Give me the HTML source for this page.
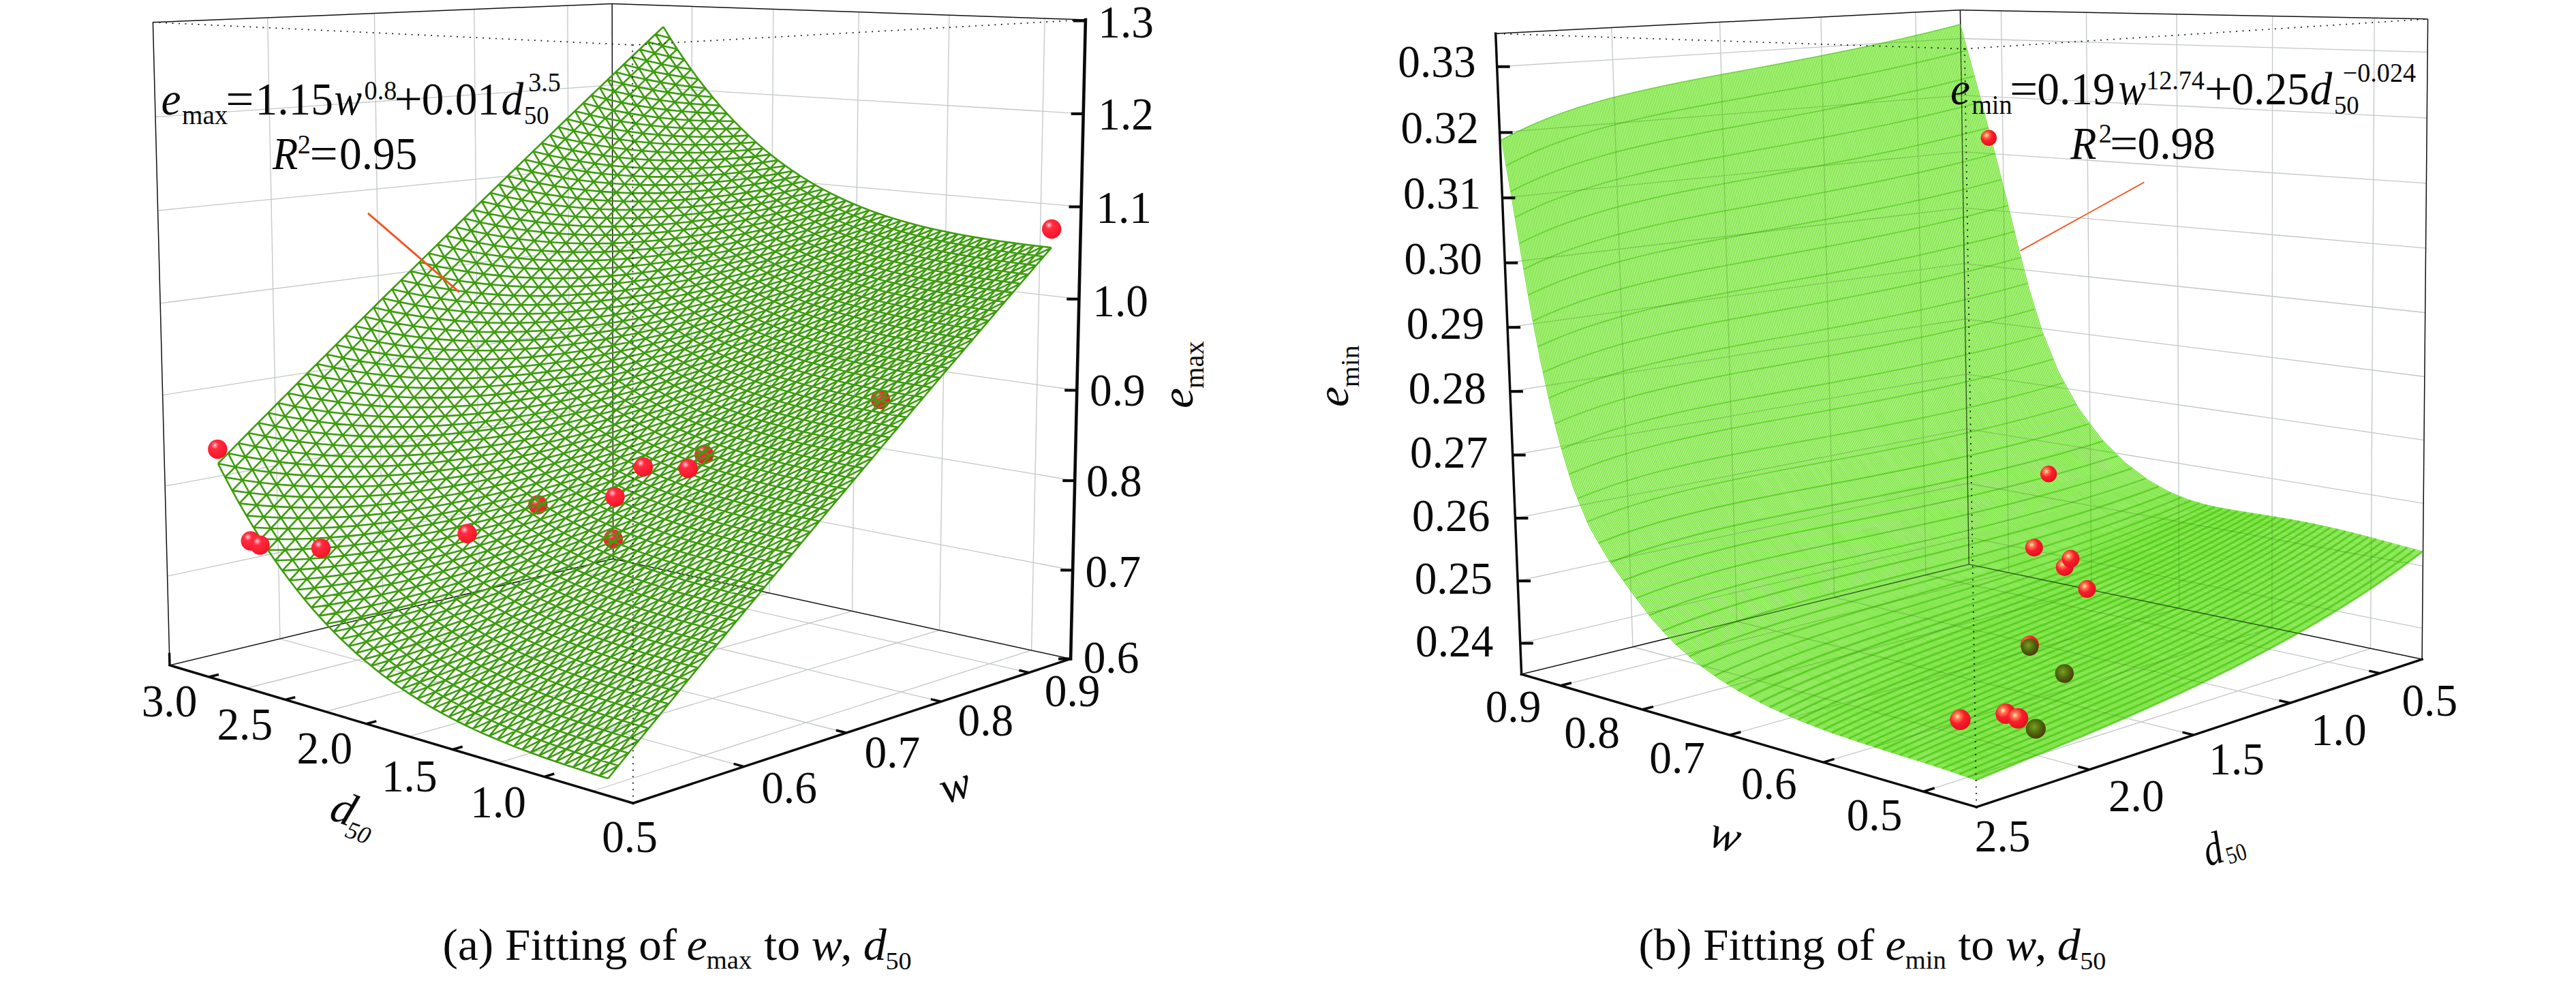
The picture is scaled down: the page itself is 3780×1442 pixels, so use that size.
<!DOCTYPE html>
<html><head><meta charset="utf-8"><title>fig</title>
<style>html,body{margin:0;padding:0;background:#fff}svg{display:block}text{font-family:"Liberation Serif",serif;fill:#0a0a0a}</style></head>
<body><svg width="3780" height="1442" viewBox="0 0 3780 1442">
<rect width="3780" height="1442" fill="#fff"/>
<defs>
<radialGradient id="rb" cx="0.36" cy="0.3" r="0.75"><stop offset="0" stop-color="#ffdfe6"/><stop offset="0.1" stop-color="#ff8896"/><stop offset="0.26" stop-color="#ff2c40"/><stop offset="0.7" stop-color="#fd1c30"/><stop offset="1" stop-color="#ea1424"/></radialGradient>
<radialGradient id="rb2" cx="0.36" cy="0.34" r="0.7"><stop offset="0" stop-color="#fff6c0"/><stop offset="0.2" stop-color="#ff7a50"/><stop offset="0.5" stop-color="#fb1c2c"/><stop offset="1" stop-color="#e0101e"/></radialGradient>
<radialGradient id="db" cx="0.42" cy="0.4" r="0.65"><stop offset="0" stop-color="#7aa020"/><stop offset="0.5" stop-color="#4f6a0e"/><stop offset="1" stop-color="#4a3208"/></radialGradient>
<clipPath id="clipR"><polygon points="2899.9,1144.2 2891.5,1141.2 2883,1138.2 2874.5,1135.3 2866,1132.5 2857.5,1129.6 2849,1126.8 2840.5,1124.1 2831.9,1121.3 2823.4,1118.6 2814.8,1115.9 2806.3,1113.2 2797.7,1110.6 2789.2,1107.9 2780.6,1105.2 2772.1,1102.5 2763.5,1099.8 2755,1097.1 2746.4,1094.4 2737.9,1091.7 2729.4,1088.9 2720.8,1086.1 2712.3,1083.2 2703.9,1080.3 2695.4,1077.4 2686.9,1074.4 2678.5,1071.3 2670.1,1068.2 2661.7,1065 2653.3,1061.8 2644.7,1058.3 2635.9,1054.7 2626.8,1050.9 2617.6,1046.8 2608,1042.5 2598.2,1037.9 2588.2,1033 2577.8,1027.8 2567.1,1022.2 2556.1,1016.1 2544.8,1009.5 2533.2,1002.4 2521.2,994.6 2508.9,986.2 2496.3,976.9 2483.3,966.7 2470.2,955.6 2456.8,943.2 2443.4,929.6 2430,914.6 2416.7,898.3 2403.7,881.1 2390.7,863.4 2377.8,845.6 2365,827.5 2352.5,808.5 2340.6,788.3 2329.6,766.6 2319.5,743.7 2310.4,719.8 2302.1,695.1 2294.6,670 2287.6,644.6 2281.1,619.1 2274.9,593.5 2269,567.8 2263.5,542 2258.2,516.2 2253.1,490.4 2248.3,464.5 2243.6,438.6 2239,412.7 2234.6,386.7 2230.2,360.7 2225.9,334.8 2221.5,308.8 2217.1,282.8 2212.7,256.9 2208.2,230.9 2203.5,205 2203.5,205 2211.2,200.8 2219.1,196.8 2226.9,192.8 2234.9,189 2242.9,185.3 2251,181.8 2259.1,178.4 2267.2,175 2275.4,171.8 2283.7,168.7 2291.9,165.7 2300.3,162.8 2308.6,160 2317,157.3 2325.4,154.7 2333.8,152.2 2342.3,149.7 2350.8,147.4 2359.3,145.1 2367.8,142.8 2376.3,140.7 2384.9,138.6 2393.5,136.5 2402,134.5 2410.6,132.5 2419.2,130.6 2427.8,128.7 2436.4,126.9 2445.1,125.1 2453.7,123.3 2462.3,121.5 2470.9,119.8 2479.6,118.1 2488.2,116.4 2496.9,114.8 2505.5,113.1 2514.2,111.5 2522.8,109.9 2531.5,108.3 2540.2,106.7 2548.8,105.1 2557.5,103.5 2566.2,101.9 2574.8,100.3 2583.5,98.7 2592.1,97.1 2600.8,95.5 2609.5,93.9 2618.1,92.2 2626.8,90.6 2635.4,88.9 2644.1,87.3 2652.7,85.6 2661.4,83.9 2670,82.2 2678.6,80.5 2687.3,78.8 2695.9,77.1 2704.5,75.3 2713.2,73.5 2721.8,71.8 2730.4,70 2739,68.1 2747.6,66.3 2756.3,64.4 2764.9,62.6 2773.5,60.7 2782.1,58.7 2790.6,56.8 2799.2,54.8 2807.8,52.8 2816.4,50.8 2824.9,48.8 2833.5,46.7 2842.1,44.6 2850.6,42.5 2859.1,40.3 2867.7,38.1 2876.2,35.9 2876.2,35.9 2883.4,61.8 2890.5,87.6 2897.5,113.5 2904.5,139.4 2911.4,165.3 2918.3,191.3 2925.1,217.2 2931.7,243.2 2938.4,269.2 2944.9,295.2 2951.3,321.3 2957.7,347.4 2964.1,373.4 2970.7,399.4 2977.6,425.3 2985.1,451.1 2993.2,476.7 3002.2,502 3012,526.6 3022.7,550.3 3034.3,573 3046.8,594.3 3060,614.2 3073.8,632.5 3088,649.2 3102.4,664.2 3116.8,677.6 3131.1,689.4 3145,699.6 3158.3,708.3 3171.1,715.7 3183.1,721.8 3194.2,726.8 3204.6,730.9 3214,734.2 3222.7,736.9 3230.7,739.1 3238.4,741 3246,742.8 3253.7,744.4 3261.4,745.9 3269.1,747.3 3276.9,748.7 3284.6,749.9 3292.4,751.2 3300.1,752.4 3307.9,753.6 3315.6,754.8 3323.4,756 3331.2,757.2 3338.9,758.5 3346.7,759.7 3354.4,761 3362.1,762.4 3369.9,763.7 3377.6,765.2 3385.3,766.6 3393,768.2 3400.7,769.8 3408.4,771.4 3416,773.1 3423.7,774.9 3431.3,776.7 3439,778.5 3446.6,780.4 3454.2,782.3 3461.8,784.3 3469.4,786.2 3477.1,788.2 3484.9,790.3 3492.7,792.4 3500.5,794.5 3508.3,796.6 3516.2,798.7 3524,800.8 3531.8,802.9 3539.6,804.9 3547.3,807 3555,809 3555,809 3547.6,814.7 3540.1,820.3 3532.6,825.8 3525,831.3 3517.4,836.8 3509.8,842.2 3502.1,847.5 3494.4,852.8 3486.7,858.1 3479,863.3 3471.2,868.4 3463.3,873.5 3455.5,878.6 3447.6,883.6 3439.7,888.6 3431.8,893.5 3423.8,898.4 3415.8,903.3 3407.8,908.1 3399.7,912.8 3391.7,917.5 3383.6,922.2 3375.5,926.8 3367.3,931.4 3359.2,936 3351,940.5 3342.8,945 3334.6,949.4 3326.3,953.8 3318.1,958.2 3309.8,962.5 3301.5,966.8 3293.2,971.1 3284.9,975.3 3276.5,979.5 3268.1,983.7 3259.8,987.8 3251.4,992 3243,996 3234.6,1000.1 3226.1,1004.1 3217.7,1008.1 3209.2,1012.1 3200.7,1016 3192.3,1019.9 3183.8,1023.8 3175.3,1027.7 3166.8,1031.6 3158.2,1035.4 3149.7,1039.2 3141.2,1043 3132.6,1046.8 3124.1,1050.5 3115.5,1054.3 3106.9,1058 3098.3,1061.7 3089.8,1065.4 3081.2,1069 3072.6,1072.7 3064,1076.3 3055.3,1080 3046.7,1083.6 3038.1,1087.2 3029.5,1090.8 3020.9,1094.4 3012.2,1098 3003.6,1101.6 2995,1105.1 2986.3,1108.7 2977.7,1112.3 2969.1,1115.8 2960.4,1119.4 2951.8,1122.9 2943.1,1126.5 2934.5,1130 2925.8,1133.6 2917.2,1137.1 2908.5,1140.6 2899.9,1144.2"/></clipPath>
</defs>
<g id="L">
<line x1="410.9" y1="937.1" x2="392.6" y2="25.9" stroke="#c2c7c7" stroke-width="1.3" />
<line x1="1091.7" y1="1124.6" x2="410.9" y2="937.1" stroke="#c2c7c7" stroke-width="1.3" />
<line x1="562" y1="900.8" x2="549.4" y2="19.6" stroke="#c2c7c7" stroke-width="1.3" />
<line x1="1241.8" y1="1075" x2="562" y2="900.8" stroke="#c2c7c7" stroke-width="1.3" />
<line x1="703.6" y1="866.9" x2="695.8" y2="13.6" stroke="#c2c7c7" stroke-width="1.3" />
<line x1="1380.8" y1="1029.2" x2="703.6" y2="866.9" stroke="#c2c7c7" stroke-width="1.3" />
<line x1="836.3" y1="835" x2="832.9" y2="8.1" stroke="#c2c7c7" stroke-width="1.3" />
<line x1="1509.9" y1="986.6" x2="836.3" y2="835" stroke="#c2c7c7" stroke-width="1.3" />
<line x1="1513.6" y1="953.9" x2="1533.1" y2="26.9" stroke="#c2c7c7" stroke-width="1.3" />
<line x1="869.4" y1="1160.5" x2="1513.6" y2="953.9" stroke="#c2c7c7" stroke-width="1.3" />
<line x1="1378.5" y1="924.4" x2="1392.9" y2="22.2" stroke="#c2c7c7" stroke-width="1.3" />
<line x1="730.5" y1="1119.2" x2="1378.5" y2="924.4" stroke="#c2c7c7" stroke-width="1.3" />
<line x1="1250.5" y1="896.4" x2="1260.3" y2="17.7" stroke="#c2c7c7" stroke-width="1.3" />
<line x1="600.1" y1="1080.4" x2="1250.5" y2="896.4" stroke="#c2c7c7" stroke-width="1.3" />
<line x1="1129" y1="869.9" x2="1134.7" y2="13.4" stroke="#c2c7c7" stroke-width="1.3" />
<line x1="477.5" y1="1043.9" x2="1129" y2="869.9" stroke="#c2c7c7" stroke-width="1.3" />
<line x1="1013.5" y1="844.7" x2="1015.5" y2="9.4" stroke="#c2c7c7" stroke-width="1.3" />
<line x1="361.9" y1="1009.5" x2="1013.5" y2="844.7" stroke="#c2c7c7" stroke-width="1.3" />
<line x1="245.6" y1="845.1" x2="899.5" y2="706.4" stroke="#c2c7c7" stroke-width="1.3" />
<line x1="899.5" y1="706.4" x2="1574.1" y2="836.4" stroke="#c2c7c7" stroke-width="1.3" />
<line x1="242.1" y1="713" x2="899.3" y2="592.1" stroke="#c2c7c7" stroke-width="1.3" />
<line x1="899.3" y1="592.1" x2="1577.2" y2="705.1" stroke="#c2c7c7" stroke-width="1.3" />
<line x1="238.6" y1="579.6" x2="899.1" y2="476.7" stroke="#c2c7c7" stroke-width="1.3" />
<line x1="899.1" y1="476.7" x2="1580.2" y2="572.5" stroke="#c2c7c7" stroke-width="1.3" />
<line x1="235.1" y1="444.9" x2="898.9" y2="360.4" stroke="#c2c7c7" stroke-width="1.3" />
<line x1="898.9" y1="360.4" x2="1583.3" y2="438.7" stroke="#c2c7c7" stroke-width="1.3" />
<line x1="231.6" y1="308.9" x2="898.7" y2="243.1" stroke="#c2c7c7" stroke-width="1.3" />
<line x1="898.7" y1="243.1" x2="1586.5" y2="303.4" stroke="#c2c7c7" stroke-width="1.3" />
<line x1="228" y1="171.5" x2="898.4" y2="124.8" stroke="#c2c7c7" stroke-width="1.3" />
<line x1="898.4" y1="124.8" x2="1589.7" y2="166.9" stroke="#c2c7c7" stroke-width="1.3" />
<line x1="249" y1="975.9" x2="899.7" y2="819.8" stroke="#111" stroke-width="1.5" />
<line x1="899.7" y1="819.8" x2="1571.1" y2="966.5" stroke="#111" stroke-width="1.5" />
<line x1="899.7" y1="819.8" x2="898.2" y2="5.4" stroke="#111" stroke-width="1.5" />
<line x1="224.4" y1="32.7" x2="898.2" y2="5.4" stroke="#111" stroke-width="1.5" />
<line x1="898.2" y1="5.4" x2="1592.9" y2="29" stroke="#111" stroke-width="1.5" />
<line x1="249" y1="975.9" x2="224.4" y2="32.7" stroke="#111" stroke-width="1.5" />
</g>
<circle cx="789.3" cy="740.5" r="14.2" fill="url(#rb)"/>
<circle cx="899.8" cy="790.7" r="14.2" fill="url(#rb)"/>
<circle cx="1033.3" cy="666.7" r="14.2" fill="url(#rb)"/>
<circle cx="1292" cy="586" r="14.2" fill="url(#rb)"/>
<g fill="none" stroke="#3e9c0e" stroke-width="2.6" stroke-linejoin="round">
<path d="M892.3 1141.9 907.4 1123.3 922.3 1104.8 937.2 1086.5 951.9 1068.4 966.6 1050.4 981.2 1032.5 995.6 1014.8 1010 997.2 1024.3 979.7 1038.5 962.4 1052.7 945.2 1066.7 928.2 1080.7 911.2 1094.5 894.4 1108.3 877.8 1122 861.2 1135.6 844.8 1149.2 828.5 1162.6 812.3 1176 796.2 1189.3 780.3 1202.5 764.4 1215.6 748.7 1228.7 733.1 1241.7 717.6 1254.6 702.2 1267.4 686.9 1280.1 671.8 1292.8 656.7 1305.4 641.7 1317.9 626.9 1330.4 612.1 1342.8 597.5 1355.1 583 1367.3 568.5 1379.5 554.2 1391.6 539.9 1403.6 525.8 1415.6 511.8 1427.5 497.8 1439.3 483.9 1451.1 470.2 1462.7 456.5 1474.4 442.9 1485.9 429.4 1497.4 416 1508.9 402.7 1520.2 389.5 1531.5 376.4 1542.8 363.3M879.4 1137.9 894.4 1119.3 909.4 1101 924.2 1082.7 939 1064.7 953.6 1046.7 968.2 1028.9 982.7 1011.2 997.1 993.7 1011.4 976.3 1025.6 959.1 1039.7 941.9 1053.8 924.9 1067.7 908 1081.6 891.3 1095.4 874.7 1109.1 858.2 1122.7 841.8 1136.2 825.5 1149.7 809.4 1163 793.4 1176.3 777.5 1189.6 761.7 1202.7 746 1215.7 730.5 1228.7 715 1241.6 699.7 1254.5 684.5 1267.2 669.4 1279.9 654.3 1292.5 639.4 1305 624.6 1317.5 609.9 1329.9 595.3 1342.2 580.8 1354.4 566.4 1366.6 552.1 1378.7 537.9 1390.7 523.8 1402.7 509.8 1414.6 495.9 1426.4 482.1 1438.2 468.4 1449.9 454.8 1461.5 441.2 1473.1 427.8 1484.6 414.4 1496 401.1 1507.4 387.9 1518.7 374.8 1530 361.8M866.5 1133.8 881.6 1115.4 896.5 1097.1 911.4 1078.9 926.1 1060.9 940.8 1043 955.3 1025.3 969.8 1007.7 984.2 990.2 998.5 972.9 1012.7 955.6 1026.8 938.6 1040.9 921.6 1054.8 904.8 1068.7 888.1 1082.5 871.6 1096.2 855.1 1109.8 838.8 1123.3 822.6 1136.8 806.5 1150.2 790.6 1163.5 774.7 1176.7 759 1189.8 743.3 1202.9 727.8 1215.9 712.4 1228.8 697.2 1241.6 682 1254.4 666.9 1267 651.9 1279.7 637.1 1292.2 622.3 1304.6 607.7 1317 593.1 1329.4 578.7 1341.6 564.3 1353.8 550.1 1365.9 535.9 1377.9 521.8 1389.9 507.9 1401.8 494 1413.6 480.2 1425.4 466.6 1437.1 453 1448.7 439.5 1460.3 426.1 1471.8 412.7 1483.3 399.5 1494.6 386.3 1506 373.3 1517.2 360.3M853.8 1129.8 868.8 1111.4 883.7 1093.1 898.6 1075 913.3 1057.1 928 1039.3 942.5 1021.6 957 1004 971.4 986.6 985.7 969.4 999.9 952.2 1014 935.2 1028.1 918.3 1042 901.5 1055.9 884.9 1069.7 868.4 1083.4 852 1097 835.8 1110.5 819.6 1124 803.6 1137.4 787.7 1150.7 771.9 1163.9 756.2 1177 740.6 1190.1 725.2 1203.1 709.8 1216 694.6 1228.8 679.4 1241.6 664.4 1254.3 649.5 1266.9 634.7 1279.4 620 1291.9 605.4 1304.3 590.9 1316.6 576.4 1328.8 562.1 1341 547.9 1353.1 533.8 1365.2 519.8 1377.2 505.9 1389.1 492.1 1400.9 478.3 1412.7 464.7 1424.4 451.1 1436 437.7 1447.6 424.3 1459.1 411 1470.6 397.8 1482 384.7 1493.3 371.7 1504.5 358.7M841 1125.6 856.1 1107.3 871 1089.1 885.8 1071.1 900.6 1053.2 915.2 1035.5 929.8 1017.8 944.3 1000.4 958.6 983 972.9 965.8 987.2 948.7 1001.3 931.8 1015.3 914.9 1029.3 898.2 1043.1 881.7 1056.9 865.2 1070.6 848.9 1084.3 832.7 1097.8 816.6 1111.2 800.6 1124.6 784.7 1137.9 769 1151.1 753.3 1164.3 737.8 1177.4 722.4 1190.3 707.1 1203.3 691.9 1216.1 676.8 1228.9 661.9 1241.5 647 1254.2 632.2 1266.7 617.6 1279.2 603 1291.6 588.5 1303.9 574.2 1316.2 559.9 1328.3 545.7 1340.5 531.7 1352.5 517.7 1364.5 503.8 1376.4 490 1388.3 476.3 1400 462.7 1411.7 449.2 1423.4 435.8 1435 422.5 1446.5 409.2 1457.9 396.1 1469.3 383 1480.7 370 1491.9 357.1M828.4 1121.5 843.4 1103.2 858.3 1085.1 873.2 1067.1 887.9 1049.3 902.6 1031.6 917.1 1014.1 931.6 996.6 946 979.3 960.3 962.2 974.5 945.2 988.6 928.3 1002.7 911.5 1016.6 894.9 1030.5 878.3 1044.3 861.9 1058 845.7 1071.6 829.5 1085.1 813.5 1098.6 797.5 1112 781.7 1125.3 766 1138.5 750.4 1151.6 735 1164.7 719.6 1177.7 704.4 1190.6 689.2 1203.4 674.2 1216.2 659.3 1228.9 644.4 1241.5 629.7 1254.1 615.1 1266.5 600.6 1278.9 586.2 1291.3 571.8 1303.5 557.6 1315.7 543.5 1327.8 529.5 1339.9 515.5 1351.9 501.7 1363.8 488 1375.7 474.3 1387.4 460.7 1399.2 447.3 1410.8 433.9 1422.4 420.6 1433.9 407.4 1445.4 394.3 1456.8 381.2 1468.1 368.3 1479.4 355.4M815.8 1117.2 830.8 1099 845.8 1081 860.6 1063.1 875.3 1045.3 890 1027.7 904.5 1010.2 919 992.8 933.4 975.6 947.7 958.5 961.9 941.5 976 924.7 990.1 908 1004 891.4 1017.9 874.9 1031.7 858.6 1045.4 842.4 1059 826.3 1072.5 810.3 1086 794.4 1099.4 778.7 1112.7 763 1125.9 747.5 1139 732.1 1152.1 716.8 1165.1 701.6 1178 686.5 1190.9 671.5 1203.6 656.6 1216.3 641.8 1228.9 627.1 1241.5 612.6 1254 598.1 1266.4 583.7 1278.7 569.4 1291 555.3 1303.2 541.2 1315.3 527.2 1327.4 513.3 1339.3 499.5 1351.3 485.8 1363.1 472.2 1374.9 458.7 1386.6 445.2 1398.3 431.9 1409.9 418.6 1421.4 405.5 1432.9 392.4 1444.3 379.4 1455.6 366.5 1466.9 353.7M803.3 1112.9 818.3 1094.8 833.3 1076.8 848.1 1059 862.8 1041.3 877.5 1023.7 892 1006.3 906.5 989 920.9 971.8 935.2 954.8 949.4 937.9 963.5 921.1 977.5 904.4 991.5 887.9 1005.3 871.5 1019.1 855.2 1032.8 839 1046.5 823 1060 807 1073.5 791.2 1086.8 775.5 1100.1 759.9 1113.4 744.4 1126.5 729.1 1139.6 713.8 1152.6 698.7 1165.5 683.6 1178.3 668.7 1191.1 653.8 1203.8 639.1 1216.4 624.5 1229 609.9 1241.5 595.5 1253.9 581.2 1266.2 567 1278.5 552.8 1290.7 538.8 1302.8 524.8 1314.9 511 1326.9 497.2 1338.8 483.6 1350.7 470 1362.5 456.5 1374.2 443.1 1385.8 429.8 1397.4 416.6 1409 403.5 1420.5 390.4 1431.9 377.5 1443.2 364.6 1454.5 351.8M790.9 1108.5 805.9 1090.5 820.8 1072.5 835.6 1054.8 850.4 1037.1 865 1019.6 879.6 1002.2 894 985 908.4 967.9 922.7 950.9 936.9 934.1 951 917.3 965.1 900.7 979 884.3 992.9 867.9 1006.7 851.7 1020.4 835.6 1034 819.6 1047.5 803.7 1061 787.9 1074.4 772.3 1087.7 756.7 1100.9 741.3 1114.1 726 1127.1 710.8 1140.1 695.7 1153 680.7 1165.9 665.8 1178.7 651 1191.4 636.3 1204 621.7 1216.5 607.2 1229 592.9 1241.4 578.6 1253.8 564.4 1266.1 550.3 1278.3 536.3 1290.4 522.4 1302.5 508.6 1314.5 494.9 1326.4 481.3 1338.3 467.7 1350.1 454.3 1361.8 440.9 1373.5 427.7 1385.1 414.5 1396.6 401.4 1408.1 388.4 1419.5 375.5 1430.8 362.7 1442.1 349.9M778.5 1104 793.5 1086 808.5 1068.2 823.3 1050.5 838 1032.9 852.6 1015.4 867.2 998.1 881.7 981 896 963.9 910.3 947 924.5 930.2 938.6 913.5 952.7 897 966.6 880.6 980.5 864.3 994.3 848.1 1008 832 1021.6 816.1 1035.1 800.3 1048.6 784.5 1062 768.9 1075.3 753.5 1088.5 738.1 1101.7 722.8 1114.7 707.6 1127.7 692.6 1140.7 677.6 1153.5 662.8 1166.3 648.1 1179 633.4 1191.6 618.9 1204.2 604.4 1216.7 590.1 1229.1 575.9 1241.4 561.7 1253.7 547.7 1265.9 533.7 1278 519.9 1290.1 506.1 1302.1 492.4 1314 478.9 1325.9 465.4 1337.7 452 1349.5 438.7 1361.1 425.4 1372.7 412.3 1384.3 399.2 1395.8 386.3 1407.2 373.4 1418.5 360.6 1429.8 347.9M766.3 1099.4 781.3 1081.5 796.2 1063.7 811 1046.1 825.7 1028.6 840.3 1011.2 854.9 993.9 869.3 976.8 883.7 959.8 898 943 912.2 926.2 926.3 909.6 940.3 893.1 954.3 876.8 968.2 860.5 981.9 844.4 995.6 828.4 1009.3 812.5 1022.8 796.7 1036.3 781.1 1049.7 765.5 1063 750.1 1076.2 734.7 1089.3 719.5 1102.4 704.4 1115.4 689.4 1128.3 674.5 1141.2 659.7 1154 645 1166.7 630.4 1179.3 615.9 1191.9 601.5 1204.4 587.3 1216.8 573.1 1229.1 559 1241.4 545 1253.6 531 1265.8 517.2 1277.8 503.5 1289.8 489.9 1301.8 476.3 1313.6 462.9 1325.5 449.5 1337.2 436.3 1348.9 423.1 1360.5 410 1372 397 1383.5 384 1394.9 371.2 1406.3 358.4 1417.6 345.7M754 1094.7 769 1076.9 783.9 1059.1 798.7 1041.6 813.5 1024.1 828.1 1006.8 842.6 989.6 857.1 972.5 871.5 955.6 885.7 938.8 899.9 922.1 914.1 905.6 928.1 889.1 942 872.8 955.9 856.6 969.7 840.6 983.4 824.6 997 808.8 1010.5 793.1 1024 777.5 1037.4 762 1050.7 746.6 1063.9 731.3 1077.1 716.1 1090.2 701.1 1103.2 686.1 1116.1 671.3 1128.9 656.5 1141.7 641.9 1154.4 627.3 1167.1 612.9 1179.6 598.5 1192.1 584.3 1204.5 570.1 1216.9 556.1 1229.2 542.1 1241.4 528.2 1253.5 514.5 1265.6 500.8 1277.6 487.2 1289.6 473.7 1301.4 460.3 1313.2 447 1325 433.8 1336.7 420.6 1348.3 407.5 1359.8 394.6 1371.3 381.7 1382.8 368.9 1394.1 356.1 1405.4 343.5M741.9 1089.9 756.9 1072.1 771.8 1054.4 786.6 1036.9 801.3 1019.5 815.9 1002.3 830.5 985.1 844.9 968.1 859.3 951.3 873.6 934.5 887.8 917.9 901.9 901.4 915.9 885 929.8 868.8 943.7 852.7 957.5 836.6 971.2 820.7 984.8 805 998.4 789.3 1011.8 773.7 1025.2 758.3 1038.5 743 1051.7 727.7 1064.9 712.6 1078 697.6 1091 682.7 1103.9 667.9 1116.8 653.2 1129.5 638.6 1142.2 624.1 1154.9 609.7 1167.4 595.4 1179.9 581.2 1192.4 567.1 1204.7 553.1 1217 539.1 1229.2 525.3 1241.4 511.6 1253.4 498 1265.5 484.4 1277.4 471 1289.3 457.6 1301.1 444.3 1312.9 431.1 1324.5 418 1336.2 405 1347.7 392.1 1359.2 379.2 1370.7 366.4 1382 353.7 1393.3 341.1M729.8 1084.9 744.8 1067.2 759.7 1049.6 774.5 1032.1 789.2 1014.8 803.8 997.6 818.3 980.5 832.8 963.6 847.2 946.8 861.4 930.1 875.6 913.6 889.7 897.1 903.8 880.8 917.7 864.6 931.6 848.5 945.4 832.6 959.1 816.7 972.7 801 986.2 785.4 999.7 769.9 1013.1 754.5 1026.4 739.2 1039.6 724 1052.8 708.9 1065.8 694 1078.8 679.1 1091.8 664.4 1104.6 649.7 1117.4 635.2 1130.1 620.7 1142.8 606.4 1155.3 592.1 1167.8 577.9 1180.2 563.9 1192.6 549.9 1204.9 536 1217.1 522.3 1229.3 508.6 1241.3 495 1253.4 481.5 1265.3 468.1 1277.2 454.7 1289 441.5 1300.8 428.3 1312.5 415.3 1324.1 402.3 1335.7 389.4 1347.2 376.6 1358.6 363.9 1370 351.2 1381.3 338.6M717.8 1079.8 732.7 1062.2 747.6 1044.6 762.4 1027.2 777.1 1009.9 791.8 992.8 806.3 975.8 820.8 958.9 835.1 942.2 849.4 925.6 863.6 909 877.7 892.7 891.7 876.4 905.7 860.3 919.5 844.2 933.3 828.3 947 812.6 960.6 796.9 974.2 781.3 987.6 765.9 1001 750.5 1014.3 735.3 1027.5 720.2 1040.7 705.1 1053.8 690.2 1066.8 675.4 1079.7 660.7 1092.6 646.1 1105.3 631.6 1118.1 617.2 1130.7 602.9 1143.3 588.7 1155.8 574.6 1168.2 560.5 1180.6 546.6 1192.8 532.8 1205.1 519.1 1217.2 505.4 1229.3 491.9 1241.3 478.4 1253.3 465 1265.2 451.7 1277 438.5 1288.8 425.4 1300.5 412.4 1312.1 399.5 1323.7 386.6 1335.2 373.8 1346.6 361.1 1358 348.5 1369.3 336M705.8 1074.6 720.8 1056.9 735.7 1039.5 750.5 1022.1 765.2 1004.9 779.8 987.9 794.3 970.9 808.8 954.1 823.1 937.4 837.4 920.8 851.6 904.4 865.7 888.1 879.7 871.9 893.7 855.8 907.5 839.8 921.3 824 935 808.2 948.6 792.6 962.2 777.1 975.6 761.7 989 746.4 1002.3 731.2 1015.5 716.1 1028.7 701.2 1041.8 686.3 1054.8 671.5 1067.7 656.9 1080.6 642.3 1093.3 627.9 1106.1 613.5 1118.7 599.3 1131.3 585.1 1143.8 571 1156.2 557.1 1168.6 543.2 1180.9 529.4 1193.1 515.7 1205.2 502.1 1217.3 488.6 1229.4 475.2 1241.3 461.8 1253.2 448.6 1265 435.4 1276.8 422.4 1288.5 409.4 1300.1 396.5 1311.7 383.7 1323.2 370.9 1334.7 358.3 1346.1 345.7 1357.4 333.2M693.9 1069.1 708.9 1051.6 723.8 1034.2 738.6 1016.9 753.3 999.7 767.9 982.7 782.4 965.8 796.8 949.1 811.2 932.4 825.5 915.9 839.7 899.6 853.8 883.3 867.8 867.1 881.7 851.1 895.6 835.2 909.4 819.4 923.1 803.7 936.7 788.2 950.2 772.7 963.7 757.4 977.1 742.1 990.4 727 1003.6 712 1016.7 697 1029.8 682.2 1042.8 667.5 1055.8 652.9 1068.6 638.4 1081.4 624 1094.1 609.7 1106.8 595.5 1119.3 581.3 1131.8 567.3 1144.3 553.4 1156.6 539.6 1168.9 525.8 1181.2 512.2 1193.3 498.6 1205.4 485.2 1217.4 471.8 1229.4 458.5 1241.3 445.3 1253.1 432.2 1264.9 419.1 1276.6 406.2 1288.2 393.3 1299.8 380.5 1311.3 367.8 1322.8 355.2 1334.2 342.7 1345.5 330.2M682.1 1063.5 697.1 1046 711.9 1028.7 726.7 1011.4 741.4 994.4 756 977.4 770.5 960.6 785 943.9 799.3 927.3 813.6 910.9 827.8 894.5 841.9 878.3 855.9 862.2 869.8 846.3 883.7 830.4 897.5 814.7 911.2 799 924.8 783.5 938.3 768.1 951.8 752.8 965.2 737.6 978.5 722.6 991.7 707.6 1004.9 692.7 1017.9 678 1031 663.3 1043.9 648.7 1056.7 634.3 1069.5 619.9 1082.3 605.6 1094.9 591.5 1107.5 577.4 1120 563.4 1132.4 549.6 1144.8 535.8 1157.1 522.1 1169.3 508.5 1181.5 495 1193.6 481.5 1205.6 468.2 1217.6 454.9 1229.5 441.8 1241.3 428.7 1253.1 415.7 1264.8 402.8 1276.4 390 1288 377.2 1299.5 364.6 1311 352 1322.4 339.5 1333.7 327.1M670.3 1057.7 685.3 1040.2 700.2 1023 714.9 1005.8 729.6 988.8 744.2 971.9 758.8 955.1 773.2 938.5 787.5 922 801.8 905.6 816 889.3 830.1 873.2 844.1 857.1 858 841.2 871.9 825.4 885.7 809.7 899.4 794.2 913 778.7 926.5 763.4 940 748.1 953.4 733 966.7 718 979.9 703 993 688.2 1006.1 673.5 1019.1 658.9 1032.1 644.4 1044.9 630 1057.7 615.7 1070.4 601.4 1083.1 587.3 1095.7 573.3 1108.2 559.4 1120.6 545.5 1133 531.8 1145.3 518.1 1157.5 504.6 1169.7 491.1 1181.8 477.7 1193.8 464.4 1205.8 451.2 1217.7 438.1 1229.5 425.1 1241.3 412.1 1253 399.3 1264.6 386.5 1276.2 373.8 1287.8 361.1 1299.2 348.6 1310.6 336.2 1322 323.8M658.6 1051.6 673.6 1034.3 688.4 1017.1 703.2 1000 717.9 983 732.5 966.2 747 949.5 761.5 932.9 775.8 916.5 790.1 900.1 804.2 883.9 818.3 867.8 832.3 851.8 846.3 836 860.1 820.2 873.9 804.6 887.6 789.1 901.2 773.7 914.8 758.4 928.2 743.2 941.6 728.1 954.9 713.1 968.1 698.3 981.3 683.5 994.4 668.8 1007.4 654.3 1020.3 639.8 1033.2 625.4 1046 611.2 1058.7 597 1071.3 582.9 1083.9 569 1096.4 555.1 1108.9 541.3 1121.2 527.6 1133.5 514 1145.8 500.5 1157.9 487 1170 473.7 1182.1 460.5 1194 447.3 1205.9 434.2 1217.8 421.2 1229.6 408.3 1241.3 395.5 1252.9 382.7 1264.5 370.1 1276.1 357.5 1287.5 345 1298.9 332.6 1310.3 320.2M647 1045.4 661.9 1028.1 676.8 1010.9 691.5 993.9 706.2 977 720.8 960.2 735.3 943.6 749.8 927.1 764.1 910.7 778.4 894.4 792.6 878.3 806.6 862.2 820.7 846.3 834.6 830.5 848.4 814.8 862.2 799.3 875.9 783.8 889.5 768.4 903.1 753.2 916.5 738.1 929.9 723 943.2 708.1 956.4 693.3 969.6 678.6 982.7 664 995.7 649.4 1008.6 635 1021.5 620.7 1034.3 606.5 1047 592.4 1059.6 578.4 1072.2 564.4 1084.7 550.6 1097.2 536.8 1109.5 523.2 1121.8 509.6 1134.1 496.2 1146.3 482.8 1158.4 469.5 1170.4 456.3 1182.4 443.2 1194.3 430.1 1206.1 417.2 1217.9 404.3 1229.6 391.5 1241.3 378.8 1252.9 366.2 1264.4 353.7 1275.9 341.2 1287.3 328.8 1298.6 316.5M635.4 1038.9 650.3 1021.7 665.2 1004.6 679.9 987.6 694.6 970.8 709.2 954.1 723.7 937.5 738.2 921 752.5 904.7 766.8 888.5 780.9 872.4 795 856.4 809 840.6 823 824.8 836.8 809.2 850.6 793.7 864.3 778.3 877.9 763 891.4 747.8 904.9 732.7 918.3 717.7 931.6 702.8 944.8 688.1 957.9 673.4 971 658.9 984 644.4 997 630 1009.8 615.8 1022.6 601.6 1035.3 587.5 1048 573.5 1060.6 559.7 1073.1 545.9 1085.5 532.2 1097.9 518.6 1110.2 505 1122.5 491.6 1134.6 478.3 1146.7 465 1158.8 451.9 1170.8 438.8 1182.7 425.8 1194.5 412.9 1206.3 400.1 1218 387.3 1229.7 374.7 1241.3 362.1 1252.8 349.6 1264.3 337.2 1275.7 324.8 1287.1 312.6M623.8 1032.1 638.8 1015 653.6 998 668.4 981.1 683.1 964.3 697.7 947.7 712.2 931.1 726.6 914.7 740.9 898.5 755.2 882.3 769.4 866.3 783.4 850.4 797.5 834.6 811.4 818.9 825.2 803.3 839 787.8 852.7 772.5 866.3 757.3 879.8 742.1 893.3 727.1 906.7 712.2 920 697.3 933.2 682.6 946.4 668 959.4 653.5 972.5 639.1 985.4 624.8 998.3 610.6 1011 596.4 1023.8 582.4 1036.4 568.5 1049 554.6 1061.5 540.9 1074 527.3 1086.3 513.7 1098.6 500.2 1110.9 486.8 1123.1 473.5 1135.2 460.3 1147.2 447.2 1159.2 434.2 1171.1 421.2 1183 408.4 1194.8 395.6 1206.5 382.9 1218.1 370.3 1229.7 357.7 1241.3 345.3 1252.8 332.9 1264.2 320.6 1275.5 308.4M612.4 1025.1 627.3 1008 642.2 991.1 656.9 974.3 671.6 957.6 686.2 941 700.7 924.5 715.1 908.2 729.4 892 743.7 875.9 757.8 859.9 771.9 844.1 785.9 828.3 799.9 812.7 813.7 797.2 827.5 781.8 841.2 766.5 854.8 751.3 868.3 736.2 881.8 721.2 895.1 706.3 908.4 691.6 921.7 676.9 934.8 662.4 947.9 647.9 960.9 633.5 973.9 619.3 986.7 605.1 999.5 591 1012.2 577.1 1024.9 563.2 1037.5 549.4 1050 535.7 1062.4 522.1 1074.8 508.6 1087.1 495.1 1099.4 481.8 1111.6 468.6 1123.7 455.4 1135.7 442.3 1147.7 429.3 1159.6 416.4 1171.5 403.6 1183.3 390.9 1195 378.2 1206.7 365.6 1218.3 353.1 1229.8 340.7 1241.3 328.4 1252.7 316.1 1264.1 303.9M601 1017.9 615.9 1000.8 630.7 983.9 645.5 967.2 660.2 950.5 674.7 934 689.2 917.6 703.6 901.4 718 885.2 732.2 869.2 746.4 853.3 760.5 837.5 774.5 821.8 788.4 806.2 802.2 790.7 816 775.4 829.7 760.2 843.3 745 856.8 730 870.3 715.1 883.7 700.3 897 685.6 910.2 670.9 923.4 656.4 936.4 642 949.5 627.7 962.4 613.5 975.3 599.4 988.1 585.4 1000.8 571.4 1013.4 557.6 1026 543.9 1038.5 530.2 1051 516.7 1063.4 503.2 1075.7 489.8 1087.9 476.5 1100.1 463.3 1112.2 450.2 1124.3 437.2 1136.3 424.2 1148.2 411.4 1160 398.6 1171.8 385.9 1183.6 373.3 1195.2 360.7 1206.8 348.3 1218.4 335.9 1229.9 323.6 1241.3 311.4 1252.7 299.2M589.6 1010.3 604.5 993.3 619.4 976.5 634.1 959.8 648.8 943.2 663.3 926.8 677.8 910.5 692.3 894.2 706.6 878.2 720.8 862.2 735 846.3 749.1 830.6 763.1 815 777 799.4 790.8 784 804.6 768.8 818.3 753.6 831.9 738.5 845.4 723.5 858.9 708.7 872.3 693.9 885.6 679.2 898.8 664.7 911.9 650.2 925 635.9 938 621.6 951 607.4 963.8 593.4 976.6 579.4 989.4 565.5 1002 551.7 1014.6 538.1 1027.1 524.5 1039.6 510.9 1052 497.5 1064.3 484.2 1076.5 470.9 1088.7 457.8 1100.8 444.7 1112.9 431.7 1124.9 418.8 1136.8 406 1148.7 393.3 1160.4 380.6 1172.2 368 1183.9 355.5 1195.5 343.1 1207 330.8 1218.5 318.5 1229.9 306.4 1241.3 294.3M578.3 1002.4 593.2 985.5 608 968.8 622.8 952.1 637.4 935.6 652 919.2 666.5 903 680.9 886.8 695.2 870.8 709.5 854.9 723.6 839.1 737.7 823.4 751.7 807.8 765.6 792.4 779.5 777 793.2 761.8 806.9 746.7 820.5 731.7 834.1 716.7 847.5 701.9 860.9 687.2 874.2 672.6 887.4 658.1 900.6 643.7 913.7 629.4 926.7 615.2 939.6 601.1 952.5 587.1 965.3 573.2 978 559.3 990.7 545.6 1003.3 532 1015.8 518.4 1028.2 504.9 1040.6 491.6 1052.9 478.3 1065.2 465.1 1077.4 452 1089.5 438.9 1101.5 426 1113.5 413.1 1125.5 400.4 1137.3 387.7 1149.1 375.1 1160.9 362.5 1172.5 350.1 1184.2 337.7 1195.7 325.4 1207.2 313.2 1218.6 301.1 1230 289M567 994.2 581.9 977.4 596.8 960.7 611.5 944.1 626.2 927.7 640.7 911.4 655.2 895.2 669.6 879.1 684 863.1 698.2 847.3 712.3 831.5 726.4 815.9 740.4 800.4 754.3 785 768.2 769.7 781.9 754.6 795.6 739.5 809.2 724.5 822.8 709.7 836.2 694.9 849.6 680.3 862.9 665.7 876.1 651.3 889.3 636.9 902.4 622.6 915.4 608.5 928.3 594.4 941.2 580.5 954 566.6 966.7 552.8 979.4 539.1 992 525.5 1004.5 512 1016.9 498.6 1029.3 485.3 1041.6 472.1 1053.9 458.9 1066.1 445.9 1078.2 432.9 1090.3 420 1102.2 407.2 1114.2 394.4 1126 381.8 1137.8 369.2 1149.6 356.7 1161.3 344.3 1172.9 332 1184.4 319.7 1195.9 307.6 1207.4 295.5 1218.8 283.4M555.8 985.7 570.7 968.9 585.6 952.3 600.3 935.8 614.9 919.4 629.5 903.2 644 887 658.4 871 672.7 855.1 687 839.3 701.1 823.7 715.2 808.1 729.2 792.6 743.1 777.3 756.9 762.1 770.7 747 784.4 732 798 717 811.5 702.2 825 687.5 838.3 672.9 851.6 658.5 864.9 644.1 878 629.8 891.1 615.6 904.1 601.5 917.1 587.5 929.9 573.5 942.7 559.7 955.5 546 968.1 532.4 980.7 518.8 993.2 505.4 1005.7 492 1018.1 478.7 1030.4 465.5 1042.6 452.4 1054.8 439.4 1067 426.5 1079 413.6 1091 400.9 1103 388.2 1114.8 375.6 1126.6 363.1 1138.4 350.6 1150.1 338.2 1161.7 326 1173.2 313.8 1184.7 301.6 1196.2 289.6 1207.6 277.6M544.7 976.8 559.6 960.1 574.4 943.6 589.1 927.1 603.8 910.8 618.3 894.6 632.8 878.6 647.2 862.6 661.5 846.8 675.8 831 689.9 815.4 704 799.9 718 784.5 731.9 769.3 745.7 754.1 759.5 739 773.2 724.1 786.8 709.2 800.3 694.5 813.8 679.8 827.1 665.3 840.4 650.9 853.7 636.5 866.8 622.3 879.9 608.1 892.9 594.1 905.9 580.1 918.7 566.3 931.5 552.5 944.3 538.8 956.9 525.2 969.5 511.8 982 498.4 994.5 485 1006.9 471.8 1019.2 458.7 1031.5 445.6 1043.7 432.6 1055.8 419.8 1067.8 407 1079.8 394.2 1091.8 381.6 1103.7 369 1115.5 356.6 1127.2 344.2 1138.9 331.8 1150.5 319.6 1162.1 307.4 1173.6 295.3 1185 283.3 1196.4 271.4M533.6 967.6 548.5 951 563.3 934.5 578 918.1 592.7 901.8 607.2 885.7 621.7 869.7 636.1 853.8 650.4 838 664.6 822.4 678.8 806.8 692.9 791.4 706.8 776.1 720.8 760.9 734.6 745.7 748.3 730.7 762 715.9 775.6 701.1 789.1 686.4 802.6 671.8 816 657.3 829.3 642.9 842.5 628.6 855.7 614.4 868.8 600.4 881.8 586.4 894.7 572.5 907.6 558.7 920.4 544.9 933.1 531.3 945.8 517.8 958.4 504.3 970.9 491 983.3 477.7 995.7 464.5 1008.1 451.5 1020.3 438.4 1032.5 425.5 1044.7 412.7 1056.7 399.9 1068.7 387.3 1080.7 374.7 1092.5 362.2 1104.3 349.7 1116.1 337.4 1127.8 325.1 1139.4 312.9 1151 300.8 1162.5 288.7 1173.9 276.8 1185.3 264.9M522.5 958 537.4 941.4 552.2 925 566.9 908.7 581.6 892.5 596.1 876.4 610.6 860.5 625 844.7 639.3 828.9 653.5 813.4 667.7 797.9 681.8 782.5 695.7 767.2 709.7 752.1 723.5 737 737.2 722.1 750.9 707.2 764.5 692.5 778 677.9 791.5 663.4 804.9 648.9 818.2 634.6 831.4 620.4 844.6 606.2 857.6 592.2 870.7 578.3 883.6 564.4 896.5 550.7 909.3 537 922 523.4 934.7 510 947.3 496.6 959.8 483.3 972.3 470 984.7 456.9 997 443.9 1009.2 430.9 1021.4 418 1033.6 405.3 1045.6 392.5 1057.6 379.9 1069.6 367.4 1081.5 354.9 1093.3 342.5 1105 330.2 1116.7 318 1128.4 305.8 1139.9 293.8 1151.4 281.8 1162.9 269.8 1174.3 258M511.5 947.9 526.4 931.5 541.2 915.1 555.9 898.9 570.6 882.7 585.1 866.8 599.6 850.9 614 835.1 628.3 819.5 642.5 803.9 656.6 788.5 670.7 773.2 684.7 758 698.6 742.9 712.4 727.9 726.2 713 739.9 698.3 753.5 683.6 767 669 780.4 654.5 793.8 640.2 807.1 625.9 820.4 611.7 833.5 597.7 846.6 583.7 859.6 569.8 872.6 556 885.4 542.3 898.2 528.7 911 515.2 923.6 501.7 936.2 488.4 948.8 475.2 961.2 462 973.6 448.9 985.9 435.9 998.2 423 1010.4 410.2 1022.5 397.4 1034.6 384.8 1046.6 372.2 1058.6 359.7 1070.4 347.3 1082.3 335 1094 322.7 1105.7 310.5 1117.4 298.4 1128.9 286.4 1140.4 274.4 1151.9 262.5 1163.3 250.7M500.5 937.5 515.4 921.1 530.2 904.8 544.9 888.6 559.6 872.6 574.1 856.7 588.6 840.8 603 825.2 617.3 809.6 631.5 794.1 645.7 778.7 659.7 763.5 673.7 748.4 687.6 733.3 701.4 718.4 715.2 703.6 728.9 688.9 742.5 674.3 756 659.7 769.4 645.3 782.8 631 796.1 616.8 809.4 602.7 822.5 588.7 835.6 574.7 848.6 560.9 861.6 547.2 874.4 533.5 887.2 520 900 506.5 912.6 493.1 925.2 479.9 937.8 466.7 950.2 453.5 962.6 440.5 975 427.6 987.2 414.7 999.4 401.9 1011.6 389.3 1023.6 376.6 1035.6 364.1 1047.6 351.7 1059.5 339.3 1071.3 327 1083.1 314.8 1094.8 302.6 1106.4 290.6 1118 278.6 1129.5 266.7 1141 254.9 1152.4 243.1M489.6 926.6 504.5 910.3 519.3 894.1 534 878 548.6 862 563.2 846.1 577.7 830.4 592 814.8 606.3 799.3 620.6 783.8 634.7 768.6 648.8 753.4 662.8 738.3 676.7 723.3 690.5 708.5 704.2 693.7 717.9 679.1 731.5 664.5 745 650 758.5 635.7 771.9 621.4 785.2 607.3 798.4 593.2 811.6 579.3 824.6 565.4 837.7 551.6 850.6 537.9 863.5 524.4 876.3 510.9 889 497.4 901.7 484.1 914.3 470.9 926.8 457.7 939.3 444.7 951.7 431.7 964 418.8 976.3 406 988.5 393.3 1000.6 380.6 1012.7 368.1 1024.7 355.6 1036.7 343.2 1048.6 330.9 1060.4 318.6 1072.1 306.5 1083.9 294.4 1095.5 282.4 1107.1 270.4 1118.6 258.6 1130.1 246.8 1141.5 235.1M478.7 915.3 493.6 899.1 508.4 882.9 523.1 866.9 537.8 851 552.3 835.2 566.8 819.5 581.1 803.9 595.4 788.5 609.7 773.2 623.8 757.9 637.9 742.8 651.8 727.8 665.7 712.9 679.6 698.1 693.3 683.4 707 668.8 720.6 654.3 734.1 639.9 747.6 625.6 760.9 611.4 774.3 597.3 787.5 583.3 800.6 569.4 813.7 555.6 826.7 541.9 839.7 528.3 852.6 514.7 865.4 501.3 878.1 487.9 890.8 474.7 903.4 461.5 915.9 448.4 928.4 435.4 940.8 422.5 953.1 409.6 965.4 396.9 977.6 384.2 989.7 371.6 1001.8 359.1 1013.8 346.7 1025.8 334.3 1037.7 322.1 1049.5 309.9 1061.3 297.7 1073 285.7 1084.6 273.7 1096.2 261.8 1107.8 250 1119.2 238.3 1130.6 226.6M467.9 903.6 482.8 887.4 497.6 871.3 512.3 855.3 526.9 839.5 541.5 823.8 555.9 808.2 570.3 792.7 584.6 777.3 598.8 762 612.9 746.8 627 731.8 641 716.8 654.9 702 668.7 687.3 682.5 672.6 696.1 658.1 709.7 643.7 723.3 629.3 736.7 615.1 750.1 601 763.4 586.9 776.6 573 789.8 559.2 802.9 545.4 815.9 531.7 828.8 518.2 841.7 504.7 854.5 491.3 867.3 478 879.9 464.8 892.5 451.7 905.1 438.6 917.5 425.7 929.9 412.8 942.3 400 954.6 387.3 966.8 374.7 978.9 362.2 991 349.7 1003 337.3 1015 325 1026.9 312.8 1038.7 300.7 1050.5 288.6 1062.2 276.6 1073.8 264.7 1085.4 252.8 1097 241.1 1108.4 229.4 1119.8 217.7M457.1 891.3 472 875.2 486.8 859.2 501.5 843.3 516.1 827.5 530.6 811.9 545.1 796.3 559.5 780.9 573.8 765.6 588 750.4 602.1 735.3 616.2 720.3 630.2 705.4 644.1 690.6 657.9 676 671.6 661.4 685.3 646.9 698.9 632.6 712.4 618.3 725.9 604.1 739.3 590.1 752.6 576.1 765.8 562.2 779 548.4 792 534.7 805.1 521.1 818 507.6 830.9 494.2 843.7 480.9 856.4 467.6 869.1 454.5 881.7 441.4 894.3 428.4 906.7 415.5 919.1 402.7 931.5 390 943.8 377.3 956 364.7 968.1 352.3 980.2 339.8 992.2 327.5 1004.2 315.3 1016.1 303.1 1027.9 291 1039.7 279 1051.4 267 1063.1 255.2 1074.7 243.4 1086.2 231.6 1097.7 220 1109.1 208.4M446.4 878.6 461.2 862.5 476 846.6 490.7 830.8 505.3 815.1 519.9 799.5 534.3 784 548.7 768.6 563 753.4 577.2 738.3 591.3 723.2 605.4 708.3 619.4 693.5 633.3 678.8 647.1 664.2 660.9 649.7 674.5 635.3 688.1 621 701.7 606.8 715.1 592.7 728.5 578.6 741.8 564.7 755 550.9 768.2 537.2 781.3 523.6 794.3 510 807.2 496.6 820.1 483.2 832.9 469.9 845.7 456.7 858.3 443.6 871 430.6 883.5 417.7 896 404.9 908.4 392.1 920.7 379.4 933 366.8 945.2 354.3 957.4 341.9 969.5 329.5 981.5 317.2 993.4 305 1005.4 292.9 1017.2 280.9 1029 268.9 1040.7 257 1052.3 245.2 1063.9 233.4 1075.5 221.8 1087 210.2 1098.4 198.6M435.6 865.3 450.5 849.3 465.3 833.4 480 817.7 494.6 802.1 509.1 786.6 523.6 771.2 538 755.9 552.3 740.7 566.5 725.6 580.6 710.7 594.7 695.8 608.6 681.1 622.5 666.4 636.4 651.9 650.1 637.5 663.8 623.1 677.4 608.9 690.9 594.7 704.4 580.7 717.7 566.7 731 552.9 744.3 539.1 757.4 525.5 770.5 511.9 783.6 498.4 796.5 485 809.4 471.7 822.2 458.5 834.9 445.4 847.6 432.3 860.2 419.4 872.8 406.5 885.3 393.7 897.7 381 910 368.4 922.3 355.8 934.5 343.4 946.7 331 958.8 318.7 970.8 306.5 982.8 294.3 994.7 282.3 1006.5 270.3 1018.3 258.4 1030 246.5 1041.7 234.7 1053.3 223 1064.8 211.4 1076.3 199.9 1087.7 188.4M425 851.5 439.8 835.6 454.6 819.8 469.3 804.1 483.9 788.6 498.5 773.1 512.9 757.8 527.3 742.6 541.6 727.5 555.8 712.5 569.9 697.6 584 682.8 597.9 668.1 611.8 653.6 625.7 639.1 639.4 624.7 653.1 610.4 666.7 596.3 680.2 582.2 693.7 568.2 707 554.3 720.4 540.5 733.6 526.8 746.8 513.2 759.8 499.7 772.9 486.3 785.8 473 798.7 459.7 811.5 446.6 824.3 433.5 836.9 420.5 849.6 407.6 862.1 394.8 874.6 382.1 887 369.4 899.3 356.9 911.6 344.4 923.9 332 936 319.6 948.1 307.4 960.1 295.2 972.1 283.1 984 271.1 995.9 259.2 1007.7 247.3 1019.4 235.5 1031 223.8 1042.7 212.1 1054.2 200.6 1065.7 189.1 1077.1 177.6M414.3 837.1 429.2 821.3 444 805.6 458.7 790 473.3 774.5 487.8 759.1 502.3 743.9 516.6 728.7 530.9 713.7 545.1 698.8 559.3 684 573.3 669.3 587.3 654.6 601.2 640.1 615 625.7 628.8 611.4 642.4 597.2 656 583.1 669.6 569.1 683 555.2 696.4 541.4 709.7 527.6 722.9 514 736.1 500.5 749.2 487 762.2 473.6 775.2 460.4 788.1 447.2 800.9 434.1 813.6 421.1 826.3 408.2 838.9 395.3 851.5 382.6 864 369.9 876.4 357.3 888.7 344.8 901 332.4 913.2 320 925.4 307.8 937.5 295.6 949.5 283.4 961.5 271.4 973.4 259.4 985.3 247.6 997.1 235.7 1008.8 224 1020.5 212.3 1032.1 200.7 1043.6 189.2 1055.1 177.8 1066.6 166.4M403.7 822.2 418.6 806.5 433.4 790.8 448 775.3 462.7 759.9 477.2 744.6 491.6 729.4 506 714.3 520.3 699.4 534.5 684.5 548.6 669.8 562.7 655.1 576.7 640.6 590.6 626.2 604.4 611.8 618.1 597.6 631.8 583.4 645.4 569.4 658.9 555.5 672.4 541.6 685.8 527.8 699.1 514.2 712.3 500.6 725.5 487.1 738.6 473.8 751.6 460.5 764.6 447.2 777.4 434.1 790.3 421.1 803 408.1 815.7 395.3 828.3 382.5 840.9 369.8 853.4 357.2 865.8 344.7 878.1 332.2 890.4 319.8 902.7 307.5 914.8 295.3 926.9 283.2 939 271.1 950.9 259.2 962.9 247.2 974.7 235.4 986.5 223.7 998.2 212 1009.9 200.4 1021.5 188.8 1033.1 177.3 1044.6 165.9 1056 154.6M393.1 806.7 408 791 422.8 775.5 437.5 760 452.1 744.7 466.6 729.5 481.1 714.4 495.4 699.4 509.7 684.5 523.9 669.7 538 655 552.1 640.4 566.1 626 580 611.6 593.8 597.3 607.6 583.2 621.2 569.1 634.8 555.1 648.4 541.2 661.8 527.5 675.2 513.8 688.5 500.2 701.7 486.7 714.9 473.3 728 459.9 741 446.7 754 433.6 766.9 420.5 779.7 407.5 792.5 394.6 805.1 381.8 817.8 369.1 830.3 356.5 842.8 343.9 855.2 331.5 867.6 319.1 879.9 306.7 892.1 294.5 904.3 282.4 916.4 270.3 928.4 258.3 940.4 246.3 952.3 234.5 964.2 222.7 976 211 987.7 199.4 999.4 187.8 1011 176.3 1022.6 164.9 1034.1 153.6 1045.5 142.3M382.6 790.6 397.5 775 412.2 759.5 426.9 744.1 441.5 728.9 456.1 713.7 470.5 698.7 484.9 683.8 499.2 669 513.4 654.3 527.5 639.6 541.6 625.1 555.5 610.7 569.4 596.5 583.3 582.3 597 568.2 610.7 554.2 624.3 540.2 637.8 526.4 651.3 512.7 664.6 499.1 678 485.6 691.2 472.1 704.4 458.8 717.5 445.5 730.5 432.4 743.5 419.3 756.4 406.3 769.2 393.4 781.9 380.6 794.6 367.8 807.2 355.2 819.8 342.6 832.3 330.1 844.7 317.7 857.1 305.3 869.4 293.1 881.6 280.9 893.8 268.8 905.9 256.8 917.9 244.8 929.9 233 941.9 221.2 953.7 209.5 965.5 197.8 977.3 186.2 989 174.7 1000.6 163.3 1012.1 151.9 1023.7 140.6 1035.1 129.4M372.1 773.8 386.9 758.3 401.7 742.9 416.4 727.6 431 712.4 445.5 697.4 460 682.4 474.3 667.6 488.6 652.8 502.8 638.2 517 623.7 531 609.2 545 594.9 558.9 580.7 572.7 566.6 586.5 552.5 600.2 538.6 613.8 524.8 627.3 511 640.8 497.4 654.1 483.8 667.5 470.4 680.7 457 693.9 443.7 707 430.5 720 417.4 733 404.4 745.9 391.5 758.7 378.6 771.4 365.9 784.1 353.2 796.8 340.6 809.3 328.1 821.8 315.7 834.3 303.3 846.6 291 858.9 278.8 871.2 266.7 883.3 254.7 895.5 242.7 907.5 230.8 919.5 219 931.4 207.3 943.3 195.6 955.1 184 966.8 172.5 978.5 161.1 990.2 149.7 1001.7 138.4 1013.2 127.1 1024.7 116M361.6 756.4 376.5 741 391.2 725.7 405.9 710.5 420.5 695.4 435 680.4 449.5 665.5 463.9 650.7 478.1 636.1 492.4 621.5 506.5 607 520.5 592.7 534.5 578.4 548.4 564.3 562.3 550.2 576 536.3 589.7 522.4 603.3 508.7 616.8 495 630.3 481.4 643.7 467.9 657 454.5 670.2 441.2 683.4 428 696.5 414.9 709.5 401.9 722.5 388.9 735.4 376 748.2 363.3 761 350.6 773.7 338 786.3 325.4 798.9 313 811.4 300.6 823.8 288.3 836.2 276.1 848.5 264 860.7 251.9 872.9 239.9 885 228 897.1 216.2 909.1 204.5 921 192.8 932.9 181.2 944.7 169.6 956.5 158.2 968.2 146.8 979.8 135.5 991.4 124.2 1002.9 113 1014.3 101.9M351.1 738.4 366 723 380.8 707.8 395.4 692.6 410.1 677.6 424.6 662.7 439 647.9 453.4 633.2 467.7 618.6 481.9 604.2 496 589.8 510.1 575.5 524.1 561.3 538 547.2 551.8 533.3 565.5 519.4 579.2 505.6 592.8 491.9 606.4 478.3 619.8 464.8 633.2 451.4 646.5 438.1 659.8 424.8 673 411.7 686.1 398.6 699.1 385.7 712.1 372.8 725 360 737.8 347.3 750.6 334.6 763.3 322.1 775.9 309.6 788.5 297.2 801 284.9 813.4 272.7 825.8 260.6 838.1 248.5 850.4 236.5 862.5 224.6 874.7 212.7 886.7 201 898.7 189.3 910.7 177.7 922.5 166.1 934.4 154.6 946.1 143.2 957.8 131.9 969.4 120.6 981 109.4 992.6 98.3 1004 87.2M340.7 719.6 355.6 704.3 370.3 689.2 385 674.1 399.6 659.2 414.1 644.4 428.6 629.7 443 615 457.3 600.5 471.5 586.1 485.6 571.8 499.7 557.6 513.6 543.5 527.5 529.5 541.4 515.6 555.1 501.8 568.8 488.1 582.4 474.5 596 460.9 609.4 447.5 622.8 434.2 636.1 420.9 649.4 407.8 662.6 394.7 675.7 381.7 688.7 368.8 701.7 356 714.6 343.3 727.4 330.6 740.2 318 752.9 305.6 765.5 293.2 778.1 280.8 790.6 268.6 803.1 256.4 815.4 244.4 827.8 232.3 840 220.4 852.2 208.6 864.3 196.8 876.4 185.1 888.4 173.4 900.3 161.9 912.2 150.4 924 139 935.8 127.6 947.5 116.4 959.1 105.2 970.7 94 982.3 83 993.7 72M330.3 700.1 345.1 685 359.9 669.9 374.6 654.9 389.2 640.1 403.7 625.3 418.2 610.7 432.6 596.2 446.8 581.7 461.1 567.4 475.2 553.2 489.3 539.1 503.2 525 517.1 511.1 531 497.3 544.7 483.5 558.4 469.9 572 456.4 585.6 442.9 599 429.5 612.4 416.3 625.8 403.1 639 390 652.2 377 665.3 364.1 678.3 351.3 691.3 338.5 704.2 325.9 717.1 313.3 729.8 300.8 742.6 288.4 755.2 276 767.8 263.8 780.3 251.6 792.7 239.5 805.1 227.5 817.4 215.5 829.7 203.7 841.9 191.9 854 180.2 866.1 168.5 878.1 157 890 145.5 901.9 134 913.8 122.7 925.5 111.4 937.2 100.2 948.9 89 960.5 78 972 67 983.5 56M319.9 680 334.8 664.9 349.5 649.9 364.2 635 378.8 620.2 393.4 605.6 407.8 591 422.2 576.6 436.5 562.2 450.7 548 464.8 533.8 478.9 519.8 492.9 505.8 506.8 492 520.6 478.2 534.4 464.6 548.1 451 561.7 437.5 575.2 424.2 588.7 410.9 602.1 397.7 615.4 384.6 628.7 371.6 641.8 358.6 655 345.8 668 333 681 320.3 693.9 307.8 706.7 295.2 719.5 282.8 732.2 270.5 744.9 258.2 757.5 246 770 233.9 782.4 221.9 794.8 209.9 807.1 198.1 819.4 186.3 831.6 174.5 843.7 162.9 855.8 151.3 867.8 139.8 879.8 128.4 891.7 117 903.5 105.7 915.3 94.5 927 83.3 938.7 72.3 950.2 61.2 961.8 50.3 973.3 39.4M892.3 1141.9 879.4 1137.9 866.5 1133.8 853.8 1129.8 841 1125.6 828.4 1121.5 815.8 1117.2 803.3 1112.9 790.9 1108.5 778.5 1104 766.3 1099.4 754 1094.7 741.9 1089.9 729.8 1084.9 717.8 1079.8 705.8 1074.6 693.9 1069.1 682.1 1063.5 670.3 1057.7 658.6 1051.6 647 1045.4 635.4 1038.9 623.8 1032.1 612.4 1025.1 601 1017.9 589.6 1010.3 578.3 1002.4 567 994.2 555.8 985.7 544.7 976.8 533.6 967.6 522.5 958 511.5 947.9 500.5 937.5 489.6 926.6 478.7 915.3 467.9 903.6 457.1 891.3 446.4 878.6 435.6 865.3 425 851.5 414.3 837.1 403.7 822.2 393.1 806.7 382.6 790.6 372.1 773.8 361.6 756.4 351.1 738.4 340.7 719.6 330.3 700.1 319.9 680M907.4 1123.3 894.4 1119.3 881.6 1115.4 868.8 1111.4 856.1 1107.3 843.4 1103.2 830.8 1099 818.3 1094.8 805.9 1090.5 793.5 1086 781.3 1081.5 769 1076.9 756.9 1072.1 744.8 1067.2 732.7 1062.2 720.8 1056.9 708.9 1051.6 697.1 1046 685.3 1040.2 673.6 1034.3 661.9 1028.1 650.3 1021.7 638.8 1015 627.3 1008 615.9 1000.8 604.5 993.3 593.2 985.5 581.9 977.4 570.7 968.9 559.6 960.1 548.5 951 537.4 941.4 526.4 931.5 515.4 921.1 504.5 910.3 493.6 899.1 482.8 887.4 472 875.2 461.2 862.5 450.5 849.3 439.8 835.6 429.2 821.3 418.6 806.5 408 791 397.5 775 386.9 758.3 376.5 741 366 723 355.6 704.3 345.1 685 334.8 664.9M922.3 1104.8 909.4 1101 896.5 1097.1 883.7 1093.1 871 1089.1 858.3 1085.1 845.8 1081 833.3 1076.8 820.8 1072.5 808.5 1068.2 796.2 1063.7 783.9 1059.1 771.8 1054.4 759.7 1049.6 747.6 1044.6 735.7 1039.5 723.8 1034.2 711.9 1028.7 700.2 1023 688.4 1017.1 676.8 1010.9 665.2 1004.6 653.6 998 642.2 991.1 630.7 983.9 619.4 976.5 608 968.8 596.8 960.7 585.6 952.3 574.4 943.6 563.3 934.5 552.2 925 541.2 915.1 530.2 904.8 519.3 894.1 508.4 882.9 497.6 871.3 486.8 859.2 476 846.6 465.3 833.4 454.6 819.8 444 805.6 433.4 790.8 422.8 775.5 412.2 759.5 401.7 742.9 391.2 725.7 380.8 707.8 370.3 689.2 359.9 669.9 349.5 649.9M937.2 1086.5 924.2 1082.7 911.4 1078.9 898.6 1075 885.8 1071.1 873.2 1067.1 860.6 1063.1 848.1 1059 835.6 1054.8 823.3 1050.5 811 1046.1 798.7 1041.6 786.6 1036.9 774.5 1032.1 762.4 1027.2 750.5 1022.1 738.6 1016.9 726.7 1011.4 714.9 1005.8 703.2 1000 691.5 993.9 679.9 987.6 668.4 981.1 656.9 974.3 645.5 967.2 634.1 959.8 622.8 952.1 611.5 944.1 600.3 935.8 589.1 927.1 578 918.1 566.9 908.7 555.9 898.9 544.9 888.6 534 878 523.1 866.9 512.3 855.3 501.5 843.3 490.7 830.8 480 817.7 469.3 804.1 458.7 790 448 775.3 437.5 760 426.9 744.1 416.4 727.6 405.9 710.5 395.4 692.6 385 674.1 374.6 654.9 364.2 635M951.9 1068.4 939 1064.7 926.1 1060.9 913.3 1057.1 900.6 1053.2 887.9 1049.3 875.3 1045.3 862.8 1041.3 850.4 1037.1 838 1032.9 825.7 1028.6 813.5 1024.1 801.3 1019.5 789.2 1014.8 777.1 1009.9 765.2 1004.9 753.3 999.7 741.4 994.4 729.6 988.8 717.9 983 706.2 977 694.6 970.8 683.1 964.3 671.6 957.6 660.2 950.5 648.8 943.2 637.4 935.6 626.2 927.7 614.9 919.4 603.8 910.8 592.7 901.8 581.6 892.5 570.6 882.7 559.6 872.6 548.6 862 537.8 851 526.9 839.5 516.1 827.5 505.3 815.1 494.6 802.1 483.9 788.6 473.3 774.5 462.7 759.9 452.1 744.7 441.5 728.9 431 712.4 420.5 695.4 410.1 677.6 399.6 659.2 389.2 640.1 378.8 620.2M966.6 1050.4 953.6 1046.7 940.8 1043 928 1039.3 915.2 1035.5 902.6 1031.6 890 1027.7 877.5 1023.7 865 1019.6 852.6 1015.4 840.3 1011.2 828.1 1006.8 815.9 1002.3 803.8 997.6 791.8 992.8 779.8 987.9 767.9 982.7 756 977.4 744.2 971.9 732.5 966.2 720.8 960.2 709.2 954.1 697.7 947.7 686.2 941 674.7 934 663.3 926.8 652 919.2 640.7 911.4 629.5 903.2 618.3 894.6 607.2 885.7 596.1 876.4 585.1 866.8 574.1 856.7 563.2 846.1 552.3 835.2 541.5 823.8 530.6 811.9 519.9 799.5 509.1 786.6 498.5 773.1 487.8 759.1 477.2 744.6 466.6 729.5 456.1 713.7 445.5 697.4 435 680.4 424.6 662.7 414.1 644.4 403.7 625.3 393.4 605.6M981.2 1032.5 968.2 1028.9 955.3 1025.3 942.5 1021.6 929.8 1017.8 917.1 1014.1 904.5 1010.2 892 1006.3 879.6 1002.2 867.2 998.1 854.9 993.9 842.6 989.6 830.5 985.1 818.3 980.5 806.3 975.8 794.3 970.9 782.4 965.8 770.5 960.6 758.8 955.1 747 949.5 735.3 943.6 723.7 937.5 712.2 931.1 700.7 924.5 689.2 917.6 677.8 910.5 666.5 903 655.2 895.2 644 887 632.8 878.6 621.7 869.7 610.6 860.5 599.6 850.9 588.6 840.8 577.7 830.4 566.8 819.5 555.9 808.2 545.1 796.3 534.3 784 523.6 771.2 512.9 757.8 502.3 743.9 491.6 729.4 481.1 714.4 470.5 698.7 460 682.4 449.5 665.5 439 647.9 428.6 629.7 418.2 610.7 407.8 591M995.6 1014.8 982.7 1011.2 969.8 1007.7 957 1004 944.3 1000.4 931.6 996.6 919 992.8 906.5 989 894 985 881.7 981 869.3 976.8 857.1 972.5 844.9 968.1 832.8 963.6 820.8 958.9 808.8 954.1 796.8 949.1 785 943.9 773.2 938.5 761.5 932.9 749.8 927.1 738.2 921 726.6 914.7 715.1 908.2 703.6 901.4 692.3 894.2 680.9 886.8 669.6 879.1 658.4 871 647.2 862.6 636.1 853.8 625 844.7 614 835.1 603 825.2 592 814.8 581.1 803.9 570.3 792.7 559.5 780.9 548.7 768.6 538 755.9 527.3 742.6 516.6 728.7 506 714.3 495.4 699.4 484.9 683.8 474.3 667.6 463.9 650.7 453.4 633.2 443 615 432.6 596.2 422.2 576.6M1010 997.2 997.1 993.7 984.2 990.2 971.4 986.6 958.6 983 946 979.3 933.4 975.6 920.9 971.8 908.4 967.9 896 963.9 883.7 959.8 871.5 955.6 859.3 951.3 847.2 946.8 835.1 942.2 823.1 937.4 811.2 932.4 799.3 927.3 787.5 922 775.8 916.5 764.1 910.7 752.5 904.7 740.9 898.5 729.4 892 718 885.2 706.6 878.2 695.2 870.8 684 863.1 672.7 855.1 661.5 846.8 650.4 838 639.3 828.9 628.3 819.5 617.3 809.6 606.3 799.3 595.4 788.5 584.6 777.3 573.8 765.6 563 753.4 552.3 740.7 541.6 727.5 530.9 713.7 520.3 699.4 509.7 684.5 499.2 669 488.6 652.8 478.1 636.1 467.7 618.6 457.3 600.5 446.8 581.7 436.5 562.2M1024.3 979.7 1011.4 976.3 998.5 972.9 985.7 969.4 972.9 965.8 960.3 962.2 947.7 958.5 935.2 954.8 922.7 950.9 910.3 947 898 943 885.7 938.8 873.6 934.5 861.4 930.1 849.4 925.6 837.4 920.8 825.5 915.9 813.6 910.9 801.8 905.6 790.1 900.1 778.4 894.4 766.8 888.5 755.2 882.3 743.7 875.9 732.2 869.2 720.8 862.2 709.5 854.9 698.2 847.3 687 839.3 675.8 831 664.6 822.4 653.5 813.4 642.5 803.9 631.5 794.1 620.6 783.8 609.7 773.2 598.8 762 588 750.4 577.2 738.3 566.5 725.6 555.8 712.5 545.1 698.8 534.5 684.5 523.9 669.7 513.4 654.3 502.8 638.2 492.4 621.5 481.9 604.2 471.5 586.1 461.1 567.4 450.7 548M1038.5 962.4 1025.6 959.1 1012.7 955.6 999.9 952.2 987.2 948.7 974.5 945.2 961.9 941.5 949.4 937.9 936.9 934.1 924.5 930.2 912.2 926.2 899.9 922.1 887.8 917.9 875.6 913.6 863.6 909 851.6 904.4 839.7 899.6 827.8 894.5 816 889.3 804.2 883.9 792.6 878.3 780.9 872.4 769.4 866.3 757.8 859.9 746.4 853.3 735 846.3 723.6 839.1 712.3 831.5 701.1 823.7 689.9 815.4 678.8 806.8 667.7 797.9 656.6 788.5 645.7 778.7 634.7 768.6 623.8 757.9 612.9 746.8 602.1 735.3 591.3 723.2 580.6 710.7 569.9 697.6 559.3 684 548.6 669.8 538 655 527.5 639.6 517 623.7 506.5 607 496 589.8 485.6 571.8 475.2 553.2 464.8 533.8M1052.7 945.2 1039.7 941.9 1026.8 938.6 1014 935.2 1001.3 931.8 988.6 928.3 976 924.7 963.5 921.1 951 917.3 938.6 913.5 926.3 909.6 914.1 905.6 901.9 901.4 889.7 897.1 877.7 892.7 865.7 888.1 853.8 883.3 841.9 878.3 830.1 873.2 818.3 867.8 806.6 862.2 795 856.4 783.4 850.4 771.9 844.1 760.5 837.5 749.1 830.6 737.7 823.4 726.4 815.9 715.2 808.1 704 799.9 692.9 791.4 681.8 782.5 670.7 773.2 659.7 763.5 648.8 753.4 637.9 742.8 627 731.8 616.2 720.3 605.4 708.3 594.7 695.8 584 682.8 573.3 669.3 562.7 655.1 552.1 640.4 541.6 625.1 531 609.2 520.5 592.7 510.1 575.5 499.7 557.6 489.3 539.1 478.9 519.8M1066.7 928.2 1053.8 924.9 1040.9 921.6 1028.1 918.3 1015.3 914.9 1002.7 911.5 990.1 908 977.5 904.4 965.1 900.7 952.7 897 940.3 893.1 928.1 889.1 915.9 885 903.8 880.8 891.7 876.4 879.7 871.9 867.8 867.1 855.9 862.2 844.1 857.1 832.3 851.8 820.7 846.3 809 840.6 797.5 834.6 785.9 828.3 774.5 821.8 763.1 815 751.7 807.8 740.4 800.4 729.2 792.6 718 784.5 706.8 776.1 695.7 767.2 684.7 758 673.7 748.4 662.8 738.3 651.8 727.8 641 716.8 630.2 705.4 619.4 693.5 608.6 681.1 597.9 668.1 587.3 654.6 576.7 640.6 566.1 626 555.5 610.7 545 594.9 534.5 578.4 524.1 561.3 513.6 543.5 503.2 525 492.9 505.8M1080.7 911.2 1067.7 908 1054.8 904.8 1042 901.5 1029.3 898.2 1016.6 894.9 1004 891.4 991.5 887.9 979 884.3 966.6 880.6 954.3 876.8 942 872.8 929.8 868.8 917.7 864.6 905.7 860.3 893.7 855.8 881.7 851.1 869.8 846.3 858 841.2 846.3 836 834.6 830.5 823 824.8 811.4 818.9 799.9 812.7 788.4 806.2 777 799.4 765.6 792.4 754.3 785 743.1 777.3 731.9 769.3 720.8 760.9 709.7 752.1 698.6 742.9 687.6 733.3 676.7 723.3 665.7 712.9 654.9 702 644.1 690.6 633.3 678.8 622.5 666.4 611.8 653.6 601.2 640.1 590.6 626.2 580 611.6 569.4 596.5 558.9 580.7 548.4 564.3 538 547.2 527.5 529.5 517.1 511.1 506.8 492M1094.5 894.4 1081.6 891.3 1068.7 888.1 1055.9 884.9 1043.1 881.7 1030.5 878.3 1017.9 874.9 1005.3 871.5 992.9 867.9 980.5 864.3 968.2 860.5 955.9 856.6 943.7 852.7 931.6 848.5 919.5 844.2 907.5 839.8 895.6 835.2 883.7 830.4 871.9 825.4 860.1 820.2 848.4 814.8 836.8 809.2 825.2 803.3 813.7 797.2 802.2 790.7 790.8 784 779.5 777 768.2 769.7 756.9 762.1 745.7 754.1 734.6 745.7 723.5 737 712.4 727.9 701.4 718.4 690.5 708.5 679.6 698.1 668.7 687.3 657.9 676 647.1 664.2 636.4 651.9 625.7 639.1 615 625.7 604.4 611.8 593.8 597.3 583.3 582.3 572.7 566.6 562.3 550.2 551.8 533.3 541.4 515.6 531 497.3 520.6 478.2M1108.3 877.8 1095.4 874.7 1082.5 871.6 1069.7 868.4 1056.9 865.2 1044.3 861.9 1031.7 858.6 1019.1 855.2 1006.7 851.7 994.3 848.1 981.9 844.4 969.7 840.6 957.5 836.6 945.4 832.6 933.3 828.3 921.3 824 909.4 819.4 897.5 814.7 885.7 809.7 873.9 804.6 862.2 799.3 850.6 793.7 839 787.8 827.5 781.8 816 775.4 804.6 768.8 793.2 761.8 781.9 754.6 770.7 747 759.5 739 748.3 730.7 737.2 722.1 726.2 713 715.2 703.6 704.2 693.7 693.3 683.4 682.5 672.6 671.6 661.4 660.9 649.7 650.1 637.5 639.4 624.7 628.8 611.4 618.1 597.6 607.6 583.2 597 568.2 586.5 552.5 576 536.3 565.5 519.4 555.1 501.8 544.7 483.5 534.4 464.6M1122 861.2 1109.1 858.2 1096.2 855.1 1083.4 852 1070.6 848.9 1058 845.7 1045.4 842.4 1032.8 839 1020.4 835.6 1008 832 995.6 828.4 983.4 824.6 971.2 820.7 959.1 816.7 947 812.6 935 808.2 923.1 803.7 911.2 799 899.4 794.2 887.6 789.1 875.9 783.8 864.3 778.3 852.7 772.5 841.2 766.5 829.7 760.2 818.3 753.6 806.9 746.7 795.6 739.5 784.4 732 773.2 724.1 762 715.9 750.9 707.2 739.9 698.3 728.9 688.9 717.9 679.1 707 668.8 696.1 658.1 685.3 646.9 674.5 635.3 663.8 623.1 653.1 610.4 642.4 597.2 631.8 583.4 621.2 569.1 610.7 554.2 600.2 538.6 589.7 522.4 579.2 505.6 568.8 488.1 558.4 469.9 548.1 451M1135.6 844.8 1122.7 841.8 1109.8 838.8 1097 835.8 1084.3 832.7 1071.6 829.5 1059 826.3 1046.5 823 1034 819.6 1021.6 816.1 1009.3 812.5 997 808.8 984.8 805 972.7 801 960.6 796.9 948.6 792.6 936.7 788.2 924.8 783.5 913 778.7 901.2 773.7 889.5 768.4 877.9 763 866.3 757.3 854.8 751.3 843.3 745 831.9 738.5 820.5 731.7 809.2 724.5 798 717 786.8 709.2 775.6 701.1 764.5 692.5 753.5 683.6 742.5 674.3 731.5 664.5 720.6 654.3 709.7 643.7 698.9 632.6 688.1 621 677.4 608.9 666.7 596.3 656 583.1 645.4 569.4 634.8 555.1 624.3 540.2 613.8 524.8 603.3 508.7 592.8 491.9 582.4 474.5 572 456.4 561.7 437.5M1149.2 828.5 1136.2 825.5 1123.3 822.6 1110.5 819.6 1097.8 816.6 1085.1 813.5 1072.5 810.3 1060 807 1047.5 803.7 1035.1 800.3 1022.8 796.7 1010.5 793.1 998.4 789.3 986.2 785.4 974.2 781.3 962.2 777.1 950.2 772.7 938.3 768.1 926.5 763.4 914.8 758.4 903.1 753.2 891.4 747.8 879.8 742.1 868.3 736.2 856.8 730 845.4 723.5 834.1 716.7 822.8 709.7 811.5 702.2 800.3 694.5 789.1 686.4 778 677.9 767 669 756 659.7 745 650 734.1 639.9 723.3 629.3 712.4 618.3 701.7 606.8 690.9 594.7 680.2 582.2 669.6 569.1 658.9 555.5 648.4 541.2 637.8 526.4 627.3 511 616.8 495 606.4 478.3 596 460.9 585.6 442.9 575.2 424.2M1162.6 812.3 1149.7 809.4 1136.8 806.5 1124 803.6 1111.2 800.6 1098.6 797.5 1086 794.4 1073.5 791.2 1061 787.9 1048.6 784.5 1036.3 781.1 1024 777.5 1011.8 773.7 999.7 769.9 987.6 765.9 975.6 761.7 963.7 757.4 951.8 752.8 940 748.1 928.2 743.2 916.5 738.1 904.9 732.7 893.3 727.1 881.8 721.2 870.3 715.1 858.9 708.7 847.5 701.9 836.2 694.9 825 687.5 813.8 679.8 802.6 671.8 791.5 663.4 780.4 654.5 769.4 645.3 758.5 635.7 747.6 625.6 736.7 615.1 725.9 604.1 715.1 592.7 704.4 580.7 693.7 568.2 683 555.2 672.4 541.6 661.8 527.5 651.3 512.7 640.8 497.4 630.3 481.4 619.8 464.8 609.4 447.5 599 429.5 588.7 410.9M1176 796.2 1163 793.4 1150.2 790.6 1137.4 787.7 1124.6 784.7 1112 781.7 1099.4 778.7 1086.8 775.5 1074.4 772.3 1062 768.9 1049.7 765.5 1037.4 762 1025.2 758.3 1013.1 754.5 1001 750.5 989 746.4 977.1 742.1 965.2 737.6 953.4 733 941.6 728.1 929.9 723 918.3 717.7 906.7 712.2 895.1 706.3 883.7 700.3 872.3 693.9 860.9 687.2 849.6 680.3 838.3 672.9 827.1 665.3 816 657.3 804.9 648.9 793.8 640.2 782.8 631 771.9 621.4 760.9 611.4 750.1 601 739.3 590.1 728.5 578.6 717.7 566.7 707 554.3 696.4 541.4 685.8 527.8 675.2 513.8 664.6 499.1 654.1 483.8 643.7 467.9 633.2 451.4 622.8 434.2 612.4 416.3 602.1 397.7M1189.3 780.3 1176.3 777.5 1163.5 774.7 1150.7 771.9 1137.9 769 1125.3 766 1112.7 763 1100.1 759.9 1087.7 756.7 1075.3 753.5 1063 750.1 1050.7 746.6 1038.5 743 1026.4 739.2 1014.3 735.3 1002.3 731.2 990.4 727 978.5 722.6 966.7 718 954.9 713.1 943.2 708.1 931.6 702.8 920 697.3 908.4 691.6 897 685.6 885.6 679.2 874.2 672.6 862.9 665.7 851.6 658.5 840.4 650.9 829.3 642.9 818.2 634.6 807.1 625.9 796.1 616.8 785.2 607.3 774.3 597.3 763.4 586.9 752.6 576.1 741.8 564.7 731 552.9 720.4 540.5 709.7 527.6 699.1 514.2 688.5 500.2 678 485.6 667.5 470.4 657 454.5 646.5 438.1 636.1 420.9 625.8 403.1 615.4 384.6M1202.5 764.4 1189.6 761.7 1176.7 759 1163.9 756.2 1151.1 753.3 1138.5 750.4 1125.9 747.5 1113.4 744.4 1100.9 741.3 1088.5 738.1 1076.2 734.7 1063.9 731.3 1051.7 727.7 1039.6 724 1027.5 720.2 1015.5 716.1 1003.6 712 991.7 707.6 979.9 703 968.1 698.3 956.4 693.3 944.8 688.1 933.2 682.6 921.7 676.9 910.2 670.9 898.8 664.7 887.4 658.1 876.1 651.3 864.9 644.1 853.7 636.5 842.5 628.6 831.4 620.4 820.4 611.7 809.4 602.7 798.4 593.2 787.5 583.3 776.6 573 765.8 562.2 755 550.9 744.3 539.1 733.6 526.8 722.9 514 712.3 500.6 701.7 486.7 691.2 472.1 680.7 457 670.2 441.2 659.8 424.8 649.4 407.8 639 390 628.7 371.6M1215.6 748.7 1202.7 746 1189.8 743.3 1177 740.6 1164.3 737.8 1151.6 735 1139 732.1 1126.5 729.1 1114.1 726 1101.7 722.8 1089.3 719.5 1077.1 716.1 1064.9 712.6 1052.8 708.9 1040.7 705.1 1028.7 701.2 1016.7 697 1004.9 692.7 993 688.2 981.3 683.5 969.6 678.6 957.9 673.4 946.4 668 934.8 662.4 923.4 656.4 911.9 650.2 900.6 643.7 889.3 636.9 878 629.8 866.8 622.3 855.7 614.4 844.6 606.2 833.5 597.7 822.5 588.7 811.6 579.3 800.6 569.4 789.8 559.2 779 548.4 768.2 537.2 757.4 525.5 746.8 513.2 736.1 500.5 725.5 487.1 714.9 473.3 704.4 458.8 693.9 443.7 683.4 428 673 411.7 662.6 394.7 652.2 377 641.8 358.6M1228.7 733.1 1215.7 730.5 1202.9 727.8 1190.1 725.2 1177.4 722.4 1164.7 719.6 1152.1 716.8 1139.6 713.8 1127.1 710.8 1114.7 707.6 1102.4 704.4 1090.2 701.1 1078 697.6 1065.8 694 1053.8 690.2 1041.8 686.3 1029.8 682.2 1017.9 678 1006.1 673.5 994.4 668.8 982.7 664 971 658.9 959.4 653.5 947.9 647.9 936.4 642 925 635.9 913.7 629.4 902.4 622.6 891.1 615.6 879.9 608.1 868.8 600.4 857.6 592.2 846.6 583.7 835.6 574.7 824.6 565.4 813.7 555.6 802.9 545.4 792 534.7 781.3 523.6 770.5 511.9 759.8 499.7 749.2 487 738.6 473.8 728 459.9 717.5 445.5 707 430.5 696.5 414.9 686.1 398.6 675.7 381.7 665.3 364.1 655 345.8M1241.7 717.6 1228.7 715 1215.9 712.4 1203.1 709.8 1190.3 707.1 1177.7 704.4 1165.1 701.6 1152.6 698.7 1140.1 695.7 1127.7 692.6 1115.4 689.4 1103.2 686.1 1091 682.7 1078.8 679.1 1066.8 675.4 1054.8 671.5 1042.8 667.5 1031 663.3 1019.1 658.9 1007.4 654.3 995.7 649.4 984 644.4 972.5 639.1 960.9 633.5 949.5 627.7 938 621.6 926.7 615.2 915.4 608.5 904.1 601.5 892.9 594.1 881.8 586.4 870.7 578.3 859.6 569.8 848.6 560.9 837.7 551.6 826.7 541.9 815.9 531.7 805.1 521.1 794.3 510 783.6 498.4 772.9 486.3 762.2 473.6 751.6 460.5 741 446.7 730.5 432.4 720 417.4 709.5 401.9 699.1 385.7 688.7 368.8 678.3 351.3 668 333M1254.6 702.2 1241.6 699.7 1228.8 697.2 1216 694.6 1203.3 691.9 1190.6 689.2 1178 686.5 1165.5 683.6 1153 680.7 1140.7 677.6 1128.3 674.5 1116.1 671.3 1103.9 667.9 1091.8 664.4 1079.7 660.7 1067.7 656.9 1055.8 652.9 1043.9 648.7 1032.1 644.4 1020.3 639.8 1008.6 635 997 630 985.4 624.8 973.9 619.3 962.4 613.5 951 607.4 939.6 601.1 928.3 594.4 917.1 587.5 905.9 580.1 894.7 572.5 883.6 564.4 872.6 556 861.6 547.2 850.6 537.9 839.7 528.3 828.8 518.2 818 507.6 807.2 496.6 796.5 485 785.8 473 775.2 460.4 764.6 447.2 754 433.6 743.5 419.3 733 404.4 722.5 388.9 712.1 372.8 701.7 356 691.3 338.5 681 320.3M1267.4 686.9 1254.5 684.5 1241.6 682 1228.8 679.4 1216.1 676.8 1203.4 674.2 1190.9 671.5 1178.3 668.7 1165.9 665.8 1153.5 662.8 1141.2 659.7 1128.9 656.5 1116.8 653.2 1104.6 649.7 1092.6 646.1 1080.6 642.3 1068.6 638.4 1056.7 634.3 1044.9 630 1033.2 625.4 1021.5 620.7 1009.8 615.8 998.3 610.6 986.7 605.1 975.3 599.4 963.8 593.4 952.5 587.1 941.2 580.5 929.9 573.5 918.7 566.3 907.6 558.7 896.5 550.7 885.4 542.3 874.4 533.5 863.5 524.4 852.6 514.7 841.7 504.7 830.9 494.2 820.1 483.2 809.4 471.7 798.7 459.7 788.1 447.2 777.4 434.1 766.9 420.5 756.4 406.3 745.9 391.5 735.4 376 725 360 714.6 343.3 704.2 325.9 693.9 307.8M1280.1 671.8 1267.2 669.4 1254.4 666.9 1241.6 664.4 1228.9 661.9 1216.2 659.3 1203.6 656.6 1191.1 653.8 1178.7 651 1166.3 648.1 1154 645 1141.7 641.9 1129.5 638.6 1117.4 635.2 1105.3 631.6 1093.3 627.9 1081.4 624 1069.5 619.9 1057.7 615.7 1046 611.2 1034.3 606.5 1022.6 601.6 1011 596.4 999.5 591 988.1 585.4 976.6 579.4 965.3 573.2 954 566.6 942.7 559.7 931.5 552.5 920.4 544.9 909.3 537 898.2 528.7 887.2 520 876.3 510.9 865.4 501.3 854.5 491.3 843.7 480.9 832.9 469.9 822.2 458.5 811.5 446.6 800.9 434.1 790.3 421.1 779.7 407.5 769.2 393.4 758.7 378.6 748.2 363.3 737.8 347.3 727.4 330.6 717.1 313.3 706.7 295.2M1292.8 656.7 1279.9 654.3 1267 651.9 1254.3 649.5 1241.5 647 1228.9 644.4 1216.3 641.8 1203.8 639.1 1191.4 636.3 1179 633.4 1166.7 630.4 1154.4 627.3 1142.2 624.1 1130.1 620.7 1118.1 617.2 1106.1 613.5 1094.1 609.7 1082.3 605.6 1070.4 601.4 1058.7 597 1047 592.4 1035.3 587.5 1023.8 582.4 1012.2 577.1 1000.8 571.4 989.4 565.5 978 559.3 966.7 552.8 955.5 546 944.3 538.8 933.1 531.3 922 523.4 911 515.2 900 506.5 889 497.4 878.1 487.9 867.3 478 856.4 467.6 845.7 456.7 834.9 445.4 824.3 433.5 813.6 421.1 803 408.1 792.5 394.6 781.9 380.6 771.4 365.9 761 350.6 750.6 334.6 740.2 318 729.8 300.8 719.5 282.8M1305.4 641.7 1292.5 639.4 1279.7 637.1 1266.9 634.7 1254.2 632.2 1241.5 629.7 1228.9 627.1 1216.4 624.5 1204 621.7 1191.6 618.9 1179.3 615.9 1167.1 612.9 1154.9 609.7 1142.8 606.4 1130.7 602.9 1118.7 599.3 1106.8 595.5 1094.9 591.5 1083.1 587.3 1071.3 582.9 1059.6 578.4 1048 573.5 1036.4 568.5 1024.9 563.2 1013.4 557.6 1002 551.7 990.7 545.6 979.4 539.1 968.1 532.4 956.9 525.2 945.8 517.8 934.7 510 923.6 501.7 912.6 493.1 901.7 484.1 890.8 474.7 879.9 464.8 869.1 454.5 858.3 443.6 847.6 432.3 836.9 420.5 826.3 408.2 815.7 395.3 805.1 381.8 794.6 367.8 784.1 353.2 773.7 338 763.3 322.1 752.9 305.6 742.6 288.4 732.2 270.5M1317.9 626.9 1305 624.6 1292.2 622.3 1279.4 620 1266.7 617.6 1254.1 615.1 1241.5 612.6 1229 609.9 1216.5 607.2 1204.2 604.4 1191.9 601.5 1179.6 598.5 1167.4 595.4 1155.3 592.1 1143.3 588.7 1131.3 585.1 1119.3 581.3 1107.5 577.4 1095.7 573.3 1083.9 569 1072.2 564.4 1060.6 559.7 1049 554.6 1037.5 549.4 1026 543.9 1014.6 538.1 1003.3 532 992 525.5 980.7 518.8 969.5 511.8 958.4 504.3 947.3 496.6 936.2 488.4 925.2 479.9 914.3 470.9 903.4 461.5 892.5 451.7 881.7 441.4 871 430.6 860.2 419.4 849.6 407.6 838.9 395.3 828.3 382.5 817.8 369.1 807.2 355.2 796.8 340.6 786.3 325.4 775.9 309.6 765.5 293.2 755.2 276 744.9 258.2M1330.4 612.1 1317.5 609.9 1304.6 607.7 1291.9 605.4 1279.2 603 1266.5 600.6 1254 598.1 1241.5 595.5 1229 592.9 1216.7 590.1 1204.4 587.3 1192.1 584.3 1179.9 581.2 1167.8 577.9 1155.8 574.6 1143.8 571 1131.8 567.3 1120 563.4 1108.2 559.4 1096.4 555.1 1084.7 550.6 1073.1 545.9 1061.5 540.9 1050 535.7 1038.5 530.2 1027.1 524.5 1015.8 518.4 1004.5 512 993.2 505.4 982 498.4 970.9 491 959.8 483.3 948.8 475.2 937.8 466.7 926.8 457.7 915.9 448.4 905.1 438.6 894.3 428.4 883.5 417.7 872.8 406.5 862.1 394.8 851.5 382.6 840.9 369.8 830.3 356.5 819.8 342.6 809.3 328.1 798.9 313 788.5 297.2 778.1 280.8 767.8 263.8 757.5 246M1342.8 597.5 1329.9 595.3 1317 593.1 1304.3 590.9 1291.6 588.5 1278.9 586.2 1266.4 583.7 1253.9 581.2 1241.4 578.6 1229.1 575.9 1216.8 573.1 1204.5 570.1 1192.4 567.1 1180.2 563.9 1168.2 560.5 1156.2 557.1 1144.3 553.4 1132.4 549.6 1120.6 545.5 1108.9 541.3 1097.2 536.8 1085.5 532.2 1074 527.3 1062.4 522.1 1051 516.7 1039.6 510.9 1028.2 504.9 1016.9 498.6 1005.7 492 994.5 485 983.3 477.7 972.3 470 961.2 462 950.2 453.5 939.3 444.7 928.4 435.4 917.5 425.7 906.7 415.5 896 404.9 885.3 393.7 874.6 382.1 864 369.9 853.4 357.2 842.8 343.9 832.3 330.1 821.8 315.7 811.4 300.6 801 284.9 790.6 268.6 780.3 251.6 770 233.9M1355.1 583 1342.2 580.8 1329.4 578.7 1316.6 576.4 1303.9 574.2 1291.3 571.8 1278.7 569.4 1266.2 567 1253.8 564.4 1241.4 561.7 1229.1 559 1216.9 556.1 1204.7 553.1 1192.6 549.9 1180.6 546.6 1168.6 543.2 1156.6 539.6 1144.8 535.8 1133 531.8 1121.2 527.6 1109.5 523.2 1097.9 518.6 1086.3 513.7 1074.8 508.6 1063.4 503.2 1052 497.5 1040.6 491.6 1029.3 485.3 1018.1 478.7 1006.9 471.8 995.7 464.5 984.7 456.9 973.6 448.9 962.6 440.5 951.7 431.7 940.8 422.5 929.9 412.8 919.1 402.7 908.4 392.1 897.7 381 887 369.4 876.4 357.3 865.8 344.7 855.2 331.5 844.7 317.7 834.3 303.3 823.8 288.3 813.4 272.7 803.1 256.4 792.7 239.5 782.4 221.9M1367.3 568.5 1354.4 566.4 1341.6 564.3 1328.8 562.1 1316.2 559.9 1303.5 557.6 1291 555.3 1278.5 552.8 1266.1 550.3 1253.7 547.7 1241.4 545 1229.2 542.1 1217 539.1 1204.9 536 1192.8 532.8 1180.9 529.4 1168.9 525.8 1157.1 522.1 1145.3 518.1 1133.5 514 1121.8 509.6 1110.2 505 1098.6 500.2 1087.1 495.1 1075.7 489.8 1064.3 484.2 1052.9 478.3 1041.6 472.1 1030.4 465.5 1019.2 458.7 1008.1 451.5 997 443.9 985.9 435.9 975 427.6 964 418.8 953.1 409.6 942.3 400 931.5 390 920.7 379.4 910 368.4 899.3 356.9 888.7 344.8 878.1 332.2 867.6 319.1 857.1 305.3 846.6 291 836.2 276.1 825.8 260.6 815.4 244.4 805.1 227.5 794.8 209.9M1379.5 554.2 1366.6 552.1 1353.8 550.1 1341 547.9 1328.3 545.7 1315.7 543.5 1303.2 541.2 1290.7 538.8 1278.3 536.3 1265.9 533.7 1253.6 531 1241.4 528.2 1229.2 525.3 1217.1 522.3 1205.1 519.1 1193.1 515.7 1181.2 512.2 1169.3 508.5 1157.5 504.6 1145.8 500.5 1134.1 496.2 1122.5 491.6 1110.9 486.8 1099.4 481.8 1087.9 476.5 1076.5 470.9 1065.2 465.1 1053.9 458.9 1042.6 452.4 1031.5 445.6 1020.3 438.4 1009.2 430.9 998.2 423 987.2 414.7 976.3 406 965.4 396.9 954.6 387.3 943.8 377.3 933 366.8 922.3 355.8 911.6 344.4 901 332.4 890.4 319.8 879.9 306.7 869.4 293.1 858.9 278.8 848.5 264 838.1 248.5 827.8 232.3 817.4 215.5 807.1 198.1M1391.6 539.9 1378.7 537.9 1365.9 535.9 1353.1 533.8 1340.5 531.7 1327.8 529.5 1315.3 527.2 1302.8 524.8 1290.4 522.4 1278 519.9 1265.8 517.2 1253.5 514.5 1241.4 511.6 1229.3 508.6 1217.2 505.4 1205.2 502.1 1193.3 498.6 1181.5 495 1169.7 491.1 1157.9 487 1146.3 482.8 1134.6 478.3 1123.1 473.5 1111.6 468.6 1100.1 463.3 1088.7 457.8 1077.4 452 1066.1 445.9 1054.8 439.4 1043.7 432.6 1032.5 425.5 1021.4 418 1010.4 410.2 999.4 401.9 988.5 393.3 977.6 384.2 966.8 374.7 956 364.7 945.2 354.3 934.5 343.4 923.9 332 913.2 320 902.7 307.5 892.1 294.5 881.6 280.9 871.2 266.7 860.7 251.9 850.4 236.5 840 220.4 829.7 203.7 819.4 186.3M1403.6 525.8 1390.7 523.8 1377.9 521.8 1365.2 519.8 1352.5 517.7 1339.9 515.5 1327.4 513.3 1314.9 511 1302.5 508.6 1290.1 506.1 1277.8 503.5 1265.6 500.8 1253.4 498 1241.3 495 1229.3 491.9 1217.3 488.6 1205.4 485.2 1193.6 481.5 1181.8 477.7 1170 473.7 1158.4 469.5 1146.7 465 1135.2 460.3 1123.7 455.4 1112.2 450.2 1100.8 444.7 1089.5 438.9 1078.2 432.9 1067 426.5 1055.8 419.8 1044.7 412.7 1033.6 405.3 1022.5 397.4 1011.6 389.3 1000.6 380.6 989.7 371.6 978.9 362.2 968.1 352.3 957.4 341.9 946.7 331 936 319.6 925.4 307.8 914.8 295.3 904.3 282.4 893.8 268.8 883.3 254.7 872.9 239.9 862.5 224.6 852.2 208.6 841.9 191.9 831.6 174.5M1415.6 511.8 1402.7 509.8 1389.9 507.9 1377.2 505.9 1364.5 503.8 1351.9 501.7 1339.3 499.5 1326.9 497.2 1314.5 494.9 1302.1 492.4 1289.8 489.9 1277.6 487.2 1265.5 484.4 1253.4 481.5 1241.3 478.4 1229.4 475.2 1217.4 471.8 1205.6 468.2 1193.8 464.4 1182.1 460.5 1170.4 456.3 1158.8 451.9 1147.2 447.2 1135.7 442.3 1124.3 437.2 1112.9 431.7 1101.5 426 1090.3 420 1079 413.6 1067.8 407 1056.7 399.9 1045.6 392.5 1034.6 384.8 1023.6 376.6 1012.7 368.1 1001.8 359.1 991 349.7 980.2 339.8 969.5 329.5 958.8 318.7 948.1 307.4 937.5 295.6 926.9 283.2 916.4 270.3 905.9 256.8 895.5 242.7 885 228 874.7 212.7 864.3 196.8 854 180.2 843.7 162.9M1427.5 497.8 1414.6 495.9 1401.8 494 1389.1 492.1 1376.4 490 1363.8 488 1351.3 485.8 1338.8 483.6 1326.4 481.3 1314 478.9 1301.8 476.3 1289.6 473.7 1277.4 471 1265.3 468.1 1253.3 465 1241.3 461.8 1229.4 458.5 1217.6 454.9 1205.8 451.2 1194 447.3 1182.4 443.2 1170.8 438.8 1159.2 434.2 1147.7 429.3 1136.3 424.2 1124.9 418.8 1113.5 413.1 1102.2 407.2 1091 400.9 1079.8 394.2 1068.7 387.3 1057.6 379.9 1046.6 372.2 1035.6 364.1 1024.7 355.6 1013.8 346.7 1003 337.3 992.2 327.5 981.5 317.2 970.8 306.5 960.1 295.2 949.5 283.4 939 271.1 928.4 258.3 917.9 244.8 907.5 230.8 897.1 216.2 886.7 201 876.4 185.1 866.1 168.5 855.8 151.3M1439.3 483.9 1426.4 482.1 1413.6 480.2 1400.9 478.3 1388.3 476.3 1375.7 474.3 1363.1 472.2 1350.7 470 1338.3 467.7 1325.9 465.4 1313.6 462.9 1301.4 460.3 1289.3 457.6 1277.2 454.7 1265.2 451.7 1253.2 448.6 1241.3 445.3 1229.5 441.8 1217.7 438.1 1205.9 434.2 1194.3 430.1 1182.7 425.8 1171.1 421.2 1159.6 416.4 1148.2 411.4 1136.8 406 1125.5 400.4 1114.2 394.4 1103 388.2 1091.8 381.6 1080.7 374.7 1069.6 367.4 1058.6 359.7 1047.6 351.7 1036.7 343.2 1025.8 334.3 1015 325 1004.2 315.3 993.4 305 982.8 294.3 972.1 283.1 961.5 271.4 950.9 259.2 940.4 246.3 929.9 233 919.5 219 909.1 204.5 898.7 189.3 888.4 173.4 878.1 157 867.8 139.8M1451.1 470.2 1438.2 468.4 1425.4 466.6 1412.7 464.7 1400 462.7 1387.4 460.7 1374.9 458.7 1362.5 456.5 1350.1 454.3 1337.7 452 1325.5 449.5 1313.2 447 1301.1 444.3 1289 441.5 1277 438.5 1265 435.4 1253.1 432.2 1241.3 428.7 1229.5 425.1 1217.8 421.2 1206.1 417.2 1194.5 412.9 1183 408.4 1171.5 403.6 1160 398.6 1148.7 393.3 1137.3 387.7 1126 381.8 1114.8 375.6 1103.7 369 1092.5 362.2 1081.5 354.9 1070.4 347.3 1059.5 339.3 1048.6 330.9 1037.7 322.1 1026.9 312.8 1016.1 303.1 1005.4 292.9 994.7 282.3 984 271.1 973.4 259.4 962.9 247.2 952.3 234.5 941.9 221.2 931.4 207.3 921 192.8 910.7 177.7 900.3 161.9 890 145.5 879.8 128.4M1462.7 456.5 1449.9 454.8 1437.1 453 1424.4 451.1 1411.7 449.2 1399.2 447.3 1386.6 445.2 1374.2 443.1 1361.8 440.9 1349.5 438.7 1337.2 436.3 1325 433.8 1312.9 431.1 1300.8 428.3 1288.8 425.4 1276.8 422.4 1264.9 419.1 1253.1 415.7 1241.3 412.1 1229.6 408.3 1217.9 404.3 1206.3 400.1 1194.8 395.6 1183.3 390.9 1171.8 385.9 1160.4 380.6 1149.1 375.1 1137.8 369.2 1126.6 363.1 1115.5 356.6 1104.3 349.7 1093.3 342.5 1082.3 335 1071.3 327 1060.4 318.6 1049.5 309.9 1038.7 300.7 1027.9 291 1017.2 280.9 1006.5 270.3 995.9 259.2 985.3 247.6 974.7 235.4 964.2 222.7 953.7 209.5 943.3 195.6 932.9 181.2 922.5 166.1 912.2 150.4 901.9 134 891.7 117M1474.4 442.9 1461.5 441.2 1448.7 439.5 1436 437.7 1423.4 435.8 1410.8 433.9 1398.3 431.9 1385.8 429.8 1373.5 427.7 1361.1 425.4 1348.9 423.1 1336.7 420.6 1324.5 418 1312.5 415.3 1300.5 412.4 1288.5 409.4 1276.6 406.2 1264.8 402.8 1253 399.3 1241.3 395.5 1229.6 391.5 1218 387.3 1206.5 382.9 1195 378.2 1183.6 373.3 1172.2 368 1160.9 362.5 1149.6 356.7 1138.4 350.6 1127.2 344.2 1116.1 337.4 1105 330.2 1094 322.7 1083.1 314.8 1072.1 306.5 1061.3 297.7 1050.5 288.6 1039.7 279 1029 268.9 1018.3 258.4 1007.7 247.3 997.1 235.7 986.5 223.7 976 211 965.5 197.8 955.1 184 944.7 169.6 934.4 154.6 924 139 913.8 122.7 903.5 105.7M1485.9 429.4 1473.1 427.8 1460.3 426.1 1447.6 424.3 1435 422.5 1422.4 420.6 1409.9 418.6 1397.4 416.6 1385.1 414.5 1372.7 412.3 1360.5 410 1348.3 407.5 1336.2 405 1324.1 402.3 1312.1 399.5 1300.1 396.5 1288.2 393.3 1276.4 390 1264.6 386.5 1252.9 382.7 1241.3 378.8 1229.7 374.7 1218.1 370.3 1206.7 365.6 1195.2 360.7 1183.9 355.5 1172.5 350.1 1161.3 344.3 1150.1 338.2 1138.9 331.8 1127.8 325.1 1116.7 318 1105.7 310.5 1094.8 302.6 1083.9 294.4 1073 285.7 1062.2 276.6 1051.4 267 1040.7 257 1030 246.5 1019.4 235.5 1008.8 224 998.2 212 987.7 199.4 977.3 186.2 966.8 172.5 956.5 158.2 946.1 143.2 935.8 127.6 925.5 111.4 915.3 94.5M1497.4 416 1484.6 414.4 1471.8 412.7 1459.1 411 1446.5 409.2 1433.9 407.4 1421.4 405.5 1409 403.5 1396.6 401.4 1384.3 399.2 1372 397 1359.8 394.6 1347.7 392.1 1335.7 389.4 1323.7 386.6 1311.7 383.7 1299.8 380.5 1288 377.2 1276.2 373.8 1264.5 370.1 1252.9 366.2 1241.3 362.1 1229.7 357.7 1218.3 353.1 1206.8 348.3 1195.5 343.1 1184.2 337.7 1172.9 332 1161.7 326 1150.5 319.6 1139.4 312.9 1128.4 305.8 1117.4 298.4 1106.4 290.6 1095.5 282.4 1084.6 273.7 1073.8 264.7 1063.1 255.2 1052.3 245.2 1041.7 234.7 1031 223.8 1020.5 212.3 1009.9 200.4 999.4 187.8 989 174.7 978.5 161.1 968.2 146.8 957.8 131.9 947.5 116.4 937.2 100.2 927 83.3M1508.9 402.7 1496 401.1 1483.3 399.5 1470.6 397.8 1457.9 396.1 1445.4 394.3 1432.9 392.4 1420.5 390.4 1408.1 388.4 1395.8 386.3 1383.5 384 1371.3 381.7 1359.2 379.2 1347.2 376.6 1335.2 373.8 1323.2 370.9 1311.3 367.8 1299.5 364.6 1287.8 361.1 1276.1 357.5 1264.4 353.7 1252.8 349.6 1241.3 345.3 1229.8 340.7 1218.4 335.9 1207 330.8 1195.7 325.4 1184.4 319.7 1173.2 313.8 1162.1 307.4 1151 300.8 1139.9 293.8 1128.9 286.4 1118 278.6 1107.1 270.4 1096.2 261.8 1085.4 252.8 1074.7 243.4 1063.9 233.4 1053.3 223 1042.7 212.1 1032.1 200.7 1021.5 188.8 1011 176.3 1000.6 163.3 990.2 149.7 979.8 135.5 969.4 120.6 959.1 105.2 948.9 89 938.7 72.3M1520.2 389.5 1507.4 387.9 1494.6 386.3 1482 384.7 1469.3 383 1456.8 381.2 1444.3 379.4 1431.9 377.5 1419.5 375.5 1407.2 373.4 1394.9 371.2 1382.8 368.9 1370.7 366.4 1358.6 363.9 1346.6 361.1 1334.7 358.3 1322.8 355.2 1311 352 1299.2 348.6 1287.5 345 1275.9 341.2 1264.3 337.2 1252.8 332.9 1241.3 328.4 1229.9 323.6 1218.5 318.5 1207.2 313.2 1195.9 307.6 1184.7 301.6 1173.6 295.3 1162.5 288.7 1151.4 281.8 1140.4 274.4 1129.5 266.7 1118.6 258.6 1107.8 250 1097 241.1 1086.2 231.6 1075.5 221.8 1064.8 211.4 1054.2 200.6 1043.6 189.2 1033.1 177.3 1022.6 164.9 1012.1 151.9 1001.7 138.4 991.4 124.2 981 109.4 970.7 94 960.5 78 950.2 61.2M1531.5 376.4 1518.7 374.8 1506 373.3 1493.3 371.7 1480.7 370 1468.1 368.3 1455.6 366.5 1443.2 364.6 1430.8 362.7 1418.5 360.6 1406.3 358.4 1394.1 356.1 1382 353.7 1370 351.2 1358 348.5 1346.1 345.7 1334.2 342.7 1322.4 339.5 1310.6 336.2 1298.9 332.6 1287.3 328.8 1275.7 324.8 1264.2 320.6 1252.7 316.1 1241.3 311.4 1229.9 306.4 1218.6 301.1 1207.4 295.5 1196.2 289.6 1185 283.3 1173.9 276.8 1162.9 269.8 1151.9 262.5 1141 254.9 1130.1 246.8 1119.2 238.3 1108.4 229.4 1097.7 220 1087 210.2 1076.3 199.9 1065.7 189.1 1055.1 177.8 1044.6 165.9 1034.1 153.6 1023.7 140.6 1013.2 127.1 1002.9 113 992.6 98.3 982.3 83 972 67 961.8 50.3M1542.8 363.3 1530 361.8 1517.2 360.3 1504.5 358.7 1491.9 357.1 1479.4 355.4 1466.9 353.7 1454.5 351.8 1442.1 349.9 1429.8 347.9 1417.6 345.7 1405.4 343.5 1393.3 341.1 1381.3 338.6 1369.3 336 1357.4 333.2 1345.5 330.2 1333.7 327.1 1322 323.8 1310.3 320.2 1298.6 316.5 1287.1 312.6 1275.5 308.4 1264.1 303.9 1252.7 299.2 1241.3 294.3 1230 289 1218.8 283.4 1207.6 277.6 1196.4 271.4 1185.3 264.9 1174.3 258 1163.3 250.7 1152.4 243.1 1141.5 235.1 1130.6 226.6 1119.8 217.7 1109.1 208.4 1098.4 198.6 1087.7 188.4 1077.1 177.6 1066.6 166.4 1056 154.6 1045.5 142.3 1035.1 129.4 1024.7 116 1014.3 101.9 1004 87.2 993.7 72 983.5 56 973.3 39.4M907.4 1123.3 879.4 1137.9M922.3 1104.8 894.4 1119.3 866.5 1133.8M937.2 1086.5 909.4 1101 881.6 1115.4 853.8 1129.8M951.9 1068.4 924.2 1082.7 896.5 1097.1 868.8 1111.4 841 1125.6M966.6 1050.4 939 1064.7 911.4 1078.9 883.7 1093.1 856.1 1107.3 828.4 1121.5M981.2 1032.5 953.6 1046.7 926.1 1060.9 898.6 1075 871 1089.1 843.4 1103.2 815.8 1117.2M995.6 1014.8 968.2 1028.9 940.8 1043 913.3 1057.1 885.8 1071.1 858.3 1085.1 830.8 1099 803.3 1112.9M1010 997.2 982.7 1011.2 955.3 1025.3 928 1039.3 900.6 1053.2 873.2 1067.1 845.8 1081 818.3 1094.8 790.9 1108.5M1024.3 979.7 997.1 993.7 969.8 1007.7 942.5 1021.6 915.2 1035.5 887.9 1049.3 860.6 1063.1 833.3 1076.8 805.9 1090.5 778.5 1104M1038.5 962.4 1011.4 976.3 984.2 990.2 957 1004 929.8 1017.8 902.6 1031.6 875.3 1045.3 848.1 1059 820.8 1072.5 793.5 1086 766.3 1099.4M1052.7 945.2 1025.6 959.1 998.5 972.9 971.4 986.6 944.3 1000.4 917.1 1014.1 890 1027.7 862.8 1041.3 835.6 1054.8 808.5 1068.2 781.3 1081.5 754 1094.7M1066.7 928.2 1039.7 941.9 1012.7 955.6 985.7 969.4 958.6 983 931.6 996.6 904.5 1010.2 877.5 1023.7 850.4 1037.1 823.3 1050.5 796.2 1063.7 769 1076.9 741.9 1089.9M1080.7 911.2 1053.8 924.9 1026.8 938.6 999.9 952.2 972.9 965.8 946 979.3 919 992.8 892 1006.3 865 1019.6 838 1032.9 811 1046.1 783.9 1059.1 756.9 1072.1 729.8 1084.9M1094.5 894.4 1067.7 908 1040.9 921.6 1014 935.2 987.2 948.7 960.3 962.2 933.4 975.6 906.5 989 879.6 1002.2 852.6 1015.4 825.7 1028.6 798.7 1041.6 771.8 1054.4 744.8 1067.2 717.8 1079.8M1108.3 877.8 1081.6 891.3 1054.8 904.8 1028.1 918.3 1001.3 931.8 974.5 945.2 947.7 958.5 920.9 971.8 894 985 867.2 998.1 840.3 1011.2 813.5 1024.1 786.6 1036.9 759.7 1049.6 732.7 1062.2 705.8 1074.6M1122 861.2 1095.4 874.7 1068.7 888.1 1042 901.5 1015.3 914.9 988.6 928.3 961.9 941.5 935.2 954.8 908.4 967.9 881.7 981 854.9 993.9 828.1 1006.8 801.3 1019.5 774.5 1032.1 747.6 1044.6 720.8 1056.9 693.9 1069.1M1135.6 844.8 1109.1 858.2 1082.5 871.6 1055.9 884.9 1029.3 898.2 1002.7 911.5 976 924.7 949.4 937.9 922.7 950.9 896 963.9 869.3 976.8 842.6 989.6 815.9 1002.3 789.2 1014.8 762.4 1027.2 735.7 1039.5 708.9 1051.6 682.1 1063.5M1149.2 828.5 1122.7 841.8 1096.2 855.1 1069.7 868.4 1043.1 881.7 1016.6 894.9 990.1 908 963.5 921.1 936.9 934.1 910.3 947 883.7 959.8 857.1 972.5 830.5 985.1 803.8 997.6 777.1 1009.9 750.5 1022.1 723.8 1034.2 697.1 1046 670.3 1057.7M1162.6 812.3 1136.2 825.5 1109.8 838.8 1083.4 852 1056.9 865.2 1030.5 878.3 1004 891.4 977.5 904.4 951 917.3 924.5 930.2 898 943 871.5 955.6 844.9 968.1 818.3 980.5 791.8 992.8 765.2 1004.9 738.6 1016.9 711.9 1028.7 685.3 1040.2 658.6 1051.6M1176 796.2 1149.7 809.4 1123.3 822.6 1097 835.8 1070.6 848.9 1044.3 861.9 1017.9 874.9 991.5 887.9 965.1 900.7 938.6 913.5 912.2 926.2 885.7 938.8 859.3 951.3 832.8 963.6 806.3 975.8 779.8 987.9 753.3 999.7 726.7 1011.4 700.2 1023 673.6 1034.3 647 1045.4M1189.3 780.3 1163 793.4 1136.8 806.5 1110.5 819.6 1084.3 832.7 1058 845.7 1031.7 858.6 1005.3 871.5 979 884.3 952.7 897 926.3 909.6 899.9 922.1 873.6 934.5 847.2 946.8 820.8 958.9 794.3 970.9 767.9 982.7 741.4 994.4 714.9 1005.8 688.4 1017.1 661.9 1028.1 635.4 1038.9M1202.5 764.4 1176.3 777.5 1150.2 790.6 1124 803.6 1097.8 816.6 1071.6 829.5 1045.4 842.4 1019.1 855.2 992.9 867.9 966.6 880.6 940.3 893.1 914.1 905.6 887.8 917.9 861.4 930.1 835.1 942.2 808.8 954.1 782.4 965.8 756 977.4 729.6 988.8 703.2 1000 676.8 1010.9 650.3 1021.7 623.8 1032.1M1215.6 748.7 1189.6 761.7 1163.5 774.7 1137.4 787.7 1111.2 800.6 1085.1 813.5 1059 826.3 1032.8 839 1006.7 851.7 980.5 864.3 954.3 876.8 928.1 889.1 901.9 901.4 875.6 913.6 849.4 925.6 823.1 937.4 796.8 949.1 770.5 960.6 744.2 971.9 717.9 983 691.5 993.9 665.2 1004.6 638.8 1015 612.4 1025.1M1228.7 733.1 1202.7 746 1176.7 759 1150.7 771.9 1124.6 784.7 1098.6 797.5 1072.5 810.3 1046.5 823 1020.4 835.6 994.3 848.1 968.2 860.5 942 872.8 915.9 885 889.7 897.1 863.6 909 837.4 920.8 811.2 932.4 785 943.9 758.8 955.1 732.5 966.2 706.2 977 679.9 987.6 653.6 998 627.3 1008 601 1017.9M1241.7 717.6 1215.7 730.5 1189.8 743.3 1163.9 756.2 1137.9 769 1112 781.7 1086 794.4 1060 807 1034 819.6 1008 832 981.9 844.4 955.9 856.6 929.8 868.8 903.8 880.8 877.7 892.7 851.6 904.4 825.5 915.9 799.3 927.3 773.2 938.5 747 949.5 720.8 960.2 694.6 970.8 668.4 981.1 642.2 991.1 615.9 1000.8 589.6 1010.3M1254.6 702.2 1228.7 715 1202.9 727.8 1177 740.6 1151.1 753.3 1125.3 766 1099.4 778.7 1073.5 791.2 1047.5 803.7 1021.6 816.1 995.6 828.4 969.7 840.6 943.7 852.7 917.7 864.6 891.7 876.4 865.7 888.1 839.7 899.6 813.6 910.9 787.5 922 761.5 932.9 735.3 943.6 709.2 954.1 683.1 964.3 656.9 974.3 630.7 983.9 604.5 993.3 578.3 1002.4M1267.4 686.9 1241.6 699.7 1215.9 712.4 1190.1 725.2 1164.3 737.8 1138.5 750.4 1112.7 763 1086.8 775.5 1061 787.9 1035.1 800.3 1009.3 812.5 983.4 824.6 957.5 836.6 931.6 848.5 905.7 860.3 879.7 871.9 853.8 883.3 827.8 894.5 801.8 905.6 775.8 916.5 749.8 927.1 723.7 937.5 697.7 947.7 671.6 957.6 645.5 967.2 619.4 976.5 593.2 985.5 567 994.2M1280.1 671.8 1254.5 684.5 1228.8 697.2 1203.1 709.8 1177.4 722.4 1151.6 735 1125.9 747.5 1100.1 759.9 1074.4 772.3 1048.6 784.5 1022.8 796.7 997 808.8 971.2 820.7 945.4 832.6 919.5 844.2 893.7 855.8 867.8 867.1 841.9 878.3 816 889.3 790.1 900.1 764.1 910.7 738.2 921 712.2 931.1 686.2 941 660.2 950.5 634.1 959.8 608 968.8 581.9 977.4 555.8 985.7M1292.8 656.7 1267.2 669.4 1241.6 682 1216 694.6 1190.3 707.1 1164.7 719.6 1139 732.1 1113.4 744.4 1087.7 756.7 1062 768.9 1036.3 781.1 1010.5 793.1 984.8 805 959.1 816.7 933.3 828.3 907.5 839.8 881.7 851.1 855.9 862.2 830.1 873.2 804.2 883.9 778.4 894.4 752.5 904.7 726.6 914.7 700.7 924.5 674.7 934 648.8 943.2 622.8 952.1 596.8 960.7 570.7 968.9 544.7 976.8M1305.4 641.7 1279.9 654.3 1254.4 666.9 1228.8 679.4 1203.3 691.9 1177.7 704.4 1152.1 716.8 1126.5 729.1 1100.9 741.3 1075.3 753.5 1049.7 765.5 1024 777.5 998.4 789.3 972.7 801 947 812.6 921.3 824 895.6 835.2 869.8 846.3 844.1 857.1 818.3 867.8 792.6 878.3 766.8 888.5 740.9 898.5 715.1 908.2 689.2 917.6 663.3 926.8 637.4 935.6 611.5 944.1 585.6 952.3 559.6 960.1 533.6 967.6M1317.9 626.9 1292.5 639.4 1267 651.9 1241.6 664.4 1216.1 676.8 1190.6 689.2 1165.1 701.6 1139.6 713.8 1114.1 726 1088.5 738.1 1063 750.1 1037.4 762 1011.8 773.7 986.2 785.4 960.6 796.9 935 808.2 909.4 819.4 883.7 830.4 858 841.2 832.3 851.8 806.6 862.2 780.9 872.4 755.2 882.3 729.4 892 703.6 901.4 677.8 910.5 652 919.2 626.2 927.7 600.3 935.8 574.4 943.6 548.5 951 522.5 958M1330.4 612.1 1305 624.6 1279.7 637.1 1254.3 649.5 1228.9 661.9 1203.4 674.2 1178 686.5 1152.6 698.7 1127.1 710.8 1101.7 722.8 1076.2 734.7 1050.7 746.6 1025.2 758.3 999.7 769.9 974.2 781.3 948.6 792.6 923.1 803.7 897.5 814.7 871.9 825.4 846.3 836 820.7 846.3 795 856.4 769.4 866.3 743.7 875.9 718 885.2 692.3 894.2 666.5 903 640.7 911.4 614.9 919.4 589.1 927.1 563.3 934.5 537.4 941.4 511.5 947.9M1342.8 597.5 1317.5 609.9 1292.2 622.3 1266.9 634.7 1241.5 647 1216.2 659.3 1190.9 671.5 1165.5 683.6 1140.1 695.7 1114.7 707.6 1089.3 719.5 1063.9 731.3 1038.5 743 1013.1 754.5 987.6 765.9 962.2 777.1 936.7 788.2 911.2 799 885.7 809.7 860.1 820.2 834.6 830.5 809 840.6 783.4 850.4 757.8 859.9 732.2 869.2 706.6 878.2 680.9 886.8 655.2 895.2 629.5 903.2 603.8 910.8 578 918.1 552.2 925 526.4 931.5 500.5 937.5M1355.1 583 1329.9 595.3 1304.6 607.7 1279.4 620 1254.2 632.2 1228.9 644.4 1203.6 656.6 1178.3 668.7 1153 680.7 1127.7 692.6 1102.4 704.4 1077.1 716.1 1051.7 727.7 1026.4 739.2 1001 750.5 975.6 761.7 950.2 772.7 924.8 783.5 899.4 794.2 873.9 804.6 848.4 814.8 823 824.8 797.5 834.6 771.9 844.1 746.4 853.3 720.8 862.2 695.2 870.8 669.6 879.1 644 887 618.3 894.6 592.7 901.8 566.9 908.7 541.2 915.1 515.4 921.1 489.6 926.6M1367.3 568.5 1342.2 580.8 1317 593.1 1291.9 605.4 1266.7 617.6 1241.5 629.7 1216.3 641.8 1191.1 653.8 1165.9 665.8 1140.7 677.6 1115.4 689.4 1090.2 701.1 1064.9 712.6 1039.6 724 1014.3 735.3 989 746.4 963.7 757.4 938.3 768.1 913 778.7 887.6 789.1 862.2 799.3 836.8 809.2 811.4 818.9 785.9 828.3 760.5 837.5 735 846.3 709.5 854.9 684 863.1 658.4 871 632.8 878.6 607.2 885.7 581.6 892.5 555.9 898.9 530.2 904.8 504.5 910.3 478.7 915.3M1379.5 554.2 1354.4 566.4 1329.4 578.7 1304.3 590.9 1279.2 603 1254.1 615.1 1228.9 627.1 1203.8 639.1 1178.7 651 1153.5 662.8 1128.3 674.5 1103.2 686.1 1078 697.6 1052.8 708.9 1027.5 720.2 1002.3 731.2 977.1 742.1 951.8 752.8 926.5 763.4 901.2 773.7 875.9 783.8 850.6 793.7 825.2 803.3 799.9 812.7 774.5 821.8 749.1 830.6 723.6 839.1 698.2 847.3 672.7 855.1 647.2 862.6 621.7 869.7 596.1 876.4 570.6 882.7 544.9 888.6 519.3 894.1 493.6 899.1 467.9 903.6M1391.6 539.9 1366.6 552.1 1341.6 564.3 1316.6 576.4 1291.6 588.5 1266.5 600.6 1241.5 612.6 1216.4 624.5 1191.4 636.3 1166.3 648.1 1141.2 659.7 1116.1 671.3 1091 682.7 1065.8 694 1040.7 705.1 1015.5 716.1 990.4 727 965.2 737.6 940 748.1 914.8 758.4 889.5 768.4 864.3 778.3 839 787.8 813.7 797.2 788.4 806.2 763.1 815 737.7 823.4 712.3 831.5 687 839.3 661.5 846.8 636.1 853.8 610.6 860.5 585.1 866.8 559.6 872.6 534 878 508.4 882.9 482.8 887.4 457.1 891.3M1403.6 525.8 1378.7 537.9 1353.8 550.1 1328.8 562.1 1303.9 574.2 1278.9 586.2 1254 598.1 1229 609.9 1204 621.7 1179 633.4 1154 645 1128.9 656.5 1103.9 667.9 1078.8 679.1 1053.8 690.2 1028.7 701.2 1003.6 712 978.5 722.6 953.4 733 928.2 743.2 903.1 753.2 877.9 763 852.7 772.5 827.5 781.8 802.2 790.7 777 799.4 751.7 807.8 726.4 815.9 701.1 823.7 675.8 831 650.4 838 625 844.7 599.6 850.9 574.1 856.7 548.6 862 523.1 866.9 497.6 871.3 472 875.2 446.4 878.6M1415.6 511.8 1390.7 523.8 1365.9 535.9 1341 547.9 1316.2 559.9 1291.3 571.8 1266.4 583.7 1241.5 595.5 1216.5 607.2 1191.6 618.9 1166.7 630.4 1141.7 641.9 1116.8 653.2 1091.8 664.4 1066.8 675.4 1041.8 686.3 1016.7 697 991.7 707.6 966.7 718 941.6 728.1 916.5 738.1 891.4 747.8 866.3 757.3 841.2 766.5 816 775.4 790.8 784 765.6 792.4 740.4 800.4 715.2 808.1 689.9 815.4 664.6 822.4 639.3 828.9 614 835.1 588.6 840.8 563.2 846.1 537.8 851 512.3 855.3 486.8 859.2 461.2 862.5 435.6 865.3M1427.5 497.8 1402.7 509.8 1377.9 521.8 1353.1 533.8 1328.3 545.7 1303.5 557.6 1278.7 569.4 1253.9 581.2 1229 592.9 1204.2 604.4 1179.3 615.9 1154.4 627.3 1129.5 638.6 1104.6 649.7 1079.7 660.7 1054.8 671.5 1029.8 682.2 1004.9 692.7 979.9 703 954.9 713.1 929.9 723 904.9 732.7 879.8 742.1 854.8 751.3 829.7 760.2 804.6 768.8 779.5 777 754.3 785 729.2 792.6 704 799.9 678.8 806.8 653.5 813.4 628.3 819.5 603 825.2 577.7 830.4 552.3 835.2 526.9 839.5 501.5 843.3 476 846.6 450.5 849.3 425 851.5M1439.3 483.9 1414.6 495.9 1389.9 507.9 1365.2 519.8 1340.5 531.7 1315.7 543.5 1291 555.3 1266.2 567 1241.4 578.6 1216.7 590.1 1191.9 601.5 1167.1 612.9 1142.2 624.1 1117.4 635.2 1092.6 646.1 1067.7 656.9 1042.8 667.5 1017.9 678 993 688.2 968.1 698.3 943.2 708.1 918.3 717.7 893.3 727.1 868.3 736.2 843.3 745 818.3 753.6 793.2 761.8 768.2 769.7 743.1 777.3 718 784.5 692.9 791.4 667.7 797.9 642.5 803.9 617.3 809.6 592 814.8 566.8 819.5 541.5 823.8 516.1 827.5 490.7 830.8 465.3 833.4 439.8 835.6 414.3 837.1M1451.1 470.2 1426.4 482.1 1401.8 494 1377.2 505.9 1352.5 517.7 1327.8 529.5 1303.2 541.2 1278.5 552.8 1253.8 564.4 1229.1 575.9 1204.4 587.3 1179.6 598.5 1154.9 609.7 1130.1 620.7 1105.3 631.6 1080.6 642.3 1055.8 652.9 1031 663.3 1006.1 673.5 981.3 683.5 956.4 693.3 931.6 702.8 906.7 712.2 881.8 721.2 856.8 730 831.9 738.5 806.9 746.7 781.9 754.6 756.9 762.1 731.9 769.3 706.8 776.1 681.8 782.5 656.6 788.5 631.5 794.1 606.3 799.3 581.1 803.9 555.9 808.2 530.6 811.9 505.3 815.1 480 817.7 454.6 819.8 429.2 821.3 403.7 822.2M1462.7 456.5 1438.2 468.4 1413.6 480.2 1389.1 492.1 1364.5 503.8 1339.9 515.5 1315.3 527.2 1290.7 538.8 1266.1 550.3 1241.4 561.7 1216.8 573.1 1192.1 584.3 1167.4 595.4 1142.8 606.4 1118.1 617.2 1093.3 627.9 1068.6 638.4 1043.9 648.7 1019.1 658.9 994.4 668.8 969.6 678.6 944.8 688.1 920 697.3 895.1 706.3 870.3 715.1 845.4 723.5 820.5 731.7 795.6 739.5 770.7 747 745.7 754.1 720.8 760.9 695.7 767.2 670.7 773.2 645.7 778.7 620.6 783.8 595.4 788.5 570.3 792.7 545.1 796.3 519.9 799.5 494.6 802.1 469.3 804.1 444 805.6 418.6 806.5 393.1 806.7M1474.4 442.9 1449.9 454.8 1425.4 466.6 1400.9 478.3 1376.4 490 1351.9 501.7 1327.4 513.3 1302.8 524.8 1278.3 536.3 1253.7 547.7 1229.1 559 1204.5 570.1 1179.9 581.2 1155.3 592.1 1130.7 602.9 1106.1 613.5 1081.4 624 1056.7 634.3 1032.1 644.4 1007.4 654.3 982.7 664 957.9 673.4 933.2 682.6 908.4 691.6 883.7 700.3 858.9 708.7 834.1 716.7 809.2 724.5 784.4 732 759.5 739 734.6 745.7 709.7 752.1 684.7 758 659.7 763.5 634.7 768.6 609.7 773.2 584.6 777.3 559.5 780.9 534.3 784 509.1 786.6 483.9 788.6 458.7 790 433.4 790.8 408 791 382.6 790.6M1485.9 429.4 1461.5 441.2 1437.1 453 1412.7 464.7 1388.3 476.3 1363.8 488 1339.3 499.5 1314.9 511 1290.4 522.4 1265.9 533.7 1241.4 545 1216.9 556.1 1192.4 567.1 1167.8 577.9 1143.3 588.7 1118.7 599.3 1094.1 609.7 1069.5 619.9 1044.9 630 1020.3 639.8 995.7 649.4 971 658.9 946.4 668 921.7 676.9 897 685.6 872.3 693.9 847.5 701.9 822.8 709.7 798 717 773.2 724.1 748.3 730.7 723.5 737 698.6 742.9 673.7 748.4 648.8 753.4 623.8 757.9 598.8 762 573.8 765.6 548.7 768.6 523.6 771.2 498.5 773.1 473.3 774.5 448 775.3 422.8 775.5 397.5 775 372.1 773.8M1497.4 416 1473.1 427.8 1448.7 439.5 1424.4 451.1 1400 462.7 1375.7 474.3 1351.3 485.8 1326.9 497.2 1302.5 508.6 1278 519.9 1253.6 531 1229.2 542.1 1204.7 553.1 1180.2 563.9 1155.8 574.6 1131.3 585.1 1106.8 595.5 1082.3 605.6 1057.7 615.7 1033.2 625.4 1008.6 635 984 644.4 959.4 653.5 934.8 662.4 910.2 670.9 885.6 679.2 860.9 687.2 836.2 694.9 811.5 702.2 786.8 709.2 762 715.9 737.2 722.1 712.4 727.9 687.6 733.3 662.8 738.3 637.9 742.8 612.9 746.8 588 750.4 563 753.4 538 755.9 512.9 757.8 487.8 759.1 462.7 759.9 437.5 760 412.2 759.5 386.9 758.3 361.6 756.4M1508.9 402.7 1484.6 414.4 1460.3 426.1 1436 437.7 1411.7 449.2 1387.4 460.7 1363.1 472.2 1338.8 483.6 1314.5 494.9 1290.1 506.1 1265.8 517.2 1241.4 528.2 1217 539.1 1192.6 549.9 1168.2 560.5 1143.8 571 1119.3 581.3 1094.9 591.5 1070.4 601.4 1046 611.2 1021.5 620.7 997 630 972.5 639.1 947.9 647.9 923.4 656.4 898.8 664.7 874.2 672.6 849.6 680.3 825 687.5 800.3 694.5 775.6 701.1 750.9 707.2 726.2 713 701.4 718.4 676.7 723.3 651.8 727.8 627 731.8 602.1 735.3 577.2 738.3 552.3 740.7 527.3 742.6 502.3 743.9 477.2 744.6 452.1 744.7 426.9 744.1 401.7 742.9 376.5 741 351.1 738.4M1520.2 389.5 1496 401.1 1471.8 412.7 1447.6 424.3 1423.4 435.8 1399.2 447.3 1374.9 458.7 1350.7 470 1326.4 481.3 1302.1 492.4 1277.8 503.5 1253.5 514.5 1229.2 525.3 1204.9 536 1180.6 546.6 1156.2 557.1 1131.8 567.3 1107.5 577.4 1083.1 587.3 1058.7 597 1034.3 606.5 1009.8 615.8 985.4 624.8 960.9 633.5 936.4 642 911.9 650.2 887.4 658.1 862.9 665.7 838.3 672.9 813.8 679.8 789.1 686.4 764.5 692.5 739.9 698.3 715.2 703.6 690.5 708.5 665.7 712.9 641 716.8 616.2 720.3 591.3 723.2 566.5 725.6 541.6 727.5 516.6 728.7 491.6 729.4 466.6 729.5 441.5 728.9 416.4 727.6 391.2 725.7 366 723 340.7 719.6M1531.5 376.4 1507.4 387.9 1483.3 399.5 1459.1 411 1435 422.5 1410.8 433.9 1386.6 445.2 1362.5 456.5 1338.3 467.7 1314 478.9 1289.8 489.9 1265.6 500.8 1241.4 511.6 1217.1 522.3 1192.8 532.8 1168.6 543.2 1144.3 553.4 1120 563.4 1095.7 573.3 1071.3 582.9 1047 592.4 1022.6 601.6 998.3 610.6 973.9 619.3 949.5 627.7 925 635.9 900.6 643.7 876.1 651.3 851.6 658.5 827.1 665.3 802.6 671.8 778 677.9 753.5 683.6 728.9 688.9 704.2 693.7 679.6 698.1 654.9 702 630.2 705.4 605.4 708.3 580.6 710.7 555.8 712.5 530.9 713.7 506 714.3 481.1 714.4 456.1 713.7 431 712.4 405.9 710.5 380.8 707.8 355.6 704.3 330.3 700.1M1542.8 363.3 1518.7 374.8 1494.6 386.3 1470.6 397.8 1446.5 409.2 1422.4 420.6 1398.3 431.9 1374.2 443.1 1350.1 454.3 1325.9 465.4 1301.8 476.3 1277.6 487.2 1253.4 498 1229.3 508.6 1205.1 519.1 1180.9 529.4 1156.6 539.6 1132.4 549.6 1108.2 559.4 1083.9 569 1059.6 578.4 1035.3 587.5 1011 596.4 986.7 605.1 962.4 613.5 938 621.6 913.7 629.4 889.3 636.9 864.9 644.1 840.4 650.9 816 657.3 791.5 663.4 767 669 742.5 674.3 717.9 679.1 693.3 683.4 668.7 687.3 644.1 690.6 619.4 693.5 594.7 695.8 569.9 697.6 545.1 698.8 520.3 699.4 495.4 699.4 470.5 698.7 445.5 697.4 420.5 695.4 395.4 692.6 370.3 689.2 345.1 685 319.9 680M1530 361.8 1506 373.3 1482 384.7 1457.9 396.1 1433.9 407.4 1409.9 418.6 1385.8 429.8 1361.8 440.9 1337.7 452 1313.6 462.9 1289.6 473.7 1265.5 484.4 1241.3 495 1217.2 505.4 1193.1 515.7 1168.9 525.8 1144.8 535.8 1120.6 545.5 1096.4 555.1 1072.2 564.4 1048 573.5 1023.8 582.4 999.5 591 975.3 599.4 951 607.4 926.7 615.2 902.4 622.6 878 629.8 853.7 636.5 829.3 642.9 804.9 648.9 780.4 654.5 756 659.7 731.5 664.5 707 668.8 682.5 672.6 657.9 676 633.3 678.8 608.6 681.1 584 682.8 559.3 684 534.5 684.5 509.7 684.5 484.9 683.8 460 682.4 435 680.4 410.1 677.6 385 674.1 359.9 669.9 334.8 664.9M1517.2 360.3 1493.3 371.7 1469.3 383 1445.4 394.3 1421.4 405.5 1397.4 416.6 1373.5 427.7 1349.5 438.7 1325.5 449.5 1301.4 460.3 1277.4 471 1253.4 481.5 1229.3 491.9 1205.2 502.1 1181.2 512.2 1157.1 522.1 1133 531.8 1108.9 541.3 1084.7 550.6 1060.6 559.7 1036.4 568.5 1012.2 577.1 988.1 585.4 963.8 593.4 939.6 601.1 915.4 608.5 891.1 615.6 866.8 622.3 842.5 628.6 818.2 634.6 793.8 640.2 769.4 645.3 745 650 720.6 654.3 696.1 658.1 671.6 661.4 647.1 664.2 622.5 666.4 597.9 668.1 573.3 669.3 548.6 669.8 523.9 669.7 499.2 669 474.3 667.6 449.5 665.5 424.6 662.7 399.6 659.2 374.6 654.9 349.5 649.9M1504.5 358.7 1480.7 370 1456.8 381.2 1432.9 392.4 1409 403.5 1385.1 414.5 1361.1 425.4 1337.2 436.3 1313.2 447 1289.3 457.6 1265.3 468.1 1241.3 478.4 1217.3 488.6 1193.3 498.6 1169.3 508.5 1145.3 518.1 1121.2 527.6 1097.2 536.8 1073.1 545.9 1049 554.6 1024.9 563.2 1000.8 571.4 976.6 579.4 952.5 587.1 928.3 594.4 904.1 601.5 879.9 608.1 855.7 614.4 831.4 620.4 807.1 625.9 782.8 631 758.5 635.7 734.1 639.9 709.7 643.7 685.3 646.9 660.9 649.7 636.4 651.9 611.8 653.6 587.3 654.6 562.7 655.1 538 655 513.4 654.3 488.6 652.8 463.9 650.7 439 647.9 414.1 644.4 389.2 640.1 364.2 635M1491.9 357.1 1468.1 368.3 1444.3 379.4 1420.5 390.4 1396.6 401.4 1372.7 412.3 1348.9 423.1 1325 433.8 1301.1 444.3 1277.2 454.7 1253.3 465 1229.4 475.2 1205.4 485.2 1181.5 495 1157.5 504.6 1133.5 514 1109.5 523.2 1085.5 532.2 1061.5 540.9 1037.5 549.4 1013.4 557.6 989.4 565.5 965.3 573.2 941.2 580.5 917.1 587.5 892.9 594.1 868.8 600.4 844.6 606.2 820.4 611.7 796.1 616.8 771.9 621.4 747.6 625.6 723.3 629.3 698.9 632.6 674.5 635.3 650.1 637.5 625.7 639.1 601.2 640.1 576.7 640.6 552.1 640.4 527.5 639.6 502.8 638.2 478.1 636.1 453.4 633.2 428.6 629.7 403.7 625.3 378.8 620.2M1479.4 355.4 1455.6 366.5 1431.9 377.5 1408.1 388.4 1384.3 399.2 1360.5 410 1336.7 420.6 1312.9 431.1 1289 441.5 1265.2 451.7 1241.3 461.8 1217.4 471.8 1193.6 481.5 1169.7 491.1 1145.8 500.5 1121.8 509.6 1097.9 518.6 1074 527.3 1050 535.7 1026 543.9 1002 551.7 978 559.3 954 566.6 929.9 573.5 905.9 580.1 881.8 586.4 857.6 592.2 833.5 597.7 809.4 602.7 785.2 607.3 760.9 611.4 736.7 615.1 712.4 618.3 688.1 621 663.8 623.1 639.4 624.7 615 625.7 590.6 626.2 566.1 626 541.6 625.1 517 623.7 492.4 621.5 467.7 618.6 443 615 418.2 610.7 393.4 605.6M1466.9 353.7 1443.2 364.6 1419.5 375.5 1395.8 386.3 1372 397 1348.3 407.5 1324.5 418 1300.8 428.3 1277 438.5 1253.2 448.6 1229.4 458.5 1205.6 468.2 1181.8 477.7 1157.9 487 1134.1 496.2 1110.2 505 1086.3 513.7 1062.4 522.1 1038.5 530.2 1014.6 538.1 990.7 545.6 966.7 552.8 942.7 559.7 918.7 566.3 894.7 572.5 870.7 578.3 846.6 583.7 822.5 588.7 798.4 593.2 774.3 597.3 750.1 601 725.9 604.1 701.7 606.8 677.4 608.9 653.1 610.4 628.8 611.4 604.4 611.8 580 611.6 555.5 610.7 531 609.2 506.5 607 481.9 604.2 457.3 600.5 432.6 596.2 407.8 591M1454.5 351.8 1430.8 362.7 1407.2 373.4 1383.5 384 1359.8 394.6 1336.2 405 1312.5 415.3 1288.8 425.4 1265 435.4 1241.3 445.3 1217.6 454.9 1193.8 464.4 1170 473.7 1146.3 482.8 1122.5 491.6 1098.6 500.2 1074.8 508.6 1051 516.7 1027.1 524.5 1003.3 532 979.4 539.1 955.5 546 931.5 552.5 907.6 558.7 883.6 564.4 859.6 569.8 835.6 574.7 811.6 579.3 787.5 583.3 763.4 586.9 739.3 590.1 715.1 592.7 690.9 594.7 666.7 596.3 642.4 597.2 618.1 597.6 593.8 597.3 569.4 596.5 545 594.9 520.5 592.7 496 589.8 471.5 586.1 446.8 581.7 422.2 576.6M1442.1 349.9 1418.5 360.6 1394.9 371.2 1371.3 381.7 1347.7 392.1 1324.1 402.3 1300.5 412.4 1276.8 422.4 1253.1 432.2 1229.5 441.8 1205.8 451.2 1182.1 460.5 1158.4 469.5 1134.6 478.3 1110.9 486.8 1087.1 495.1 1063.4 503.2 1039.6 510.9 1015.8 518.4 992 525.5 968.1 532.4 944.3 538.8 920.4 544.9 896.5 550.7 872.6 556 848.6 560.9 824.6 565.4 800.6 569.4 776.6 573 752.6 576.1 728.5 578.6 704.4 580.7 680.2 582.2 656 583.1 631.8 583.4 607.6 583.2 583.3 582.3 558.9 580.7 534.5 578.4 510.1 575.5 485.6 571.8 461.1 567.4 436.5 562.2M1429.8 347.9 1406.3 358.4 1382.8 368.9 1359.2 379.2 1335.7 389.4 1312.1 399.5 1288.5 409.4 1264.9 419.1 1241.3 428.7 1217.7 438.1 1194 447.3 1170.4 456.3 1146.7 465 1123.1 473.5 1099.4 481.8 1075.7 489.8 1052 497.5 1028.2 504.9 1004.5 512 980.7 518.8 956.9 525.2 933.1 531.3 909.3 537 885.4 542.3 861.6 547.2 837.7 551.6 813.7 555.6 789.8 559.2 765.8 562.2 741.8 564.7 717.7 566.7 693.7 568.2 669.6 569.1 645.4 569.4 621.2 569.1 597 568.2 572.7 566.6 548.4 564.3 524.1 561.3 499.7 557.6 475.2 553.2 450.7 548M1417.6 345.7 1394.1 356.1 1370.7 366.4 1347.2 376.6 1323.7 386.6 1300.1 396.5 1276.6 406.2 1253.1 415.7 1229.5 425.1 1205.9 434.2 1182.4 443.2 1158.8 451.9 1135.2 460.3 1111.6 468.6 1087.9 476.5 1064.3 484.2 1040.6 491.6 1016.9 498.6 993.2 505.4 969.5 511.8 945.8 517.8 922 523.4 898.2 528.7 874.4 533.5 850.6 537.9 826.7 541.9 802.9 545.4 779 548.4 755 550.9 731 552.9 707 554.3 683 555.2 658.9 555.5 634.8 555.1 610.7 554.2 586.5 552.5 562.3 550.2 538 547.2 513.6 543.5 489.3 539.1 464.8 533.8M1405.4 343.5 1382 353.7 1358.6 363.9 1335.2 373.8 1311.7 383.7 1288.2 393.3 1264.8 402.8 1241.3 412.1 1217.8 421.2 1194.3 430.1 1170.8 438.8 1147.2 447.2 1123.7 455.4 1100.1 463.3 1076.5 470.9 1052.9 478.3 1029.3 485.3 1005.7 492 982 498.4 958.4 504.3 934.7 510 911 515.2 887.2 520 863.5 524.4 839.7 528.3 815.9 531.7 792 534.7 768.2 537.2 744.3 539.1 720.4 540.5 696.4 541.4 672.4 541.6 648.4 541.2 624.3 540.2 600.2 538.6 576 536.3 551.8 533.3 527.5 529.5 503.2 525 478.9 519.8M1393.3 341.1 1370 351.2 1346.6 361.1 1323.2 370.9 1299.8 380.5 1276.4 390 1253 399.3 1229.6 408.3 1206.1 417.2 1182.7 425.8 1159.2 434.2 1135.7 442.3 1112.2 450.2 1088.7 457.8 1065.2 465.1 1041.6 472.1 1018.1 478.7 994.5 485 970.9 491 947.3 496.6 923.6 501.7 900 506.5 876.3 510.9 852.6 514.7 828.8 518.2 805.1 521.1 781.3 523.6 757.4 525.5 733.6 526.8 709.7 527.6 685.8 527.8 661.8 527.5 637.8 526.4 613.8 524.8 589.7 522.4 565.5 519.4 541.4 515.6 517.1 511.1 492.9 505.8M1381.3 338.6 1358 348.5 1334.7 358.3 1311.3 367.8 1288 377.2 1264.6 386.5 1241.3 395.5 1217.9 404.3 1194.5 412.9 1171.1 421.2 1147.7 429.3 1124.3 437.2 1100.8 444.7 1077.4 452 1053.9 458.9 1030.4 465.5 1006.9 471.8 983.3 477.7 959.8 483.3 936.2 488.4 912.6 493.1 889 497.4 865.4 501.3 841.7 504.7 818 507.6 794.3 510 770.5 511.9 746.8 513.2 722.9 514 699.1 514.2 675.2 513.8 651.3 512.7 627.3 511 603.3 508.7 579.2 505.6 555.1 501.8 531 497.3 506.8 492M1369.3 336 1346.1 345.7 1322.8 355.2 1299.5 364.6 1276.2 373.8 1252.9 382.7 1229.6 391.5 1206.3 400.1 1183 408.4 1159.6 416.4 1136.3 424.2 1112.9 431.7 1089.5 438.9 1066.1 445.9 1042.6 452.4 1019.2 458.7 995.7 464.5 972.3 470 948.8 475.2 925.2 479.9 901.7 484.1 878.1 487.9 854.5 491.3 830.9 494.2 807.2 496.6 783.6 498.4 759.8 499.7 736.1 500.5 712.3 500.6 688.5 500.2 664.6 499.1 640.8 497.4 616.8 495 592.8 491.9 568.8 488.1 544.7 483.5 520.6 478.2M1357.4 333.2 1334.2 342.7 1311 352 1287.8 361.1 1264.5 370.1 1241.3 378.8 1218 387.3 1194.8 395.6 1171.5 403.6 1148.2 411.4 1124.9 418.8 1101.5 426 1078.2 432.9 1054.8 439.4 1031.5 445.6 1008.1 451.5 984.7 456.9 961.2 462 937.8 466.7 914.3 470.9 890.8 474.7 867.3 478 843.7 480.9 820.1 483.2 796.5 485 772.9 486.3 749.2 487 725.5 487.1 701.7 486.7 678 485.6 654.1 483.8 630.3 481.4 606.4 478.3 582.4 474.5 558.4 469.9 534.4 464.6M1345.5 330.2 1322.4 339.5 1299.2 348.6 1276.1 357.5 1252.9 366.2 1229.7 374.7 1206.5 382.9 1183.3 390.9 1160 398.6 1136.8 406 1113.5 413.1 1090.3 420 1067 426.5 1043.7 432.6 1020.3 438.4 997 443.9 973.6 448.9 950.2 453.5 926.8 457.7 903.4 461.5 879.9 464.8 856.4 467.6 832.9 469.9 809.4 471.7 785.8 473 762.2 473.6 738.6 473.8 714.9 473.3 691.2 472.1 667.5 470.4 643.7 467.9 619.8 464.8 596 460.9 572 456.4 548.1 451M1333.7 327.1 1310.6 336.2 1287.5 345 1264.4 353.7 1241.3 362.1 1218.1 370.3 1195 378.2 1171.8 385.9 1148.7 393.3 1125.5 400.4 1102.2 407.2 1079 413.6 1055.8 419.8 1032.5 425.5 1009.2 430.9 985.9 435.9 962.6 440.5 939.3 444.7 915.9 448.4 892.5 451.7 869.1 454.5 845.7 456.7 822.2 458.5 798.7 459.7 775.2 460.4 751.6 460.5 728 459.9 704.4 458.8 680.7 457 657 454.5 633.2 451.4 609.4 447.5 585.6 442.9 561.7 437.5M1322 323.8 1298.9 332.6 1275.9 341.2 1252.8 349.6 1229.7 357.7 1206.7 365.6 1183.6 373.3 1160.4 380.6 1137.3 387.7 1114.2 394.4 1091 400.9 1067.8 407 1044.7 412.7 1021.4 418 998.2 423 975 427.6 951.7 431.7 928.4 435.4 905.1 438.6 881.7 441.4 858.3 443.6 834.9 445.4 811.5 446.6 788.1 447.2 764.6 447.2 741 446.7 717.5 445.5 693.9 443.7 670.2 441.2 646.5 438.1 622.8 434.2 599 429.5 575.2 424.2M1310.3 320.2 1287.3 328.8 1264.3 337.2 1241.3 345.3 1218.3 353.1 1195.2 360.7 1172.2 368 1149.1 375.1 1126 381.8 1103 388.2 1079.8 394.2 1056.7 399.9 1033.6 405.3 1010.4 410.2 987.2 414.7 964 418.8 940.8 422.5 917.5 425.7 894.3 428.4 871 430.6 847.6 432.3 824.3 433.5 800.9 434.1 777.4 434.1 754 433.6 730.5 432.4 707 430.5 683.4 428 659.8 424.8 636.1 420.9 612.4 416.3 588.7 410.9M1298.6 316.5 1275.7 324.8 1252.8 332.9 1229.8 340.7 1206.8 348.3 1183.9 355.5 1160.9 362.5 1137.8 369.2 1114.8 375.6 1091.8 381.6 1068.7 387.3 1045.6 392.5 1022.5 397.4 999.4 401.9 976.3 406 953.1 409.6 929.9 412.8 906.7 415.5 883.5 417.7 860.2 419.4 836.9 420.5 813.6 421.1 790.3 421.1 766.9 420.5 743.5 419.3 720 417.4 696.5 414.9 673 411.7 649.4 407.8 625.8 403.1 602.1 397.7M1287.1 312.6 1264.2 320.6 1241.3 328.4 1218.4 335.9 1195.5 343.1 1172.5 350.1 1149.6 356.7 1126.6 363.1 1103.7 369 1080.7 374.7 1057.6 379.9 1034.6 384.8 1011.6 389.3 988.5 393.3 965.4 396.9 942.3 400 919.1 402.7 896 404.9 872.8 406.5 849.6 407.6 826.3 408.2 803 408.1 779.7 407.5 756.4 406.3 733 404.4 709.5 401.9 686.1 398.6 662.6 394.7 639 390 615.4 384.6M1275.5 308.4 1252.7 316.1 1229.9 323.6 1207 330.8 1184.2 337.7 1161.3 344.3 1138.4 350.6 1115.5 356.6 1092.5 362.2 1069.6 367.4 1046.6 372.2 1023.6 376.6 1000.6 380.6 977.6 384.2 954.6 387.3 931.5 390 908.4 392.1 885.3 393.7 862.1 394.8 838.9 395.3 815.7 395.3 792.5 394.6 769.2 393.4 745.9 391.5 722.5 388.9 699.1 385.7 675.7 381.7 652.2 377 628.7 371.6M1264.1 303.9 1241.3 311.4 1218.5 318.5 1195.7 325.4 1172.9 332 1150.1 338.2 1127.2 344.2 1104.3 349.7 1081.5 354.9 1058.6 359.7 1035.6 364.1 1012.7 368.1 989.7 371.6 966.8 374.7 943.8 377.3 920.7 379.4 897.7 381 874.6 382.1 851.5 382.6 828.3 382.5 805.1 381.8 781.9 380.6 758.7 378.6 735.4 376 712.1 372.8 688.7 368.8 665.3 364.1 641.8 358.6M1252.7 299.2 1229.9 306.4 1207.2 313.2 1184.4 319.7 1161.7 326 1138.9 331.8 1116.1 337.4 1093.3 342.5 1070.4 347.3 1047.6 351.7 1024.7 355.6 1001.8 359.1 978.9 362.2 956 364.7 933 366.8 910 368.4 887 369.4 864 369.9 840.9 369.8 817.8 369.1 794.6 367.8 771.4 365.9 748.2 363.3 725 360 701.7 356 678.3 351.3 655 345.8M1241.3 294.3 1218.6 301.1 1195.9 307.6 1173.2 313.8 1150.5 319.6 1127.8 325.1 1105 330.2 1082.3 335 1059.5 339.3 1036.7 343.2 1013.8 346.7 991 349.7 968.1 352.3 945.2 354.3 922.3 355.8 899.3 356.9 876.4 357.3 853.4 357.2 830.3 356.5 807.2 355.2 784.1 353.2 761 350.6 737.8 347.3 714.6 343.3 691.3 338.5 668 333M1230 289 1207.4 295.5 1184.7 301.6 1162.1 307.4 1139.4 312.9 1116.7 318 1094 322.7 1071.3 327 1048.6 330.9 1025.8 334.3 1003 337.3 980.2 339.8 957.4 341.9 934.5 343.4 911.6 344.4 888.7 344.8 865.8 344.7 842.8 343.9 819.8 342.6 796.8 340.6 773.7 338 750.6 334.6 727.4 330.6 704.2 325.9 681 320.3M1218.8 283.4 1196.2 289.6 1173.6 295.3 1151 300.8 1128.4 305.8 1105.7 310.5 1083.1 314.8 1060.4 318.6 1037.7 322.1 1015 325 992.2 327.5 969.5 329.5 946.7 331 923.9 332 901 332.4 878.1 332.2 855.2 331.5 832.3 330.1 809.3 328.1 786.3 325.4 763.3 322.1 740.2 318 717.1 313.3 693.9 307.8M1207.6 277.6 1185 283.3 1162.5 288.7 1139.9 293.8 1117.4 298.4 1094.8 302.6 1072.1 306.5 1049.5 309.9 1026.9 312.8 1004.2 315.3 981.5 317.2 958.8 318.7 936 319.6 913.2 320 890.4 319.8 867.6 319.1 844.7 317.7 821.8 315.7 798.9 313 775.9 309.6 752.9 305.6 729.8 300.8 706.7 295.2M1196.4 271.4 1173.9 276.8 1151.4 281.8 1128.9 286.4 1106.4 290.6 1083.9 294.4 1061.3 297.7 1038.7 300.7 1016.1 303.1 993.4 305 970.8 306.5 948.1 307.4 925.4 307.8 902.7 307.5 879.9 306.7 857.1 305.3 834.3 303.3 811.4 300.6 788.5 297.2 765.5 293.2 742.6 288.4 719.5 282.8M1185.3 264.9 1162.9 269.8 1140.4 274.4 1118 278.6 1095.5 282.4 1073 285.7 1050.5 288.6 1027.9 291 1005.4 292.9 982.8 294.3 960.1 295.2 937.5 295.6 914.8 295.3 892.1 294.5 869.4 293.1 846.6 291 823.8 288.3 801 284.9 778.1 280.8 755.2 276 732.2 270.5M1174.3 258 1151.9 262.5 1129.5 266.7 1107.1 270.4 1084.6 273.7 1062.2 276.6 1039.7 279 1017.2 280.9 994.7 282.3 972.1 283.1 949.5 283.4 926.9 283.2 904.3 282.4 881.6 280.9 858.9 278.8 836.2 276.1 813.4 272.7 790.6 268.6 767.8 263.8 744.9 258.2M1163.3 250.7 1141 254.9 1118.6 258.6 1096.2 261.8 1073.8 264.7 1051.4 267 1029 268.9 1006.5 270.3 984 271.1 961.5 271.4 939 271.1 916.4 270.3 893.8 268.8 871.2 266.7 848.5 264 825.8 260.6 803.1 256.4 780.3 251.6 757.5 246M1152.4 243.1 1130.1 246.8 1107.8 250 1085.4 252.8 1063.1 255.2 1040.7 257 1018.3 258.4 995.9 259.2 973.4 259.4 950.9 259.2 928.4 258.3 905.9 256.8 883.3 254.7 860.7 251.9 838.1 248.5 815.4 244.4 792.7 239.5 770 233.9M1141.5 235.1 1119.2 238.3 1097 241.1 1074.7 243.4 1052.3 245.2 1030 246.5 1007.7 247.3 985.3 247.6 962.9 247.2 940.4 246.3 917.9 244.8 895.5 242.7 872.9 239.9 850.4 236.5 827.8 232.3 805.1 227.5 782.4 221.9M1130.6 226.6 1108.4 229.4 1086.2 231.6 1063.9 233.4 1041.7 234.7 1019.4 235.5 997.1 235.7 974.7 235.4 952.3 234.5 929.9 233 907.5 230.8 885 228 862.5 224.6 840 220.4 817.4 215.5 794.8 209.9M1119.8 217.7 1097.7 220 1075.5 221.8 1053.3 223 1031 223.8 1008.8 224 986.5 223.7 964.2 222.7 941.9 221.2 919.5 219 897.1 216.2 874.7 212.7 852.2 208.6 829.7 203.7 807.1 198.1M1109.1 208.4 1087 210.2 1064.8 211.4 1042.7 212.1 1020.5 212.3 998.2 212 976 211 953.7 209.5 931.4 207.3 909.1 204.5 886.7 201 864.3 196.8 841.9 191.9 819.4 186.3M1098.4 198.6 1076.3 199.9 1054.2 200.6 1032.1 200.7 1009.9 200.4 987.7 199.4 965.5 197.8 943.3 195.6 921 192.8 898.7 189.3 876.4 185.1 854 180.2 831.6 174.5M1087.7 188.4 1065.7 189.1 1043.6 189.2 1021.5 188.8 999.4 187.8 977.3 186.2 955.1 184 932.9 181.2 910.7 177.7 888.4 173.4 866.1 168.5 843.7 162.9M1077.1 177.6 1055.1 177.8 1033.1 177.3 1011 176.3 989 174.7 966.8 172.5 944.7 169.6 922.5 166.1 900.3 161.9 878.1 157 855.8 151.3M1066.6 166.4 1044.6 165.9 1022.6 164.9 1000.6 163.3 978.5 161.1 956.5 158.2 934.4 154.6 912.2 150.4 890 145.5 867.8 139.8M1056 154.6 1034.1 153.6 1012.1 151.9 990.2 149.7 968.2 146.8 946.1 143.2 924 139 901.9 134 879.8 128.4M1045.5 142.3 1023.7 140.6 1001.7 138.4 979.8 135.5 957.8 131.9 935.8 127.6 913.8 122.7 891.7 117M1035.1 129.4 1013.2 127.1 991.4 124.2 969.4 120.6 947.5 116.4 925.5 111.4 903.5 105.7M1024.7 116 1002.9 113 981 109.4 959.1 105.2 937.2 100.2 915.3 94.5M1014.3 101.9 992.6 98.3 970.7 94 948.9 89 927 83.3M1004 87.2 982.3 83 960.5 78 938.7 72.3M993.7 72 972 67 950.2 61.2M983.5 56 961.8 50.3"/>
</g>
<circle cx="319.3" cy="658.9" r="14.2" fill="url(#rb)"/>
<circle cx="367.7" cy="793.5" r="14.2" fill="url(#rb)"/>
<circle cx="381.5" cy="799.6" r="14.2" fill="url(#rb)"/>
<circle cx="471" cy="804.2" r="14.2" fill="url(#rb)"/>
<circle cx="685.6" cy="782.8" r="14.2" fill="url(#rb)"/>
<circle cx="902.5" cy="729" r="14.2" fill="url(#rb)"/>
<circle cx="944" cy="685" r="14.2" fill="url(#rb)"/>
<circle cx="1009.9" cy="687.2" r="14.2" fill="url(#rb)"/>
<circle cx="1543.2" cy="336" r="14.2" fill="url(#rb)"/>
<line x1="929" y1="1178.2" x2="928.2" y2="66" stroke="#111" stroke-width="1.7" stroke-dasharray="1.9 7.6"/>
<line x1="928.2" y1="66" x2="224.4" y2="32.7" stroke="#111" stroke-width="1.7" stroke-dasharray="1.9 7.6"/>
<line x1="928.2" y1="66" x2="1592.9" y2="29" stroke="#111" stroke-width="1.7" stroke-dasharray="1.9 7.6"/>
<line x1="929" y1="1178.2" x2="249" y2="975.9" stroke="#0a0a0a" stroke-width="3.5" stroke-linecap="square"/>
<line x1="929" y1="1178.2" x2="1571.1" y2="966.5" stroke="#0a0a0a" stroke-width="3.5" stroke-linecap="square"/>
<line x1="1571.1" y1="966.5" x2="1592.9" y2="29" stroke="#0a0a0a" stroke-width="4.6" stroke-linecap="square"/>
<line x1="798.8" y1="1139.5" x2="813.3" y2="1135" stroke="#0a0a0a" stroke-width="3.5" />
<line x1="664.3" y1="1099.5" x2="678.7" y2="1095.2" stroke="#0a0a0a" stroke-width="3.5" />
<line x1="537.8" y1="1061.8" x2="552.3" y2="1057.9" stroke="#0a0a0a" stroke-width="3.5" />
<line x1="418.8" y1="1026.4" x2="433.2" y2="1022.7" stroke="#0a0a0a" stroke-width="3.5" />
<line x1="306.6" y1="993" x2="321" y2="989.5" stroke="#0a0a0a" stroke-width="3.5" />
<line x1="1091.7" y1="1124.6" x2="1076.6" y2="1120.4" stroke="#0a0a0a" stroke-width="3.5" />
<line x1="1241.8" y1="1075" x2="1226.8" y2="1071.2" stroke="#0a0a0a" stroke-width="3.5" />
<line x1="1380.8" y1="1029.2" x2="1366" y2="1025.6" stroke="#0a0a0a" stroke-width="3.5" />
<line x1="1509.9" y1="986.6" x2="1495.2" y2="983.3" stroke="#0a0a0a" stroke-width="3.5" />
<line x1="1553.1" y1="966.5" x2="1571.1" y2="966.5" stroke="#0a0a0a" stroke-width="4.1" />
<line x1="1556.1" y1="836.4" x2="1574.1" y2="836.4" stroke="#0a0a0a" stroke-width="4.1" />
<line x1="1559.2" y1="705.1" x2="1577.2" y2="705.1" stroke="#0a0a0a" stroke-width="4.1" />
<line x1="1562.2" y1="572.5" x2="1580.2" y2="572.5" stroke="#0a0a0a" stroke-width="4.1" />
<line x1="1565.3" y1="438.7" x2="1583.3" y2="438.7" stroke="#0a0a0a" stroke-width="4.1" />
<line x1="1568.5" y1="303.4" x2="1586.5" y2="303.4" stroke="#0a0a0a" stroke-width="4.1" />
<line x1="1571.7" y1="166.9" x2="1589.7" y2="166.9" stroke="#0a0a0a" stroke-width="4.1" />
<line x1="1574.9" y1="30.5" x2="1592.9" y2="30.5" stroke="#0a0a0a" stroke-width="4.1" />
<line x1="249" y1="975.9" x2="248.5" y2="957.6" stroke="#0a0a0a" stroke-width="3.5" />
<g id="R">
<line x1="3478.5" y1="951.3" x2="3484.2" y2="26.4" stroke="#c2c7c7" stroke-width="1.3" />
<line x1="2822.5" y1="1161.2" x2="3478.5" y2="951.3" stroke="#c2c7c7" stroke-width="1.3" />
<line x1="3333.9" y1="921" x2="3334.6" y2="23.5" stroke="#c2c7c7" stroke-width="1.3" />
<line x1="2675.4" y1="1118.3" x2="3333.9" y2="921" stroke="#c2c7c7" stroke-width="1.3" />
<line x1="3197.7" y1="892.5" x2="3194" y2="20.8" stroke="#c2c7c7" stroke-width="1.3" />
<line x1="2538.2" y1="1078.2" x2="3197.7" y2="892.5" stroke="#c2c7c7" stroke-width="1.3" />
<line x1="3069.1" y1="865.6" x2="3061.4" y2="18.2" stroke="#c2c7c7" stroke-width="1.3" />
<line x1="2410" y1="1040.8" x2="3069.1" y2="865.6" stroke="#c2c7c7" stroke-width="1.3" />
<line x1="2947.6" y1="840.2" x2="2936.4" y2="15.8" stroke="#c2c7c7" stroke-width="1.3" />
<line x1="2289.9" y1="1005.8" x2="2947.6" y2="840.2" stroke="#c2c7c7" stroke-width="1.3" />
<line x1="2396" y1="949" x2="2364.9" y2="40.6" stroke="#c2c7c7" stroke-width="1.3" />
<line x1="3065.9" y1="1128.9" x2="2396" y2="949" stroke="#c2c7c7" stroke-width="1.3" />
<line x1="2548.6" y1="911.5" x2="2523.6" y2="32.6" stroke="#c2c7c7" stroke-width="1.3" />
<line x1="3218.9" y1="1078.2" x2="2548.6" y2="911.5" stroke="#c2c7c7" stroke-width="1.3" />
<line x1="2691.6" y1="876.4" x2="2671.9" y2="25" stroke="#c2c7c7" stroke-width="1.3" />
<line x1="3360.7" y1="1031.2" x2="2691.6" y2="876.4" stroke="#c2c7c7" stroke-width="1.3" />
<line x1="2825.9" y1="843.5" x2="2810.9" y2="18" stroke="#c2c7c7" stroke-width="1.3" />
<line x1="3492.4" y1="987.6" x2="2825.9" y2="843.5" stroke="#c2c7c7" stroke-width="1.3" />
<line x1="2230.8" y1="943.6" x2="2888.6" y2="788.4" stroke="#c2c7c7" stroke-width="1.3" />
<line x1="2888.6" y1="788.4" x2="3554.6" y2="921.7" stroke="#c2c7c7" stroke-width="1.3" />
<line x1="2227.1" y1="852.2" x2="2887.4" y2="709" stroke="#c2c7c7" stroke-width="1.3" />
<line x1="2887.4" y1="709" x2="3555.4" y2="830.3" stroke="#c2c7c7" stroke-width="1.3" />
<line x1="2223.4" y1="760.1" x2="2886.1" y2="629.1" stroke="#c2c7c7" stroke-width="1.3" />
<line x1="2886.1" y1="629.1" x2="3556.2" y2="738.3" stroke="#c2c7c7" stroke-width="1.3" />
<line x1="2219.7" y1="667.5" x2="2884.8" y2="548.8" stroke="#c2c7c7" stroke-width="1.3" />
<line x1="2884.8" y1="548.8" x2="3557" y2="645.7" stroke="#c2c7c7" stroke-width="1.3" />
<line x1="2215.9" y1="574.2" x2="2883.6" y2="468" stroke="#c2c7c7" stroke-width="1.3" />
<line x1="2883.6" y1="468" x2="3557.9" y2="552.5" stroke="#c2c7c7" stroke-width="1.3" />
<line x1="2212.1" y1="480.2" x2="2882.3" y2="386.6" stroke="#c2c7c7" stroke-width="1.3" />
<line x1="2882.3" y1="386.6" x2="3558.7" y2="458.6" stroke="#c2c7c7" stroke-width="1.3" />
<line x1="2208.3" y1="385.6" x2="2881" y2="304.8" stroke="#c2c7c7" stroke-width="1.3" />
<line x1="2881" y1="304.8" x2="3559.6" y2="364" stroke="#c2c7c7" stroke-width="1.3" />
<line x1="2204.4" y1="290.3" x2="2879.7" y2="222.6" stroke="#c2c7c7" stroke-width="1.3" />
<line x1="2879.7" y1="222.6" x2="3560.4" y2="268.8" stroke="#c2c7c7" stroke-width="1.3" />
<line x1="2200.6" y1="194.4" x2="2878.4" y2="139.8" stroke="#c2c7c7" stroke-width="1.3" />
<line x1="2878.4" y1="139.8" x2="3561.3" y2="173" stroke="#c2c7c7" stroke-width="1.3" />
<line x1="2196.6" y1="97.8" x2="2877.1" y2="56.5" stroke="#c2c7c7" stroke-width="1.3" />
<line x1="2877.1" y1="56.5" x2="3562.2" y2="76.4" stroke="#c2c7c7" stroke-width="1.3" />
<line x1="2232.6" y1="989.1" x2="2889.2" y2="827.9" stroke="#111" stroke-width="1.5" />
<line x1="2889.2" y1="827.9" x2="3554.1" y2="967.1" stroke="#111" stroke-width="1.5" />
<line x1="2889.2" y1="827.9" x2="2876.4" y2="14.7" stroke="#111" stroke-width="1.5" />
<line x1="2194.7" y1="49.2" x2="2876.4" y2="14.7" stroke="#111" stroke-width="1.5" />
<line x1="2876.4" y1="14.7" x2="3562.6" y2="27.9" stroke="#111" stroke-width="1.5" />
<line x1="3554.1" y1="967.1" x2="3562.6" y2="27.9" stroke="#111" stroke-width="1.5" />
</g>
<polygon points="2899.9,1144.2 2891.5,1141.2 2883,1138.2 2874.5,1135.3 2866,1132.5 2857.5,1129.6 2849,1126.8 2840.5,1124.1 2831.9,1121.3 2823.4,1118.6 2814.8,1115.9 2806.3,1113.2 2797.7,1110.6 2789.2,1107.9 2780.6,1105.2 2772.1,1102.5 2763.5,1099.8 2755,1097.1 2746.4,1094.4 2737.9,1091.7 2729.4,1088.9 2720.8,1086.1 2712.3,1083.2 2703.9,1080.3 2695.4,1077.4 2686.9,1074.4 2678.5,1071.3 2670.1,1068.2 2661.7,1065 2653.3,1061.8 2644.7,1058.3 2635.9,1054.7 2626.8,1050.9 2617.6,1046.8 2608,1042.5 2598.2,1037.9 2588.2,1033 2577.8,1027.8 2567.1,1022.2 2556.1,1016.1 2544.8,1009.5 2533.2,1002.4 2521.2,994.6 2508.9,986.2 2496.3,976.9 2483.3,966.7 2470.2,955.6 2456.8,943.2 2443.4,929.6 2430,914.6 2416.7,898.3 2403.7,881.1 2390.7,863.4 2377.8,845.6 2365,827.5 2352.5,808.5 2340.6,788.3 2329.6,766.6 2319.5,743.7 2310.4,719.8 2302.1,695.1 2294.6,670 2287.6,644.6 2281.1,619.1 2274.9,593.5 2269,567.8 2263.5,542 2258.2,516.2 2253.1,490.4 2248.3,464.5 2243.6,438.6 2239,412.7 2234.6,386.7 2230.2,360.7 2225.9,334.8 2221.5,308.8 2217.1,282.8 2212.7,256.9 2208.2,230.9 2203.5,205 2203.5,205 2211.2,200.8 2219.1,196.8 2226.9,192.8 2234.9,189 2242.9,185.3 2251,181.8 2259.1,178.4 2267.2,175 2275.4,171.8 2283.7,168.7 2291.9,165.7 2300.3,162.8 2308.6,160 2317,157.3 2325.4,154.7 2333.8,152.2 2342.3,149.7 2350.8,147.4 2359.3,145.1 2367.8,142.8 2376.3,140.7 2384.9,138.6 2393.5,136.5 2402,134.5 2410.6,132.5 2419.2,130.6 2427.8,128.7 2436.4,126.9 2445.1,125.1 2453.7,123.3 2462.3,121.5 2470.9,119.8 2479.6,118.1 2488.2,116.4 2496.9,114.8 2505.5,113.1 2514.2,111.5 2522.8,109.9 2531.5,108.3 2540.2,106.7 2548.8,105.1 2557.5,103.5 2566.2,101.9 2574.8,100.3 2583.5,98.7 2592.1,97.1 2600.8,95.5 2609.5,93.9 2618.1,92.2 2626.8,90.6 2635.4,88.9 2644.1,87.3 2652.7,85.6 2661.4,83.9 2670,82.2 2678.6,80.5 2687.3,78.8 2695.9,77.1 2704.5,75.3 2713.2,73.5 2721.8,71.8 2730.4,70 2739,68.1 2747.6,66.3 2756.3,64.4 2764.9,62.6 2773.5,60.7 2782.1,58.7 2790.6,56.8 2799.2,54.8 2807.8,52.8 2816.4,50.8 2824.9,48.8 2833.5,46.7 2842.1,44.6 2850.6,42.5 2859.1,40.3 2867.7,38.1 2876.2,35.9 2876.2,35.9 2883.4,61.8 2890.5,87.6 2897.5,113.5 2904.5,139.4 2911.4,165.3 2918.3,191.3 2925.1,217.2 2931.7,243.2 2938.4,269.2 2944.9,295.2 2951.3,321.3 2957.7,347.4 2964.1,373.4 2970.7,399.4 2977.6,425.3 2985.1,451.1 2993.2,476.7 3002.2,502 3012,526.6 3022.7,550.3 3034.3,573 3046.8,594.3 3060,614.2 3073.8,632.5 3088,649.2 3102.4,664.2 3116.8,677.6 3131.1,689.4 3145,699.6 3158.3,708.3 3171.1,715.7 3183.1,721.8 3194.2,726.8 3204.6,730.9 3214,734.2 3222.7,736.9 3230.7,739.1 3238.4,741 3246,742.8 3253.7,744.4 3261.4,745.9 3269.1,747.3 3276.9,748.7 3284.6,749.9 3292.4,751.2 3300.1,752.4 3307.9,753.6 3315.6,754.8 3323.4,756 3331.2,757.2 3338.9,758.5 3346.7,759.7 3354.4,761 3362.1,762.4 3369.9,763.7 3377.6,765.2 3385.3,766.6 3393,768.2 3400.7,769.8 3408.4,771.4 3416,773.1 3423.7,774.9 3431.3,776.7 3439,778.5 3446.6,780.4 3454.2,782.3 3461.8,784.3 3469.4,786.2 3477.1,788.2 3484.9,790.3 3492.7,792.4 3500.5,794.5 3508.3,796.6 3516.2,798.7 3524,800.8 3531.8,802.9 3539.6,804.9 3547.3,807 3555,809 3555,809 3547.6,814.7 3540.1,820.3 3532.6,825.8 3525,831.3 3517.4,836.8 3509.8,842.2 3502.1,847.5 3494.4,852.8 3486.7,858.1 3479,863.3 3471.2,868.4 3463.3,873.5 3455.5,878.6 3447.6,883.6 3439.7,888.6 3431.8,893.5 3423.8,898.4 3415.8,903.3 3407.8,908.1 3399.7,912.8 3391.7,917.5 3383.6,922.2 3375.5,926.8 3367.3,931.4 3359.2,936 3351,940.5 3342.8,945 3334.6,949.4 3326.3,953.8 3318.1,958.2 3309.8,962.5 3301.5,966.8 3293.2,971.1 3284.9,975.3 3276.5,979.5 3268.1,983.7 3259.8,987.8 3251.4,992 3243,996 3234.6,1000.1 3226.1,1004.1 3217.7,1008.1 3209.2,1012.1 3200.7,1016 3192.3,1019.9 3183.8,1023.8 3175.3,1027.7 3166.8,1031.6 3158.2,1035.4 3149.7,1039.2 3141.2,1043 3132.6,1046.8 3124.1,1050.5 3115.5,1054.3 3106.9,1058 3098.3,1061.7 3089.8,1065.4 3081.2,1069 3072.6,1072.7 3064,1076.3 3055.3,1080 3046.7,1083.6 3038.1,1087.2 3029.5,1090.8 3020.9,1094.4 3012.2,1098 3003.6,1101.6 2995,1105.1 2986.3,1108.7 2977.7,1112.3 2969.1,1115.8 2960.4,1119.4 2951.8,1122.9 2943.1,1126.5 2934.5,1130 2925.8,1133.6 2917.2,1137.1 2908.5,1140.6 2899.9,1144.2" fill="#c6f6a5" stroke="none"/>
<path d="M2899.9 1144.2 2856.8 1129.4 2813.5 1115.5 2770 1101.9 2726.7 1088 2683.6 1073.2 2640.6 1056.6 2592.7 1035.3 2550.5 1012.9 2521.6 994.9 2490.6 972.6 2458.1 944.4 2425 908.6 2392.7 866.2 2361.1 821.7 2331.9 771.5 2308.3 713.7 2290.2 654.2 2274.3 590.8 2260.3 526.9 2247.9 462.7 2236.6 398.3 2225.7 333.9 2214.9 269.4 2203.5 205M2902.2 1143.3 2859.1 1128.4 2815.7 1114.5 2772.3 1100.9 2728.9 1086.9 2685.9 1072.1 2642.8 1055.5 2595 1034.2 2552.8 1011.8 2523.9 993.8 2493 971.6 2460.4 943.4 2427.3 907.6 2395.1 865.2 2363.4 820.8 2334.2 770.5 2310.5 712.7 2292.4 653.3 2276.5 589.8 2262.5 525.9 2250.1 461.7 2238.7 397.3 2227.8 332.8 2216.9 268.3 2205.5 203.9M2904.5 1142.3 2861.4 1127.5 2818 1113.5 2774.6 1099.8 2731.2 1085.9 2688.1 1071 2645.1 1054.4 2597.2 1033.1 2555.1 1010.7 2526.2 992.8 2495.3 970.5 2462.7 942.4 2429.6 906.7 2397.4 864.3 2365.7 819.9 2336.4 769.6 2312.7 711.8 2294.7 652.3 2278.7 588.9 2264.7 524.9 2252.3 460.7 2240.8 396.3 2229.9 331.7 2219 267.2 2207.6 202.8M2906.7 1141.4 2863.6 1126.5 2820.3 1112.5 2776.8 1098.8 2733.4 1084.8 2690.4 1069.9 2647.3 1053.3 2599.5 1032 2557.3 1009.6 2528.5 991.7 2497.6 969.5 2465.1 941.5 2432 905.7 2399.7 863.4 2368 819 2338.7 768.7 2315 710.9 2296.9 651.4 2280.9 587.9 2266.9 524 2254.4 459.7 2243 395.2 2232 330.7 2221.1 266.1 2209.6 201.7M2909 1140.5 2865.9 1125.5 2822.5 1111.5 2779.1 1097.8 2735.7 1083.7 2692.6 1068.8 2649.5 1052.2 2601.7 1030.9 2559.6 1008.6 2530.8 990.7 2499.9 968.5 2467.4 940.5 2434.3 904.8 2402 862.5 2370.3 818.1 2341 767.8 2317.2 710 2299.1 650.5 2283.1 587 2269.1 523 2256.6 458.7 2245.1 394.2 2234.1 329.6 2223.1 265.1 2211.7 200.6M2911.3 1139.5 2868.2 1124.6 2824.8 1110.5 2781.3 1096.7 2738 1082.7 2694.9 1067.8 2651.8 1051.2 2604 1029.8 2561.9 1007.5 2533.1 989.6 2502.3 967.5 2469.8 939.5 2436.7 903.9 2404.4 861.6 2372.6 817.2 2343.3 766.9 2319.5 709.1 2301.3 649.5 2285.3 586 2271.2 522 2258.7 457.7 2247.2 393.2 2236.2 328.6 2225.2 264 2213.7 199.5M2913.6 1138.6 2870.5 1123.6 2827.1 1109.5 2783.6 1095.7 2740.2 1081.6 2697.1 1066.7 2654 1050.1 2606.3 1028.7 2564.2 1006.4 2535.4 988.6 2504.6 966.5 2472.1 938.5 2439 903 2406.7 860.7 2374.9 816.3 2345.6 766 2321.7 708.2 2303.6 648.6 2287.5 585.1 2273.4 521.1 2260.9 456.7 2249.4 392.2 2238.4 327.6 2227.3 263 2215.8 198.4M2915.8 1137.7 2872.7 1122.6 2829.3 1108.5 2785.9 1094.7 2742.5 1080.6 2699.4 1065.6 2656.3 1049 2608.5 1027.7 2566.5 1005.4 2537.7 987.6 2506.9 965.5 2474.5 937.6 2441.4 902 2409 859.8 2377.2 815.4 2347.9 765.2 2324 707.3 2305.8 647.7 2289.7 584.2 2275.6 520.1 2263.1 455.7 2251.5 391.2 2240.5 326.6 2229.4 261.9 2217.8 197.4M2918.1 1136.7 2875 1121.7 2831.6 1107.5 2788.1 1093.6 2744.7 1079.5 2701.7 1064.5 2658.5 1047.9 2610.8 1026.6 2568.8 1004.3 2540 986.5 2509.3 964.5 2476.8 936.6 2443.7 901.1 2411.4 859 2379.5 814.5 2350.1 764.3 2326.3 706.4 2308 646.8 2291.9 583.2 2277.8 519.2 2265.3 454.8 2253.7 390.2 2242.6 325.5 2231.5 260.9 2219.9 196.3M2920.4 1135.8 2877.3 1120.7 2833.9 1106.5 2790.4 1092.6 2747 1078.5 2703.9 1063.5 2660.8 1046.8 2613 1025.5 2571.1 1003.3 2542.3 985.5 2511.6 963.5 2479.2 935.7 2446.1 900.2 2413.7 858.1 2381.8 813.7 2352.4 763.4 2328.5 705.5 2310.3 645.9 2294.1 582.3 2280 518.2 2267.5 453.8 2255.9 389.2 2244.7 324.5 2233.6 259.9 2222 195.3M2922.7 1134.9 2879.5 1119.8 2836.1 1105.5 2792.7 1091.6 2749.3 1077.4 2706.2 1062.4 2663.1 1045.8 2615.3 1024.5 2573.4 1002.2 2544.7 984.5 2514 962.5 2481.5 934.7 2448.4 899.3 2416 857.2 2384.2 812.8 2354.7 762.6 2330.8 704.6 2312.5 645 2296.3 581.4 2282.2 517.3 2269.6 452.9 2258 388.2 2246.9 323.5 2235.7 258.9 2224 194.2M2924.9 1133.9 2881.8 1118.8 2838.4 1104.5 2794.9 1090.6 2751.5 1076.4 2708.4 1061.3 2665.3 1044.7 2617.6 1023.4 2575.7 1001.2 2547 983.5 2516.3 961.5 2483.9 933.8 2450.8 898.4 2418.4 856.4 2386.5 812 2357 761.7 2333.1 703.8 2314.8 644.2 2298.6 580.5 2284.5 516.4 2271.8 451.9 2260.2 387.3 2249 322.6 2237.8 257.8 2226.1 193.2M2927.2 1133 2884.1 1117.8 2840.7 1103.5 2797.2 1089.6 2753.8 1075.3 2710.7 1060.3 2667.6 1043.6 2619.9 1022.3 2578 1000.2 2549.3 982.5 2518.7 960.6 2486.3 932.9 2453.2 897.5 2420.7 855.5 2388.8 811.1 2359.4 760.8 2335.4 702.9 2317 643.3 2300.8 579.6 2286.7 515.4 2274 451 2262.4 386.3 2251.1 321.6 2239.9 256.9 2228.2 192.2M2929.5 1132.1 2886.4 1116.9 2842.9 1102.6 2799.5 1088.5 2756.1 1074.3 2713 1059.2 2669.8 1042.6 2622.1 1021.3 2580.3 999.1 2551.6 981.5 2521 959.6 2488.6 931.9 2455.5 896.6 2423.1 854.7 2391.1 810.3 2361.7 760 2337.6 702.1 2319.3 642.4 2303 578.7 2288.9 514.5 2276.2 450 2264.5 385.4 2253.3 320.6 2242.1 255.9 2230.3 191.2M2931.8 1131.1 2888.6 1115.9 2845.2 1101.6 2801.7 1087.5 2758.3 1073.2 2715.2 1058.2 2672.1 1041.5 2624.4 1020.2 2582.6 998.1 2554 980.5 2523.4 958.6 2491 931 2457.9 895.7 2425.4 853.8 2393.5 809.4 2364 759.2 2339.9 701.2 2321.5 641.6 2305.3 577.9 2291.1 513.6 2278.4 449.1 2266.7 384.4 2255.4 319.7 2244.2 254.9 2232.4 190.2M2934 1130.2 2890.9 1115 2847.5 1100.6 2804 1086.5 2760.6 1072.2 2717.5 1057.1 2674.4 1040.4 2626.7 1019.2 2584.9 997.1 2556.3 979.5 2525.7 957.7 2493.4 930.1 2460.3 894.9 2427.8 853 2395.8 808.6 2366.3 758.3 2342.2 700.4 2323.8 640.7 2307.5 577 2293.3 512.7 2280.6 448.2 2268.9 383.5 2257.6 318.7 2246.3 253.9 2234.5 189.2M2936.3 1129.3 2893.2 1114 2849.8 1099.6 2806.3 1085.5 2762.9 1071.2 2719.8 1056.1 2676.6 1039.4 2629 1018.2 2587.2 996.1 2558.6 978.5 2528.1 956.7 2495.8 929.2 2462.6 894 2430.2 852.1 2398.2 807.8 2368.6 757.5 2344.5 699.6 2326 639.9 2309.8 576.1 2295.6 511.9 2282.8 447.3 2271.1 382.6 2259.8 317.8 2248.4 252.9 2236.6 188.2M2938.6 1128.3 2895.5 1113 2852 1098.6 2808.5 1084.5 2765.2 1070.1 2722 1055 2678.9 1038.3 2631.2 1017.1 2589.5 995.1 2561 977.5 2530.5 955.8 2498.1 928.3 2465 893.1 2432.5 851.3 2400.5 807 2370.9 756.7 2346.8 698.7 2328.3 639 2312 575.3 2297.8 511 2285.1 446.4 2273.3 381.6 2261.9 316.8 2250.6 252 2238.7 187.3M2940.9 1127.4 2897.7 1112.1 2854.3 1097.6 2810.8 1083.5 2767.4 1069.1 2724.3 1054 2681.2 1037.3 2633.5 1016.1 2591.8 994.1 2563.3 976.5 2532.8 954.8 2500.5 927.4 2467.4 892.3 2434.9 850.5 2402.8 806.2 2373.2 755.9 2349.1 697.9 2330.6 638.2 2314.3 574.4 2300 510.1 2287.3 445.5 2275.5 380.7 2264.1 315.9 2252.7 251 2240.8 186.3M2943.2 1126.5 2900 1111.1 2856.6 1096.6 2813.1 1082.5 2769.7 1068.1 2726.6 1052.9 2683.4 1036.3 2635.8 1015.1 2594.1 993.1 2565.6 975.6 2535.2 953.9 2502.9 926.5 2469.8 891.4 2437.3 849.7 2405.2 805.4 2375.6 755.1 2351.4 697.1 2332.9 637.4 2316.5 573.6 2302.3 509.2 2289.5 444.6 2277.7 379.8 2266.3 315 2254.8 250.1 2242.9 185.3M2945.4 1125.5 2902.3 1110.2 2858.8 1095.7 2815.4 1081.5 2772 1067.1 2728.9 1051.9 2685.7 1035.2 2638.1 1014 2596.4 992.1 2568 974.6 2537.6 952.9 2505.3 925.6 2472.2 890.6 2439.6 848.9 2407.5 804.6 2377.9 754.3 2353.7 696.3 2335.1 636.6 2318.8 572.7 2304.5 508.4 2291.7 443.7 2279.9 378.9 2268.4 314.1 2257 249.2 2245 184.4M2947.7 1124.6 2904.6 1109.2 2861.1 1094.7 2817.6 1080.5 2774.3 1066 2731.1 1050.9 2688 1034.2 2640.4 1013 2598.7 991.1 2570.3 973.6 2539.9 952 2507.7 924.7 2474.6 889.7 2442 848.1 2409.9 803.8 2380.2 753.5 2356 695.5 2337.4 635.7 2321 571.9 2306.8 507.5 2293.9 442.9 2282.1 378 2270.6 313.1 2259.1 248.3 2247.2 183.4M2950 1123.6 2906.8 1108.3 2863.4 1093.7 2819.9 1079.5 2776.5 1065 2733.4 1049.8 2690.3 1033.1 2642.7 1012 2601.1 990.1 2572.7 972.7 2542.3 951.1 2510 923.8 2476.9 888.9 2444.4 847.3 2412.2 803 2382.6 752.7 2358.3 694.7 2339.7 634.9 2323.3 571.1 2309 506.7 2296.2 442 2284.3 377.2 2272.8 312.2 2261.3 247.3 2249.3 182.5M2952.3 1122.7 2909.1 1107.3 2865.7 1092.7 2822.2 1078.5 2778.8 1064 2735.7 1048.8 2692.5 1032.1 2645 1011 2603.4 989.1 2575 971.7 2544.7 950.2 2512.4 922.9 2479.3 888.1 2446.8 846.5 2414.6 802.2 2384.9 751.9 2360.6 693.9 2342 634.1 2325.6 570.2 2311.3 505.9 2298.4 441.2 2286.5 376.3 2275 311.4 2263.4 246.4 2251.4 181.6M2954.5 1121.8 2911.4 1106.4 2867.9 1091.7 2824.5 1077.5 2781.1 1063 2738 1047.8 2694.8 1031.1 2647.3 1010 2605.7 988.1 2577.4 970.8 2547 949.3 2514.8 922 2481.7 887.2 2449.1 845.7 2417 801.4 2387.2 751.1 2362.9 693.1 2344.3 633.3 2327.8 569.4 2313.5 505 2300.6 440.3 2288.7 375.4 2277.2 310.5 2265.6 245.5 2253.5 180.7M2956.8 1120.8 2913.7 1105.4 2870.2 1090.8 2826.8 1076.5 2783.4 1062 2740.2 1046.8 2697.1 1030.1 2649.6 1009 2608 987.1 2579.7 969.8 2549.4 948.3 2517.2 921.2 2484.1 886.4 2451.5 844.9 2419.3 800.7 2389.6 750.4 2365.2 692.4 2346.6 632.6 2330.1 568.6 2315.8 504.2 2302.9 439.5 2290.9 374.6 2279.3 309.6 2267.8 244.6 2255.7 179.8M2959.1 1119.9 2915.9 1104.4 2872.5 1089.8 2829 1075.5 2785.7 1061 2742.5 1045.7 2699.4 1029 2651.9 1008 2610.3 986.2 2582.1 968.9 2551.8 947.4 2519.6 920.3 2486.5 885.6 2453.9 844.1 2421.7 799.9 2391.9 749.6 2367.5 691.6 2348.9 631.8 2332.4 567.8 2318 503.4 2305.1 438.6 2293.1 373.7 2281.5 308.7 2269.9 243.8 2257.8 178.9M2961.4 1119 2918.2 1103.5 2874.8 1088.8 2831.3 1074.5 2787.9 1059.9 2744.8 1044.7 2701.7 1028 2654.2 1007 2612.7 985.2 2584.4 967.9 2554.2 946.5 2522 919.4 2488.9 884.8 2456.3 843.3 2424.1 799.1 2394.3 748.8 2369.9 690.8 2351.2 631 2334.7 567 2320.3 502.6 2307.4 437.8 2295.3 372.9 2283.7 307.9 2272.1 242.9 2260 178M2963.6 1118 2920.5 1102.5 2877 1087.8 2833.6 1073.5 2790.2 1058.9 2747.1 1043.7 2703.9 1027 2656.5 1006 2615 984.2 2586.8 967 2556.6 945.6 2524.4 918.6 2491.3 884 2458.7 842.6 2426.4 798.4 2396.6 748.1 2372.2 690.1 2353.5 630.2 2336.9 566.3 2322.6 501.8 2309.6 437 2297.6 372 2285.9 307 2274.3 242 2262.1 177.1M2965.9 1117.1 2922.8 1101.6 2879.3 1086.9 2835.9 1072.5 2792.5 1057.9 2749.4 1042.7 2706.2 1026 2658.8 1005 2617.3 983.3 2589.1 966.1 2559 944.7 2526.8 917.7 2493.7 883.2 2461.1 841.8 2428.8 797.6 2399 747.3 2374.5 689.3 2355.8 629.5 2339.2 565.5 2324.8 501 2311.9 436.2 2299.8 371.2 2288.1 306.2 2276.4 241.2 2264.3 176.2M2968.2 1116.2 2925 1100.6 2881.6 1085.9 2838.2 1071.5 2794.8 1056.9 2751.7 1041.7 2708.5 1025 2661.1 1004 2619.7 982.3 2591.5 965.1 2561.3 943.8 2529.2 916.9 2496.1 882.4 2463.5 841 2431.2 796.9 2401.3 746.6 2376.8 688.6 2358.1 628.7 2341.5 564.7 2327.1 500.2 2314.1 435.4 2302 370.4 2290.3 305.3 2278.6 240.3 2266.4 175.4M2970.5 1115.2 2927.3 1099.7 2883.9 1084.9 2840.4 1070.5 2797.1 1055.9 2753.9 1040.7 2710.8 1024 2663.4 1003 2622 981.4 2593.9 964.2 2563.7 943 2531.6 916 2498.5 881.6 2465.9 840.3 2433.6 796.2 2403.7 745.9 2379.2 687.8 2360.4 628 2343.8 563.9 2329.4 499.4 2316.4 434.6 2304.3 369.6 2292.6 304.5 2280.8 239.5 2268.6 174.5M2972.7 1114.3 2929.6 1098.7 2886.1 1084 2842.7 1069.5 2799.4 1054.9 2756.2 1039.7 2713.1 1023 2665.7 1002 2624.3 980.4 2596.2 963.3 2566.1 942.1 2534 915.2 2501 880.8 2468.3 839.5 2435.9 795.4 2406 745.1 2381.5 687.1 2362.7 627.2 2346.1 563.2 2331.6 498.6 2318.6 433.8 2306.5 368.8 2294.8 303.7 2283 238.6 2270.7 173.7M2975 1113.4 2931.9 1097.8 2888.4 1083 2845 1068.5 2801.6 1053.9 2758.5 1038.7 2715.4 1022 2668 1001 2626.7 979.5 2598.6 962.4 2568.5 941.2 2536.4 914.4 2503.4 880 2470.7 838.8 2438.3 794.7 2408.4 744.4 2383.8 686.4 2365 626.5 2348.4 562.4 2333.9 497.9 2320.9 433 2308.7 368 2297 302.9 2285.2 237.8 2272.9 172.8M2977.3 1112.4 2934.1 1096.8 2890.7 1082 2847.3 1067.5 2803.9 1052.9 2760.8 1037.7 2717.7 1021 2670.3 1000.1 2629 978.5 2601 961.5 2570.9 940.3 2538.9 913.5 2505.8 879.2 2473.1 838.1 2440.7 794 2410.8 743.7 2386.2 685.6 2367.3 625.8 2350.7 561.7 2336.2 497.1 2323.2 432.2 2311 367.2 2299.2 302.1 2287.4 237 2275 172M2979.6 1111.5 2936.4 1095.9 2893 1081 2849.6 1066.6 2806.2 1051.9 2763.1 1036.7 2720 1020 2672.6 999.1 2631.3 977.6 2603.3 960.5 2573.3 939.5 2541.3 912.7 2508.2 878.4 2475.5 837.3 2443.1 793.3 2413.1 743 2388.5 684.9 2369.6 625 2353 560.9 2338.5 496.3 2325.4 431.4 2313.2 366.4 2301.4 301.3 2289.6 236.2 2277.2 171.1M2981.8 1110.6 2938.7 1094.9 2895.3 1080.1 2851.8 1065.6 2808.5 1050.9 2765.4 1035.7 2722.2 1019 2674.9 998.1 2633.7 976.6 2605.7 959.6 2575.7 938.6 2543.7 911.9 2510.6 877.7 2477.9 836.6 2445.5 792.5 2415.5 742.3 2390.9 684.2 2371.9 624.3 2355.3 560.2 2340.8 495.6 2327.7 430.7 2315.5 365.6 2303.6 300.5 2291.8 235.4 2279.4 170.3M2984.1 1109.6 2941 1094 2897.5 1079.1 2854.1 1064.6 2810.8 1049.9 2767.7 1034.7 2724.5 1018 2677.2 997.1 2636 975.7 2608.1 958.7 2578.1 937.7 2546.1 911.1 2513 876.9 2480.3 835.9 2447.9 791.8 2417.8 741.6 2393.2 683.5 2374.2 623.6 2357.6 559.5 2343.1 494.8 2330 429.9 2317.7 364.8 2305.9 299.7 2293.9 234.6 2281.5 169.5M2986.4 1108.7 2943.2 1093 2899.8 1078.1 2856.4 1063.6 2813.1 1048.9 2770 1033.7 2726.8 1017 2679.5 996.2 2638.4 974.8 2610.4 957.8 2580.5 936.9 2548.5 910.3 2515.4 876.1 2482.7 835.2 2450.2 791.1 2420.2 740.9 2395.5 682.8 2376.6 622.9 2359.9 558.8 2345.4 494.1 2332.3 429.2 2320 364.1 2308.1 298.9 2296.1 233.8 2283.7 168.7M2988.7 1107.7 2945.5 1092.1 2902.1 1077.2 2858.7 1062.6 2815.4 1048 2772.3 1032.7 2729.1 1016 2681.8 995.2 2640.7 973.9 2612.8 956.9 2582.9 936 2550.9 909.5 2517.9 875.4 2485.1 834.4 2452.6 790.4 2422.6 740.2 2397.9 682.1 2378.9 622.2 2362.2 558 2347.7 493.4 2334.5 428.4 2322.2 363.3 2310.3 298.1 2298.4 233 2285.9 167.9M2990.9 1106.8 2947.8 1091.1 2904.4 1076.2 2861 1061.7 2817.7 1047 2774.6 1031.7 2731.4 1015.1 2684.1 994.3 2643.1 972.9 2615.2 956.1 2585.3 935.2 2553.4 908.7 2520.3 874.6 2487.5 833.7 2455 789.7 2425 739.5 2400.2 681.4 2381.2 621.5 2364.5 557.3 2349.9 492.7 2336.8 427.7 2324.5 362.6 2312.6 297.4 2300.6 232.2 2288.1 167.1M2993.2 1105.9 2950.1 1090.2 2906.7 1075.2 2863.3 1060.7 2820 1046 2776.9 1030.7 2733.7 1014.1 2686.5 993.3 2645.4 972 2617.6 955.2 2587.7 934.3 2555.8 907.9 2522.7 873.9 2489.9 833 2457.4 789.1 2427.3 738.8 2402.6 680.7 2383.5 620.8 2366.8 556.6 2352.2 491.9 2339.1 426.9 2326.7 361.8 2314.8 296.6 2302.8 231.4 2290.3 166.3M2995.5 1104.9 2952.4 1089.2 2908.9 1074.3 2865.6 1059.7 2822.2 1045 2779.1 1029.7 2736 1013.1 2688.8 992.4 2647.8 971.1 2619.9 954.3 2590.1 933.5 2558.2 907.1 2525.1 873.1 2492.3 832.3 2459.8 788.4 2429.7 738.1 2404.9 680.1 2385.9 620.1 2369.1 555.9 2354.5 491.2 2341.4 426.2 2329 361.1 2317 295.9 2305 230.7 2292.4 165.6M2997.8 1104 2954.6 1088.3 2911.2 1073.3 2867.8 1058.7 2824.5 1044 2781.4 1028.7 2738.3 1012.1 2691.1 991.4 2650.1 970.2 2622.3 953.4 2592.5 932.7 2560.6 906.3 2527.6 872.4 2494.7 831.6 2462.2 787.7 2432.1 737.4 2407.3 679.4 2388.2 619.4 2371.4 555.2 2356.8 490.5 2343.7 425.5 2331.3 360.3 2319.3 295.1 2307.2 229.9 2294.6 164.8M3000 1103 2956.9 1087.3 2913.5 1072.4 2870.1 1057.8 2826.8 1043 2783.7 1027.7 2740.6 1011.1 2693.4 990.5 2652.5 969.3 2624.7 952.5 2594.9 931.8 2563 905.5 2530 871.7 2497.2 830.9 2464.6 787 2434.5 736.8 2409.6 678.7 2390.5 618.7 2373.8 554.5 2359.1 489.8 2345.9 424.8 2333.5 359.6 2321.5 294.4 2309.4 229.2 2296.8 164M3002.3 1102.1 2959.2 1086.4 2915.8 1071.4 2872.4 1056.8 2829.1 1042.1 2786 1026.8 2742.9 1010.2 2695.7 989.5 2654.8 968.4 2627.1 951.7 2597.3 931 2565.5 904.7 2532.4 870.9 2499.6 830.3 2467 786.4 2436.9 736.1 2412 678.1 2392.9 618.1 2376.1 553.9 2361.5 489.1 2348.2 424.1 2335.8 358.9 2323.7 293.6 2311.6 228.4 2299 163.3M3004.6 1101.2 2961.5 1085.4 2918.1 1070.4 2874.7 1055.8 2831.4 1041.1 2788.3 1025.8 2745.2 1009.2 2698 988.6 2657.2 967.5 2629.5 950.8 2599.7 930.2 2567.9 903.9 2534.9 870.2 2502 829.6 2469.4 785.7 2439.2 735.4 2414.4 677.4 2395.2 617.4 2378.4 553.2 2363.8 488.4 2350.5 423.4 2338.1 358.2 2326 292.9 2313.8 227.7 2301.2 162.5M3006.9 1100.2 2963.7 1084.5 2920.3 1069.5 2877 1054.8 2833.7 1040.1 2790.6 1024.8 2747.5 1008.2 2700.4 987.6 2659.5 966.6 2631.8 949.9 2602.2 929.3 2570.3 903.2 2537.3 869.5 2504.4 828.9 2471.8 785 2441.6 734.8 2416.7 676.7 2397.6 616.7 2380.7 552.5 2366.1 487.7 2352.8 422.7 2340.4 357.4 2328.2 292.2 2316.1 226.9 2303.4 161.8M3009.1 1099.3 2966 1083.5 2922.6 1068.5 2879.3 1053.9 2836 1039.1 2792.9 1023.8 2749.8 1007.3 2702.7 986.7 2661.9 965.7 2634.2 949.1 2604.6 928.5 2572.8 902.4 2539.7 868.8 2506.8 828.2 2474.2 784.4 2444 734.1 2419.1 676.1 2399.9 616.1 2383 551.8 2368.4 487.1 2355.1 422 2342.6 356.7 2330.5 291.5 2318.3 226.2 2305.6 161M3011.4 1098.3 2968.3 1082.6 2924.9 1067.5 2881.6 1052.9 2838.3 1038.1 2795.2 1022.9 2752.1 1006.3 2705 985.8 2664.2 964.8 2636.6 948.2 2607 927.7 2575.2 901.6 2542.2 868 2509.3 827.5 2476.7 783.7 2446.4 733.5 2421.4 675.4 2402.2 615.4 2385.4 551.2 2370.7 486.4 2357.4 421.3 2344.9 356 2332.7 290.8 2320.5 225.5 2307.8 160.3M3013.7 1097.4 2970.6 1081.6 2927.2 1066.6 2883.9 1051.9 2840.6 1037.2 2797.5 1021.9 2754.4 1005.4 2707.3 984.8 2666.6 963.9 2639 947.4 2609.4 926.9 2577.6 900.9 2544.6 867.3 2511.7 826.9 2479.1 783.1 2448.8 732.9 2423.8 674.8 2404.6 614.8 2387.7 550.5 2373 485.7 2359.7 420.6 2347.2 355.4 2335 290.1 2322.7 224.8 2310 159.6M3016 1096.4 2972.8 1080.7 2929.5 1065.6 2886.1 1051 2842.9 1036.2 2799.8 1020.9 2756.7 1004.4 2709.7 983.9 2668.9 963 2641.4 946.5 2611.8 926.1 2580.1 900.1 2547 866.6 2514.1 826.2 2481.5 782.4 2451.2 732.2 2426.2 674.2 2406.9 614.2 2390 549.9 2375.3 485 2362 419.9 2349.5 354.7 2337.3 289.4 2325 224.1 2312.2 158.9M3018.2 1095.5 2975.1 1079.7 2931.7 1064.7 2888.4 1050 2845.2 1035.2 2802.1 1020 2759 1003.5 2712 983 2671.3 962.1 2643.8 945.7 2614.2 925.3 2582.5 899.3 2549.5 865.9 2516.6 825.6 2483.9 781.8 2453.6 731.6 2428.5 673.5 2409.3 613.5 2392.4 549.2 2377.6 484.4 2364.3 419.3 2351.7 354 2339.5 288.7 2327.2 223.4 2314.4 158.2M3020.5 1094.6 2977.4 1078.8 2934 1063.7 2890.7 1049 2847.5 1034.3 2804.4 1019 2761.3 1002.5 2714.3 982.1 2673.6 961.2 2646.2 944.8 2616.6 924.5 2584.9 898.6 2551.9 865.2 2519 824.9 2486.3 781.2 2456 731 2430.9 672.9 2411.6 612.9 2394.7 548.6 2380 483.7 2366.6 418.6 2354 353.3 2341.8 288 2329.4 222.7 2316.6 157.5M3022.8 1093.6 2979.7 1077.8 2936.3 1062.8 2893 1048.1 2849.8 1033.3 2806.7 1018 2763.6 1001.6 2716.6 981.2 2676 960.4 2648.5 944 2619.1 923.7 2587.4 897.8 2554.4 864.5 2521.4 824.2 2488.7 780.5 2458.4 730.3 2433.3 672.3 2414 612.3 2397 547.9 2382.3 483.1 2368.9 417.9 2356.3 352.6 2344 287.3 2331.7 222 2318.8 156.8M3025 1092.7 2981.9 1076.9 2938.6 1061.8 2895.3 1047.1 2852.1 1032.3 2809 1017.1 2766 1000.6 2719 980.2 2678.4 959.5 2650.9 943.1 2621.5 922.9 2589.8 897.1 2556.8 863.8 2523.8 823.6 2491.1 779.9 2460.8 729.7 2435.7 671.7 2416.3 611.6 2399.4 547.3 2384.6 482.4 2371.2 417.3 2358.6 352 2346.3 286.6 2333.9 221.3 2321.1 156.1M3027.3 1091.7 2984.2 1075.9 2940.9 1060.8 2897.6 1046.1 2854.4 1031.4 2811.3 1016.1 2768.3 999.7 2721.3 979.3 2680.7 958.6 2653.3 942.3 2623.9 922.1 2592.3 896.3 2559.3 863.1 2526.3 823 2493.5 779.3 2463.2 729.1 2438 671.1 2418.7 611 2401.7 546.7 2386.9 481.8 2373.5 416.6 2360.9 351.3 2348.6 286 2336.2 220.6 2323.3 155.4M3029.6 1090.8 2986.5 1075 2943.1 1059.9 2899.9 1045.2 2856.7 1030.4 2813.6 1015.1 2770.6 998.7 2723.6 978.4 2683.1 957.7 2655.7 941.5 2626.3 921.3 2594.7 895.6 2561.7 862.4 2528.7 822.3 2496 778.7 2465.6 728.5 2440.4 670.5 2421 610.4 2404 546.1 2389.3 481.2 2375.9 416 2363.2 350.7 2350.8 285.3 2338.4 220 2325.5 154.7M3031.9 1089.8 2988.8 1074 2945.4 1058.9 2902.2 1044.2 2859 1029.4 2815.9 1014.2 2772.9 997.8 2726 977.5 2685.5 956.9 2658.1 940.6 2628.8 920.5 2597.1 894.9 2564.1 861.8 2531.2 821.7 2498.4 778 2468 727.9 2442.8 669.9 2423.4 609.8 2406.4 545.4 2391.6 480.5 2378.2 415.3 2365.5 350 2353.1 284.6 2340.6 219.3 2327.7 154M3034.1 1088.9 2991.1 1073.1 2947.7 1058 2904.5 1043.2 2861.3 1028.5 2818.2 1013.2 2775.2 996.8 2728.3 976.6 2687.8 956 2660.5 939.8 2631.2 919.7 2599.6 894.1 2566.6 861.1 2533.6 821.1 2500.8 777.4 2470.4 727.3 2445.2 669.3 2425.7 609.2 2408.7 544.8 2393.9 479.9 2380.5 414.7 2367.8 349.4 2355.4 284 2342.9 218.6 2329.9 153.4M3036.4 1087.9 2993.3 1072.1 2950 1057 2906.7 1042.3 2863.6 1027.5 2820.5 1012.3 2777.5 995.9 2730.6 975.7 2690.2 955.2 2662.9 939 2633.6 918.9 2602 893.4 2569 860.4 2536 820.4 2503.2 776.8 2472.8 726.7 2447.5 668.7 2428.1 608.6 2411.1 544.2 2396.2 479.3 2382.8 414.1 2370.1 348.7 2357.6 283.3 2345.1 218 2332.2 152.7M3038.7 1087 2995.6 1071.2 2952.3 1056 2909 1041.3 2865.9 1026.5 2822.9 1011.3 2779.8 995 2732.9 974.8 2692.5 954.3 2665.3 938.1 2636 918.2 2604.5 892.7 2571.5 859.7 2538.5 819.8 2505.6 776.2 2475.2 726.1 2449.9 668.1 2430.5 608 2413.4 543.6 2398.6 478.7 2385.1 413.4 2372.4 348.1 2359.9 282.7 2347.4 217.3 2334.4 152M3040.9 1086 2997.9 1070.2 2954.5 1055.1 2911.3 1040.3 2868.2 1025.6 2825.2 1010.4 2782.1 994 2735.3 973.9 2694.9 953.4 2667.7 937.3 2638.5 917.4 2606.9 891.9 2573.9 859.1 2540.9 819.2 2508.1 775.6 2477.6 725.5 2452.3 667.5 2432.8 607.4 2415.7 543 2400.9 478.1 2387.4 412.8 2374.7 347.5 2362.2 282.1 2349.6 216.7 2336.6 151.4M3043.2 1085.1 3000.2 1069.3 2956.8 1054.1 2913.6 1039.4 2870.5 1024.6 2827.5 1009.4 2784.4 993.1 2737.6 973 2697.3 952.6 2670.1 936.5 2640.9 916.6 2609.4 891.2 2576.4 858.4 2543.3 818.6 2510.5 775 2480 724.9 2454.7 666.9 2435.2 606.8 2418.1 542.4 2403.2 477.5 2389.7 412.2 2377 346.8 2364.5 281.4 2351.9 216 2338.8 150.7M3045.5 1084.1 3002.4 1068.3 2959.1 1053.2 2915.9 1038.4 2872.8 1023.7 2829.8 1008.5 2786.7 992.2 2739.9 972.1 2699.6 951.7 2672.5 935.7 2643.3 915.9 2611.8 890.5 2578.8 857.7 2545.8 817.9 2512.9 774.4 2482.4 724.3 2457.1 666.3 2437.5 606.2 2420.4 541.8 2405.6 476.9 2392.1 411.6 2379.3 346.2 2366.7 280.8 2354.1 215.4 2341.1 150.1M3047.7 1083.2 3004.7 1067.4 2961.4 1052.2 2918.2 1037.5 2875 1022.7 2832.1 1007.5 2789.1 991.2 2742.3 971.2 2702 950.9 2674.9 934.9 2645.7 915.1 2614.3 889.8 2581.3 857.1 2548.2 817.3 2515.3 773.8 2484.8 723.7 2459.5 665.7 2439.9 605.7 2422.8 541.2 2407.9 476.3 2394.4 411 2381.6 345.6 2369 280.2 2356.4 214.8 2343.3 149.5M3050 1082.2 3007 1066.4 2963.7 1051.3 2920.5 1036.5 2877.3 1021.7 2834.4 1006.6 2791.4 990.3 2744.6 970.3 2704.4 950 2677.3 934.1 2648.2 914.3 2616.7 889.1 2583.7 856.4 2550.7 816.7 2517.8 773.3 2487.2 723.2 2461.8 665.2 2442.3 605.1 2425.1 540.7 2410.3 475.7 2396.7 410.4 2383.9 345 2371.3 279.6 2358.7 214.2 2345.5 148.8M3052.3 1081.3 3009.3 1065.4 2966 1050.3 2922.8 1035.5 2879.6 1020.8 2836.7 1005.6 2793.7 989.4 2746.9 969.4 2706.8 949.2 2679.7 933.3 2650.6 913.6 2619.2 888.4 2586.2 855.8 2553.1 816.1 2520.2 772.7 2489.6 722.6 2464.2 664.6 2444.6 604.5 2427.5 540.1 2412.6 475.1 2399 409.8 2386.2 344.4 2373.6 279 2360.9 213.5 2347.8 148.2M3054.5 1080.3 3011.5 1064.5 2968.2 1049.3 2925.1 1034.6 2881.9 1019.8 2839 1004.7 2796 988.4 2749.3 968.5 2709.1 948.3 2682.1 932.5 2653 912.8 2621.6 887.7 2588.7 855.1 2555.6 815.5 2522.6 772.1 2492 722 2466.6 664 2447 603.9 2429.8 539.5 2414.9 474.5 2401.4 409.2 2388.5 343.8 2375.9 278.3 2363.2 212.9 2350 147.6M3056.8 1079.4 3013.8 1063.5 2970.5 1048.4 2927.4 1033.6 2884.2 1018.9 2841.3 1003.7 2798.3 987.5 2751.6 967.6 2711.5 947.5 2684.5 931.7 2655.5 912 2624.1 887 2591.1 854.5 2558 814.9 2525.1 771.5 2494.4 721.4 2469 663.5 2449.4 603.4 2432.2 538.9 2417.3 473.9 2403.7 408.6 2390.8 343.2 2378.2 277.7 2365.4 212.3 2352.2 147M3059.1 1078.4 3016.1 1062.6 2972.8 1047.4 2929.6 1032.7 2886.5 1017.9 2843.6 1002.8 2800.6 986.6 2754 966.7 2713.9 946.7 2686.9 930.8 2657.9 911.3 2626.5 886.3 2593.6 853.8 2560.5 814.3 2527.5 770.9 2496.8 720.9 2471.4 662.9 2451.7 602.8 2434.6 538.4 2419.6 473.3 2406 408 2393.1 342.6 2380.4 277.1 2367.7 211.7 2354.5 146.4M3061.3 1077.4 3018.3 1061.6 2975.1 1046.5 2931.9 1031.7 2888.8 1017 2845.9 1001.9 2802.9 985.7 2756.3 965.9 2716.2 945.8 2689.3 930 2660.3 910.5 2629 885.6 2596 853.2 2562.9 813.7 2529.9 770.4 2499.3 720.3 2473.8 662.4 2454.1 602.3 2436.9 537.8 2422 472.8 2408.3 407.5 2395.4 342 2382.7 276.6 2370 211.1 2356.7 145.8M3063.6 1076.5 3020.6 1060.7 2977.4 1045.5 2934.2 1030.8 2891.1 1016 2848.2 1000.9 2805.2 984.8 2758.6 965 2718.6 945 2691.7 929.3 2662.8 909.8 2631.4 884.9 2598.5 852.5 2565.4 813.1 2532.4 769.8 2501.7 719.8 2476.2 661.8 2456.5 601.7 2439.3 537.2 2424.3 472.2 2410.7 406.9 2397.7 341.4 2385 276 2372.2 210.5 2358.9 145.2M3065.9 1075.5 3022.9 1059.7 2979.6 1044.6 2936.5 1029.8 2893.4 1015.1 2850.5 1000 2807.6 983.8 2761 964.1 2721 944.1 2694.1 928.5 2665.2 909 2633.9 884.2 2600.9 851.9 2567.8 812.5 2534.8 769.2 2504.1 719.2 2478.6 661.3 2458.9 601.2 2441.6 536.7 2426.7 471.6 2413 406.3 2400 340.9 2387.3 275.4 2374.5 209.9 2361.2 144.6M3068.1 1074.6 3025.2 1058.8 2981.9 1043.6 2938.8 1028.8 2895.7 1014.1 2852.8 999 2809.9 982.9 2763.3 963.2 2723.4 943.3 2696.5 927.7 2667.6 908.3 2636.3 883.5 2603.4 851.3 2570.3 812 2537.2 768.7 2506.5 718.7 2481 660.7 2461.2 600.6 2444 536.1 2429 471.1 2415.3 405.7 2402.3 340.3 2389.6 274.8 2376.7 209.3 2363.4 144M3070.4 1073.6 3027.4 1057.8 2984.2 1042.6 2941.1 1027.9 2898 1013.1 2855.1 998.1 2812.2 982 2765.6 962.3 2725.7 942.5 2698.9 926.9 2670.1 907.5 2638.8 882.8 2605.9 850.6 2572.7 811.4 2539.7 768.1 2508.9 718.1 2483.4 660.2 2463.6 600.1 2446.3 535.6 2431.3 470.5 2417.7 405.2 2404.7 339.7 2391.9 274.2 2379 208.8 2365.7 143.4M3072.7 1072.6 3029.7 1056.8 2986.5 1041.7 2943.4 1026.9 2900.3 1012.2 2857.5 997.2 2814.5 981.1 2768 961.5 2728.1 941.7 2701.3 926.1 2672.5 906.8 2641.2 882.1 2608.3 850 2575.2 810.8 2542.1 767.6 2511.3 717.6 2485.8 659.6 2466 599.5 2448.7 535 2433.7 470 2420 404.6 2407 339.2 2394.2 273.7 2381.3 208.2 2367.9 142.8M3074.9 1071.7 3032 1055.9 2988.8 1040.7 2945.7 1026 2902.6 1011.2 2859.8 996.2 2816.8 980.2 2770.3 960.6 2730.5 940.8 2703.7 925.3 2674.9 906.1 2643.7 881.4 2610.8 849.4 2577.6 810.2 2544.5 767 2513.7 717 2488.1 659.1 2468.4 599 2451.1 534.5 2436 469.4 2422.3 404.1 2409.3 338.6 2396.5 273.1 2383.6 207.6 2370.2 142.2M3077.2 1070.7 3034.3 1054.9 2991 1039.8 2948 1025 2904.9 1010.3 2862.1 995.3 2819.1 979.3 2772.7 959.7 2732.8 940 2706.1 924.5 2677.4 905.3 2646.1 880.7 2613.2 848.7 2580.1 809.6 2547 766.5 2516.2 716.5 2490.5 658.6 2470.7 598.5 2453.4 534 2438.4 468.9 2424.7 403.5 2411.6 338 2398.8 272.5 2385.8 207 2372.4 141.7M3079.5 1069.8 3036.5 1054 2993.3 1038.8 2950.3 1024.1 2907.2 1009.3 2864.4 994.3 2821.4 978.3 2775 958.8 2735.2 939.2 2708.5 923.7 2679.8 904.6 2648.6 880 2615.7 848.1 2582.5 809.1 2549.4 765.9 2518.6 716 2492.9 658 2473.1 597.9 2455.8 533.4 2440.7 468.3 2427 403 2413.9 337.5 2401.1 272 2388.1 206.5 2374.7 141.1M3081.7 1068.8 3038.8 1053 2995.6 1037.8 2952.5 1023.1 2909.5 1008.4 2866.7 993.4 2823.8 977.4 2777.3 958 2737.6 938.4 2710.9 922.9 2682.2 903.9 2651.1 879.4 2618.2 847.5 2585 808.5 2551.8 765.4 2521 715.4 2495.3 657.5 2475.5 597.4 2458.1 532.9 2443.1 467.8 2429.4 402.4 2416.2 336.9 2403.4 271.4 2390.4 205.9 2376.9 140.5M3084 1067.8 3041.1 1052 2997.9 1036.9 2954.8 1022.1 2911.8 1007.4 2869 992.5 2826.1 976.5 2779.7 957.1 2740 937.5 2713.3 922.2 2684.7 903.1 2653.5 878.7 2620.6 846.9 2587.4 807.9 2554.3 764.8 2523.4 714.9 2497.7 657 2477.9 596.9 2460.5 532.4 2445.4 467.3 2431.7 401.9 2418.6 336.4 2405.7 270.9 2392.6 205.4 2379.2 140M3086.3 1066.9 3043.3 1051.1 3000.1 1035.9 2957.1 1021.2 2914.1 1006.5 2871.3 991.5 2828.4 975.6 2782 956.2 2742.3 936.7 2715.7 921.4 2687.1 902.4 2656 878 2623.1 846.3 2589.9 807.4 2556.7 764.3 2525.8 714.4 2500.1 656.5 2480.2 596.4 2462.9 531.8 2447.8 466.7 2434 401.3 2420.9 335.8 2408 270.3 2394.9 204.8 2381.4 139.4M3088.5 1065.9 3045.6 1050.1 3002.4 1035 2959.4 1020.2 2916.4 1005.6 2873.6 990.6 2830.7 974.7 2784.4 955.4 2744.7 935.9 2718.1 920.6 2689.5 901.7 2658.4 877.3 2625.6 845.6 2592.3 806.8 2559.2 763.8 2528.3 713.8 2502.5 655.9 2482.6 595.8 2465.2 531.3 2450.2 466.2 2436.4 400.8 2423.2 335.3 2410.3 269.8 2397.2 204.3 2383.7 138.9M3090.8 1064.9 3047.9 1049.2 3004.7 1034 2961.7 1019.3 2918.7 1004.6 2875.9 989.7 2833 973.8 2786.7 954.5 2747.1 935.1 2720.6 919.8 2692 900.9 2660.9 876.7 2628 845 2594.8 806.2 2561.6 763.2 2530.7 713.3 2504.9 655.4 2485 595.3 2467.6 530.8 2452.5 465.7 2438.7 400.3 2425.5 334.8 2412.6 269.2 2399.5 203.7 2385.9 138.3M3093 1064 3050.1 1048.2 3007 1033 2964 1018.3 2921 1003.7 2878.2 988.7 2835.3 972.9 2789 953.6 2749.5 934.3 2723 919.1 2694.4 900.2 2663.3 876 2630.5 844.4 2597.2 805.7 2564 762.7 2533.1 712.8 2507.3 654.9 2487.4 594.8 2470 530.3 2454.9 465.1 2441.1 399.7 2427.8 334.2 2414.9 268.7 2401.7 203.2 2388.2 137.8M3095.3 1063 3052.4 1047.2 3009.3 1032.1 2966.3 1017.4 2923.3 1002.7 2880.5 987.8 2837.7 972 2791.4 952.8 2751.8 933.5 2725.4 918.3 2696.9 899.5 2665.8 875.3 2633 843.8 2599.7 805.1 2566.5 762.2 2535.5 712.3 2509.7 654.4 2489.8 594.3 2472.3 529.8 2457.2 464.6 2443.4 399.2 2430.2 333.7 2417.2 268.1 2404 202.6 2390.4 137.2M3097.6 1062 3054.7 1046.3 3011.5 1031.1 2968.6 1016.4 2925.6 1001.8 2882.8 986.9 2840 971.1 2793.7 951.9 2754.2 932.6 2727.8 917.5 2699.3 898.8 2668.3 874.7 2635.4 843.2 2602.1 804.6 2568.9 761.6 2538 711.8 2512.1 653.9 2492.1 593.8 2474.7 529.2 2459.6 464.1 2445.7 398.7 2432.5 333.2 2419.5 267.6 2406.3 202.1 2392.7 136.7M3099.8 1061 3056.9 1045.3 3013.8 1030.2 2970.9 1015.4 2927.9 1000.8 2885.1 986 2842.3 970.2 2796.1 951.1 2756.6 931.8 2730.2 916.8 2701.7 898.1 2670.7 874 2637.9 842.6 2604.6 804 2571.4 761.1 2540.4 711.2 2514.5 653.4 2494.5 593.3 2477.1 528.7 2461.9 463.6 2448.1 398.2 2434.8 332.6 2421.8 267.1 2408.6 201.6 2394.9 136.1M3102.1 1060.1 3059.2 1044.3 3016.1 1029.2 2973.1 1014.5 2930.2 999.9 2887.5 985 2844.6 969.3 2798.4 950.2 2759 931 2732.6 916 2704.2 897.3 2673.2 873.3 2640.4 842 2607.1 803.5 2573.8 760.6 2542.8 710.7 2516.9 652.9 2496.9 592.8 2479.4 528.2 2464.3 463.1 2450.4 397.6 2437.1 332.1 2424.1 266.6 2410.9 201 2397.2 135.6M3104.3 1059.1 3061.5 1043.4 3018.4 1028.2 2975.4 1013.5 2932.5 998.9 2889.8 984.1 2846.9 968.4 2800.7 949.3 2761.4 930.2 2735 915.2 2706.6 896.6 2675.6 872.7 2642.8 841.4 2609.5 802.9 2576.3 760.1 2545.2 710.2 2519.3 652.4 2499.3 592.3 2481.8 527.7 2466.7 462.6 2452.8 397.1 2439.5 331.6 2426.4 266 2413.1 200.5 2399.5 135.1M3106.6 1058.1 3063.8 1042.4 3020.6 1027.3 2977.7 1012.6 2934.8 998 2892.1 983.2 2849.2 967.5 2803.1 948.5 2763.7 929.4 2737.4 914.5 2709.1 895.9 2678.1 872 2645.3 840.8 2612 802.4 2578.7 759.5 2547.7 709.7 2521.7 651.9 2501.7 591.8 2484.2 527.2 2469 462.1 2455.1 396.6 2441.8 331.1 2428.7 265.5 2415.4 200 2401.7 134.6M3108.9 1057.1 3066 1041.4 3022.9 1026.3 2980 1011.6 2937.1 997 2894.4 982.2 2851.6 966.6 2805.4 947.6 2766.1 928.6 2739.8 913.7 2711.5 895.2 2680.6 871.4 2647.8 840.2 2614.4 801.8 2581.1 759 2550.1 709.2 2524.2 651.4 2504.1 591.3 2486.5 526.7 2471.4 461.5 2457.5 396.1 2444.1 330.6 2431 265 2417.7 199.5 2404 134M3111.1 1056.2 3068.3 1040.5 3025.2 1025.3 2982.3 1010.7 2939.4 996.1 2896.7 981.3 2853.9 965.7 2807.8 946.8 2768.5 927.8 2742.2 912.9 2713.9 894.5 2683 870.7 2650.2 839.6 2616.9 801.3 2583.6 758.5 2552.5 708.7 2526.6 650.9 2506.4 590.8 2488.9 526.2 2473.7 461 2459.8 395.6 2446.5 330.1 2433.3 264.5 2420 199 2406.2 133.5M3113.4 1055.2 3070.5 1039.5 3027.5 1024.4 2984.6 1009.7 2941.7 995.1 2899 980.4 2856.2 964.8 2810.1 945.9 2770.9 927 2744.6 912.2 2716.4 893.8 2685.5 870 2652.7 839 2619.4 800.7 2586 758 2554.9 708.2 2529 650.4 2508.8 590.3 2491.3 525.7 2476.1 460.5 2462.2 395.1 2448.8 329.5 2435.6 264 2422.3 198.4 2408.5 133M3115.6 1054.2 3072.8 1038.5 3029.7 1023.4 2986.9 1008.7 2944 994.2 2901.3 979.4 2858.5 963.9 2812.4 945.1 2773.2 926.2 2747 911.4 2718.8 893.1 2687.9 869.4 2655.2 838.4 2621.8 800.2 2588.5 757.5 2557.4 707.7 2531.4 649.9 2511.2 589.8 2493.7 525.2 2478.5 460 2464.5 394.6 2451.1 329 2437.9 263.5 2424.6 197.9 2410.8 132.5M3117.9 1053.2 3075.1 1037.5 3032 1022.4 2989.2 1007.8 2946.3 993.2 2903.6 978.5 2860.8 963 2814.8 944.2 2775.6 925.4 2749.5 910.6 2721.3 892.3 2690.4 868.7 2657.6 837.8 2624.3 799.6 2590.9 757 2559.8 707.2 2533.8 649.4 2513.6 589.3 2496 524.7 2480.8 459.5 2466.9 394.1 2453.4 328.5 2440.2 263 2426.8 197.4 2413 132M3120.1 1052.2 3077.3 1036.6 3034.3 1021.5 2991.4 1006.8 2948.6 992.3 2905.9 977.6 2863.1 962.1 2817.1 943.3 2778 924.6 2751.9 909.9 2723.7 891.6 2692.9 868.1 2660.1 837.2 2626.7 799.1 2593.4 756.4 2562.2 706.7 2536.2 648.9 2516 588.8 2498.4 524.3 2483.2 459.1 2469.2 393.6 2455.8 328 2442.5 262.5 2429.1 196.9 2415.3 131.5M3122.4 1051.2 3079.6 1035.6 3036.6 1020.5 2993.7 1005.9 2950.9 991.3 2908.2 976.7 2865.5 961.2 2819.5 942.5 2780.4 923.8 2754.3 909.1 2726.1 890.9 2695.3 867.4 2662.6 836.6 2629.2 798.6 2595.8 755.9 2564.6 706.2 2538.6 648.4 2518.4 588.4 2500.8 523.8 2485.5 458.6 2471.6 393.1 2458.1 327.5 2444.8 262 2431.4 196.4 2417.6 131M3124.7 1050.3 3081.9 1034.6 3038.8 1019.5 2996 1004.9 2953.2 990.4 2910.5 975.7 2867.8 960.3 2821.8 941.6 2782.7 923 2756.7 908.4 2728.6 890.2 2697.8 866.8 2665 836 2631.7 798 2598.3 755.4 2567.1 705.7 2541 648 2520.8 587.9 2503.2 523.3 2487.9 458.1 2473.9 392.6 2460.4 327 2447.1 261.5 2433.7 195.9 2419.8 130.5M3126.9 1049.3 3084.1 1033.6 3041.1 1018.6 2998.3 1003.9 2955.5 989.4 2912.8 974.8 2870.1 959.4 2824.1 940.8 2785.1 922.2 2759.1 907.6 2731 889.5 2700.3 866.1 2667.5 835.4 2634.1 797.5 2600.7 754.9 2569.5 705.2 2543.4 647.5 2523.1 587.4 2505.5 522.8 2490.3 457.6 2476.3 392.1 2462.8 326.5 2449.5 261 2436 195.4 2422.1 130M3129.2 1048.3 3086.4 1032.7 3043.4 1017.6 3000.6 1003 2957.8 988.5 2915.1 973.9 2872.4 958.5 2826.5 939.9 2787.5 921.4 2761.5 906.9 2733.5 888.8 2702.7 865.5 2670 834.9 2636.6 797 2603.1 754.4 2571.9 704.7 2545.8 647 2525.5 586.9 2507.9 522.3 2492.6 457.1 2478.6 391.6 2465.1 326.1 2451.8 260.5 2438.3 194.9 2424.3 129.5M3131.4 1047.3 3088.7 1031.7 3045.6 1016.6 3002.9 1002 2960.1 987.5 2917.4 972.9 2874.7 957.6 2828.8 939.1 2789.9 920.6 2763.9 906.1 2735.9 888.1 2705.2 864.8 2672.4 834.3 2639 796.4 2605.6 753.9 2574.4 704.2 2548.2 646.5 2527.9 586.4 2510.3 521.8 2495 456.6 2481 391.1 2467.4 325.6 2454.1 260 2440.6 194.4 2426.6 129M3133.7 1046.3 3090.9 1030.7 3047.9 1015.6 3005.2 1001 2962.4 986.6 2919.8 972 2877 956.7 2831.2 938.2 2792.3 919.8 2766.3 905.3 2738.4 887.4 2707.6 864.2 2674.9 833.7 2641.5 795.9 2608 753.4 2576.8 703.8 2550.6 646 2530.3 586 2512.7 521.4 2497.4 456.1 2483.3 390.6 2469.8 325.1 2456.4 259.5 2442.9 193.9 2428.9 128.5M3135.9 1045.3 3093.2 1029.7 3050.2 1014.7 3007.4 1000.1 2964.7 985.6 2922.1 971.1 2879.4 955.8 2833.5 937.4 2794.6 919 2768.7 904.6 2740.8 886.7 2710.1 863.5 2677.4 833.1 2644 795.4 2610.5 752.9 2579.2 703.3 2553 645.6 2532.7 585.5 2515 520.9 2499.7 455.7 2485.7 390.2 2472.1 324.6 2458.7 259 2445.2 193.5 2431.1 128M3138.2 1044.3 3095.4 1028.7 3052.5 1013.7 3009.7 999.1 2967 984.7 2924.4 970.2 2881.7 954.9 2835.8 936.5 2797 918.2 2771.1 903.8 2743.2 886 2712.6 862.9 2679.8 832.5 2646.4 794.8 2612.9 752.4 2581.7 702.8 2555.4 645.1 2535.1 585 2517.4 520.4 2502.1 455.2 2488 389.7 2474.4 324.1 2461 258.5 2447.4 193 2433.4 127.5M3140.4 1043.3 3097.7 1027.8 3054.7 1012.7 3012 998.2 2969.3 983.7 2926.7 969.2 2884 954 2838.2 935.7 2799.4 917.4 2773.6 903.1 2745.7 885.3 2715 862.3 2682.3 831.9 2648.9 794.3 2615.4 751.9 2584.1 702.3 2557.8 644.6 2537.5 584.6 2519.8 519.9 2504.5 454.7 2490.4 389.2 2476.8 323.6 2463.3 258 2449.7 192.5 2435.7 127M3142.7 1042.3 3100 1026.8 3057 1011.8 3014.3 997.2 2971.6 982.8 2929 968.3 2886.3 953.1 2840.5 934.8 2801.8 916.6 2776 902.3 2748.1 884.6 2717.5 861.6 2684.8 831.4 2651.3 793.8 2617.8 751.4 2586.5 701.8 2560.3 644.1 2539.9 584.1 2522.2 519.5 2506.8 454.2 2492.7 388.7 2479.1 323.2 2465.6 257.6 2452 192 2438 126.6M3144.9 1041.3 3102.2 1025.8 3059.3 1010.8 3016.6 996.2 2973.9 981.8 2931.3 967.4 2888.6 952.2 2842.9 934 2804.1 915.8 2778.4 901.6 2750.6 883.9 2720 861 2687.2 830.8 2653.8 793.3 2620.3 750.9 2588.9 701.3 2562.7 643.7 2542.3 583.6 2524.5 519 2509.2 453.8 2495.1 388.3 2481.4 322.7 2468 257.1 2454.3 191.5 2440.2 126.1M3147.2 1040.3 3104.5 1024.8 3061.5 1009.8 3018.8 995.3 2976.2 980.9 2933.6 966.4 2890.9 951.3 2845.2 933.1 2806.5 915 2780.8 900.8 2753 883.2 2722.4 860.3 2689.7 830.2 2656.3 792.7 2622.7 750.4 2591.4 700.9 2565.1 643.2 2544.6 583.2 2526.9 518.5 2511.6 453.3 2497.4 387.8 2483.8 322.2 2470.3 256.6 2456.6 191.1 2442.5 125.6M3149.4 1039.3 3106.7 1023.8 3063.8 1008.8 3021.1 994.3 2978.5 979.9 2935.9 965.5 2893.2 950.4 2847.6 932.3 2808.9 914.2 2783.2 900.1 2755.4 882.5 2724.9 859.7 2692.2 829.6 2658.7 792.2 2625.2 749.9 2593.8 700.4 2567.5 642.7 2547 582.7 2529.3 518.1 2513.9 452.8 2499.8 387.3 2486.1 321.7 2472.6 256.1 2458.9 190.6 2444.8 125.1M3151.7 1038.3 3109 1022.8 3066.1 1007.8 3023.4 993.3 2980.8 979 2938.2 964.6 2895.6 949.5 2849.9 931.4 2811.3 913.4 2785.6 899.3 2757.9 881.8 2727.3 859.1 2694.7 829 2661.2 791.7 2627.6 749.4 2596.2 699.9 2569.9 642.3 2549.4 582.2 2531.7 517.6 2516.3 452.4 2502.1 386.8 2488.5 321.3 2474.9 255.7 2461.2 190.1 2447 124.7M3153.9 1037.3 3111.3 1021.8 3068.3 1006.9 3025.7 992.3 2983.1 978 2940.5 963.7 2897.9 948.6 2852.2 930.6 2813.7 912.6 2788 898.6 2760.3 881.1 2729.8 858.4 2697.1 828.5 2663.6 791.2 2630.1 748.9 2598.7 699.4 2572.3 641.8 2551.8 581.8 2534 517.1 2518.7 451.9 2504.5 386.4 2490.8 320.8 2477.2 255.2 2463.5 189.6 2449.3 124.2M3156.2 1036.3 3113.5 1020.8 3070.6 1005.9 3028 991.4 2985.3 977.1 2942.8 962.7 2900.2 947.7 2854.6 929.7 2816 911.8 2790.4 897.8 2762.8 880.4 2732.3 857.8 2699.6 827.9 2666.1 790.7 2632.5 748.5 2601.1 698.9 2574.7 641.3 2554.2 581.3 2536.4 516.7 2521 451.4 2506.9 385.9 2493.1 320.3 2479.5 254.7 2465.8 189.2 2451.6 123.7M3158.4 1035.3 3115.8 1019.9 3072.9 1004.9 3030.3 990.4 2987.6 976.1 2945.1 961.8 2902.5 946.8 2856.9 928.9 2818.4 911 2792.8 897.1 2765.2 879.7 2734.7 857.1 2702.1 827.3 2668.6 790.1 2635 748 2603.5 698.5 2577.1 640.9 2556.6 580.8 2538.8 516.2 2523.4 451 2509.2 385.4 2495.5 319.9 2481.8 254.3 2468.1 188.7 2453.8 123.2M3160.7 1034.3 3118 1018.9 3075.1 1003.9 3032.5 989.4 2989.9 975.2 2947.4 960.9 2904.8 945.9 2859.3 928 2820.8 910.3 2795.2 896.3 2767.7 879 2737.2 856.5 2704.5 826.7 2671 789.6 2637.4 747.5 2606 698 2579.5 640.4 2559 580.4 2541.2 515.8 2525.8 450.5 2511.6 385 2497.8 319.4 2484.2 253.8 2470.4 188.2 2456.1 122.8M3162.9 1033.3 3120.3 1017.9 3077.4 1002.9 3034.8 988.5 2992.2 974.2 2949.7 959.9 2907.1 945 2861.6 927.2 2823.2 909.5 2797.6 895.6 2770.1 878.3 2739.7 855.9 2707 826.2 2673.5 789.1 2639.9 747 2608.4 697.5 2581.9 640 2561.4 579.9 2543.6 515.3 2528.1 450 2513.9 384.5 2500.1 318.9 2486.5 253.3 2472.7 187.8 2458.4 122.3M3165.1 1032.3 3122.5 1016.9 3079.7 1001.9 3037.1 987.5 2994.5 973.3 2952 959 2909.4 944.1 2863.9 926.4 2825.5 908.7 2800.1 894.8 2772.5 877.6 2742.1 855.2 2709.5 825.6 2676 788.6 2642.3 746.5 2610.8 697.1 2584.4 639.5 2563.8 579.5 2545.9 514.8 2530.5 449.6 2516.3 384.1 2502.5 318.5 2488.8 252.9 2475 187.3 2460.7 121.9M3167.4 1031.3 3124.8 1015.9 3081.9 1001 3039.4 986.5 2996.8 972.3 2954.3 958.1 2911.7 943.2 2866.3 925.5 2827.9 907.9 2802.5 894.1 2775 877 2744.6 854.6 2711.9 825 2678.4 788.1 2644.8 746 2613.3 696.6 2586.8 639 2566.2 579 2548.3 514.4 2532.9 449.1 2518.6 383.6 2504.8 318 2491.1 252.4 2477.3 186.9 2462.9 121.4M3169.6 1030.3 3127 1014.9 3084.2 1000 3041.6 985.5 2999.1 971.3 2956.6 957.1 2914.1 942.3 2868.6 924.7 2830.3 907.1 2804.9 893.4 2777.4 876.3 2747.1 854 2714.4 824.5 2680.9 787.6 2647.2 745.5 2615.7 696.1 2589.2 638.6 2568.6 578.6 2550.7 513.9 2535.2 448.7 2521 383.1 2507.2 317.6 2493.4 252 2479.5 186.4 2465.2 121M3171.9 1029.3 3129.3 1013.9 3086.5 999 3043.9 984.6 3001.4 970.4 2958.9 956.2 2916.4 941.4 2870.9 923.8 2832.7 906.3 2807.3 892.6 2779.9 875.6 2749.5 853.3 2716.9 823.9 2683.3 787 2649.7 745 2618.1 695.7 2591.6 638.1 2571 578.1 2553.1 513.5 2537.6 448.2 2523.3 382.7 2509.5 317.1 2495.8 251.5 2481.8 186 2467.5 120.5M3174.1 1028.2 3131.5 1012.9 3088.7 998 3046.2 983.6 3003.7 969.4 2961.2 955.3 2918.7 940.5 2873.3 923 2835 905.5 2809.7 891.9 2782.3 874.9 2752 852.7 2719.4 823.3 2685.8 786.5 2652.1 744.6 2620.5 695.2 2594 637.7 2573.3 577.7 2555.4 513 2540 447.8 2525.7 382.2 2511.8 316.6 2498.1 251 2484.1 185.5 2469.8 120M3176.3 1027.2 3133.8 1011.9 3091 997 3048.5 982.6 3006 968.5 2963.5 954.3 2921 939.6 2875.6 922.1 2837.4 904.7 2812.1 891.1 2784.7 874.2 2754.4 852.1 2721.8 822.7 2688.3 786 2654.5 744.1 2623 694.7 2596.4 637.2 2575.7 577.2 2557.8 512.6 2542.3 447.3 2528.1 381.8 2514.2 316.2 2500.4 250.6 2486.4 185 2472 119.6M3178.6 1026.2 3136 1010.9 3093.2 996 3050.7 981.6 3008.3 967.5 2965.8 953.4 2923.3 938.7 2878 921.3 2839.8 903.9 2814.5 890.4 2787.2 873.5 2756.9 851.4 2724.3 822.2 2690.7 785.5 2657 743.6 2625.4 694.3 2598.8 636.8 2578.1 576.8 2560.2 512.1 2544.7 446.9 2530.4 381.3 2516.5 315.7 2502.7 250.1 2488.7 184.6 2474.3 119.1M3180.8 1025.2 3138.3 1009.9 3095.5 995 3053 980.7 3010.5 966.5 2968.1 952.5 2925.6 937.8 2880.3 920.4 2842.2 903.1 2816.9 889.6 2789.6 872.8 2759.4 850.8 2726.8 821.6 2693.2 785 2659.4 743.1 2627.8 693.8 2601.2 636.3 2580.5 576.3 2562.6 511.7 2547.1 446.4 2532.8 380.9 2518.9 315.3 2505 249.7 2491 184.2 2476.6 118.7M3183.1 1024.2 3140.5 1008.9 3097.8 994 3055.3 979.7 3012.8 965.6 2970.4 951.5 2927.9 936.9 2882.6 919.6 2844.5 902.3 2819.3 888.9 2792.1 872.1 2761.8 850.2 2729.2 821 2695.7 784.5 2661.9 742.6 2630.3 693.3 2603.6 635.9 2582.9 575.9 2565 511.2 2549.5 446 2535.1 380.4 2521.2 314.8 2507.4 249.2 2493.3 183.7 2478.9 118.3M3185.3 1023.1 3142.8 1007.9 3100 993 3057.6 978.7 3015.1 964.6 2972.7 950.6 2930.2 936 2885 918.7 2846.9 901.6 2821.7 888.1 2794.5 871.4 2764.3 849.5 2731.7 820.5 2698.1 784 2664.3 742.2 2632.7 692.9 2606 635.4 2585.3 575.4 2567.3 510.8 2551.8 445.5 2537.5 380 2523.5 314.4 2509.7 248.8 2495.6 183.3 2481.1 117.8M3187.5 1022.1 3145 1006.8 3102.3 992 3059.8 977.7 3017.4 963.7 2975 949.7 2932.5 935.1 2887.3 917.9 2849.3 900.8 2824.1 887.4 2796.9 870.7 2766.8 848.9 2734.2 819.9 2700.6 783.5 2666.8 741.7 2635.1 692.4 2608.5 635 2587.7 575 2569.7 510.4 2554.2 445.1 2539.8 379.5 2525.9 313.9 2512 248.4 2497.9 182.8 2483.4 117.4M3189.8 1021.1 3147.3 1005.8 3104.5 991 3062.1 976.7 3019.7 962.7 2977.3 948.7 2934.9 934.2 2889.6 917 2851.7 900 2826.6 886.6 2799.4 870 2769.2 848.3 2736.6 819.3 2703 782.9 2669.2 741.2 2637.6 691.9 2610.9 634.5 2590.1 574.5 2572.1 509.9 2556.6 444.6 2542.2 379.1 2528.2 313.5 2514.3 247.9 2500.2 182.4 2485.7 116.9M3192 1020.1 3149.5 1004.8 3106.8 990 3064.4 975.8 3022 961.7 2979.6 947.8 2937.2 933.3 2892 916.2 2854 899.2 2829 885.9 2801.8 869.3 2771.7 847.6 2739.1 818.8 2705.5 782.4 2671.7 740.7 2640 691.5 2613.3 634.1 2592.5 574.1 2574.5 509.5 2558.9 444.2 2544.6 378.6 2530.6 313.1 2516.6 247.5 2502.5 181.9 2488 116.5M3194.2 1019 3151.8 1003.8 3109.1 989 3066.7 974.8 3024.3 960.8 2981.9 946.9 2939.5 932.4 2894.3 915.3 2856.4 898.4 2831.4 885.2 2804.3 868.7 2774.1 847 2741.6 818.2 2708 781.9 2674.1 740.2 2642.4 691 2615.7 633.6 2594.9 573.7 2576.9 509 2561.3 443.7 2546.9 378.2 2532.9 312.6 2519 247 2504.8 181.5 2490.3 116M3196.5 1018 3154 1002.8 3111.3 988 3068.9 973.8 3026.5 959.8 2984.2 945.9 2941.8 931.5 2896.7 914.5 2858.8 897.6 2833.8 884.4 2806.7 868 2776.6 846.4 2744.1 817.6 2710.4 781.4 2676.6 739.8 2644.9 690.6 2618.1 633.2 2597.3 573.2 2579.2 508.6 2563.7 443.3 2549.3 377.8 2535.2 312.2 2521.3 246.6 2507.1 181.1 2492.5 115.6M3198.7 1017 3156.3 1001.8 3113.6 987 3071.2 972.8 3028.8 958.8 2986.5 945 2944.1 930.6 2899 913.6 2861.2 896.8 2836.2 883.7 2809.1 867.3 2779.1 845.8 2746.5 817.1 2712.9 780.9 2679 739.3 2647.3 690.1 2620.5 632.7 2599.7 572.8 2581.6 508.1 2566.1 442.9 2551.6 377.3 2537.6 311.7 2523.6 246.1 2509.4 180.6 2494.8 115.2M3200.9 1015.9 3158.5 1000.8 3115.8 986 3073.5 971.8 3031.1 957.9 2988.8 944 2946.4 929.7 2901.3 912.8 2863.5 896 2838.6 882.9 2811.6 866.6 2781.5 845.1 2749 816.5 2715.3 780.4 2681.5 738.8 2649.7 689.6 2622.9 632.3 2602.1 572.3 2584 507.7 2568.4 442.4 2554 376.9 2539.9 311.3 2525.9 245.7 2511.7 180.2 2497.1 114.7M3203.2 1014.9 3160.7 999.7 3118.1 985 3075.7 970.8 3033.4 956.9 2991.1 943.1 2948.7 928.8 2903.7 911.9 2865.9 895.2 2841 882.2 2814 865.9 2784 844.5 2751.5 815.9 2717.8 779.9 2683.9 738.3 2652.2 689.2 2625.3 631.8 2604.4 571.9 2586.4 507.3 2570.8 442 2556.4 376.4 2542.3 310.8 2528.2 245.3 2514 179.7 2499.4 114.3M3205.4 1013.9 3163 998.7 3120.3 984 3078 969.8 3035.7 955.9 2993.4 942.1 2951 927.9 2906 911.1 2868.3 894.4 2843.4 881.4 2816.5 865.2 2786.4 843.9 2753.9 815.4 2720.3 779.4 2686.4 737.8 2654.6 688.7 2627.7 631.4 2606.8 571.5 2588.8 506.8 2573.2 441.5 2558.7 376 2544.6 310.4 2530.6 244.8 2516.3 179.3 2501.6 113.9M3207.6 1012.8 3165.2 997.7 3122.6 983 3080.3 968.8 3038 954.9 2995.7 941.2 2953.3 927 2908.3 910.2 2870.7 893.6 2845.8 880.7 2818.9 864.5 2788.9 843.2 2756.4 814.8 2722.7 778.9 2688.8 737.4 2657 688.3 2630.2 630.9 2609.2 571 2591.1 506.4 2575.5 441.1 2561.1 375.6 2547 310 2532.9 244.4 2518.6 178.9 2503.9 113.4M3209.9 1011.8 3167.5 996.7 3124.8 982 3082.5 967.8 3040.2 954 2998 940.3 2955.6 926.1 2910.7 909.4 2873 892.8 2848.2 879.9 2821.3 863.8 2791.4 842.6 2758.9 814.2 2725.2 778.4 2691.3 736.9 2659.5 687.8 2632.6 630.5 2611.6 570.6 2593.5 505.9 2577.9 440.7 2563.4 375.1 2549.3 309.5 2535.2 244 2520.9 178.4 2506.2 113M3212.1 1010.7 3169.7 995.6 3127.1 981 3084.8 966.8 3042.5 953 3000.3 939.3 2957.9 925.2 2913 908.5 2875.4 892 2850.6 879.2 2823.8 863.1 2793.8 842 2761.3 813.7 2727.6 777.9 2693.7 736.4 2661.9 687.3 2635 630 2614 570.1 2595.9 505.5 2580.3 440.2 2565.8 374.7 2551.6 309.1 2537.5 243.5 2523.2 178 2508.5 112.6M3214.3 1009.7 3171.9 994.6 3129.3 980 3087.1 965.9 3044.8 952 3002.6 938.4 2960.2 924.3 2915.3 907.7 2877.8 891.3 2853 878.4 2826.2 862.4 2796.3 841.3 2763.8 813.1 2730.1 777.3 2696.2 735.9 2664.3 686.9 2637.4 629.6 2616.4 569.7 2598.3 505.1 2582.7 439.8 2568.2 374.2 2554 308.7 2539.9 243.1 2525.5 177.6 2510.8 112.1M3216.5 1008.6 3174.2 993.6 3131.6 979 3089.3 964.9 3047.1 951.1 3004.9 937.4 2962.5 923.4 2917.7 906.8 2880.1 890.5 2855.4 877.7 2828.7 861.7 2798.7 840.7 2766.3 812.5 2732.6 776.8 2698.6 735.5 2666.7 686.4 2639.8 629.2 2618.8 569.3 2600.7 504.6 2585 439.3 2570.5 373.8 2556.3 308.2 2542.2 242.7 2527.8 177.1 2513 111.7M3218.8 1007.6 3176.4 992.6 3133.8 978 3091.6 963.9 3049.4 950.1 3007.2 936.5 2964.8 922.4 2920 906 2882.5 889.7 2857.8 876.9 2831.1 861.1 2801.2 840.1 2768.7 812 2735 776.3 2701.1 735 2669.2 686 2642.2 628.7 2621.2 568.8 2603 504.2 2587.4 438.9 2572.9 373.4 2558.7 307.8 2544.5 242.2 2530.1 176.7 2515.3 111.3M3221 1006.5 3178.7 991.5 3136.1 976.9 3093.9 962.9 3051.6 949.1 3009.4 935.5 2967.1 921.5 2922.3 905.1 2884.9 888.9 2860.2 876.2 2833.5 860.4 2803.7 839.4 2771.2 811.4 2737.5 775.8 2703.5 734.5 2671.6 685.5 2644.6 628.3 2623.6 568.4 2605.4 503.8 2589.8 438.5 2575.2 372.9 2561 307.4 2546.8 241.8 2532.4 176.3 2517.6 110.9M3223.2 1005.5 3180.9 990.5 3138.3 975.9 3096.1 961.9 3053.9 948.1 3011.7 934.6 2969.5 920.6 2924.7 904.2 2887.3 888.1 2862.6 875.4 2836 859.7 2806.1 838.8 2773.7 810.8 2739.9 775.3 2706 734 2674 685 2647 627.8 2626 567.9 2607.8 503.3 2592.1 438 2577.6 372.5 2563.4 306.9 2549.1 241.4 2534.7 175.9 2519.9 110.4M3225.4 1004.4 3183.1 989.5 3140.6 974.9 3098.4 960.9 3056.2 947.1 3014 933.6 2971.8 919.7 2927 903.4 2889.6 887.3 2865 874.7 2838.4 859 2808.6 838.2 2776.1 810.3 2742.4 774.8 2708.4 733.6 2676.5 684.6 2649.4 627.4 2628.4 567.5 2610.2 502.9 2594.5 437.6 2580 372.1 2565.7 306.5 2551.5 240.9 2537 175.4 2522.2 110M3227.7 1003.4 3185.4 988.4 3142.8 973.9 3100.7 959.9 3058.5 946.2 3016.3 932.7 2974.1 918.8 2929.3 902.5 2892 886.5 2867.4 873.9 2840.8 858.3 2811 837.5 2778.6 809.7 2744.9 774.3 2710.8 733.1 2678.9 684.1 2651.9 626.9 2630.8 567.1 2612.6 502.4 2596.9 437.2 2582.3 371.6 2568 306.1 2553.8 240.5 2539.3 175 2524.4 109.6M3229.9 1002.3 3187.6 987.4 3145.1 972.9 3102.9 958.8 3060.8 945.2 3018.6 931.7 2976.4 917.9 2931.6 901.7 2894.4 885.7 2869.8 873.2 2843.3 857.6 2813.5 836.9 2781.1 809.1 2747.3 773.8 2713.3 732.6 2681.3 683.7 2654.3 626.5 2633.2 566.6 2614.9 502 2599.3 436.7 2584.7 371.2 2570.4 305.6 2556.1 240.1 2541.6 174.6 2526.7 109.2M3232.1 1001.3 3189.8 986.3 3147.3 971.8 3105.2 957.8 3063 944.2 3020.9 930.8 2978.7 917 2934 900.8 2896.7 884.9 2872.2 872.4 2845.7 856.9 2816 836.3 2783.5 808.6 2749.8 773.3 2715.7 732.1 2683.8 683.2 2656.7 626.1 2635.6 566.2 2617.3 501.6 2601.6 436.3 2587 370.8 2572.7 305.2 2558.4 239.6 2543.9 174.1 2529 108.7M3234.3 1000.2 3192.1 985.3 3149.6 970.8 3107.4 956.8 3065.3 943.2 3023.2 929.8 2981 916.1 2936.3 900 2899.1 884.1 2874.6 871.7 2848.1 856.2 2818.4 835.6 2786 808 2752.2 772.8 2718.2 731.7 2686.2 682.8 2659.1 625.6 2637.9 565.8 2619.7 501.1 2604 435.9 2589.4 370.3 2575.1 304.8 2560.8 239.2 2546.2 173.7 2531.3 108.3M3236.5 999.1 3194.3 984.3 3151.8 969.8 3109.7 955.8 3067.6 942.2 3025.5 928.9 2983.3 915.1 2938.6 899.1 2901.5 883.3 2877 870.9 2850.6 855.5 2820.9 835 2788.5 807.4 2754.7 772.2 2720.6 731.2 2688.6 682.3 2661.5 625.2 2640.3 565.3 2622.1 500.7 2606.4 435.4 2591.8 369.9 2577.4 304.3 2563.1 238.8 2548.5 173.3 2533.6 107.9M3238.8 998.1 3196.5 983.2 3154 968.8 3112 954.8 3069.9 941.2 3027.8 927.9 2985.6 914.2 2941 898.2 2903.8 882.5 2879.4 870.2 2853 854.8 2823.3 834.4 2790.9 806.8 2757.2 771.7 2723.1 730.7 2691.1 681.8 2663.9 624.7 2642.7 564.9 2624.5 500.3 2608.7 435 2594.1 369.5 2579.8 303.9 2565.4 238.4 2550.8 172.9 2535.8 107.5M3241 997 3198.8 982.2 3156.3 967.7 3114.2 953.8 3072.1 940.2 3030 926.9 2987.9 913.3 2943.3 897.4 2906.2 881.7 2881.8 869.4 2855.4 854.1 2825.8 833.7 2793.4 806.3 2759.6 771.2 2725.5 730.2 2693.5 681.4 2666.3 624.3 2645.1 564.4 2626.8 499.8 2611.1 434.6 2596.5 369 2582.1 303.5 2567.7 237.9 2553.1 172.4 2538.1 107.1M3243.2 995.9 3201 981.1 3158.5 966.7 3116.5 952.8 3074.4 939.3 3032.3 926 2990.2 912.4 2945.6 896.5 2908.6 880.9 2884.2 868.7 2857.9 853.4 2828.2 833.1 2795.9 805.7 2762.1 770.7 2728 729.7 2695.9 680.9 2668.7 623.8 2647.5 564 2629.2 499.4 2613.5 434.1 2598.8 368.6 2584.4 303 2570 237.5 2555.4 172 2540.4 106.6M3245.4 994.9 3203.2 980.1 3160.8 965.7 3118.7 951.8 3076.7 938.3 3034.6 925 2992.5 911.5 2947.9 895.6 2910.9 880.1 2886.6 867.9 2860.3 852.7 2830.7 832.5 2798.3 805.1 2764.5 770.2 2730.4 729.3 2698.3 680.5 2671.1 623.4 2649.9 563.6 2631.6 499 2615.8 433.7 2601.2 368.2 2586.8 302.6 2572.4 237.1 2557.7 171.6 2542.7 106.2M3247.6 993.8 3205.4 979 3163 964.6 3121 950.8 3078.9 937.3 3036.9 924.1 2994.8 910.5 2950.3 894.8 2913.3 879.3 2889 867.2 2862.7 852 2833.2 831.8 2800.8 804.6 2767 769.7 2732.8 728.8 2700.8 680 2673.5 622.9 2652.3 563.1 2634 498.5 2618.2 433.2 2603.6 367.7 2589.1 302.2 2574.7 236.6 2560 171.2 2545 105.8M3249.8 992.7 3207.7 978 3165.2 963.6 3123.2 949.7 3081.2 936.3 3039.2 923.1 2997 909.6 2952.6 893.9 2915.7 878.5 2891.4 866.4 2865.2 851.3 2835.6 831.2 2803.2 804 2769.4 769.2 2735.3 728.3 2703.2 679.5 2675.9 622.5 2654.7 562.7 2636.4 498.1 2620.6 432.8 2605.9 367.3 2591.5 301.7 2577 236.2 2562.3 170.8 2547.2 105.4M3252.1 991.6 3209.9 976.9 3167.5 962.5 3125.5 948.7 3083.5 935.3 3041.5 922.1 2999.3 908.7 2954.9 893 2918 877.7 2893.8 865.7 2867.6 850.6 2838.1 830.5 2805.7 803.4 2771.9 768.7 2737.7 727.8 2705.6 679.1 2678.4 622 2657.1 562.3 2638.7 497.7 2623 432.4 2608.3 366.9 2593.8 301.3 2579.3 235.8 2564.6 170.3 2549.5 105M3254.3 990.5 3212.1 975.8 3169.7 961.5 3127.8 947.7 3085.8 934.3 3043.7 921.2 3001.6 907.8 2957.2 892.2 2920.4 876.8 2896.2 864.9 2870 849.9 2840.5 829.9 2808.2 802.8 2774.4 768.1 2740.2 727.3 2708.1 678.6 2680.8 621.6 2659.5 561.8 2641.1 497.2 2625.3 431.9 2610.6 366.4 2596.2 300.9 2581.7 235.4 2566.9 169.9 2551.8 104.5M3256.5 989.5 3214.3 974.8 3172 960.5 3130 946.7 3088 933.3 3046 920.2 3003.9 906.8 2959.6 891.3 2922.8 876 2898.6 864.1 2872.5 849.2 2843 829.3 2810.6 802.3 2776.8 767.6 2742.6 726.9 2710.5 678.2 2683.2 621.2 2661.9 561.4 2643.5 496.8 2627.7 431.5 2613 366 2598.5 300.4 2584 234.9 2569.2 169.5 2554.1 104.1M3258.7 988.4 3216.6 973.7 3174.2 959.4 3132.3 945.6 3090.3 932.3 3048.3 919.2 3006.2 905.9 2961.9 890.4 2925.1 875.2 2901 863.4 2874.9 848.5 2845.4 828.6 2813.1 801.7 2779.3 767.1 2745.1 726.4 2712.9 677.7 2685.6 620.7 2664.2 560.9 2645.9 496.3 2630.1 431.1 2615.3 365.6 2600.8 300 2586.3 234.5 2571.5 169.1 2556.4 103.7M3260.9 987.3 3218.8 972.7 3176.4 958.4 3134.5 944.6 3092.6 931.3 3050.6 918.3 3008.5 905 2964.2 889.6 2927.5 874.4 2903.4 862.6 2877.3 847.8 2847.9 828 2815.6 801.1 2781.7 766.6 2747.5 725.9 2715.3 677.2 2688 620.3 2666.6 560.5 2648.3 495.9 2632.4 430.6 2617.7 365.1 2603.2 299.6 2588.6 234.1 2573.9 168.6 2558.6 103.3M3263.1 986.2 3221 971.6 3178.7 957.3 3136.8 943.6 3094.8 930.3 3052.9 917.3 3010.8 904 2966.5 888.7 2929.8 873.6 2905.8 861.9 2879.8 847.1 2850.3 827.3 2818 800.5 2784.2 766.1 2750 725.4 2717.8 676.8 2690.4 619.8 2669 560.1 2650.6 495.5 2634.8 430.2 2620.1 364.7 2605.5 299.2 2591 233.7 2576.2 168.2 2560.9 102.9M3265.3 985.1 3223.2 970.5 3180.9 956.3 3139 942.6 3097.1 929.3 3055.2 916.3 3013.1 903.1 2968.9 887.8 2932.2 872.8 2908.2 861.1 2882.2 846.4 2852.8 826.7 2820.5 800 2786.6 765.6 2752.4 724.9 2720.2 676.3 2692.8 619.4 2671.4 559.6 2653 495 2637.2 429.8 2622.4 364.3 2607.9 298.7 2593.3 233.2 2578.5 167.8 2563.2 102.4M3267.5 984 3225.4 969.4 3183.1 955.2 3141.3 941.5 3099.4 928.3 3057.4 915.3 3015.4 902.2 2971.2 886.9 2934.6 872 2910.6 860.3 2884.6 845.7 2855.2 826.1 2822.9 799.4 2789.1 765 2754.8 724.4 2722.6 675.8 2695.2 618.9 2673.8 559.2 2655.4 494.6 2639.5 429.3 2624.8 363.8 2610.2 298.3 2595.6 232.8 2580.8 167.4 2565.5 102M3269.7 982.9 3227.6 968.4 3185.4 954.2 3143.5 940.5 3101.6 927.3 3059.7 914.4 3017.7 901.2 2973.5 886.1 2936.9 871.2 2913 859.6 2887 845 2857.7 825.4 2825.4 798.8 2791.5 764.5 2757.3 723.9 2725 675.4 2697.6 618.5 2676.2 558.7 2657.8 494.1 2641.9 428.9 2627.1 363.4 2612.5 297.9 2597.9 232.4 2583.1 166.9 2567.8 101.6M3271.9 981.8 3229.9 967.3 3187.6 953.1 3145.7 939.5 3103.9 926.2 3062 913.4 3020 900.3 2975.8 885.2 2939.3 870.4 2915.4 858.8 2889.5 844.3 2860.1 824.8 2827.9 798.2 2794 764 2759.7 723.5 2727.5 674.9 2700 618 2678.6 558.3 2660.1 493.7 2644.3 428.4 2629.5 362.9 2614.9 297.4 2600.2 231.9 2585.4 166.5 2570.1 101.2M3274.1 980.7 3232.1 966.2 3189.8 952.1 3148 938.4 3106.1 925.2 3064.3 912.4 3022.3 899.4 2978.1 884.3 2941.6 869.5 2917.8 858 2891.9 843.5 2862.6 824.1 2830.3 797.6 2796.4 763.5 2762.2 723 2729.9 674.4 2702.4 617.6 2681 557.8 2662.5 493.3 2646.7 428 2631.9 362.5 2617.2 297 2602.6 231.5 2587.7 166.1 2572.3 100.8M3276.3 979.6 3234.3 965.1 3192 951 3150.2 937.4 3108.4 924.2 3066.5 911.4 3024.6 898.4 2980.5 883.4 2944 868.7 2920.2 857.3 2894.3 842.8 2865 823.5 2832.8 797.1 2798.9 763 2764.6 722.5 2732.3 674 2704.8 617.1 2683.4 557.4 2664.9 492.8 2649 427.6 2634.2 362.1 2619.6 296.6 2604.9 231.1 2590 165.7 2574.6 100.3M3278.5 978.5 3236.5 964.1 3194.3 949.9 3152.5 936.3 3110.7 923.2 3068.8 910.4 3026.9 897.5 2982.8 882.5 2946.4 867.9 2922.6 856.5 2896.8 842.1 2867.5 822.8 2835.2 796.5 2801.3 762.4 2767 722 2734.7 673.5 2707.2 616.6 2685.7 556.9 2667.3 492.4 2651.4 427.1 2636.6 361.6 2621.9 296.1 2607.2 230.6 2592.3 165.2 2576.9 99.9M3280.7 977.4 3238.7 963 3196.5 948.9 3154.7 935.3 3112.9 922.2 3071.1 909.5 3029.1 896.6 2985.1 881.7 2948.7 867.1 2925 855.7 2899.2 841.4 2869.9 822.2 2837.7 795.9 2803.8 761.9 2769.5 721.5 2737.2 673 2709.6 616.2 2688.1 556.5 2669.6 491.9 2653.8 426.7 2638.9 361.2 2624.3 295.7 2609.5 230.2 2594.6 164.8 2579.2 99.5M3282.9 976.3 3240.9 961.9 3198.7 947.8 3157 934.3 3115.2 921.2 3073.4 908.5 3031.4 895.6 2987.4 880.8 2951.1 866.3 2927.4 854.9 2901.6 840.7 2872.4 821.5 2840.1 795.3 2806.2 761.4 2771.9 721 2739.6 672.5 2712 615.7 2690.5 556.1 2672 491.5 2656.1 426.2 2641.3 360.8 2626.6 295.2 2611.9 229.8 2596.9 164.4 2581.5 99.1M3285.1 975.2 3243.1 960.8 3200.9 946.7 3159.2 933.2 3117.4 920.1 3075.6 907.5 3033.7 894.7 2989.7 879.9 2953.4 865.4 2929.8 854.2 2904 840 2874.8 820.9 2842.6 794.7 2808.7 760.9 2774.4 720.5 2742 672.1 2714.4 615.3 2692.9 555.6 2674.4 491.1 2658.5 425.8 2643.6 360.3 2628.9 294.8 2614.2 229.4 2599.2 164 2583.7 98.6M3287.3 974.1 3245.3 959.7 3203.2 945.7 3161.5 932.2 3119.7 919.1 3077.9 906.5 3036 893.7 2992 879 2955.8 864.6 2932.2 853.4 2906.5 839.3 2877.3 820.2 2845.1 794.1 2811.1 760.3 2776.8 720 2744.4 671.6 2716.9 614.8 2695.3 555.2 2676.8 490.6 2660.9 425.4 2646 359.9 2631.3 294.4 2616.5 228.9 2601.5 163.5 2586 98.2M3289.5 973 3247.6 958.6 3205.4 944.6 3163.7 931.1 3122 918.1 3080.2 905.5 3038.3 892.8 2994.4 878.1 2958.1 863.8 2934.5 852.6 2908.9 838.5 2879.7 819.5 2847.5 793.5 2813.6 759.8 2779.2 719.5 2746.9 671.1 2719.3 614.4 2697.7 554.7 2679.1 490.2 2663.2 424.9 2648.3 359.4 2633.6 293.9 2618.8 228.5 2603.8 163.1 2588.3 97.8M3291.7 971.9 3249.8 957.5 3207.6 943.5 3165.9 930.1 3124.2 917.1 3082.4 904.5 3040.6 891.8 2996.7 877.2 2960.5 863 2936.9 851.8 2911.3 837.8 2882.2 818.9 2850 792.9 2816 759.3 2781.7 719 2749.3 670.7 2721.7 613.9 2700.1 554.3 2681.5 489.7 2665.6 424.5 2650.7 359 2636 293.5 2621.1 228.1 2606.1 162.7 2590.6 97.4M3293.9 970.7 3252 956.4 3209.8 942.4 3168.2 929 3126.5 916 3084.7 903.5 3042.8 890.9 2999 876.3 2962.9 862.1 2939.3 851.1 2913.7 837.1 2884.6 818.2 2852.4 792.4 2818.5 758.7 2784.1 718.5 2751.7 670.2 2724.1 613.4 2702.4 553.8 2683.9 489.3 2668 424 2653.1 358.5 2638.3 293.1 2623.5 227.6 2608.4 162.2 2592.9 97M3296.1 969.6 3254.2 955.3 3212 941.4 3170.4 928 3128.7 915 3087 902.5 3045.1 889.9 3001.3 875.4 2965.2 861.3 2941.7 850.3 2916.1 836.4 2887.1 817.6 2854.9 791.8 2820.9 758.2 2786.5 718 2754.1 669.7 2726.5 613 2704.8 553.4 2686.3 488.8 2670.3 423.6 2655.4 358.1 2640.6 292.6 2625.8 227.2 2610.7 161.8 2595.1 96.5M3298.3 968.5 3256.4 954.2 3214.3 940.3 3172.6 926.9 3131 914 3089.2 901.5 3047.4 889 3003.6 874.5 2967.6 860.5 2944.1 849.5 2918.6 835.6 2889.5 816.9 2857.3 791.2 2823.4 757.7 2789 717.5 2756.5 669.2 2728.9 612.5 2707.2 552.9 2688.6 488.4 2672.7 423.1 2657.8 357.7 2643 292.2 2628.1 226.7 2613 161.4 2597.4 96.1M3300.4 967.4 3258.6 953.1 3216.5 939.2 3174.9 925.8 3133.2 913 3091.5 900.5 3049.7 888 3005.9 873.7 2969.9 859.6 2946.5 848.7 2921 834.9 2892 816.2 2859.8 790.6 2825.8 757.1 2791.4 717 2759 668.7 2731.3 612.1 2709.6 552.4 2691 487.9 2675.1 422.7 2660.1 357.2 2645.3 291.7 2630.4 226.3 2615.3 160.9 2599.7 95.7M3302.6 966.2 3260.8 952 3218.7 938.1 3177.1 924.8 3135.5 911.9 3093.8 899.5 3052 887 3008.2 872.8 2972.3 858.8 2948.9 847.9 2923.4 834.2 2894.4 815.6 2862.2 790 2828.3 756.6 2793.8 716.5 2761.4 668.3 2733.7 611.6 2712 552 2693.4 487.5 2677.4 422.2 2662.5 356.8 2647.7 291.3 2632.7 225.9 2617.6 160.5 2602 95.3M3304.8 965.1 3263 950.9 3220.9 937 3179.3 923.7 3137.7 910.9 3096 898.5 3054.3 886.1 3010.5 871.9 2974.6 858 2951.3 847.1 2925.8 833.5 2896.8 814.9 2864.7 789.4 2830.7 756.1 2796.3 716 2763.8 667.8 2736.1 611.1 2714.4 551.5 2695.8 487 2679.8 421.8 2664.8 356.3 2650 290.9 2635.1 225.4 2619.9 160.1 2604.3 94.8M3307 964 3265.2 949.8 3223.1 936 3181.6 922.7 3140 909.8 3098.3 897.5 3056.5 885.1 3012.8 871 2977 857.1 2953.6 846.4 2928.2 832.7 2899.3 814.3 2867.1 788.8 2833.2 755.5 2798.7 715.5 2766.2 667.3 2738.5 610.7 2716.8 551.1 2698.1 486.6 2682.2 421.3 2667.2 355.9 2652.3 290.4 2637.4 225 2622.2 159.7 2606.5 94.4M3309.2 962.8 3267.4 948.7 3225.3 934.9 3183.8 921.6 3142.2 908.8 3100.6 896.5 3058.8 884.2 3015.2 870.1 2979.3 856.3 2956 845.6 2930.7 832 2901.7 813.6 2869.6 788.2 2835.6 755 2801.1 715 2768.6 666.8 2740.9 610.2 2719.1 550.6 2700.5 486.1 2684.5 420.9 2669.5 355.4 2654.7 290 2639.7 224.6 2624.5 159.2 2608.8 94M3311.4 961.7 3269.6 947.6 3227.6 933.8 3186 920.5 3144.5 907.8 3102.8 895.5 3061.1 883.2 3017.5 869.1 2981.7 855.5 2958.4 844.8 2933.1 831.3 2904.2 812.9 2872 787.6 2838.1 754.4 2803.6 714.5 2771.1 666.3 2743.3 609.7 2721.5 550.2 2702.9 485.7 2686.9 420.4 2671.9 355 2657 289.5 2642 224.1 2626.8 158.8 2611.1 93.5M3313.6 960.6 3271.8 946.5 3229.8 932.7 3188.3 919.4 3146.7 906.7 3105.1 894.5 3063.4 882.2 3019.8 868.2 2984 854.6 2960.8 844 2935.5 830.5 2906.6 812.2 2874.5 787 2840.5 753.9 2806 714 2773.5 665.9 2745.7 609.3 2723.9 549.7 2705.3 485.2 2689.2 420 2674.3 354.5 2659.3 289.1 2644.3 223.7 2629.1 158.4 2613.4 93.1M3315.7 959.4 3274 945.4 3232 931.6 3190.5 918.4 3149 905.7 3107.4 893.5 3065.6 881.3 3022.1 867.3 2986.4 853.8 2963.2 843.2 2937.9 829.8 2909 811.6 2876.9 786.4 2843 753.4 2808.4 713.5 2775.9 665.4 2748.1 608.8 2726.3 549.2 2707.6 484.7 2691.6 419.5 2676.6 354.1 2661.7 288.6 2646.7 223.2 2631.4 157.9 2615.7 92.7M3317.9 958.3 3276.2 944.2 3234.2 930.5 3192.7 917.3 3151.2 904.6 3109.6 892.5 3067.9 880.3 3024.4 866.4 2988.7 852.9 2965.6 842.4 2940.3 829.1 2911.5 810.9 2879.4 785.8 2845.4 752.8 2810.9 713 2778.3 664.9 2750.5 608.3 2728.7 548.8 2710 484.3 2694 419.1 2679 353.6 2664 288.2 2649 222.8 2633.7 157.5 2617.9 92.3M3320.1 957.1 3278.3 943.1 3236.4 929.4 3194.9 916.2 3153.4 903.6 3111.9 891.5 3070.2 879.3 3026.7 865.5 2991.1 852.1 2967.9 841.6 2942.7 828.3 2913.9 810.2 2881.8 785.2 2847.8 752.3 2813.3 712.5 2780.7 664.4 2752.9 607.9 2731 548.3 2712.4 483.8 2696.3 418.6 2681.3 353.2 2666.4 287.7 2651.3 222.4 2636 157 2620.2 91.8M3322.3 956 3280.5 942 3238.6 928.3 3197.2 915.1 3155.7 902.5 3114.1 890.4 3072.5 878.4 3029 864.6 2993.4 851.2 2970.3 840.8 2945.2 827.6 2916.4 809.6 2884.3 784.6 2850.3 751.7 2815.7 712 2783.1 663.9 2755.3 607.4 2733.4 547.9 2714.7 483.4 2698.7 418.2 2683.7 352.7 2668.7 287.3 2653.6 221.9 2638.3 156.6 2622.5 91.4M3324.4 954.8 3282.7 940.9 3240.8 927.2 3199.4 914.1 3157.9 901.5 3116.4 889.4 3074.7 877.4 3031.3 863.7 2995.7 850.4 2972.7 840 2947.6 826.9 2918.8 808.9 2886.7 784 2852.7 751.2 2818.2 711.5 2785.6 663.4 2757.7 606.9 2735.8 547.4 2717.1 482.9 2701.1 417.7 2686 352.3 2671 286.8 2655.9 221.5 2640.6 156.2 2624.8 91M3326.6 953.7 3284.9 939.7 3243 926.1 3201.6 913 3160.2 900.4 3118.6 888.4 3077 876.4 3033.6 862.8 2998.1 849.5 2975.1 839.2 2950 826.1 2921.2 808.2 2889.2 783.3 2855.2 750.6 2820.6 711 2788 662.9 2760.1 606.4 2738.2 546.9 2719.5 482.4 2703.4 417.2 2688.4 351.8 2673.4 286.4 2658.2 221 2642.9 155.7 2627 90.5M3328.8 952.5 3287.1 938.6 3245.2 925 3203.8 911.9 3162.4 899.3 3120.9 887.4 3079.3 875.4 3035.9 861.9 3000.4 848.7 2977.4 838.4 2952.4 825.4 2923.7 807.5 2891.6 782.7 2857.6 750.1 2823 710.4 2790.4 662.4 2762.4 606 2740.6 546.5 2721.8 482 2705.8 416.8 2690.7 351.4 2675.7 285.9 2660.6 220.6 2645.1 155.3 2629.3 90.1M3331 951.4 3289.3 937.5 3247.4 923.8 3206.1 910.8 3164.6 898.3 3123.2 886.4 3081.5 874.4 3038.2 860.9 3002.8 847.8 2979.8 837.6 2954.8 824.6 2926.1 806.8 2894.1 782.1 2860 749.5 2825.5 709.9 2792.8 661.9 2764.8 605.5 2742.9 546 2724.2 481.5 2708.1 416.3 2693.1 350.9 2678 285.5 2662.9 220.1 2647.4 154.9 2631.6 89.7M3333.1 950.2 3291.5 936.3 3249.6 922.7 3208.3 909.7 3166.9 897.2 3125.4 885.3 3083.8 873.5 3040.5 860 3005.1 847 2982.2 836.8 2957.2 823.9 2928.5 806.2 2896.5 781.5 2862.5 749 2827.9 709.4 2795.2 661.4 2767.2 605 2745.3 545.5 2726.6 481.1 2710.5 415.9 2695.4 350.4 2680.4 285 2665.2 219.7 2649.7 154.4 2633.9 89.2M3335.3 949 3293.7 935.2 3251.8 921.6 3210.5 908.6 3169.1 896.2 3127.7 884.3 3086.1 872.5 3042.8 859.1 3007.5 846.1 2984.6 836 2959.6 823.1 2931 805.5 2899 780.9 2864.9 748.4 2830.3 708.9 2797.6 660.9 2769.6 604.5 2747.7 545.1 2728.9 480.6 2712.9 415.4 2697.8 350 2682.7 284.6 2667.5 219.2 2652 154 2636.2 88.8M3337.5 947.9 3295.8 934.1 3254 920.5 3212.7 907.5 3171.3 895.1 3129.9 883.3 3088.4 871.5 3045.1 858.2 3009.8 845.3 2987 835.2 2962.1 822.4 2933.4 804.8 2901.4 780.3 2867.4 747.9 2832.7 708.4 2800 660.4 2772 604 2750.1 544.6 2731.3 480.1 2715.2 414.9 2700.1 349.5 2685.1 284.1 2669.8 218.8 2654.3 153.5 2638.4 88.4M3339.6 946.7 3298 932.9 3256.2 919.4 3214.9 906.4 3173.6 894 3132.2 882.2 3090.6 870.5 3047.4 857.3 3012.1 844.4 2989.3 834.4 2964.5 821.6 2935.9 804.1 2903.8 779.7 2869.8 747.3 2835.2 707.9 2802.5 659.9 2774.4 603.6 2752.5 544.1 2733.7 479.7 2717.6 414.5 2702.5 349.1 2687.4 283.7 2672.2 218.3 2656.6 153.1 2640.7 87.9M3341.8 945.5 3300.2 931.8 3258.4 918.3 3217.1 905.3 3175.8 893 3134.4 881.2 3092.9 869.5 3049.7 856.3 3014.5 843.5 2991.7 833.6 2966.9 820.9 2938.3 803.4 2906.3 779 2872.2 746.8 2837.6 707.3 2804.9 659.4 2776.8 603.1 2754.8 543.6 2736 479.2 2719.9 414 2704.8 348.6 2689.7 283.2 2674.5 217.9 2658.9 152.6 2643 87.5M3343.9 944.4 3302.4 930.6 3260.6 917.1 3219.3 904.2 3178 891.9 3136.7 880.2 3095.1 868.5 3052 855.4 3016.8 842.7 2994.1 832.8 2969.3 820.1 2940.7 802.7 2908.7 778.4 2874.7 746.2 2840 706.8 2807.3 658.9 2779.2 602.6 2757.2 543.2 2738.4 478.7 2722.3 413.5 2707.2 348.1 2692.1 282.8 2676.8 217.4 2661.2 152.2 2645.3 87M3346.1 943.2 3304.6 929.5 3262.8 916 3221.6 903.1 3180.3 890.8 3138.9 879.1 3097.4 867.5 3054.3 854.5 3019.1 841.8 2996.4 831.9 2971.7 819.4 2943.1 802 2911.2 777.8 2877.1 745.6 2842.4 706.3 2809.7 658.4 2781.6 602.1 2759.6 542.7 2740.8 478.3 2724.7 413.1 2709.5 347.7 2694.4 282.3 2679.1 217 2663.5 151.8 2647.5 86.6M3348.3 942 3306.7 928.3 3265 914.9 3223.8 902 3182.5 889.7 3141.2 878.1 3099.7 866.5 3056.6 853.5 3021.5 840.9 2998.8 831.1 2974.1 818.6 2945.6 801.3 2913.6 777.2 2879.5 745.1 2844.9 705.8 2812.1 657.9 2784 601.6 2762 542.2 2743.1 477.8 2727 412.6 2711.9 347.2 2696.7 281.9 2681.4 216.5 2665.8 151.3 2649.8 86.2M3350.4 940.8 3308.9 927.2 3267.2 913.7 3226 900.9 3184.7 888.7 3143.4 877 3101.9 865.5 3058.9 852.6 3023.8 840.1 3001.2 830.3 2976.5 817.9 2948 800.7 2916.1 776.5 2882 744.5 2847.3 705.2 2814.5 657.4 2786.4 601.1 2764.3 541.7 2745.5 477.3 2729.4 412.1 2714.2 346.8 2699.1 281.4 2683.7 216.1 2668.1 150.9 2652.1 85.7M3352.6 939.6 3311.1 926 3269.4 912.6 3228.2 899.8 3187 887.6 3145.6 876 3104.2 864.5 3061.2 851.7 3026.2 839.2 3003.6 829.5 2978.9 817.1 2950.4 800 2918.5 775.9 2884.4 743.9 2849.7 704.7 2816.9 656.9 2788.8 600.6 2766.7 541.3 2747.9 476.8 2731.7 411.7 2716.6 346.3 2701.4 280.9 2686 215.6 2670.4 150.4 2654.4 85.3M3354.7 938.4 3313.2 924.8 3271.5 911.5 3230.4 898.7 3189.2 886.5 3147.9 875 3106.5 863.5 3063.5 850.7 3028.5 838.3 3005.9 828.7 2981.3 816.3 2952.9 799.3 2920.9 775.3 2886.8 743.4 2852.1 704.2 2819.3 656.4 2791.2 600.2 2769.1 540.8 2750.2 476.4 2734.1 411.2 2718.9 345.8 2703.7 280.5 2688.4 215.2 2672.7 150 2656.7 84.8M3356.9 937.3 3315.4 923.7 3273.7 910.3 3232.6 897.6 3191.4 885.4 3150.1 873.9 3108.7 862.5 3065.7 849.8 3030.8 837.5 3008.3 827.8 2983.7 815.6 2955.3 798.6 2923.4 774.7 2889.3 742.8 2854.6 703.6 2821.7 655.9 2793.6 599.7 2771.5 540.3 2752.6 475.9 2736.5 410.7 2721.3 345.4 2706.1 280 2690.7 214.7 2675 149.5 2658.9 84.4M3359 936.1 3317.6 922.5 3275.9 909.2 3234.8 896.5 3193.6 884.3 3152.4 872.9 3111 861.5 3068 848.9 3033.2 836.6 3010.7 827 2986.1 814.8 2957.7 797.9 2925.8 774 2891.7 742.2 2857 703.1 2824.1 655.4 2796 599.2 2773.8 539.8 2755 475.4 2738.8 410.3 2723.6 344.9 2708.4 279.5 2693 214.3 2677.3 149.1 2661.2 84M3361.2 934.9 3319.8 921.4 3278.1 908 3237 895.3 3195.9 883.2 3154.6 871.8 3113.2 860.5 3070.3 847.9 3035.5 835.7 3013 826.2 2988.5 814 2960.2 797.2 2928.2 773.4 2894.1 741.7 2859.4 702.6 2826.6 654.9 2798.3 598.7 2776.2 539.3 2757.3 474.9 2741.2 409.8 2726 344.4 2710.7 279.1 2695.3 213.8 2679.6 148.6 2663.5 83.5M3363.3 933.7 3321.9 920.2 3280.3 906.9 3239.2 894.2 3198.1 882.1 3156.8 870.7 3115.5 859.5 3072.6 847 3037.8 834.8 3015.4 825.4 2990.9 813.3 2962.6 796.5 2930.7 772.8 2896.6 741.1 2861.8 702 2829 654.4 2800.7 598.2 2778.6 538.8 2759.7 474.4 2743.5 409.3 2728.3 343.9 2713.1 278.6 2697.6 213.3 2681.9 148.2 2665.8 83.1M3365.5 932.5 3324.1 919 3282.5 905.7 3241.4 893.1 3200.3 881 3159.1 869.7 3117.7 858.5 3074.9 846 3040.1 833.9 3017.8 824.5 2993.3 812.5 2965 795.8 2933.1 772.1 2899 740.5 2864.2 701.5 2831.4 653.9 2803.1 597.7 2781 538.4 2762.1 474 2745.9 408.8 2730.7 343.5 2715.4 278.2 2699.9 212.9 2684.2 147.7 2668 82.6M3367.6 931.3 3326.2 917.8 3284.6 904.6 3243.6 892 3202.5 879.9 3161.3 868.6 3120 857.5 3077.2 845.1 3042.5 833.1 3020.1 823.7 2995.7 811.7 2967.4 795 2935.6 771.5 2901.4 740 2866.7 701 2833.8 653.3 2805.5 597.2 2783.3 537.9 2764.4 473.5 2748.2 408.4 2733 343 2717.7 277.7 2702.3 212.4 2686.5 147.3 2670.3 82.2M3369.8 930.1 3328.4 916.7 3286.8 903.4 3245.8 890.8 3204.7 878.8 3163.6 867.6 3122.2 856.5 3079.5 844.1 3044.8 832.2 3022.5 822.9 2998.1 811 2969.9 794.3 2938 770.8 2903.9 739.4 2869.1 700.4 2836.2 652.8 2807.9 596.7 2785.7 537.4 2766.8 473 2750.6 407.9 2735.3 342.5 2720.1 277.2 2704.6 212 2688.8 146.8 2672.6 81.7M3371.9 928.9 3330.6 915.5 3289 902.3 3248 889.7 3207 877.7 3165.8 866.5 3124.5 855.5 3081.8 843.2 3047.1 831.3 3024.9 822 3000.5 810.2 2972.3 793.6 2940.4 770.2 2906.3 738.8 2871.5 699.9 2838.6 652.3 2810.3 596.2 2788.1 536.9 2769.1 472.5 2752.9 407.4 2737.7 342.1 2722.4 276.7 2706.9 211.5 2691.1 146.3 2674.9 81.3M3374.1 927.6 3332.7 914.3 3291.2 901.1 3250.2 888.6 3209.2 876.6 3168 865.4 3126.7 854.5 3084 842.2 3049.5 830.4 3027.2 821.2 3002.9 809.4 2974.7 792.9 2942.9 769.6 2908.7 738.2 2873.9 699.3 2841 651.8 2812.7 595.7 2790.4 536.4 2771.5 472 2755.3 406.9 2740 341.6 2724.7 276.3 2709.2 211 2693.4 145.9 2677.1 80.8M3376.2 926.4 3334.9 913.1 3293.3 900 3252.4 887.4 3211.4 875.5 3170.3 864.4 3129 853.4 3086.3 841.3 3051.8 829.5 3029.6 820.4 3005.3 808.6 2977.1 792.2 2945.3 768.9 2911.2 737.6 2876.3 698.8 2843.4 651.3 2815.1 595.2 2792.8 535.9 2773.9 471.5 2757.7 406.4 2742.4 341.1 2727 275.8 2711.5 210.6 2695.7 145.4 2679.4 80.4M3378.3 925.2 3337 911.9 3295.5 898.8 3254.6 886.3 3213.6 874.4 3172.5 863.3 3131.2 852.4 3088.6 840.3 3054.1 828.6 3031.9 819.5 3007.7 807.9 2979.5 791.5 2947.7 768.3 2913.6 737.1 2878.7 698.2 2845.8 650.7 2817.4 594.7 2795.2 535.4 2776.2 471.1 2760 405.9 2744.7 340.6 2729.4 275.3 2713.8 210.1 2698 145 2681.7 79.9M3380.5 924 3339.2 910.7 3297.7 897.6 3256.8 885.2 3215.8 873.3 3174.7 862.2 3133.5 851.4 3090.9 839.3 3056.4 827.7 3034.3 818.7 3010.1 807.1 2982 790.8 2950.1 767.6 2916 736.5 2881.2 697.7 2848.2 650.2 2819.8 594.2 2797.6 534.9 2778.6 470.6 2762.4 405.5 2747.1 340.1 2731.7 274.9 2716.1 209.6 2700.2 144.5 2684 79.5M3382.6 922.8 3341.3 909.5 3299.9 896.5 3259 884 3218 872.2 3176.9 861.2 3135.7 850.4 3093.2 838.4 3058.8 826.8 3036.7 817.8 3012.5 806.3 2984.4 790.1 2952.6 767 2918.4 735.9 2883.6 697.2 2850.6 649.7 2822.2 593.7 2799.9 534.4 2780.9 470.1 2764.7 405 2749.4 339.7 2734 274.4 2718.4 209.2 2702.5 144 2686.2 79M3384.8 921.5 3343.5 908.3 3302 895.3 3261.2 882.9 3220.2 871.1 3179.2 860.1 3138 849.3 3095.4 837.4 3061.1 825.9 3039 817 3014.9 805.5 2986.8 789.3 2955 766.3 2920.9 735.3 2886 696.6 2853 649.2 2824.6 593.2 2802.3 533.9 2783.3 469.6 2767.1 404.5 2751.8 339.2 2736.4 273.9 2720.8 208.7 2704.8 143.6 2688.5 78.6M3386.9 920.3 3345.6 907.1 3304.2 894.1 3263.4 881.7 3222.4 870 3181.4 859 3140.2 848.3 3097.7 836.4 3063.4 825 3041.4 816.1 3017.3 804.7 2989.2 788.6 2957.4 765.7 2923.3 734.7 2888.4 696 2855.4 648.6 2827 592.6 2804.7 533.4 2785.7 469.1 2769.4 404 2754.1 338.7 2738.7 273.4 2723.1 208.2 2707.1 143.1 2690.8 78.1M3389 919.1 3347.8 905.9 3306.4 892.9 3265.5 880.6 3224.7 868.9 3183.6 857.9 3142.5 847.3 3100 835.5 3065.7 824.1 3043.7 815.3 3019.7 803.9 2991.6 787.9 2959.9 765 2925.7 734.1 2890.8 695.5 2857.8 648.1 2829.4 592.1 2807 532.9 2788 468.6 2771.8 403.5 2756.4 338.2 2741 272.9 2725.4 207.8 2709.4 142.7 2693.1 77.6M3391.1 917.8 3349.9 904.7 3308.5 891.8 3267.7 879.4 3226.9 867.7 3185.9 856.8 3144.7 846.2 3102.3 834.5 3068 823.2 3046.1 814.4 3022.1 803.1 2994.1 787.2 2962.3 764.4 2928.1 733.5 2893.2 694.9 2860.2 647.6 2831.7 591.6 2809.4 532.4 2790.4 468.1 2774.1 403 2758.8 337.7 2743.4 272.5 2727.7 207.3 2711.7 142.2 2695.3 77.2M3393.3 916.6 3352.1 903.5 3310.7 890.6 3269.9 878.3 3229.1 866.6 3188.1 855.8 3147 845.2 3104.6 833.5 3070.4 822.3 3048.4 813.6 3024.5 802.3 2996.5 786.4 2964.7 763.7 2930.5 732.9 2895.6 694.4 2862.6 647 2834.1 591.1 2811.8 531.9 2792.7 467.6 2776.5 402.5 2761.1 337.2 2745.7 272 2730 206.8 2714 141.7 2697.6 76.7M3395.4 915.4 3354.2 902.3 3312.8 889.4 3272.1 877.1 3231.3 865.5 3190.3 854.7 3149.2 844.2 3106.8 832.6 3072.7 821.4 3050.8 812.7 3026.9 801.5 2998.9 785.7 2967.1 763 2933 732.3 2898.1 693.8 2865 646.5 2836.5 590.6 2814.1 531.4 2795.1 467.1 2778.8 402 2763.5 336.7 2748 271.5 2732.3 206.3 2716.3 141.3 2699.9 76.3M3397.5 914.1 3356.4 901.1 3315 888.2 3274.3 875.9 3233.5 864.3 3192.5 853.6 3151.4 843.1 3109.1 831.6 3075 820.5 3053.2 811.9 3029.2 800.8 3001.3 785 2969.6 762.4 2935.4 731.7 2900.5 693.3 2867.4 646 2838.9 590.1 2816.5 530.9 2797.4 466.6 2781.2 401.5 2765.8 336.2 2750.3 271 2734.6 205.9 2718.6 140.8 2702.2 75.8M3399.6 912.9 3358.5 899.9 3317.2 887 3276.5 874.8 3235.7 863.2 3194.7 852.5 3153.7 842.1 3111.4 830.6 3077.3 819.6 3055.5 811 3031.6 800 3003.7 784.2 2972 761.7 2937.8 731.1 2902.9 692.7 2869.8 645.4 2841.3 589.5 2818.9 530.4 2799.8 466.1 2783.5 401 2768.1 335.8 2752.7 270.5 2736.9 205.4 2720.9 140.3 2704.4 75.3M3401.8 911.6 3360.6 898.7 3319.3 885.8 3278.6 873.6 3237.9 862.1 3197 851.4 3155.9 841 3113.6 829.6 3079.6 818.7 3057.9 810.2 3034 799.2 3006.1 783.5 2974.4 761.1 2940.2 730.5 2905.3 692.1 2872.2 644.9 2843.6 589 2821.2 529.9 2802.2 465.6 2785.9 400.5 2770.5 335.3 2755 270 2739.2 204.9 2723.2 139.8 2706.7 74.9M3403.9 910.4 3362.8 897.4 3321.5 884.6 3280.8 872.4 3240.1 860.9 3199.2 850.3 3158.1 840 3115.9 828.6 3081.9 817.8 3060.2 809.3 3036.4 798.3 3008.5 782.8 2976.8 760.4 2942.6 729.9 2907.7 691.6 2874.6 644.3 2846 588.5 2823.6 529.4 2804.5 465.1 2788.2 400 2772.8 334.8 2757.3 269.6 2741.5 204.4 2725.5 139.4 2709 74.4M3406 909.1 3364.9 896.2 3323.6 883.4 3283 871.3 3242.3 859.8 3201.4 849.2 3160.4 838.9 3118.2 827.7 3084.2 816.9 3062.6 808.4 3038.8 797.5 3010.9 782 2979.3 759.7 2945.1 729.3 2910.1 691 2877 643.8 2848.4 588 2825.9 528.8 2806.9 464.6 2790.6 399.5 2775.2 334.3 2759.6 269.1 2743.9 203.9 2727.7 138.9 2711.2 73.9M3408.1 907.9 3367.1 895 3325.8 882.2 3285.2 870.1 3244.5 858.7 3203.6 848.1 3162.6 837.9 3120.4 826.7 3086.6 815.9 3064.9 807.6 3041.2 796.7 3013.4 781.3 2981.7 759.1 2947.5 728.7 2912.5 690.4 2879.4 643.2 2850.8 587.5 2828.3 528.3 2809.2 464.1 2792.9 399 2777.5 333.8 2762 268.6 2746.2 203.5 2730 138.4 2713.5 73.5M3410.2 906.6 3369.2 893.7 3327.9 881 3287.3 868.9 3246.7 857.5 3205.8 847 3164.8 836.8 3122.7 825.7 3088.9 815 3067.2 806.7 3043.6 795.9 3015.8 780.6 2984.1 758.4 2949.9 728.1 2914.9 689.9 2881.8 642.7 2853.1 586.9 2830.7 527.8 2811.6 463.6 2795.3 398.5 2779.8 333.3 2764.3 268.1 2748.5 203 2732.3 137.9 2715.8 73M3412.3 905.3 3371.3 892.5 3330.1 879.8 3289.5 867.7 3248.8 856.4 3208 845.9 3167.1 835.8 3125 824.7 3091.2 814.1 3069.6 805.8 3045.9 795.1 3018.2 779.8 2986.5 757.7 2952.3 727.5 2917.3 689.3 2884.2 642.1 2855.5 586.4 2833 527.3 2813.9 463 2797.6 398 2782.2 332.8 2766.6 267.6 2750.8 202.5 2734.6 137.5 2718.1 72.5M3414.4 904.1 3373.4 891.3 3332.2 878.6 3291.7 866.6 3251 855.2 3210.2 844.8 3169.3 834.7 3127.2 823.7 3093.5 813.2 3071.9 805 3048.3 794.3 3020.6 779.1 2988.9 757 2954.7 726.9 2919.7 688.7 2886.5 641.6 2857.9 585.9 2835.4 526.8 2816.3 462.5 2800 397.5 2784.5 332.3 2768.9 267.1 2753.1 202 2736.9 137 2720.3 72.1M3416.6 902.8 3375.6 890 3334.4 877.4 3293.8 865.4 3253.2 854.1 3212.5 843.7 3171.5 833.6 3129.5 822.7 3095.8 812.2 3074.3 804.1 3050.7 793.5 3023 778.3 2991.4 756.4 2957.1 726.3 2922.1 688.1 2888.9 641 2860.3 585.3 2837.8 526.3 2818.6 462 2802.3 397 2786.9 331.8 2771.3 266.6 2755.4 201.5 2739.2 136.5 2722.6 71.6M3418.7 901.5 3377.7 888.8 3336.5 876.2 3296 864.2 3255.4 852.9 3214.7 842.5 3173.8 832.6 3131.8 821.7 3098.1 811.3 3076.6 803.2 3053.1 792.7 3025.4 777.6 2993.8 755.7 2959.6 725.7 2924.5 687.6 2891.3 640.5 2862.6 584.8 2840.1 525.7 2821 461.5 2804.6 396.5 2789.2 331.3 2773.6 266.1 2757.7 201 2741.5 136 2724.9 71.1M3420.8 900.3 3379.8 887.6 3338.7 875 3298.2 863 3257.6 851.8 3216.9 841.4 3176 831.5 3134 820.7 3100.4 810.4 3079 802.3 3055.5 791.9 3027.8 776.8 2996.2 755 2962 725 2926.9 687 2893.7 639.9 2865 584.3 2842.5 525.2 2823.3 461 2807 396 2791.5 330.8 2775.9 265.6 2760 200.5 2743.8 135.5 2727.1 70.7M3422.9 899 3381.9 886.3 3340.8 873.7 3300.3 861.8 3259.8 850.6 3219.1 840.3 3178.2 830.4 3136.3 819.7 3102.7 809.4 3081.3 801.4 3057.8 791 3030.2 776.1 2998.6 754.3 2964.4 724.4 2929.3 686.4 2896.1 639.4 2867.4 583.7 2844.8 524.7 2825.7 460.5 2809.3 395.5 2793.9 330.3 2778.2 265.1 2762.3 200 2746.1 135.1 2729.4 70.2M3425 897.7 3384.1 885.1 3342.9 872.5 3302.5 860.6 3262 849.4 3221.3 839.2 3180.4 829.4 3138.5 818.7 3105 808.5 3083.7 800.6 3060.2 790.2 3032.6 775.3 3001 753.6 2966.8 723.8 2931.7 685.8 2898.5 638.8 2869.8 583.2 2847.2 524.1 2828 459.9 2811.7 394.9 2796.2 329.7 2780.5 264.6 2764.6 199.5 2748.3 134.6 2731.7 69.7M3427.1 896.4 3386.2 883.8 3345.1 871.3 3304.7 859.4 3264.2 848.3 3223.5 838.1 3182.7 828.3 3140.8 817.7 3107.3 807.6 3086 799.7 3062.6 789.4 3035 774.6 3003.4 752.9 2969.2 723.2 2934.1 685.2 2900.9 638.3 2872.1 582.6 2849.5 523.6 2830.4 459.4 2814 394.4 2798.5 329.2 2782.9 264.1 2766.9 199 2750.6 134.1 2733.9 69.2M3429.2 895.1 3388.3 882.5 3347.2 870.1 3306.8 858.2 3266.3 847.1 3225.7 836.9 3184.9 827.2 3143.1 816.7 3109.6 806.6 3088.3 798.8 3065 788.6 3037.4 773.8 3005.8 752.3 2971.6 722.5 2936.5 684.6 2903.3 637.7 2874.5 582.1 2851.9 523.1 2832.7 458.9 2816.4 393.9 2800.9 328.7 2785.2 263.6 2769.2 198.6 2752.9 133.6 2736.2 68.7M3431.3 893.8 3390.4 881.3 3349.4 868.8 3309 857 3268.5 845.9 3227.9 835.8 3187.1 826.1 3145.3 815.7 3111.9 805.7 3090.7 797.9 3067.3 787.7 3039.8 773 3008.3 751.6 2974 721.9 2938.9 684.1 2905.7 637.1 2876.9 581.5 2854.3 522.6 2835.1 458.4 2818.7 393.4 2803.2 328.2 2787.5 263.1 2771.5 198.1 2755.2 133.1 2738.5 68.3M3433.4 892.6 3392.5 880 3351.5 867.6 3311.1 855.8 3270.7 844.8 3230.1 834.7 3189.3 825.1 3147.6 814.7 3114.2 804.7 3093 797 3069.7 786.9 3042.2 772.3 3010.7 750.9 2976.4 721.3 2941.3 683.5 2908 636.6 2879.2 581 2856.6 522 2837.4 457.8 2821 392.9 2805.5 327.7 2789.8 262.6 2773.8 197.6 2757.5 132.6 2740.8 67.8M3435.4 891.3 3394.6 878.8 3353.6 866.3 3313.3 854.6 3272.9 843.6 3232.3 833.5 3191.5 824 3149.8 813.6 3116.5 803.8 3095.3 796.1 3072.1 786.1 3044.6 771.5 3013.1 750.2 2978.8 720.7 2943.7 682.9 2910.4 636 2881.6 580.5 2859 521.5 2839.8 457.3 2823.4 392.3 2807.9 327.2 2792.2 262.1 2776.1 197.1 2759.8 132.1 2743 67.3M3437.5 890 3396.7 877.5 3355.7 865.1 3315.4 853.4 3275 842.4 3234.5 832.4 3193.8 822.9 3152.1 812.6 3118.8 802.8 3097.7 795.2 3074.5 785.2 3047 770.7 3015.5 749.5 2981.2 720 2946.1 682.3 2912.8 635.4 2884 579.9 2861.3 520.9 2842.1 456.8 2825.7 391.8 2810.2 326.7 2794.5 261.6 2778.4 196.6 2762.1 131.6 2745.3 66.8M3439.6 888.7 3398.8 876.2 3357.9 863.9 3317.6 852.2 3277.2 841.2 3236.7 831.3 3196 821.8 3154.3 811.6 3121.1 801.9 3100 794.3 3076.8 784.4 3049.4 770 3017.9 748.8 2983.6 719.4 2948.5 681.7 2915.2 634.9 2886.3 579.4 2863.7 520.4 2844.4 456.2 2828.1 391.3 2812.5 326.1 2796.8 261 2780.7 196 2764.3 131.1 2747.6 66.3M3441.7 887.4 3401 874.9 3360 862.6 3319.7 851 3279.4 840.1 3238.9 830.1 3198.2 820.7 3156.6 810.6 3123.4 800.9 3102.3 793.4 3079.2 783.6 3051.8 769.2 3020.3 748.1 2986 718.8 2950.9 681.1 2917.6 634.3 2888.7 578.8 2866 519.9 2846.8 455.7 2830.4 390.8 2814.9 325.6 2799.1 260.5 2783 195.5 2766.6 130.6 2749.8 65.8M3443.8 886 3403.1 873.7 3362.1 861.4 3321.9 849.7 3281.6 838.9 3241.1 829 3200.4 819.6 3158.8 809.6 3125.7 800 3104.7 792.5 3081.6 782.7 3054.2 768.4 3022.7 747.4 2988.4 718.1 2953.3 680.5 2920 633.7 2891.1 578.2 2868.4 519.3 2849.1 455.2 2832.7 390.2 2817.2 325.1 2801.4 260 2785.3 195 2768.9 130.1 2752.1 65.3M3445.9 884.7 3405.2 872.4 3364.2 860.1 3324 848.5 3283.7 837.7 3243.2 827.8 3202.6 818.5 3161.1 808.5 3128 799 3107 791.6 3083.9 781.9 3056.6 767.6 3025.1 746.7 2990.8 717.5 2955.7 679.9 2922.3 633.1 2893.4 577.7 2870.7 518.8 2851.5 454.6 2835.1 389.7 2819.5 324.6 2803.7 259.5 2787.6 194.5 2771.2 129.6 2754.4 64.9M3448 883.4 3407.3 871.1 3366.4 858.9 3326.2 847.3 3285.9 836.5 3245.4 826.7 3204.8 817.4 3163.3 807.5 3130.3 798.1 3109.3 790.7 3086.3 781 3059 766.9 3027.5 746 2993.2 716.8 2958.1 679.3 2924.7 632.5 2895.8 577.1 2873.1 518.2 2853.8 454.1 2837.4 389.2 2821.9 324 2806.1 259 2789.9 194 2773.5 129.1 2756.6 64.4M3450 882.1 3409.4 869.8 3368.5 857.6 3328.3 846.1 3288.1 835.3 3247.6 825.5 3207 816.3 3165.6 806.5 3132.6 797.1 3111.7 789.8 3088.7 780.2 3061.4 766.1 3029.9 745.3 2995.7 716.2 2960.5 678.7 2927.1 632 2898.2 576.6 2875.4 517.7 2856.2 453.6 2839.8 388.6 2824.2 323.5 2808.4 258.5 2792.2 193.5 2775.8 128.6 2758.9 63.9M3452.1 880.8 3411.5 868.5 3370.6 856.3 3330.5 844.8 3290.2 834.1 3249.8 824.4 3209.2 815.2 3167.8 805.4 3134.9 796.1 3114 788.9 3091 779.3 3063.8 765.3 3032.3 744.5 2998 715.5 2962.9 678.1 2929.5 631.4 2900.5 576 2877.8 517.1 2858.5 453 2842.1 388.1 2826.5 323 2810.7 257.9 2794.5 193 2778 128.1 2761.2 63.4M3454.2 879.5 3413.5 867.2 3372.7 855.1 3332.6 843.6 3292.4 832.9 3252 823.2 3211.4 814.1 3170 804.4 3137.1 795.2 3116.3 788 3093.4 778.5 3066.1 764.5 3034.7 743.8 3000.4 714.9 2965.3 677.4 2931.9 630.8 2902.9 575.4 2880.1 516.6 2860.8 452.5 2844.4 387.6 2828.8 322.5 2813 257.4 2796.8 192.5 2780.3 127.6 2763.4 62.9M3456.3 878.1 3415.6 865.9 3374.8 853.8 3334.7 842.4 3294.6 831.7 3254.2 822.1 3213.6 813 3172.3 803.4 3139.4 794.2 3118.6 787.1 3095.7 777.6 3068.5 763.7 3037.1 743.1 3002.8 714.2 2967.7 676.8 2934.2 630.2 2905.3 574.9 2882.5 516 2863.2 451.9 2846.8 387 2831.2 321.9 2815.3 256.9 2799.1 192 2782.6 127.1 2765.7 62.4M3458.3 876.8 3417.7 864.6 3376.9 852.5 3336.9 841.1 3296.7 830.5 3256.4 820.9 3215.8 811.9 3174.5 802.3 3141.7 793.2 3121 786.1 3098.1 776.8 3070.9 762.9 3039.5 742.4 3005.2 713.6 2970 676.2 2936.6 629.6 2907.6 574.3 2884.8 515.5 2865.5 451.4 2849.1 386.5 2833.5 321.4 2817.6 256.4 2801.4 191.4 2784.9 126.6 2768 61.9M3460.4 875.5 3419.8 863.3 3379.1 851.3 3339 839.9 3298.9 829.3 3258.5 819.7 3218 810.8 3176.8 801.3 3144 792.3 3123.3 785.2 3100.5 775.9 3073.3 762.1 3041.9 741.7 3007.6 712.9 2972.4 675.6 2939 629 2910 573.7 2887.2 514.9 2867.9 450.8 2851.4 385.9 2835.8 320.8 2820 255.8 2803.7 190.9 2787.2 126.1 2770.2 61.4M3462.5 874.1 3421.9 862 3381.2 850 3341.2 838.6 3301 828.1 3260.7 818.6 3220.2 809.7 3179 800.2 3146.3 791.3 3125.6 784.3 3102.8 775.1 3075.7 761.4 3044.3 741 3010 712.3 2974.8 675 2941.4 628.4 2912.3 573.2 2889.5 514.3 2870.2 450.3 2853.8 385.4 2838.1 320.3 2822.3 255.3 2806 190.4 2789.4 125.6 2772.5 60.9M3464.5 872.8 3424 860.7 3383.3 848.7 3343.3 837.4 3303.2 826.9 3262.9 817.4 3222.4 808.6 3181.2 799.2 3148.6 790.3 3127.9 783.4 3105.2 774.2 3078.1 760.6 3046.7 740.2 3012.4 711.6 2977.2 674.4 2943.7 627.8 2914.7 572.6 2891.9 513.8 2872.5 449.7 2856.1 384.8 2840.5 319.8 2824.6 254.8 2808.3 189.9 2791.7 125.1 2774.7 60.4M3466.6 871.4 3426.1 859.4 3385.4 847.4 3345.4 836.1 3305.3 825.7 3265.1 816.2 3224.6 807.4 3183.5 798.1 3150.8 789.3 3130.2 782.4 3107.5 773.3 3080.5 759.8 3049.1 739.5 3014.8 711 2979.6 673.7 2946.1 627.2 2917.1 572 2894.2 513.2 2874.9 449.2 2858.4 384.3 2842.8 319.2 2826.9 254.2 2810.6 189.4 2794 124.6 2777 59.9M3468.6 870.1 3428.2 858.1 3387.5 846.2 3347.5 834.9 3307.5 824.4 3267.2 815.1 3226.8 806.3 3185.7 797.1 3153.1 788.3 3132.6 781.5 3109.9 772.5 3082.8 759 3051.5 738.8 3017.2 710.3 2982 673.1 2948.5 626.6 2919.4 571.4 2896.5 512.7 2877.2 448.6 2860.8 383.7 2845.1 318.7 2829.2 253.7 2812.9 188.8 2796.3 124 2779.3 59.4M3470.7 868.7 3430.2 856.8 3389.6 844.9 3349.7 833.6 3309.6 823.2 3269.4 813.9 3229 805.2 3187.9 796 3155.4 787.3 3134.9 780.6 3112.2 771.6 3085.2 758.2 3053.9 738 3019.6 709.6 2984.4 672.5 2950.9 626 2921.8 570.8 2898.9 512.1 2879.5 448 2863.1 383.2 2847.4 318.1 2831.5 253.2 2815.2 188.3 2798.6 123.5 2781.5 58.9M3472.8 867.4 3432.3 855.5 3391.7 843.6 3351.8 832.4 3311.8 822 3271.6 812.7 3231.2 804.1 3190.2 794.9 3157.7 786.4 3137.2 779.6 3114.6 770.7 3087.6 757.4 3056.3 737.3 3022 709 2986.7 671.9 2953.2 625.4 2924.1 570.3 2901.2 511.5 2881.9 447.5 2865.4 382.6 2849.8 317.6 2833.8 252.6 2817.5 187.8 2800.8 123 2783.8 58.3M3474.8 866 3434.4 854.1 3393.8 842.3 3353.9 831.1 3313.9 820.8 3273.8 811.5 3233.4 802.9 3192.4 793.9 3160 785.4 3139.5 778.7 3117 769.8 3090 756.5 3058.7 736.6 3024.4 708.3 2989.1 671.2 2955.6 624.8 2926.5 569.7 2903.6 510.9 2884.2 446.9 2867.7 382.1 2852.1 317 2836.1 252.1 2819.8 187.2 2803.1 122.5 2786.1 57.8M3476.9 864.7 3436.5 852.8 3395.9 841 3356 829.8 3316.1 819.5 3275.9 810.3 3235.6 801.8 3194.6 792.8 3162.2 784.4 3141.8 777.8 3119.3 769 3092.4 755.7 3061.1 735.8 3026.8 707.6 2991.5 670.6 2958 624.2 2928.8 569.1 2905.9 510.4 2886.5 446.4 2870.1 381.5 2854.4 316.5 2838.4 251.6 2822.1 186.7 2805.4 122 2788.3 57.3M3478.9 863.3 3438.5 851.5 3398 839.7 3358.1 828.6 3318.2 818.3 3278.1 809.1 3237.8 800.7 3196.9 791.8 3164.5 783.4 3144.1 776.8 3121.7 768.1 3094.7 754.9 3063.5 735.1 3029.2 706.9 2993.9 670 2960.3 623.6 2931.2 568.5 2908.2 509.8 2888.9 445.8 2872.4 381 2856.7 315.9 2840.8 251 2824.4 186.2 2807.7 121.4 2790.6 56.8M3481 861.9 3440.6 850.2 3400.1 838.4 3360.3 827.3 3320.4 817.1 3280.3 808 3240 799.5 3199.1 790.7 3166.8 782.4 3146.4 775.9 3124 767.2 3097.1 754.1 3065.8 734.4 3031.5 706.3 2996.3 669.3 2962.7 623 2933.5 567.9 2910.6 509.2 2891.2 445.2 2874.7 380.4 2859.1 315.4 2843.1 250.5 2826.7 185.6 2810 120.9 2792.8 56.3M3483 860.6 3442.7 848.8 3402.1 837.1 3362.4 826 3322.5 815.8 3282.4 806.8 3242.2 798.4 3201.3 789.6 3169 781.4 3148.7 774.9 3126.3 766.3 3099.5 753.3 3068.2 733.6 3033.9 705.6 2998.6 668.7 2965.1 622.4 2935.9 567.3 2912.9 508.6 2893.5 444.6 2877.1 379.8 2861.4 314.8 2845.4 249.9 2829 185.1 2812.2 120.4 2795.1 55.8M3485 859.2 3444.7 847.5 3404.2 835.8 3364.5 824.7 3324.6 814.6 3284.6 805.6 3244.3 797.2 3203.5 788.5 3171.3 780.4 3151.1 774 3128.7 765.4 3101.9 752.5 3070.6 732.9 3036.3 704.9 3001 668 2967.4 621.8 2938.2 566.7 2915.3 508.1 2895.9 444.1 2879.4 379.3 2863.7 314.3 2847.7 249.4 2831.3 184.6 2814.5 119.9 2797.4 55.2M3487.1 857.8 3446.8 846.1 3406.3 834.5 3366.6 823.5 3326.8 813.3 3286.7 804.4 3246.5 796.1 3205.7 787.5 3173.6 779.4 3153.4 773 3131 764.6 3104.2 751.7 3073 732.1 3038.7 704.2 3003.4 667.4 2969.8 621.2 2940.6 566.1 2917.6 507.5 2898.2 443.5 2881.7 378.7 2866 313.7 2850 248.8 2833.6 184 2816.8 119.3 2799.6 54.7M3489.1 856.4 3448.9 844.8 3408.4 833.1 3368.7 822.2 3328.9 812.1 3288.9 803.2 3248.7 794.9 3208 786.4 3175.9 778.4 3155.7 772.1 3133.4 763.7 3106.6 750.8 3075.4 731.4 3041.1 703.5 3005.8 666.8 2972.2 620.5 2942.9 565.5 2919.9 506.9 2900.5 442.9 2884 378.1 2868.3 313.2 2852.3 248.3 2835.9 183.5 2819.1 118.8 2801.9 54.2M3491.2 855.1 3450.9 843.4 3410.5 831.8 3370.8 820.9 3331 810.8 3291 802 3250.9 793.8 3210.2 785.3 3178.1 777.3 3158 771.1 3135.7 762.8 3109 750 3077.8 730.6 3043.5 702.9 3008.1 666.1 2974.5 619.9 2945.3 564.9 2922.3 506.3 2902.8 442.3 2886.4 377.6 2870.7 312.6 2854.6 247.7 2838.2 182.9 2821.3 118.3 2804.1 53.7M3493.2 853.7 3453 842.1 3412.6 830.5 3372.9 819.6 3333.2 809.6 3293.2 800.7 3253.1 792.6 3212.4 784.2 3180.4 776.3 3160.3 770.2 3138.1 761.9 3111.3 749.2 3080.2 729.9 3045.8 702.2 3010.5 665.5 2976.9 619.3 2947.6 564.3 2924.6 505.7 2905.2 441.8 2888.7 377 2873 312 2856.9 247.1 2840.5 182.4 2823.6 117.7 2806.4 53.2M3495.2 852.3 3455 840.7 3414.6 829.2 3375 818.3 3335.3 808.3 3295.4 799.5 3255.2 791.5 3214.6 783.1 3182.6 775.3 3162.6 769.2 3140.4 761 3113.7 748.4 3082.5 729.1 3048.2 701.5 3012.9 664.8 2979.2 618.7 2950 563.7 2926.9 505.1 2907.5 441.2 2891 376.4 2875.3 311.5 2859.2 246.6 2842.7 181.8 2825.9 117.2 2808.7 52.6M3497.2 850.9 3457.1 839.4 3416.7 827.8 3377.1 817 3337.4 807.1 3297.5 798.3 3257.4 790.3 3216.8 782 3184.9 774.3 3164.9 768.2 3142.7 760.1 3116.1 747.5 3084.9 728.3 3050.6 700.8 3015.2 664.2 2981.6 618 2952.3 563.1 2929.3 504.5 2909.8 440.6 2893.3 375.8 2877.6 310.9 2861.5 246 2845 181.3 2828.2 116.6 2810.9 52.1M3499.3 849.5 3459.1 838 3418.8 826.5 3379.2 815.7 3339.6 805.8 3299.7 797.1 3259.6 789.2 3219 780.9 3187.2 773.3 3167.2 767.3 3145.1 759.2 3118.4 746.7 3087.3 727.6 3053 700.1 3017.6 663.5 2984 617.4 2954.7 562.5 2931.6 503.9 2912.2 440 2895.6 375.3 2879.9 310.3 2863.8 245.5 2847.3 180.7 2830.4 116.1 2813.2 51.6M3501.3 848.1 3461.2 836.6 3420.9 825.2 3381.3 814.4 3341.7 804.6 3301.8 795.9 3261.8 788 3221.2 779.8 3189.4 772.3 3169.5 766.3 3147.4 758.3 3120.8 745.8 3089.7 726.8 3055.3 699.4 3020 662.8 2986.3 616.8 2957 561.9 2933.9 503.3 2914.5 439.4 2898 374.7 2882.2 309.7 2866.1 244.9 2849.6 180.2 2832.7 115.6 2815.4 51M3503.3 846.7 3463.2 835.3 3422.9 823.8 3383.4 813.1 3343.8 803.3 3303.9 794.7 3263.9 786.8 3223.5 778.8 3191.7 771.2 3171.8 765.3 3149.8 757.4 3123.2 745 3092 726 3057.7 698.7 3022.4 662.2 2988.7 616.1 2959.4 561.3 2936.3 502.7 2916.8 438.8 2900.3 374.1 2884.5 309.2 2868.4 244.3 2851.9 179.6 2835 115 2817.7 50.5M3505.3 845.3 3465.3 833.9 3425 822.5 3385.5 811.8 3345.9 802 3306.1 793.4 3266.1 785.6 3225.7 777.7 3193.9 770.2 3174.1 764.4 3152.1 756.4 3125.5 744.2 3094.4 725.3 3060.1 698 3024.7 661.5 2991 615.5 2961.7 560.7 2938.6 502.1 2919.1 438.2 2902.6 373.5 2886.9 308.6 2870.7 243.8 2854.2 179.1 2837.2 114.5 2819.9 50M3507.4 843.9 3467.3 832.5 3427 821.2 3387.6 810.5 3348 800.7 3308.2 792.2 3268.3 784.5 3227.9 776.5 3196.2 769.2 3176.4 763.4 3154.4 755.5 3127.9 743.3 3096.8 724.5 3062.5 697.3 3027.1 660.8 2993.4 614.8 2964 560 2940.9 501.5 2921.4 437.6 2904.9 372.9 2889.2 308 2873 243.2 2856.5 178.5 2839.5 113.9 2822.2 49.4M3509.4 842.5 3469.3 831.2 3429.1 819.8 3389.7 809.2 3350.2 799.5 3310.4 791 3270.4 783.3 3230.1 775.4 3198.4 768.1 3178.6 762.4 3156.7 754.6 3130.2 742.5 3099.2 723.7 3064.8 696.6 3029.4 660.2 2995.7 614.2 2966.4 559.4 2943.2 500.9 2923.8 437 2907.2 372.3 2891.5 307.4 2875.3 242.6 2858.8 177.9 2841.8 113.4 2824.5 48.9M3511.4 841 3471.4 829.8 3431.2 818.5 3391.8 807.9 3352.3 798.2 3312.5 789.7 3272.6 782.1 3232.3 774.3 3200.7 767.1 3180.9 761.4 3159.1 753.7 3132.6 741.6 3101.5 722.9 3067.2 695.8 3031.8 659.5 2998.1 613.6 2968.7 558.8 2945.6 500.3 2926.1 436.4 2909.6 371.7 2893.8 306.8 2877.6 242.1 2861 177.4 2844.1 112.8 2826.7 48.3M3513.4 839.6 3473.4 828.4 3433.2 817.1 3393.9 806.5 3354.4 796.9 3314.7 788.5 3274.8 780.9 3234.5 773.2 3202.9 766.1 3183.2 760.4 3161.4 752.8 3135 740.8 3103.9 722.2 3069.6 695.1 3034.2 658.8 3000.4 612.9 2971 558.2 2947.9 499.7 2928.4 435.8 2911.9 371.1 2896.1 306.3 2879.9 241.5 2863.3 176.8 2846.3 112.3 2829 47.8M3515.4 838.2 3475.4 827 3435.3 815.8 3396 805.2 3356.5 795.6 3316.8 787.3 3276.9 779.7 3236.7 772.1 3205.2 765 3185.5 759.5 3163.7 751.9 3137.3 739.9 3106.3 721.4 3071.9 694.4 3036.5 658.2 3002.8 612.3 2973.4 557.5 2950.2 499.1 2930.7 435.2 2914.2 370.5 2898.4 305.7 2882.2 240.9 2865.6 176.2 2848.6 111.7 2831.2 47.2M3517.4 836.8 3477.5 825.6 3437.3 814.4 3398 803.9 3358.6 794.3 3318.9 786 3279.1 778.6 3238.9 771 3207.4 764 3187.8 758.5 3166.1 750.9 3139.7 739.1 3108.6 720.6 3074.3 693.7 3038.9 657.5 3005.1 611.6 2975.7 556.9 2952.5 498.5 2933 434.6 2916.5 369.9 2900.7 305.1 2884.5 240.3 2867.9 175.7 2850.9 111.1 2833.5 46.7M3519.4 835.3 3479.5 824.2 3439.4 813 3400.1 802.6 3360.7 793 3321.1 784.8 3281.2 777.4 3241.1 769.9 3209.7 762.9 3190.1 757.5 3168.4 750 3142 738.2 3111 719.8 3076.7 693 3041.3 656.8 3007.5 611 2978.1 556.3 2954.9 497.8 2935.4 434 2918.8 369.3 2903 304.5 2886.8 239.7 2870.2 175.1 2853.1 110.6 2835.7 46.1M3521.4 833.9 3481.5 822.8 3441.4 811.7 3402.2 801.2 3362.8 791.7 3323.2 783.5 3283.4 776.2 3243.3 768.7 3211.9 761.9 3192.4 756.5 3170.7 749.1 3144.4 737.3 3113.4 719 3079 692.3 3043.6 656.1 3009.8 610.3 2980.4 555.6 2957.2 497.2 2937.7 433.4 2921.1 368.7 2905.3 303.9 2889.1 239.2 2872.5 174.5 2855.4 110 2838 45.6M3523.4 832.5 3483.5 821.4 3443.5 810.3 3404.3 799.9 3364.9 790.4 3325.3 782.3 3285.5 775 3245.5 767.6 3214.2 760.8 3194.6 755.5 3173 748.1 3146.7 736.5 3115.7 718.2 3081.4 691.5 3046 655.4 3012.2 609.6 2982.7 555 2959.5 496.6 2940 432.8 2923.4 368.1 2907.6 303.3 2891.4 238.6 2874.7 174 2857.7 109.4 2840.2 45M3525.4 831 3485.6 820 3445.5 808.9 3406.3 798.6 3367 789.1 3327.4 781 3287.7 773.8 3247.7 766.5 3216.4 759.8 3196.9 754.5 3175.3 747.2 3149.1 735.6 3118.1 717.4 3083.8 690.8 3048.3 654.7 3014.5 609 2985.1 554.4 2961.8 496 2942.3 432.2 2925.8 367.5 2909.9 302.7 2893.7 238 2877 173.4 2859.9 108.9 2842.5 44.5M3527.4 829.6 3487.6 818.6 3447.6 807.5 3408.4 797.2 3369.1 787.8 3329.6 779.8 3289.8 772.6 3249.8 765.4 3218.7 758.7 3199.2 753.5 3177.7 746.3 3151.4 734.7 3120.5 716.6 3086.1 690.1 3050.7 654 3016.9 608.3 2987.4 553.7 2964.1 495.3 2944.6 431.6 2928.1 366.9 2912.3 302.1 2896 237.4 2879.3 172.8 2862.2 108.3 2844.7 43.9M3529.4 828.1 3489.6 817.2 3449.6 806.2 3410.5 795.9 3371.2 786.5 3331.7 778.5 3292 771.4 3252 764.2 3220.9 757.6 3201.5 752.5 3180 745.3 3153.8 733.9 3122.8 715.8 3088.5 689.3 3053 653.4 3019.2 607.7 2989.7 553.1 2966.5 494.7 2946.9 430.9 2930.4 366.3 2914.6 301.5 2898.3 236.8 2881.6 172.2 2864.5 107.7 2847 43.4M3531.4 826.7 3491.6 815.8 3451.6 804.8 3412.5 794.5 3373.3 785.2 3333.8 777.2 3294.1 770.2 3254.2 763.1 3223.1 756.6 3203.8 751.5 3182.3 744.4 3156.1 733 3125.2 715 3090.8 688.6 3055.4 652.7 3021.6 607 2992 552.4 2968.8 494.1 2949.2 430.3 2932.7 365.7 2916.9 300.9 2900.6 236.2 2883.9 171.6 2866.7 107.2 2849.2 42.8M3533.3 825.2 3493.6 814.4 3453.7 803.4 3414.6 793.2 3375.4 783.9 3335.9 776 3296.3 768.9 3256.4 762 3225.4 755.5 3206 750.5 3184.6 743.4 3158.5 732.1 3127.5 714.2 3093.2 687.9 3057.7 652 3023.9 606.3 2994.4 551.8 2971.1 493.5 2951.5 429.7 2935 365.1 2919.2 300.3 2902.9 235.6 2886.2 171 2869 106.6 2851.5 42.2M3535.3 823.8 3495.6 812.9 3455.7 802 3416.7 791.8 3377.5 782.6 3338 774.7 3298.4 767.7 3258.6 760.8 3227.6 754.4 3208.3 749.4 3186.9 742.5 3160.8 731.2 3129.9 713.4 3095.6 687.1 3060.1 651.3 3026.3 605.6 2996.7 551.1 2973.4 492.8 2953.9 429.1 2937.3 364.5 2921.5 299.7 2905.2 235 2888.4 170.5 2871.3 106 2853.7 41.7M3537.3 822.3 3497.6 811.5 3457.7 800.6 3418.7 790.5 3379.6 781.3 3340.2 773.4 3300.6 766.5 3260.8 759.7 3229.8 753.4 3210.6 748.4 3189.2 741.5 3163.1 730.3 3132.3 712.6 3097.9 686.4 3062.4 650.6 3028.6 605 2999 550.5 2975.7 492.2 2956.2 428.4 2939.6 363.8 2923.8 299.1 2907.5 234.4 2890.7 169.9 2873.5 105.4 2856 41.1M3539.3 820.9 3499.6 810.1 3459.8 799.2 3420.8 789.1 3381.7 779.9 3342.3 772.1 3302.7 765.3 3263 758.5 3232.1 752.3 3212.9 747.4 3191.6 740.6 3165.5 729.5 3134.6 711.8 3100.3 685.6 3064.8 649.9 3030.9 604.3 3001.3 549.8 2978 491.5 2958.5 427.8 2941.9 363.2 2926.1 298.4 2909.8 233.8 2893 169.3 2875.8 104.9 2858.2 40.5M3541.3 819.4 3501.6 808.6 3461.8 797.8 3422.8 787.7 3383.8 778.6 3344.4 770.9 3304.8 764.1 3265.1 757.4 3234.3 751.2 3215.1 746.4 3193.9 739.6 3167.8 728.6 3137 711 3102.6 684.9 3067.1 649.1 3033.3 603.6 3003.7 549.2 2980.3 490.9 2960.8 427.2 2944.2 362.6 2928.4 297.8 2912.1 233.2 2895.3 168.7 2878 104.3 2860.5 40M3543.2 817.9 3503.6 807.2 3463.8 796.4 3424.9 786.4 3385.8 777.3 3346.5 769.6 3307 762.8 3267.3 756.2 3236.5 750.1 3217.4 745.4 3196.2 738.6 3170.2 727.7 3139.3 710.2 3105 684.1 3069.5 648.4 3035.6 602.9 3006 548.5 2982.7 490.2 2963.1 426.5 2946.5 362 2930.7 297.2 2914.3 232.6 2897.5 168.1 2880.3 103.7 2862.7 39.4M3545.2 816.4 3505.6 805.8 3465.8 795 3427 785 3387.9 776 3348.6 768.3 3309.1 761.6 3269.5 755.1 3238.7 749.1 3219.7 744.3 3198.5 737.7 3172.5 726.8 3141.7 709.4 3107.3 683.4 3071.8 647.7 3037.9 602.2 3008.3 547.9 2985 489.6 2965.4 425.9 2948.8 361.3 2933 296.6 2916.6 232 2899.8 167.5 2882.6 103.1 2865 38.8M3547.2 815 3507.6 804.3 3467.9 793.6 3429 783.6 3390 774.6 3350.7 767 3311.2 760.4 3271.7 753.9 3241 748 3221.9 743.3 3200.8 736.7 3174.8 725.9 3144 708.5 3109.7 682.6 3074.2 647 3040.3 601.6 3010.6 547.2 2987.3 488.9 2967.7 425.3 2951.1 360.7 2935.3 296 2918.9 231.4 2902.1 166.9 2884.8 102.5 2867.2 38.2M3549.1 813.5 3509.6 802.9 3469.9 792.2 3431 782.2 3392.1 773.3 3352.8 765.7 3313.4 759.1 3273.8 752.7 3243.2 746.9 3224.2 742.3 3203.1 735.7 3177.2 725 3146.4 707.7 3112 681.9 3076.5 646.3 3042.6 600.9 3013 546.5 2989.6 488.3 2970 424.6 2953.4 360.1 2937.6 295.3 2921.2 230.7 2904.4 166.3 2887.1 101.9 2869.5 37.7M3551.1 812 3511.6 801.4 3471.9 790.8 3433.1 780.9 3394.1 771.9 3354.9 764.4 3315.5 757.9 3276 751.6 3245.4 745.8 3226.4 741.2 3205.4 734.8 3179.5 724.1 3148.7 706.9 3114.4 681.1 3078.8 645.6 3044.9 600.2 3015.3 545.8 2991.9 487.6 2972.3 424 2955.7 359.4 2939.9 294.7 2923.5 230.1 2906.6 165.7 2889.3 101.3 2871.7 37.1M3553 810.5 3513.6 800 3473.9 789.4 3435.1 779.5 3396.2 770.6 3357 763.1 3317.6 756.7 3278.2 750.4 3247.6 744.7 3228.7 740.2 3207.7 733.8 3181.8 723.2 3151 706 3116.7 680.3 3081.2 644.9 3047.3 599.5 3017.6 545.2 2994.2 487 2974.6 423.3 2958 358.8 2942.2 294.1 2925.8 229.5 2908.9 165.1 2891.6 100.7 2874 36.5M3555 809 3515.5 798.5 3475.9 787.9 3437.2 778.1 3398.3 769.3 3359.1 761.8 3319.7 755.4 3280.3 749.2 3249.8 743.6 3231 739.2 3210 732.8 3184.1 722.3 3153.4 705.2 3119.1 679.6 3083.5 644.1 3049.6 598.8 3019.9 544.5 2996.5 486.3 2976.9 422.7 2960.3 358.2 2944.4 293.5 2928.1 228.9 2911.2 164.5 2893.9 100.1 2876.2 35.9" fill="none" stroke="#70e234" stroke-width="1.25"/>
<path d="M2899.9 1144.2 2923.4 1134.5 2947 1124.9 2970.5 1115.2 2994.1 1105.5 3017.6 1095.8 3041.1 1086 3064.6 1076.1 3088 1066.1 3111.4 1056.1 3134.7 1045.9 3157.9 1035.5 3181.1 1025 3204.3 1014.4 3227.3 1003.6 3250.2 992.5 3273.1 981.3 3295.8 969.8 3318.4 958 3340.8 946.1 3363.1 933.8 3385.3 921.2 3407.2 908.4 3429 895.2 3450.6 881.7 3472 867.9 3493.1 853.7 3514 839.2 3534.6 824.3 3555 809M2887.5 1139.8 2911.1 1130.1 2934.6 1120.3 2958.2 1110.6 2981.7 1100.9 3005.2 1091.1 3028.7 1081.3 3052.2 1071.5 3075.7 1061.5 3099.1 1051.5 3122.4 1041.3 3145.7 1031 3169 1020.6 3192.1 1010 3215.2 999.2 3238.2 988.2 3261 977.1 3283.8 965.7 3306.4 954 3328.9 942.1 3351.3 929.9 3373.5 917.5 3395.5 904.7 3417.3 891.6 3439 878.2 3460.4 864.5 3481.6 850.4 3502.6 836 3523.3 821.2 3543.7 806.1M2875.1 1135.5 2898.7 1125.7 2922.2 1115.9 2945.7 1106.1 2969.3 1096.4 2992.8 1086.6 3016.3 1076.8 3039.8 1066.9 3063.3 1057 3086.7 1046.9 3110.1 1036.8 3133.4 1026.6 3156.7 1016.2 3179.9 1005.6 3203 994.9 3226 984 3248.9 972.9 3271.7 961.5 3294.4 950 3316.9 938.1 3339.3 926 3361.6 913.6 3383.7 901 3405.6 888 3427.3 874.7 3448.8 861.1 3470.1 847.1 3491.1 832.8 3511.9 818.1 3532.4 803M2862.7 1131.3 2886.2 1121.4 2909.7 1111.5 2933.3 1101.7 2956.8 1091.9 2980.4 1082.1 3003.9 1072.3 3027.4 1062.4 3050.9 1052.5 3074.4 1042.5 3097.8 1032.3 3121.1 1022.1 3144.4 1011.8 3167.6 1001.3 3190.8 990.6 3213.8 979.8 3236.8 968.7 3259.6 957.4 3282.3 945.9 3304.9 934.2 3327.4 922.1 3349.7 909.8 3371.8 897.2 3393.7 884.4 3415.5 871.1 3437.1 857.6 3458.4 843.7 3479.5 829.5 3500.4 814.9 3521 800M2850.3 1127.2 2873.7 1117.2 2897.2 1107.3 2920.8 1097.4 2944.3 1087.5 2967.9 1077.7 2991.4 1067.8 3015 1057.9 3038.5 1048 3062 1038 3085.4 1027.9 3108.8 1017.7 3132.1 1007.4 3155.3 997 3178.5 986.4 3201.6 975.6 3224.6 964.6 3247.4 953.3 3270.2 941.9 3292.8 930.2 3315.3 918.3 3337.7 906 3359.9 893.5 3381.9 880.7 3403.7 867.6 3425.3 854.1 3446.7 840.4 3467.9 826.2 3488.8 811.7 3509.5 796.9M2837.8 1123.2 2861.2 1113.1 2884.7 1103 2908.3 1093.1 2931.8 1083.2 2955.4 1073.3 2979 1063.4 3002.5 1053.5 3026 1043.6 3049.5 1033.6 3073 1023.6 3096.4 1013.4 3119.7 1003.1 3143 992.7 3166.2 982.1 3189.3 971.4 3212.4 960.4 3235.3 949.3 3258.1 937.9 3280.8 926.3 3303.3 914.4 3325.7 902.2 3347.9 889.8 3370 877.1 3391.9 864 3413.6 850.7 3435 837 3456.3 822.9 3477.3 808.6 3498 793.8M2825.3 1119.2 2848.7 1109 2872.2 1098.9 2895.8 1088.8 2919.3 1078.9 2942.9 1069 2966.5 1059.1 2990 1049.2 3013.6 1039.3 3037.1 1029.3 3060.6 1019.2 3084 1009.1 3107.4 998.9 3130.7 988.5 3154 978 3177.1 967.3 3200.2 956.4 3223.1 945.3 3246 933.9 3268.7 922.4 3291.3 910.6 3313.8 898.5 3336 886.1 3358.2 873.5 3380.1 860.5 3401.9 847.2 3423.4 833.6 3444.7 819.7 3465.8 805.4 3486.6 790.8M2812.8 1115.3 2836.2 1105 2859.7 1094.7 2883.2 1084.7 2906.8 1074.6 2930.4 1064.7 2954 1054.8 2977.6 1044.9 3001.2 1035 3024.7 1025 3048.2 1015 3071.7 1004.9 3095.1 994.6 3118.5 984.3 3141.7 973.8 3164.9 963.2 3188 952.3 3211.1 941.3 3234 930 3256.7 918.5 3279.4 906.8 3301.9 894.8 3324.2 882.5 3346.4 869.9 3368.4 857.1 3390.2 843.9 3411.8 830.4 3433.2 816.5 3454.4 802.3 3475.3 787.8M2800.3 1111.4 2823.7 1100.9 2847.2 1090.6 2870.7 1080.5 2894.3 1070.4 2917.9 1060.4 2941.5 1050.5 2965.2 1040.6 2988.8 1030.7 3012.3 1020.7 3035.9 1010.7 3059.4 1000.7 3082.9 990.5 3106.3 980.2 3129.6 969.7 3152.8 959.1 3176 948.4 3199 937.4 3222 926.2 3244.8 914.8 3267.5 903.1 3290.1 891.2 3312.5 878.9 3334.7 866.5 3356.8 853.7 3378.7 840.6 3400.4 827.1 3421.8 813.4 3443.1 799.3 3464.1 784.8M2787.7 1107.4 2811.2 1096.9 2834.6 1086.6 2858.2 1076.3 2881.8 1066.2 2905.4 1056.2 2929.1 1046.3 2952.7 1036.3 2976.4 1026.4 3000 1016.5 3023.6 1006.5 3047.1 996.5 3070.6 986.3 3094.1 976.1 3117.4 965.7 3140.7 955.2 3163.9 944.4 3187.1 933.5 3210.1 922.4 3232.9 911 3255.7 899.4 3278.3 887.6 3300.8 875.4 3323.1 863 3345.3 850.3 3367.2 837.3 3389 824 3410.5 810.3 3431.9 796.3 3452.9 782M2775.2 1103.5 2798.6 1092.9 2822.1 1082.5 2845.7 1072.2 2869.3 1062 2893 1052 2916.6 1042 2940.3 1032.1 2964 1022.2 2987.7 1012.3 3011.3 1002.3 3034.9 992.3 3058.4 982.2 3081.9 972 3105.3 961.7 3128.6 951.2 3151.9 940.5 3175.1 929.7 3198.1 918.6 3221.1 907.3 3243.9 895.8 3266.6 884 3289.1 872 3311.5 859.7 3333.7 847.1 3355.7 834.1 3377.6 820.9 3399.2 807.4 3420.6 793.5 3441.8 779.2M2762.7 1099.6 2786.1 1088.9 2809.6 1078.4 2833.2 1068 2856.8 1057.8 2880.5 1047.8 2904.2 1037.8 2927.9 1027.9 2951.6 1018 2975.3 1008.1 2999 998.2 3022.6 988.2 3046.2 978.1 3069.7 968 3093.2 957.7 3116.5 947.3 3139.9 936.7 3163.1 925.9 3186.2 914.9 3209.2 903.7 3232.1 892.2 3254.8 880.5 3277.4 868.6 3299.9 856.4 3322.1 843.8 3344.2 831 3366.2 817.9 3387.9 804.4 3409.4 790.6 3430.6 776.5M2750.2 1095.6 2773.6 1084.8 2797.1 1074.2 2820.7 1063.9 2844.3 1053.6 2868 1043.5 2891.8 1033.6 2915.5 1023.6 2939.2 1013.8 2962.9 1003.9 2986.6 994 3010.3 984.1 3033.9 974.1 3057.5 964 3081 953.7 3104.4 943.4 3127.8 932.8 3151.1 922.1 3174.2 911.2 3197.3 900.1 3220.2 888.7 3243 877.1 3265.7 865.3 3288.2 853.1 3310.6 840.7 3332.7 828 3354.7 814.9 3376.5 801.6 3398.1 787.9 3419.4 773.9M2737.7 1091.6 2761.1 1080.7 2784.6 1070.1 2808.2 1059.7 2831.9 1049.4 2855.6 1039.3 2879.3 1029.3 2903.1 1019.4 2926.8 1009.5 2950.6 999.7 2974.3 989.8 2998 980 3021.7 970 3045.3 960 3068.9 949.8 3092.3 939.5 3115.7 929 3139 918.4 3162.3 907.6 3185.4 896.5 3208.4 885.3 3231.2 873.7 3254 862 3276.5 849.9 3299 837.6 3321.2 825 3343.3 812.1 3365.1 798.9 3386.8 785.3 3408.2 771.4M2725.3 1087.5 2748.6 1076.6 2772.1 1065.9 2795.7 1055.4 2819.4 1045.1 2843.1 1035 2866.9 1025 2890.7 1015.1 2914.5 1005.3 2938.3 995.5 2962 985.7 2985.8 975.8 3009.5 965.9 3033.1 956 3056.7 945.9 3080.2 935.7 3103.7 925.3 3127 914.7 3150.3 904 3173.5 893 3196.5 881.9 3219.4 870.4 3242.2 858.8 3264.9 846.8 3287.3 834.6 3309.7 822.1 3331.8 809.3 3353.7 796.2 3375.5 782.8 3397 769M2712.8 1083.4 2736.2 1072.3 2759.7 1061.6 2783.3 1051.1 2807 1040.8 2830.7 1030.7 2854.5 1020.7 2878.3 1010.8 2902.1 1001 2925.9 991.3 2949.7 981.5 2973.5 971.7 2997.2 961.9 3020.9 952 3044.5 942 3068.1 931.9 3091.6 921.6 3115 911.1 3138.3 900.5 3161.5 889.6 3184.6 878.5 3207.6 867.2 3230.4 855.7 3253.2 843.8 3275.7 831.7 3298.1 819.3 3320.3 806.7 3342.3 793.7 3364.1 780.4 3385.7 766.7M2700.4 1079.1 2723.8 1068 2747.2 1057.2 2770.8 1046.7 2794.5 1036.4 2818.3 1026.3 2842.1 1016.3 2865.9 1006.5 2889.8 996.7 2913.6 987 2937.4 977.3 2961.2 967.6 2985 957.9 3008.7 948 3032.4 938.1 3056 928.1 3079.5 917.9 3103 907.5 3126.3 897 3149.6 886.2 3172.7 875.2 3195.8 864 3218.7 852.6 3241.4 840.9 3264.1 828.9 3286.5 816.7 3308.8 804.1 3330.9 791.3 3352.8 778.1 3374.5 764.6M2688 1074.8 2711.4 1063.6 2734.8 1052.8 2758.4 1042.3 2782.1 1031.9 2805.9 1021.8 2829.7 1011.9 2853.6 1002.1 2877.4 992.4 2901.3 982.7 2925.2 973.1 2949 963.5 2972.8 953.8 2996.6 944.1 3020.3 934.2 3043.9 924.3 3067.5 914.2 3091 903.9 3114.4 893.5 3137.7 882.9 3160.9 872 3183.9 860.9 3206.9 849.6 3229.7 838 3252.4 826.2 3274.9 814.1 3297.2 801.6 3319.4 788.9 3341.4 775.9 3363.1 762.5M2675.7 1070.3 2699 1059.1 2722.5 1048.3 2746.1 1037.7 2769.8 1027.4 2793.6 1017.3 2817.4 1007.4 2841.3 997.6 2865.1 988 2889 978.4 2912.9 968.9 2936.8 959.3 2960.6 949.7 2984.4 940.1 3008.1 930.3 3031.8 920.5 3055.4 910.5 3078.9 900.4 3102.4 890 3125.7 879.5 3149 868.8 3172.1 857.8 3195.1 846.7 3218 835.2 3240.7 823.5 3263.3 811.5 3285.7 799.3 3307.9 786.7 3330 773.8 3351.8 760.6M2663.4 1065.7 2686.7 1054.5 2710.2 1043.6 2733.8 1033 2757.5 1022.7 2781.2 1012.7 2805.1 1002.8 2829 993.1 2852.9 983.5 2876.8 974 2900.7 964.5 2924.6 955.1 2948.4 945.6 2972.3 936 2996 926.4 3019.7 916.7 3043.4 906.8 3066.9 896.8 3090.4 886.6 3113.8 876.2 3137.1 865.6 3160.3 854.8 3183.3 843.7 3206.3 832.4 3229.1 820.9 3251.7 809 3274.2 796.9 3296.5 784.5 3318.6 771.8 3340.5 758.7M2651.1 1060.9 2674.4 1049.6 2697.8 1038.8 2721.4 1028.2 2745.1 1017.9 2768.9 1007.9 2792.7 998.1 2816.6 988.4 2840.6 978.9 2864.5 969.5 2888.4 960.1 2912.3 950.7 2936.2 941.3 2960.1 931.9 2983.9 922.4 3007.6 912.8 3031.3 903 3054.9 893.1 3078.4 883.1 3101.9 872.8 3125.2 862.4 3148.4 851.7 3171.5 840.8 3194.5 829.6 3217.4 818.2 3240.1 806.6 3262.6 794.6 3285 782.3 3307.2 769.8 3329.1 756.9M2638.4 1055.7 2661.6 1044.5 2685.1 1033.6 2708.7 1023 2732.4 1012.8 2756.2 1002.8 2780.1 993.1 2804 983.5 2828 974.1 2851.9 964.7 2875.9 955.5 2899.9 946.2 2923.8 936.9 2947.7 927.6 2971.5 918.2 2995.3 908.7 3019.1 899.1 3042.7 889.4 3066.3 879.5 3089.8 869.4 3113.2 859.1 3136.5 848.5 3159.6 837.8 3182.7 826.8 3205.6 815.6 3228.4 804.1 3251 792.3 3273.4 780.2 3295.7 767.8 3317.8 755.1M2625.1 1050.2 2648.4 1038.9 2671.9 1028 2695.5 1017.5 2719.3 1007.3 2743.1 997.4 2767 987.7 2791 978.3 2815 968.9 2839 959.7 2863.1 950.5 2887.1 941.4 2911.1 932.3 2935 923.1 2958.9 913.8 2982.8 904.5 3006.6 895.1 3030.3 885.5 3054 875.7 3077.5 865.8 3101 855.6 3124.4 845.3 3147.6 834.7 3170.8 823.9 3193.8 812.8 3216.6 801.5 3239.3 789.9 3261.9 778 3284.3 765.9 3306.4 753.4M2611.4 1044.1 2634.7 1032.8 2658.2 1022 2681.9 1011.5 2705.7 1001.4 2729.6 991.6 2753.6 982 2777.6 972.6 2801.7 963.4 2825.8 954.3 2849.9 945.3 2874 936.3 2898 927.3 2922.1 918.3 2946.1 909.2 2970 900 2993.9 890.8 3017.7 881.3 3041.4 871.8 3065.1 862 3088.7 852 3112.1 841.9 3135.5 831.5 3158.7 820.9 3181.8 810 3204.8 798.9 3227.6 787.5 3250.3 775.8 3272.8 763.9 3295.1 751.6M2597.1 1037.4 2620.5 1026.2 2644 1015.4 2667.8 1005 2691.7 995 2715.6 985.3 2739.7 975.8 2763.8 966.5 2788 957.5 2812.2 948.5 2836.4 939.6 2860.5 930.8 2884.7 922 2908.8 913.1 2932.9 904.2 2957 895.3 2980.9 886.2 3004.9 876.9 3028.7 867.6 3052.5 858 3076.2 848.2 3099.7 838.3 3123.2 828.1 3146.6 817.7 3169.8 807.1 3192.9 796.2 3215.9 785 3238.7 773.6 3261.3 761.8 3283.7 749.8M2582.2 1030.1 2605.7 1018.9 2629.3 1008.2 2653.1 997.9 2677.1 988 2701.2 978.4 2725.3 969 2749.6 959.9 2773.8 951 2798.1 942.2 2822.4 933.5 2846.7 924.9 2871 916.2 2895.2 907.6 2919.5 898.9 2943.6 890.1 2967.7 881.2 2991.8 872.2 3015.8 863 3039.7 853.7 3063.5 844.2 3087.2 834.5 3110.8 824.5 3134.3 814.4 3157.7 804 3180.9 793.3 3204 782.4 3227 771.2 3249.8 759.7 3272.4 747.9M2566.7 1021.9 2590.2 1010.9 2614 1000.2 2637.9 990.1 2662 980.2 2686.2 970.8 2710.5 961.6 2734.8 952.7 2759.2 943.9 2783.7 935.3 2808.1 926.8 2832.5 918.4 2856.9 909.9 2881.3 901.5 2905.7 893 2930 884.5 2954.3 875.9 2978.5 867.1 3002.6 858.1 3026.7 849 3050.6 839.8 3074.5 830.3 3098.3 820.6 3121.9 810.7 3145.5 800.6 3168.9 790.2 3192.2 779.5 3215.3 768.6 3238.3 757.4 3261.1 745.9M2550.5 1012.9 2574.2 1001.9 2598 991.4 2622.1 981.3 2646.3 971.7 2670.6 962.4 2695.1 953.4 2719.6 944.6 2744.1 936.1 2768.7 927.7 2793.3 919.4 2817.9 911.2 2842.5 903 2867.1 894.8 2891.6 886.6 2916.1 878.3 2940.5 869.9 2964.9 861.4 2989.2 852.7 3013.4 843.9 3037.6 834.9 3061.6 825.7 3085.6 816.3 3109.5 806.7 3133.2 796.8 3156.8 786.7 3180.3 776.4 3203.6 765.7 3226.8 754.8 3249.8 743.6" fill="none" stroke="#48c012" stroke-width="3.6" stroke-opacity="0.4"/>
<path d="M2533.6 1002.7 2557.4 991.8 2581.4 981.5 2605.6 971.6 2630 962.1 2654.5 953 2679.1 944.2 2703.8 935.7 2728.6 927.4 2753.3 919.2 2778.1 911.2 2802.9 903.3 2827.7 895.3 2852.4 887.4 2877.1 879.5 2901.8 871.5 2926.5 863.4 2951 855.1 2975.6 846.8 3000 838.2 3024.4 829.5 3048.6 820.6 3072.8 811.5 3096.9 802.2 3120.8 792.7 3144.7 782.9 3168.4 772.9 3192 762.6 3215.4 752 3238.6 741.1M2516 991.1 2539.9 980.4 2564.1 970.3 2588.5 960.6 2613.1 951.3 2637.8 942.5 2662.6 933.9 2687.5 925.6 2712.5 917.6 2737.4 909.7 2762.4 902 2787.4 894.3 2812.4 886.7 2837.4 879.1 2862.3 871.5 2887.2 863.8 2912.1 856 2936.9 848.1 2961.6 840 2986.3 831.8 3010.9 823.5 3035.4 814.9 3059.8 806.2 3084.1 797.2 3108.3 788 3132.4 778.6 3156.4 768.9 3180.2 758.9 3203.9 748.7 3227.4 738.2M2497.7 978 2521.8 967.5 2546.1 957.5 2570.7 948.1 2595.4 939.1 2620.3 930.4 2645.3 922.2 2670.4 914.2 2695.5 906.5 2720.7 898.9 2745.9 891.5 2771.1 884.1 2796.3 876.8 2821.4 869.5 2846.6 862.2 2871.7 854.9 2896.8 847.5 2921.8 839.9 2946.7 832.2 2971.6 824.4 2996.4 816.4 3021.1 808.2 3045.8 799.8 3070.3 791.2 3094.8 782.4 3119.1 773.3 3143.3 764 3167.3 754.5 3191.3 744.6 3215 734.5M2478.7 962.9 2502.9 952.7 2527.4 942.9 2552.1 933.7 2577 925 2602 916.6 2627.2 908.7 2652.4 901 2677.7 893.6 2703 886.3 2728.4 879.2 2753.7 872.2 2779.1 865.3 2804.4 858.4 2829.8 851.4 2855 844.4 2880.3 837.4 2905.5 830.2 2930.6 822.9 2955.6 815.4 2980.6 807.8 3005.6 800 3030.4 792 3055.1 783.8 3079.7 775.4 3104.3 766.7 3128.6 757.8 3152.9 748.7 3177 739.3 3201 729.5M2459.3 945.6 2483.6 935.6 2508.1 926.1 2532.9 917.1 2557.9 908.7 2583 900.6 2608.3 893 2633.6 885.6 2659 878.5 2684.5 871.6 2709.9 864.9 2735.4 858.2 2760.9 851.6 2786.3 845.1 2811.8 838.5 2837.2 831.9 2862.5 825.3 2887.9 818.5 2913.1 811.5 2938.3 804.5 2963.4 797.3 2988.5 789.9 3013.5 782.3 3038.3 774.5 3063.1 766.5 3087.8 758.3 3112.3 749.8 3136.8 741.1 3161.1 732.1 3185.2 722.8M2439.6 925.6 2463.9 915.8 2488.5 906.6 2513.3 897.9 2538.4 889.7 2563.5 882 2588.8 874.7 2614.2 867.6 2639.7 860.9 2665.2 854.4 2690.7 848 2716.3 841.7 2741.8 835.5 2767.3 829.3 2792.8 823.2 2818.3 817 2843.8 810.7 2869.1 804.3 2894.5 797.8 2919.8 791.1 2945 784.3 2970.1 777.4 2995.2 770.2 3020.1 762.8 3045 755.3 3069.8 747.5 3094.4 739.4 3119 731.1 3143.4 722.6 3167.6 713.7" fill="none" stroke="#48c012" stroke-width="3" stroke-opacity="0.3"/>
<path d="M2420.1 902.6 2444.4 893.1 2468.9 884.1 2493.7 875.7 2518.7 867.9 2543.9 860.5 2569.2 853.5 2594.6 846.8 2620 840.4 2645.5 834.2 2671.1 828.2 2696.6 822.3 2722.2 816.5 2747.7 810.7 2773.2 805 2798.7 799.2 2824.2 793.3 2849.6 787.3 2874.9 781.2 2900.2 775 2925.5 768.6 2950.6 762.1 2975.7 755.3 3000.7 748.4 3025.6 741.3 3050.4 733.9 3075.1 726.3 3099.7 718.5 3124.2 710.4 3148.5 702M2401 877.5 2425.2 868.2 2449.7 859.5 2474.4 851.3 2499.3 843.7 2524.4 836.6 2549.6 829.9 2575 823.6 2600.4 817.5 2625.8 811.6 2651.3 806 2676.8 800.4 2702.3 795 2727.8 789.6 2753.3 784.2 2778.7 778.7 2804.1 773.2 2829.5 767.6 2854.8 761.9 2880.1 756.1 2905.3 750.1 2930.4 743.9 2955.5 737.6 2980.5 731.1 3005.4 724.4 3030.2 717.4 3054.8 710.2 3079.4 702.8 3103.9 695.1 3128.2 687.1M2382.1 851.6 2406.2 842.4 2430.5 833.8 2455.1 825.9 2479.9 818.5 2504.9 811.5 2530.1 805 2555.3 798.9 2580.6 793.1 2606 787.5 2631.4 782 2656.8 776.8 2682.2 771.6 2707.7 766.4 2733.1 761.3 2758.4 756.2 2783.8 750.9 2809.1 745.6 2834.4 740.2 2859.6 734.7 2884.7 729 2909.8 723.1 2934.8 717.1 2959.7 710.9 2984.6 704.5 3009.3 697.8 3034 691 3058.5 683.9 3082.9 676.5 3107.2 668.9M2363.4 825.1 2387.3 815.9 2411.5 807.4 2436 799.5 2460.7 792.2 2485.6 785.4 2510.6 779 2535.8 773 2561 767.3 2586.3 761.8 2611.6 756.5 2636.9 751.4 2662.3 746.4 2687.6 741.4 2712.9 736.4 2738.2 731.5 2763.5 726.5 2788.7 721.3 2813.9 716.1 2839 710.8 2864.1 705.3 2889.1 699.6 2914.1 693.8 2938.9 687.8 2963.7 681.6 2988.4 675.2 3013 668.5 3037.5 661.6 3061.9 654.5 3086.1 647.1M2345.4 796.7 2369.1 787.6 2393.2 779 2417.6 771.2 2442.2 763.8 2467 757 2491.9 750.7 2516.9 744.7 2542 739.1 2567.2 733.7 2592.4 728.6 2617.6 723.5 2642.9 718.6 2668.1 713.8 2693.4 708.9 2718.6 704.1 2743.8 699.2 2768.9 694.2 2794 689.1 2819.1 683.9 2844.1 678.5 2869 673 2893.9 667.4 2918.7 661.5 2943.4 655.5 2968.1 649.2 2992.6 642.7 3017 636 3041.3 629 3065.5 621.8" fill="none" stroke="#48c012" stroke-width="2.4" stroke-opacity="0.2"/>
<path d="M2899.9 1144.2 2923.4 1134.5 2947 1124.9 2970.5 1115.2 2994.1 1105.5 3017.6 1095.8 3041.1 1086 3064.6 1076.1 3088 1066.1 3111.4 1056.1 3134.7 1045.9 3157.9 1035.5 3181.1 1025 3204.3 1014.4 3227.3 1003.6 3250.2 992.5 3273.1 981.3 3295.8 969.8 3318.4 958 3340.8 946.1 3363.1 933.8 3385.3 921.2 3407.2 908.4 3429 895.2 3450.6 881.7 3472 867.9 3493.1 853.7 3514 839.2 3534.6 824.3 3555 809M2887.5 1139.8 2911.1 1130.1 2934.6 1120.3 2958.2 1110.6 2981.7 1100.9 3005.2 1091.1 3028.7 1081.3 3052.2 1071.5 3075.7 1061.5 3099.1 1051.5 3122.4 1041.3 3145.7 1031 3169 1020.6 3192.1 1010 3215.2 999.2 3238.2 988.2 3261 977.1 3283.8 965.7 3306.4 954 3328.9 942.1 3351.3 929.9 3373.5 917.5 3395.5 904.7 3417.3 891.6 3439 878.2 3460.4 864.5 3481.6 850.4 3502.6 836 3523.3 821.2 3543.7 806.1M2875.1 1135.5 2898.7 1125.7 2922.2 1115.9 2945.7 1106.1 2969.3 1096.4 2992.8 1086.6 3016.3 1076.8 3039.8 1066.9 3063.3 1057 3086.7 1046.9 3110.1 1036.8 3133.4 1026.6 3156.7 1016.2 3179.9 1005.6 3203 994.9 3226 984 3248.9 972.9 3271.7 961.5 3294.4 950 3316.9 938.1 3339.3 926 3361.6 913.6 3383.7 901 3405.6 888 3427.3 874.7 3448.8 861.1 3470.1 847.1 3491.1 832.8 3511.9 818.1 3532.4 803M2862.7 1131.3 2886.2 1121.4 2909.7 1111.5 2933.3 1101.7 2956.8 1091.9 2980.4 1082.1 3003.9 1072.3 3027.4 1062.4 3050.9 1052.5 3074.4 1042.5 3097.8 1032.3 3121.1 1022.1 3144.4 1011.8 3167.6 1001.3 3190.8 990.6 3213.8 979.8 3236.8 968.7 3259.6 957.4 3282.3 945.9 3304.9 934.2 3327.4 922.1 3349.7 909.8 3371.8 897.2 3393.7 884.4 3415.5 871.1 3437.1 857.6 3458.4 843.7 3479.5 829.5 3500.4 814.9 3521 800M2850.3 1127.2 2873.7 1117.2 2897.2 1107.3 2920.8 1097.4 2944.3 1087.5 2967.9 1077.7 2991.4 1067.8 3015 1057.9 3038.5 1048 3062 1038 3085.4 1027.9 3108.8 1017.7 3132.1 1007.4 3155.3 997 3178.5 986.4 3201.6 975.6 3224.6 964.6 3247.4 953.3 3270.2 941.9 3292.8 930.2 3315.3 918.3 3337.7 906 3359.9 893.5 3381.9 880.7 3403.7 867.6 3425.3 854.1 3446.7 840.4 3467.9 826.2 3488.8 811.7 3509.5 796.9M2837.8 1123.2 2861.2 1113.1 2884.7 1103 2908.3 1093.1 2931.8 1083.2 2955.4 1073.3 2979 1063.4 3002.5 1053.5 3026 1043.6 3049.5 1033.6 3073 1023.6 3096.4 1013.4 3119.7 1003.1 3143 992.7 3166.2 982.1 3189.3 971.4 3212.4 960.4 3235.3 949.3 3258.1 937.9 3280.8 926.3 3303.3 914.4 3325.7 902.2 3347.9 889.8 3370 877.1 3391.9 864 3413.6 850.7 3435 837 3456.3 822.9 3477.3 808.6 3498 793.8M2825.3 1119.2 2848.7 1109 2872.2 1098.9 2895.8 1088.8 2919.3 1078.9 2942.9 1069 2966.5 1059.1 2990 1049.2 3013.6 1039.3 3037.1 1029.3 3060.6 1019.2 3084 1009.1 3107.4 998.9 3130.7 988.5 3154 978 3177.1 967.3 3200.2 956.4 3223.1 945.3 3246 933.9 3268.7 922.4 3291.3 910.6 3313.8 898.5 3336 886.1 3358.2 873.5 3380.1 860.5 3401.9 847.2 3423.4 833.6 3444.7 819.7 3465.8 805.4 3486.6 790.8M2812.8 1115.3 2836.2 1105 2859.7 1094.7 2883.2 1084.7 2906.8 1074.6 2930.4 1064.7 2954 1054.8 2977.6 1044.9 3001.2 1035 3024.7 1025 3048.2 1015 3071.7 1004.9 3095.1 994.6 3118.5 984.3 3141.7 973.8 3164.9 963.2 3188 952.3 3211.1 941.3 3234 930 3256.7 918.5 3279.4 906.8 3301.9 894.8 3324.2 882.5 3346.4 869.9 3368.4 857.1 3390.2 843.9 3411.8 830.4 3433.2 816.5 3454.4 802.3 3475.3 787.8M2800.3 1111.4 2823.7 1100.9 2847.2 1090.6 2870.7 1080.5 2894.3 1070.4 2917.9 1060.4 2941.5 1050.5 2965.2 1040.6 2988.8 1030.7 3012.3 1020.7 3035.9 1010.7 3059.4 1000.7 3082.9 990.5 3106.3 980.2 3129.6 969.7 3152.8 959.1 3176 948.4 3199 937.4 3222 926.2 3244.8 914.8 3267.5 903.1 3290.1 891.2 3312.5 878.9 3334.7 866.5 3356.8 853.7 3378.7 840.6 3400.4 827.1 3421.8 813.4 3443.1 799.3 3464.1 784.8M2787.7 1107.4 2811.2 1096.9 2834.6 1086.6 2858.2 1076.3 2881.8 1066.2 2905.4 1056.2 2929.1 1046.3 2952.7 1036.3 2976.4 1026.4 3000 1016.5 3023.6 1006.5 3047.1 996.5 3070.6 986.3 3094.1 976.1 3117.4 965.7 3140.7 955.2 3163.9 944.4 3187.1 933.5 3210.1 922.4 3232.9 911 3255.7 899.4 3278.3 887.6 3300.8 875.4 3323.1 863 3345.3 850.3 3367.2 837.3 3389 824 3410.5 810.3 3431.9 796.3 3452.9 782M2775.2 1103.5 2798.6 1092.9 2822.1 1082.5 2845.7 1072.2 2869.3 1062 2893 1052 2916.6 1042 2940.3 1032.1 2964 1022.2 2987.7 1012.3 3011.3 1002.3 3034.9 992.3 3058.4 982.2 3081.9 972 3105.3 961.7 3128.6 951.2 3151.9 940.5 3175.1 929.7 3198.1 918.6 3221.1 907.3 3243.9 895.8 3266.6 884 3289.1 872 3311.5 859.7 3333.7 847.1 3355.7 834.1 3377.6 820.9 3399.2 807.4 3420.6 793.5 3441.8 779.2M2762.7 1099.6 2786.1 1088.9 2809.6 1078.4 2833.2 1068 2856.8 1057.8 2880.5 1047.8 2904.2 1037.8 2927.9 1027.9 2951.6 1018 2975.3 1008.1 2999 998.2 3022.6 988.2 3046.2 978.1 3069.7 968 3093.2 957.7 3116.5 947.3 3139.9 936.7 3163.1 925.9 3186.2 914.9 3209.2 903.7 3232.1 892.2 3254.8 880.5 3277.4 868.6 3299.9 856.4 3322.1 843.8 3344.2 831 3366.2 817.9 3387.9 804.4 3409.4 790.6 3430.6 776.5M2750.2 1095.6 2773.6 1084.8 2797.1 1074.2 2820.7 1063.9 2844.3 1053.6 2868 1043.5 2891.8 1033.6 2915.5 1023.6 2939.2 1013.8 2962.9 1003.9 2986.6 994 3010.3 984.1 3033.9 974.1 3057.5 964 3081 953.7 3104.4 943.4 3127.8 932.8 3151.1 922.1 3174.2 911.2 3197.3 900.1 3220.2 888.7 3243 877.1 3265.7 865.3 3288.2 853.1 3310.6 840.7 3332.7 828 3354.7 814.9 3376.5 801.6 3398.1 787.9 3419.4 773.9M2737.7 1091.6 2761.1 1080.7 2784.6 1070.1 2808.2 1059.7 2831.9 1049.4 2855.6 1039.3 2879.3 1029.3 2903.1 1019.4 2926.8 1009.5 2950.6 999.7 2974.3 989.8 2998 980 3021.7 970 3045.3 960 3068.9 949.8 3092.3 939.5 3115.7 929 3139 918.4 3162.3 907.6 3185.4 896.5 3208.4 885.3 3231.2 873.7 3254 862 3276.5 849.9 3299 837.6 3321.2 825 3343.3 812.1 3365.1 798.9 3386.8 785.3 3408.2 771.4M2725.3 1087.5 2748.6 1076.6 2772.1 1065.9 2795.7 1055.4 2819.4 1045.1 2843.1 1035 2866.9 1025 2890.7 1015.1 2914.5 1005.3 2938.3 995.5 2962 985.7 2985.8 975.8 3009.5 965.9 3033.1 956 3056.7 945.9 3080.2 935.7 3103.7 925.3 3127 914.7 3150.3 904 3173.5 893 3196.5 881.9 3219.4 870.4 3242.2 858.8 3264.9 846.8 3287.3 834.6 3309.7 822.1 3331.8 809.3 3353.7 796.2 3375.5 782.8 3397 769M2712.8 1083.4 2736.2 1072.3 2759.7 1061.6 2783.3 1051.1 2807 1040.8 2830.7 1030.7 2854.5 1020.7 2878.3 1010.8 2902.1 1001 2925.9 991.3 2949.7 981.5 2973.5 971.7 2997.2 961.9 3020.9 952 3044.5 942 3068.1 931.9 3091.6 921.6 3115 911.1 3138.3 900.5 3161.5 889.6 3184.6 878.5 3207.6 867.2 3230.4 855.7 3253.2 843.8 3275.7 831.7 3298.1 819.3 3320.3 806.7 3342.3 793.7 3364.1 780.4 3385.7 766.7M2700.4 1079.1 2723.8 1068 2747.2 1057.2 2770.8 1046.7 2794.5 1036.4 2818.3 1026.3 2842.1 1016.3 2865.9 1006.5 2889.8 996.7 2913.6 987 2937.4 977.3 2961.2 967.6 2985 957.9 3008.7 948 3032.4 938.1 3056 928.1 3079.5 917.9 3103 907.5 3126.3 897 3149.6 886.2 3172.7 875.2 3195.8 864 3218.7 852.6 3241.4 840.9 3264.1 828.9 3286.5 816.7 3308.8 804.1 3330.9 791.3 3352.8 778.1 3374.5 764.6M2688 1074.8 2711.4 1063.6 2734.8 1052.8 2758.4 1042.3 2782.1 1031.9 2805.9 1021.8 2829.7 1011.9 2853.6 1002.1 2877.4 992.4 2901.3 982.7 2925.2 973.1 2949 963.5 2972.8 953.8 2996.6 944.1 3020.3 934.2 3043.9 924.3 3067.5 914.2 3091 903.9 3114.4 893.5 3137.7 882.9 3160.9 872 3183.9 860.9 3206.9 849.6 3229.7 838 3252.4 826.2 3274.9 814.1 3297.2 801.6 3319.4 788.9 3341.4 775.9 3363.1 762.5M2675.7 1070.3 2699 1059.1 2722.5 1048.3 2746.1 1037.7 2769.8 1027.4 2793.6 1017.3 2817.4 1007.4 2841.3 997.6 2865.1 988 2889 978.4 2912.9 968.9 2936.8 959.3 2960.6 949.7 2984.4 940.1 3008.1 930.3 3031.8 920.5 3055.4 910.5 3078.9 900.4 3102.4 890 3125.7 879.5 3149 868.8 3172.1 857.8 3195.1 846.7 3218 835.2 3240.7 823.5 3263.3 811.5 3285.7 799.3 3307.9 786.7 3330 773.8 3351.8 760.6M2663.4 1065.7 2686.7 1054.5 2710.2 1043.6 2733.8 1033 2757.5 1022.7 2781.2 1012.7 2805.1 1002.8 2829 993.1 2852.9 983.5 2876.8 974 2900.7 964.5 2924.6 955.1 2948.4 945.6 2972.3 936 2996 926.4 3019.7 916.7 3043.4 906.8 3066.9 896.8 3090.4 886.6 3113.8 876.2 3137.1 865.6 3160.3 854.8 3183.3 843.7 3206.3 832.4 3229.1 820.9 3251.7 809 3274.2 796.9 3296.5 784.5 3318.6 771.8 3340.5 758.7M2651.1 1060.9 2674.4 1049.6 2697.8 1038.8 2721.4 1028.2 2745.1 1017.9 2768.9 1007.9 2792.7 998.1 2816.6 988.4 2840.6 978.9 2864.5 969.5 2888.4 960.1 2912.3 950.7 2936.2 941.3 2960.1 931.9 2983.9 922.4 3007.6 912.8 3031.3 903 3054.9 893.1 3078.4 883.1 3101.9 872.8 3125.2 862.4 3148.4 851.7 3171.5 840.8 3194.5 829.6 3217.4 818.2 3240.1 806.6 3262.6 794.6 3285 782.3 3307.2 769.8 3329.1 756.9M2638.4 1055.7 2661.6 1044.5 2685.1 1033.6 2708.7 1023 2732.4 1012.8 2756.2 1002.8 2780.1 993.1 2804 983.5 2828 974.1 2851.9 964.7 2875.9 955.5 2899.9 946.2 2923.8 936.9 2947.7 927.6 2971.5 918.2 2995.3 908.7 3019.1 899.1 3042.7 889.4 3066.3 879.5 3089.8 869.4 3113.2 859.1 3136.5 848.5 3159.6 837.8 3182.7 826.8 3205.6 815.6 3228.4 804.1 3251 792.3 3273.4 780.2 3295.7 767.8 3317.8 755.1M2625.1 1050.2 2648.4 1038.9 2671.9 1028 2695.5 1017.5 2719.3 1007.3 2743.1 997.4 2767 987.7 2791 978.3 2815 968.9 2839 959.7 2863.1 950.5 2887.1 941.4 2911.1 932.3 2935 923.1 2958.9 913.8 2982.8 904.5 3006.6 895.1 3030.3 885.5 3054 875.7 3077.5 865.8 3101 855.6 3124.4 845.3 3147.6 834.7 3170.8 823.9 3193.8 812.8 3216.6 801.5 3239.3 789.9 3261.9 778 3284.3 765.9 3306.4 753.4M2611.4 1044.1 2634.7 1032.8 2658.2 1022 2681.9 1011.5 2705.7 1001.4 2729.6 991.6 2753.6 982 2777.6 972.6 2801.7 963.4 2825.8 954.3 2849.9 945.3 2874 936.3 2898 927.3 2922.1 918.3 2946.1 909.2 2970 900 2993.9 890.8 3017.7 881.3 3041.4 871.8 3065.1 862 3088.7 852 3112.1 841.9 3135.5 831.5 3158.7 820.9 3181.8 810 3204.8 798.9 3227.6 787.5 3250.3 775.8 3272.8 763.9 3295.1 751.6M2597.1 1037.4 2620.5 1026.2 2644 1015.4 2667.8 1005 2691.7 995 2715.6 985.3 2739.7 975.8 2763.8 966.5 2788 957.5 2812.2 948.5 2836.4 939.6 2860.5 930.8 2884.7 922 2908.8 913.1 2932.9 904.2 2957 895.3 2980.9 886.2 3004.9 876.9 3028.7 867.6 3052.5 858 3076.2 848.2 3099.7 838.3 3123.2 828.1 3146.6 817.7 3169.8 807.1 3192.9 796.2 3215.9 785 3238.7 773.6 3261.3 761.8 3283.7 749.8M2582.2 1030.1 2605.7 1018.9 2629.3 1008.2 2653.1 997.9 2677.1 988 2701.2 978.4 2725.3 969 2749.6 959.9 2773.8 951 2798.1 942.2 2822.4 933.5 2846.7 924.9 2871 916.2 2895.2 907.6 2919.5 898.9 2943.6 890.1 2967.7 881.2 2991.8 872.2 3015.8 863 3039.7 853.7 3063.5 844.2 3087.2 834.5 3110.8 824.5 3134.3 814.4 3157.7 804 3180.9 793.3 3204 782.4 3227 771.2 3249.8 759.7 3272.4 747.9M2566.7 1021.9 2590.2 1010.9 2614 1000.2 2637.9 990.1 2662 980.2 2686.2 970.8 2710.5 961.6 2734.8 952.7 2759.2 943.9 2783.7 935.3 2808.1 926.8 2832.5 918.4 2856.9 909.9 2881.3 901.5 2905.7 893 2930 884.5 2954.3 875.9 2978.5 867.1 3002.6 858.1 3026.7 849 3050.6 839.8 3074.5 830.3 3098.3 820.6 3121.9 810.7 3145.5 800.6 3168.9 790.2 3192.2 779.5 3215.3 768.6 3238.3 757.4 3261.1 745.9M2550.5 1012.9 2574.2 1001.9 2598 991.4 2622.1 981.3 2646.3 971.7 2670.6 962.4 2695.1 953.4 2719.6 944.6 2744.1 936.1 2768.7 927.7 2793.3 919.4 2817.9 911.2 2842.5 903 2867.1 894.8 2891.6 886.6 2916.1 878.3 2940.5 869.9 2964.9 861.4 2989.2 852.7 3013.4 843.9 3037.6 834.9 3061.6 825.7 3085.6 816.3 3109.5 806.7 3133.2 796.8 3156.8 786.7 3180.3 776.4 3203.6 765.7 3226.8 754.8 3249.8 743.6M2533.6 1002.7 2557.4 991.8 2581.4 981.5 2605.6 971.6 2630 962.1 2654.5 953 2679.1 944.2 2703.8 935.7 2728.6 927.4 2753.3 919.2 2778.1 911.2 2802.9 903.3 2827.7 895.3 2852.4 887.4 2877.1 879.5 2901.8 871.5 2926.5 863.4 2951 855.1 2975.6 846.8 3000 838.2 3024.4 829.5 3048.6 820.6 3072.8 811.5 3096.9 802.2 3120.8 792.7 3144.7 782.9 3168.4 772.9 3192 762.6 3215.4 752 3238.6 741.1M2516 991.1 2539.9 980.4 2564.1 970.3 2588.5 960.6 2613.1 951.3 2637.8 942.5 2662.6 933.9 2687.5 925.6 2712.5 917.6 2737.4 909.7 2762.4 902 2787.4 894.3 2812.4 886.7 2837.4 879.1 2862.3 871.5 2887.2 863.8 2912.1 856 2936.9 848.1 2961.6 840 2986.3 831.8 3010.9 823.5 3035.4 814.9 3059.8 806.2 3084.1 797.2 3108.3 788 3132.4 778.6 3156.4 768.9 3180.2 758.9 3203.9 748.7 3227.4 738.2M2497.7 978 2521.8 967.5 2546.1 957.5 2570.7 948.1 2595.4 939.1 2620.3 930.4 2645.3 922.2 2670.4 914.2 2695.5 906.5 2720.7 898.9 2745.9 891.5 2771.1 884.1 2796.3 876.8 2821.4 869.5 2846.6 862.2 2871.7 854.9 2896.8 847.5 2921.8 839.9 2946.7 832.2 2971.6 824.4 2996.4 816.4 3021.1 808.2 3045.8 799.8 3070.3 791.2 3094.8 782.4 3119.1 773.3 3143.3 764 3167.3 754.5 3191.3 744.6 3215 734.5M2478.7 962.9 2502.9 952.7 2527.4 942.9 2552.1 933.7 2577 925 2602 916.6 2627.2 908.7 2652.4 901 2677.7 893.6 2703 886.3 2728.4 879.2 2753.7 872.2 2779.1 865.3 2804.4 858.4 2829.8 851.4 2855 844.4 2880.3 837.4 2905.5 830.2 2930.6 822.9 2955.6 815.4 2980.6 807.8 3005.6 800 3030.4 792 3055.1 783.8 3079.7 775.4 3104.3 766.7 3128.6 757.8 3152.9 748.7 3177 739.3 3201 729.5M2459.3 945.6 2483.6 935.6 2508.1 926.1 2532.9 917.1 2557.9 908.7 2583 900.6 2608.3 893 2633.6 885.6 2659 878.5 2684.5 871.6 2709.9 864.9 2735.4 858.2 2760.9 851.6 2786.3 845.1 2811.8 838.5 2837.2 831.9 2862.5 825.3 2887.9 818.5 2913.1 811.5 2938.3 804.5 2963.4 797.3 2988.5 789.9 3013.5 782.3 3038.3 774.5 3063.1 766.5 3087.8 758.3 3112.3 749.8 3136.8 741.1 3161.1 732.1 3185.2 722.8M2439.6 925.6 2463.9 915.8 2488.5 906.6 2513.3 897.9 2538.4 889.7 2563.5 882 2588.8 874.7 2614.2 867.6 2639.7 860.9 2665.2 854.4 2690.7 848 2716.3 841.7 2741.8 835.5 2767.3 829.3 2792.8 823.2 2818.3 817 2843.8 810.7 2869.1 804.3 2894.5 797.8 2919.8 791.1 2945 784.3 2970.1 777.4 2995.2 770.2 3020.1 762.8 3045 755.3 3069.8 747.5 3094.4 739.4 3119 731.1 3143.4 722.6 3167.6 713.7M2420.1 902.6 2444.4 893.1 2468.9 884.1 2493.7 875.7 2518.7 867.9 2543.9 860.5 2569.2 853.5 2594.6 846.8 2620 840.4 2645.5 834.2 2671.1 828.2 2696.6 822.3 2722.2 816.5 2747.7 810.7 2773.2 805 2798.7 799.2 2824.2 793.3 2849.6 787.3 2874.9 781.2 2900.2 775 2925.5 768.6 2950.6 762.1 2975.7 755.3 3000.7 748.4 3025.6 741.3 3050.4 733.9 3075.1 726.3 3099.7 718.5 3124.2 710.4 3148.5 702M2401 877.5 2425.2 868.2 2449.7 859.5 2474.4 851.3 2499.3 843.7 2524.4 836.6 2549.6 829.9 2575 823.6 2600.4 817.5 2625.8 811.6 2651.3 806 2676.8 800.4 2702.3 795 2727.8 789.6 2753.3 784.2 2778.7 778.7 2804.1 773.2 2829.5 767.6 2854.8 761.9 2880.1 756.1 2905.3 750.1 2930.4 743.9 2955.5 737.6 2980.5 731.1 3005.4 724.4 3030.2 717.4 3054.8 710.2 3079.4 702.8 3103.9 695.1 3128.2 687.1M2382.1 851.6 2406.2 842.4 2430.5 833.8 2455.1 825.9 2479.9 818.5 2504.9 811.5 2530.1 805 2555.3 798.9 2580.6 793.1 2606 787.5 2631.4 782 2656.8 776.8 2682.2 771.6 2707.7 766.4 2733.1 761.3 2758.4 756.2 2783.8 750.9 2809.1 745.6 2834.4 740.2 2859.6 734.7 2884.7 729 2909.8 723.1 2934.8 717.1 2959.7 710.9 2984.6 704.5 3009.3 697.8 3034 691 3058.5 683.9 3082.9 676.5 3107.2 668.9M2363.4 825.1 2387.3 815.9 2411.5 807.4 2436 799.5 2460.7 792.2 2485.6 785.4 2510.6 779 2535.8 773 2561 767.3 2586.3 761.8 2611.6 756.5 2636.9 751.4 2662.3 746.4 2687.6 741.4 2712.9 736.4 2738.2 731.5 2763.5 726.5 2788.7 721.3 2813.9 716.1 2839 710.8 2864.1 705.3 2889.1 699.6 2914.1 693.8 2938.9 687.8 2963.7 681.6 2988.4 675.2 3013 668.5 3037.5 661.6 3061.9 654.5 3086.1 647.1M2345.4 796.7 2369.1 787.6 2393.2 779 2417.6 771.2 2442.2 763.8 2467 757 2491.9 750.7 2516.9 744.7 2542 739.1 2567.2 733.7 2592.4 728.6 2617.6 723.5 2642.9 718.6 2668.1 713.8 2693.4 708.9 2718.6 704.1 2743.8 699.2 2768.9 694.2 2794 689.1 2819.1 683.9 2844.1 678.5 2869 673 2893.9 667.4 2918.7 661.5 2943.4 655.5 2968.1 649.2 2992.6 642.7 3017 636 3041.3 629 3065.5 621.8M2329 765.4 2352.6 756.1 2376.5 747.6 2400.7 739.7 2425.2 732.4 2449.8 725.6 2474.6 719.3 2499.6 713.4 2524.5 707.9 2549.6 702.6 2574.7 697.5 2599.8 692.5 2624.9 687.7 2650.1 682.9 2675.2 678.2 2700.3 673.5 2725.4 668.7 2750.4 663.8 2775.4 658.9 2800.4 653.8 2825.3 648.6 2850.2 643.2 2874.9 637.7 2899.7 631.9 2924.3 626 2948.8 619.9 2973.3 613.6 2997.7 607 3021.9 600.2 3046 593.2M2314.7 731.4 2338.1 722.1 2361.9 713.5 2385.9 705.6 2410.2 698.3 2434.7 691.5 2459.4 685.3 2484.1 679.4 2509 673.9 2533.9 668.6 2558.9 663.6 2583.9 658.7 2608.9 654 2633.9 649.3 2658.9 644.7 2683.9 640 2708.8 635.3 2733.8 630.6 2758.6 625.7 2783.5 620.7 2808.3 615.6 2833 610.4 2857.7 605 2882.3 599.4 2906.8 593.6 2931.3 587.6 2955.7 581.4 2979.9 575 3004.1 568.3 3028.2 561.4M2302.3 695.6 2325.5 686.2 2349.1 677.6 2373 669.6 2397.2 662.3 2421.5 655.5 2446 649.2 2470.7 643.4 2495.4 637.9 2520.2 632.6 2545 627.6 2569.8 622.8 2594.7 618.1 2619.6 613.5 2644.5 608.9 2669.3 604.3 2694.2 599.7 2719 595 2743.7 590.3 2768.5 585.4 2793.2 580.3 2817.8 575.2 2842.4 569.9 2866.9 564.4 2891.3 558.7 2915.6 552.8 2939.9 546.7 2964.1 540.4 2988.2 533.9 3012.2 527M2291.4 658.7 2314.5 649.2 2338 640.5 2361.7 632.4 2385.7 625 2409.9 618.2 2434.3 611.9 2458.8 606 2483.4 600.5 2508 595.3 2532.8 590.3 2557.5 585.5 2582.2 580.8 2607 576.2 2631.8 571.7 2656.5 567.1 2681.3 562.6 2706 557.9 2730.6 553.2 2755.3 548.4 2779.8 543.4 2804.4 538.3 2828.8 533 2853.3 527.6 2877.6 522 2901.9 516.2 2926.1 510.2 2950.2 504 2974.2 497.5 2998.1 490.8M2281.7 621.4 2304.6 611.8 2327.9 603 2351.6 594.8 2375.4 587.3 2399.5 580.4 2423.8 574.1 2448.2 568.1 2472.7 562.6 2497.2 557.4 2521.9 552.4 2546.5 547.5 2571.2 542.9 2595.8 538.3 2620.5 533.8 2645.2 529.2 2669.8 524.7 2694.5 520.1 2719 515.4 2743.6 510.6 2768.1 505.6 2792.6 500.6 2817 495.4 2841.3 490 2865.6 484.4 2889.8 478.7 2913.9 472.7 2938 466.5 2962 460.1 2985.8 453.5M2272.7 584 2295.5 574.2 2318.7 565.2 2342.2 557 2366 549.4 2390 542.4 2414.2 536 2438.5 530 2462.9 524.4 2487.4 519.2 2512 514.1 2536.5 509.3 2561.1 504.6 2585.8 500 2610.4 495.5 2635 491 2659.6 486.5 2684.1 481.9 2708.7 477.2 2733.2 472.4 2757.6 467.5 2782 462.5 2806.4 457.3 2830.7 452 2854.9 446.4 2879.1 440.7 2903.2 434.8 2927.2 428.7 2951.2 422.3 2975 415.7M2264.4 546.3 2287.1 536.4 2310.2 527.3 2333.6 519 2357.3 511.3 2381.3 504.3 2405.4 497.7 2429.6 491.7 2454 486.1 2478.4 480.8 2502.9 475.7 2527.4 470.9 2551.9 466.2 2576.5 461.6 2601 457.1 2625.6 452.6 2650.1 448 2674.6 443.5 2699.1 438.8 2723.6 434 2748 429.1 2772.4 424.1 2796.7 419 2821 413.7 2845.2 408.2 2869.3 402.5 2893.4 396.7 2917.4 390.6 2941.3 384.3 2965.2 377.8M2256.7 508.6 2279.3 498.6 2302.3 489.3 2325.6 480.8 2349.2 473.1 2373.1 465.9 2397.1 459.4 2421.3 453.3 2445.6 447.6 2469.9 442.3 2494.3 437.2 2518.8 432.3 2543.2 427.6 2567.7 423 2592.2 418.5 2616.7 414 2641.2 409.5 2665.7 404.9 2690.1 400.3 2714.5 395.5 2738.9 390.7 2763.2 385.7 2787.5 380.6 2811.8 375.3 2835.9 369.9 2860.1 364.2 2884.1 358.4 2908.1 352.4 2932 346.1 2955.8 339.6M2249.4 470.7 2271.9 460.6 2294.8 451.2 2318 442.6 2341.5 434.8 2365.3 427.6 2389.2 420.9 2413.3 414.8 2437.5 409.1 2461.8 403.7 2486.1 398.6 2510.5 393.7 2534.9 389 2559.3 384.4 2583.7 379.9 2608.1 375.4 2632.5 370.9 2656.9 366.3 2681.3 361.7 2705.6 357 2730 352.1 2754.2 347.2 2778.5 342.1 2802.6 336.9 2826.8 331.5 2850.9 325.9 2874.9 320.1 2898.8 314.2 2922.7 308 2946.5 301.5M2242.6 432.8 2264.9 422.5 2287.6 413 2310.7 404.4 2334.1 396.4 2357.8 389.1 2381.6 382.4 2405.6 376.2 2429.6 370.5 2453.8 365.1 2478 360 2502.3 355.1 2526.6 350.3 2550.9 345.7 2575.3 341.2 2599.6 336.8 2623.9 332.3 2648.2 327.7 2672.5 323.1 2696.8 318.4 2721 313.6 2745.2 308.7 2769.3 303.7 2793.5 298.5 2817.5 293.1 2841.5 287.6 2865.5 281.9 2889.4 276 2913.2 269.8 2936.9 263.4M2236 394.9 2258.2 384.4 2280.7 374.8 2303.7 366 2327 358 2350.5 350.7 2374.1 343.9 2398 337.7 2421.9 331.9 2446 326.5 2470.1 321.3 2494.2 316.4 2518.4 311.7 2542.6 307.1 2566.9 302.6 2591.1 298.1 2615.3 293.7 2639.5 289.2 2663.7 284.6 2687.9 279.9 2712 275.1 2736.1 270.3 2760.2 265.3 2784.2 260.1 2808.2 254.8 2832.1 249.3 2856 243.7 2879.8 237.8 2903.5 231.7 2927.2 225.4M2229.6 356.9 2251.6 346.3 2274 336.6 2296.8 327.7 2319.9 319.6 2343.2 312.2 2366.8 305.4 2390.5 299.1 2414.3 293.3 2438.2 287.8 2462.2 282.7 2486.2 277.8 2510.3 273 2534.4 268.5 2558.5 264 2582.6 259.5 2606.7 255.1 2630.8 250.6 2654.8 246 2678.9 241.4 2702.9 236.7 2726.9 231.8 2750.9 226.9 2774.8 221.8 2798.7 216.5 2822.5 211.1 2846.3 205.5 2870 199.7 2893.7 193.7 2917.3 187.4M2223.2 318.9 2245 308.2 2267.3 298.3 2289.9 289.4 2312.9 281.2 2336.1 273.7 2359.5 266.8 2383 260.5 2406.7 254.7 2430.5 249.2 2454.3 244 2478.2 239.1 2502.1 234.4 2526.1 229.8 2550.1 225.4 2574 220.9 2598 216.5 2622 212 2645.9 207.5 2669.9 202.9 2693.8 198.2 2717.6 193.5 2741.5 188.5 2765.3 183.5 2789.1 178.3 2812.8 172.9 2836.5 167.4 2860.1 161.6 2883.7 155.7 2907.2 149.5M2216.8 280.9 2238.5 270 2260.5 260.1 2283 251 2305.8 242.8 2328.8 235.2 2352.1 228.3 2375.5 221.9 2399 216.1 2422.6 210.6 2446.3 205.4 2470.1 200.5 2493.9 195.8 2517.7 191.2 2541.5 186.8 2565.4 182.4 2589.2 178 2613.1 173.5 2636.9 169 2660.7 164.5 2684.5 159.8 2708.3 155.1 2732 150.2 2755.7 145.2 2779.4 140.1 2803 134.8 2826.6 129.3 2850.1 123.6 2873.6 117.7 2897 111.6M2210.3 242.9 2231.7 231.9 2253.6 221.9 2275.9 212.7 2298.5 204.4 2321.4 196.8 2344.5 189.8 2367.8 183.4 2391.2 177.5 2414.7 172 2438.2 166.8 2461.8 161.9 2485.5 157.2 2509.2 152.6 2532.9 148.2 2556.6 143.8 2580.3 139.4 2604 135 2627.7 130.6 2651.4 126.1 2675.1 121.5 2698.7 116.7 2722.4 111.9 2745.9 107 2769.5 101.9 2793 96.6 2816.5 91.2 2839.9 85.6 2863.3 79.8 2886.6 73.7M2203.5 205 2224.8 193.9 2246.5 183.7 2268.6 174.5 2291.1 166 2313.8 158.4 2336.8 151.3 2359.9 144.9 2383.1 139 2406.5 133.5 2429.9 128.3 2453.4 123.3 2476.9 118.6 2500.5 114.1 2524 109.7 2547.6 105.3 2571.2 101 2594.8 96.6 2618.4 92.2 2642 87.7 2665.5 83.1 2689.1 78.4 2712.6 73.7 2736.1 68.8 2759.5 63.7 2782.9 58.5 2806.3 53.2 2829.7 47.6 2853 41.9 2876.2 35.9" fill="none" stroke="#4fc41a" stroke-width="1.7" stroke-opacity="0.65"/>
<g opacity="0.26" clip-path="url(#clipR)">
<line x1="3478.5" y1="951.3" x2="3484.2" y2="26.4" stroke="#2d6a10" stroke-width="1.3" />
<line x1="2822.5" y1="1161.2" x2="3478.5" y2="951.3" stroke="#2d6a10" stroke-width="1.3" />
<line x1="3333.9" y1="921" x2="3334.6" y2="23.5" stroke="#2d6a10" stroke-width="1.3" />
<line x1="2675.4" y1="1118.3" x2="3333.9" y2="921" stroke="#2d6a10" stroke-width="1.3" />
<line x1="3197.7" y1="892.5" x2="3194" y2="20.8" stroke="#2d6a10" stroke-width="1.3" />
<line x1="2538.2" y1="1078.2" x2="3197.7" y2="892.5" stroke="#2d6a10" stroke-width="1.3" />
<line x1="3069.1" y1="865.6" x2="3061.4" y2="18.2" stroke="#2d6a10" stroke-width="1.3" />
<line x1="2410" y1="1040.8" x2="3069.1" y2="865.6" stroke="#2d6a10" stroke-width="1.3" />
<line x1="2947.6" y1="840.2" x2="2936.4" y2="15.8" stroke="#2d6a10" stroke-width="1.3" />
<line x1="2289.9" y1="1005.8" x2="2947.6" y2="840.2" stroke="#2d6a10" stroke-width="1.3" />
<line x1="2396" y1="949" x2="2364.9" y2="40.6" stroke="#2d6a10" stroke-width="1.3" />
<line x1="3065.9" y1="1128.9" x2="2396" y2="949" stroke="#2d6a10" stroke-width="1.3" />
<line x1="2548.6" y1="911.5" x2="2523.6" y2="32.6" stroke="#2d6a10" stroke-width="1.3" />
<line x1="3218.9" y1="1078.2" x2="2548.6" y2="911.5" stroke="#2d6a10" stroke-width="1.3" />
<line x1="2691.6" y1="876.4" x2="2671.9" y2="25" stroke="#2d6a10" stroke-width="1.3" />
<line x1="3360.7" y1="1031.2" x2="2691.6" y2="876.4" stroke="#2d6a10" stroke-width="1.3" />
<line x1="2825.9" y1="843.5" x2="2810.9" y2="18" stroke="#2d6a10" stroke-width="1.3" />
<line x1="3492.4" y1="987.6" x2="2825.9" y2="843.5" stroke="#2d6a10" stroke-width="1.3" />
<line x1="2230.8" y1="943.6" x2="2888.6" y2="788.4" stroke="#2d6a10" stroke-width="1.3" />
<line x1="2888.6" y1="788.4" x2="3554.6" y2="921.7" stroke="#2d6a10" stroke-width="1.3" />
<line x1="2227.1" y1="852.2" x2="2887.4" y2="709" stroke="#2d6a10" stroke-width="1.3" />
<line x1="2887.4" y1="709" x2="3555.4" y2="830.3" stroke="#2d6a10" stroke-width="1.3" />
<line x1="2223.4" y1="760.1" x2="2886.1" y2="629.1" stroke="#2d6a10" stroke-width="1.3" />
<line x1="2886.1" y1="629.1" x2="3556.2" y2="738.3" stroke="#2d6a10" stroke-width="1.3" />
<line x1="2219.7" y1="667.5" x2="2884.8" y2="548.8" stroke="#2d6a10" stroke-width="1.3" />
<line x1="2884.8" y1="548.8" x2="3557" y2="645.7" stroke="#2d6a10" stroke-width="1.3" />
<line x1="2215.9" y1="574.2" x2="2883.6" y2="468" stroke="#2d6a10" stroke-width="1.3" />
<line x1="2883.6" y1="468" x2="3557.9" y2="552.5" stroke="#2d6a10" stroke-width="1.3" />
<line x1="2212.1" y1="480.2" x2="2882.3" y2="386.6" stroke="#2d6a10" stroke-width="1.3" />
<line x1="2882.3" y1="386.6" x2="3558.7" y2="458.6" stroke="#2d6a10" stroke-width="1.3" />
<line x1="2208.3" y1="385.6" x2="2881" y2="304.8" stroke="#2d6a10" stroke-width="1.3" />
<line x1="2881" y1="304.8" x2="3559.6" y2="364" stroke="#2d6a10" stroke-width="1.3" />
<line x1="2204.4" y1="290.3" x2="2879.7" y2="222.6" stroke="#2d6a10" stroke-width="1.3" />
<line x1="2879.7" y1="222.6" x2="3560.4" y2="268.8" stroke="#2d6a10" stroke-width="1.3" />
<line x1="2200.6" y1="194.4" x2="2878.4" y2="139.8" stroke="#2d6a10" stroke-width="1.3" />
<line x1="2878.4" y1="139.8" x2="3561.3" y2="173" stroke="#2d6a10" stroke-width="1.3" />
<line x1="2196.6" y1="97.8" x2="2877.1" y2="56.5" stroke="#2d6a10" stroke-width="1.3" />
<line x1="2877.1" y1="56.5" x2="3562.2" y2="76.4" stroke="#2d6a10" stroke-width="1.3" />
</g>
<g clip-path="url(#clipR)" opacity="0.75">
<line x1="2232.6" y1="989.1" x2="2889.2" y2="827.9" stroke="#0c2a04" stroke-width="1.4" />
<line x1="2889.2" y1="827.9" x2="3554.1" y2="967.1" stroke="#0c2a04" stroke-width="1.4" />
<line x1="2889.2" y1="827.9" x2="2876.4" y2="14.7" stroke="#0c2a04" stroke-width="1.4" />
</g>
<circle cx="2978.4" cy="946" r="13.5" fill="url(#rb2)"/>
<circle cx="2978.4" cy="949.2" r="12.8" fill="url(#db)"/>
<circle cx="3029.3" cy="988" r="13.7" fill="url(#db)"/>
<circle cx="2987.3" cy="1069" r="14.6" fill="url(#db)"/>
<circle cx="2918.3" cy="202.2" r="11.7" fill="url(#rb2)"/>
<circle cx="3006.1" cy="695.3" r="12.2" fill="url(#rb2)"/>
<circle cx="2984.8" cy="803.2" r="13" fill="url(#rb2)"/>
<circle cx="3029.7" cy="831.9" r="13" fill="url(#rb2)"/>
<circle cx="3038.5" cy="819.6" r="13" fill="url(#rb2)"/>
<circle cx="3062.5" cy="864.1" r="13" fill="url(#rb2)"/>
<circle cx="2876.5" cy="1055.8" r="15.2" fill="url(#rb2)"/>
<circle cx="2943.3" cy="1047" r="15" fill="url(#rb2)"/>
<circle cx="2961.3" cy="1053.8" r="15" fill="url(#rb2)"/>
<line x1="2900.2" y1="1183.9" x2="2882.9" y2="71.7" stroke="#111" stroke-width="1.7" stroke-dasharray="1.9 7.6"/>
<line x1="2882.9" y1="71.7" x2="2194.7" y2="49.2" stroke="#111" stroke-width="1.7" stroke-dasharray="1.9 7.6"/>
<line x1="2882.9" y1="71.7" x2="3562.6" y2="27.9" stroke="#111" stroke-width="1.7" stroke-dasharray="1.9 7.6"/>
<line x1="2900.2" y1="1183.9" x2="2232.6" y2="989.1" stroke="#0a0a0a" stroke-width="3.5" stroke-linecap="square"/>
<line x1="2900.2" y1="1183.9" x2="3554.1" y2="967.1" stroke="#0a0a0a" stroke-width="3.5" stroke-linecap="square"/>
<line x1="2232.6" y1="989.1" x2="2194.7" y2="49.2" stroke="#0a0a0a" stroke-width="3.5" stroke-linecap="square"/>
<line x1="2822.5" y1="1161.2" x2="2838.8" y2="1156" stroke="#0a0a0a" stroke-width="3.5" />
<line x1="2675.4" y1="1118.3" x2="2691.6" y2="1113.4" stroke="#0a0a0a" stroke-width="3.5" />
<line x1="2538.2" y1="1078.2" x2="2554.4" y2="1073.7" stroke="#0a0a0a" stroke-width="3.5" />
<line x1="2410" y1="1040.8" x2="2426.1" y2="1036.6" stroke="#0a0a0a" stroke-width="3.5" />
<line x1="2289.9" y1="1005.8" x2="2305.9" y2="1001.8" stroke="#0a0a0a" stroke-width="3.5" />
<line x1="3065.9" y1="1128.9" x2="3049.4" y2="1124.5" stroke="#0a0a0a" stroke-width="3.5" />
<line x1="3218.9" y1="1078.2" x2="3202.5" y2="1074.1" stroke="#0a0a0a" stroke-width="3.5" />
<line x1="3360.7" y1="1031.2" x2="3344.4" y2="1027.5" stroke="#0a0a0a" stroke-width="3.5" />
<line x1="3492.4" y1="987.6" x2="3476.3" y2="984.1" stroke="#0a0a0a" stroke-width="3.5" />
<line x1="2230.8" y1="943.6" x2="2249.8" y2="943.6" stroke="#0a0a0a" stroke-width="4.1" />
<line x1="2227.1" y1="852.2" x2="2246.1" y2="852.2" stroke="#0a0a0a" stroke-width="4.1" />
<line x1="2223.4" y1="760.1" x2="2242.4" y2="760.1" stroke="#0a0a0a" stroke-width="4.1" />
<line x1="2219.7" y1="667.5" x2="2238.7" y2="667.5" stroke="#0a0a0a" stroke-width="4.1" />
<line x1="2215.9" y1="574.2" x2="2234.9" y2="574.2" stroke="#0a0a0a" stroke-width="4.1" />
<line x1="2212.1" y1="480.2" x2="2231.1" y2="480.2" stroke="#0a0a0a" stroke-width="4.1" />
<line x1="2208.3" y1="385.6" x2="2227.3" y2="385.6" stroke="#0a0a0a" stroke-width="4.1" />
<line x1="2204.4" y1="290.3" x2="2223.4" y2="290.3" stroke="#0a0a0a" stroke-width="4.1" />
<line x1="2200.6" y1="194.4" x2="2219.6" y2="194.4" stroke="#0a0a0a" stroke-width="4.1" />
<line x1="2196.6" y1="97.8" x2="2215.6" y2="97.8" stroke="#0a0a0a" stroke-width="4.1" />
<text transform="translate(207.7 1051.1) scale(0.965 1)" font-size="67.7">3.0</text>
<text transform="translate(318.4 1085.2) scale(0.965 1)" font-size="67.7">2.5</text>
<text transform="translate(435.5 1120.0) scale(0.965 1)" font-size="67.7">2.0</text>
<text transform="translate(559.9 1160.7) scale(0.965 1)" font-size="67.7">1.5</text>
<text transform="translate(690.3 1198.8) scale(0.965 1)" font-size="67.7">1.0</text>
<text transform="translate(883.2 1249.5) scale(0.965 1)" font-size="67.7">0.5</text>
<text transform="translate(1117.2 1178.4) scale(0.965 1)" font-size="67.7">0.6</text>
<text transform="translate(1268.5 1126.3) scale(0.965 1)" font-size="67.7">0.7</text>
<text transform="translate(1405.5 1079.2) scale(0.965 1)" font-size="67.7">0.8</text>
<text transform="translate(1532.8 1036.0) scale(0.965 1)" font-size="67.7">0.9</text>
<text transform="translate(1611.3 55.0) scale(0.965 1)" font-size="67.7">1.3</text>
<text transform="translate(1611.3 190.1) scale(0.965 1)" font-size="67.7">1.2</text>
<text transform="translate(1608.3 326.5) scale(0.965 1)" font-size="67.7">1.1</text>
<text transform="translate(1603.3 463.5) scale(0.965 1)" font-size="67.7">1.0</text>
<text transform="translate(1599.0 595.0) scale(0.965 1)" font-size="67.7">0.9</text>
<text transform="translate(1594.1 727.6) scale(0.965 1)" font-size="67.7">0.8</text>
<text transform="translate(1592.4 860.5) scale(0.965 1)" font-size="67.7">0.7</text>
<text transform="translate(1589.7 987.4) scale(0.965 1)" font-size="67.7">0.6</text>
<text transform="translate(2179.7 1058.8) scale(0.965 1)" font-size="67.7">0.9</text>
<text transform="translate(2295.2 1096.9) scale(0.965 1)" font-size="67.7">0.8</text>
<text transform="translate(2420.3 1133.5) scale(0.965 1)" font-size="67.7">0.7</text>
<text transform="translate(2554.9 1172.1) scale(0.965 1)" font-size="67.7">0.6</text>
<text transform="translate(2709.7 1217.8) scale(0.965 1)" font-size="67.7">0.5</text>
<text transform="translate(2897.8 1248.6) scale(0.965 1)" font-size="67.7">2.5</text>
<text transform="translate(3093.9 1189.5) scale(0.965 1)" font-size="67.7">2.0</text>
<text transform="translate(3241.3 1136.1) scale(0.965 1)" font-size="67.7">1.5</text>
<text transform="translate(3390.9 1092.5) scale(0.965 1)" font-size="67.7">1.0</text>
<text transform="translate(3524.4 1050.0) scale(0.965 1)" font-size="67.7">0.5</text>
<text transform="translate(2077.1 963.3) scale(0.965 1)" font-size="67.7">0.24</text>
<text transform="translate(2075.7 871.4) scale(0.965 1)" font-size="67.7">0.25</text>
<text transform="translate(2072.1 778.8) scale(0.965 1)" font-size="67.7">0.26</text>
<text transform="translate(2069.1 685.5) scale(0.965 1)" font-size="67.7">0.27</text>
<text transform="translate(2066.7 591.7) scale(0.965 1)" font-size="67.7">0.28</text>
<text transform="translate(2063.8 497.2) scale(0.965 1)" font-size="67.7">0.29</text>
<text transform="translate(2060.6 402.0) scale(0.965 1)" font-size="67.7">0.30</text>
<text transform="translate(2058.9 306.2) scale(0.965 1)" font-size="67.7">0.31</text>
<text transform="translate(2055.5 209.7) scale(0.965 1)" font-size="67.7">0.32</text>
<text transform="translate(2051.3 112.5) scale(0.965 1)" font-size="67.7">0.33</text>
<text transform="translate(236.6 168.3) scale(0.965 1)" font-size="67.7" font-style="italic">e</text>
<text transform="translate(267.0 181.9) scale(0.965 1)" font-size="40.5">max</text>
<text transform="translate(331.3 168.3) scale(1.0808 1)" font-size="67.7">=</text>
<text transform="translate(374.5 168.3) scale(0.965 1)" font-size="67.7">1.15</text>
<text transform="translate(490.5 168.3) scale(0.89745 1)" font-size="67.7" font-style="italic">w</text>
<text transform="translate(534.6 145.5) scale(0.965 1)" font-size="39.5">0.8</text>
<text transform="translate(578.4 168.3) scale(1.0808 1)" font-size="67.7">+</text>
<text transform="translate(618.7 168.3) scale(0.965 1)" font-size="67.7">0.01</text>
<text transform="translate(735.4 168.3) scale(0.965 1)" font-size="67.7" font-style="italic">d</text>
<text transform="translate(775.2 133.6) scale(0.965 1)" font-size="39.5">3.5</text>
<text transform="translate(768.9 182.0) scale(0.965 1)" font-size="38">50</text>
<text transform="translate(400.1 247.6) scale(0.902275 1)" font-size="67.7" font-style="italic">R</text>
<text transform="translate(436.8 225.0) scale(0.965 1)" font-size="39.5">2</text>
<text transform="translate(454.6 247.6) scale(1.0808 1)" font-size="67.7">=</text>
<text transform="translate(498.0 247.6) scale(0.965 1)" font-size="67.7">0.95</text>
<text transform="translate(2862.0 153.4) scale(0.965 1)" font-size="67.7" font-style="italic">e</text>
<text transform="translate(2893.2 166.6) scale(0.965 1)" font-size="39.5">min</text>
<text transform="translate(2949.1 153.4) scale(1.0808 1)" font-size="67.7">=</text>
<text transform="translate(2989.3 153.4) scale(0.965 1)" font-size="67.7">0.19</text>
<text transform="translate(3108.5 153.4) scale(0.89745 1)" font-size="67.7" font-style="italic">w</text>
<text transform="translate(3149.2 130.6) scale(0.965 1)" font-size="39.5">12.74</text>
<text transform="translate(3234.8 153.4) scale(1.0808 1)" font-size="67.7">+</text>
<text transform="translate(3274.4 153.4) scale(0.965 1)" font-size="67.7">0.25</text>
<text transform="translate(3389.5 153.4) scale(0.965 1)" font-size="67.7" font-style="italic">d</text>
<text transform="translate(3437.8 120.2) scale(0.965 1)" font-size="39.5">−0.024</text>
<text transform="translate(3425.0 167.0) scale(0.965 1)" font-size="38">50</text>
<text transform="translate(3038.2 232.6) scale(0.9263999999999999 1)" font-size="67.7" font-style="italic">R</text>
<text transform="translate(3079.8 209.2) scale(0.965 1)" font-size="39.5">2</text>
<text transform="translate(3096.1 232.6) scale(1.0808 1)" font-size="67.7">=</text>
<text transform="translate(3136.5 232.6) scale(0.965 1)" font-size="67.7">0.98</text>
<text transform="translate(649.6 1407.8) scale(1.0345499999999999 1)" font-size="65">(a) Fitting of</text>
<text transform="translate(1007.5 1407.8) scale(1.045 1)" font-size="65" font-style="italic">e</text>
<text transform="translate(1036.7 1421.0) scale(1.045 1)" font-size="37">max</text>
<text transform="translate(1121.3 1407.8) scale(1.045 1)" font-size="65">to</text>
<text transform="translate(1190.4 1407.8) scale(1.045 1)" font-size="65" font-style="italic">w</text>
<text transform="translate(1233.4 1407.8) scale(1.045 1)" font-size="65">,</text>
<text transform="translate(1266.7 1407.8) scale(1.045 1)" font-size="65" font-style="italic">d</text>
<text transform="translate(1299.4 1421.5) scale(1.045 1)" font-size="36.5">50</text>
<text transform="translate(2404.6 1407.8) scale(1.0293249999999998 1)" font-size="65">(b) Fitting of</text>
<text transform="translate(2766.5 1407.8) scale(1.045 1)" font-size="65" font-style="italic">e</text>
<text transform="translate(2795.8 1421.0) scale(1.045 1)" font-size="37">min</text>
<text transform="translate(2873.5 1407.8) scale(1.045 1)" font-size="65">to</text>
<text transform="translate(2943.1 1407.8) scale(1.045 1)" font-size="65" font-style="italic">w</text>
<text transform="translate(2986.2 1407.8) scale(1.045 1)" font-size="65">,</text>
<text transform="translate(3018.8 1407.8) scale(1.045 1)" font-size="65" font-style="italic">d</text>
<text transform="translate(3052.2 1421.5) scale(1.045 1)" font-size="36.5">50</text>
<g transform="translate(1750,599) rotate(-90) scale(1 0.965)"><text><tspan x="0" y="0" font-size="67.7" font-style="italic">e</tspan><tspan x="29" y="17" font-size="40.5">max</tspan></text></g>
<g transform="translate(1978,597) rotate(-90) scale(1 0.965)"><text><tspan x="0" y="0" font-size="67.7" font-style="italic">e</tspan><tspan x="29" y="17" font-size="39.5">min</tspan></text></g>
<g transform="translate(1408,1173) rotate(-18)"><text font-size="67.7" font-style="italic" text-anchor="middle">w</text></g>
<g transform="translate(2526,1246) rotate(16)"><text font-size="67.7" font-style="italic" text-anchor="middle">w</text></g>
<g transform="translate(481,1201) rotate(20)"><text><tspan x="0" y="0" font-size="67.7" font-style="italic">d</tspan><tspan x="31" y="16" font-size="36" font-style="italic">50</tspan></text></g>
<g transform="translate(3240,1271) rotate(-17) scale(0.82 1)"><text><tspan x="0" y="0" font-size="67.7" font-style="italic">d</tspan><tspan x="37" y="6" font-size="36">50</tspan></text></g>
<line x1="540" y1="312.8" x2="674" y2="428.6" stroke="#f4521e" stroke-width="2.9"/>
<line x1="3146.3" y1="267.4" x2="2964.6" y2="367.8" stroke="#f45a26" stroke-width="1.9"/>
</svg></body></html>
